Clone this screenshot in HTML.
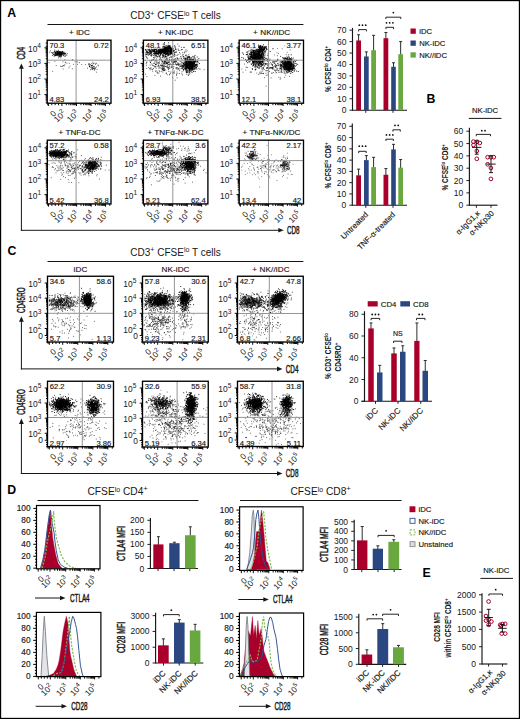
<!DOCTYPE html>
<html><head><meta charset="utf-8"><style>
html,body{margin:0;padding:0;background:#fff;}
svg{display:block;font-family:"Liberation Sans", sans-serif;}
text.t{stroke:#161616;stroke-width:0.15px;}
</style></head><body>
<svg width="520" height="719" viewBox="0 0 520 719">
<rect width="520" height="719" fill="#fff"/>
<rect x="0.55" y="0.55" width="518.9" height="717.9" fill="none" stroke="#000" stroke-width="1.25"/>
<path d="M58.2 53.4h.9M59.5 52.5h.9M57.3 53.8h.9M57.1 53.0h.9M60.5 54.1h.9M57.0 53.0h.9M56.2 53.0h.9M59.6 53.2h.9M61.2 53.1h.9M57.0 53.3h.9M58.2 52.6h.9M58.2 53.5h.9M54.9 55.7h.9M62.8 53.1h.9M64.7 53.4h.9M61.6 51.9h.9M59.0 53.8h.9M53.8 54.5h.9M54.8 52.5h.9M58.8 54.6h.9M57.3 51.3h.9M59.2 52.6h.9M59.8 52.8h.9M59.6 52.0h.9M59.9 54.6h.9M52.0 53.0h.9M60.0 53.5h.9M63.4 53.1h.9M59.6 53.9h.9M57.0 53.1h.9M58.1 53.6h.9M58.2 52.9h.9M64.3 53.2h.9M59.6 51.5h.9M55.9 54.5h.9M58.7 52.0h.9M61.9 53.9h.9M56.9 54.6h.9M52.9 54.6h.9M59.8 55.1h.9M57.4 52.0h.9M59.9 53.6h.9M60.3 53.1h.9M59.6 54.1h.9M55.4 53.0h.9M58.7 53.3h.9M56.8 53.3h.9M54.9 52.1h.9M61.0 54.0h.9M54.7 54.4h.9M61.1 53.0h.9M58.7 55.6h.9M60.8 53.5h.9M57.2 53.7h.9M57.2 52.1h.9M58.5 54.4h.9M57.7 52.4h.9M61.1 53.8h.9M59.7 54.7h.9M58.9 53.9h.9M60.3 52.7h.9M57.7 54.6h.9M57.1 51.8h.9M59.1 52.5h.9M56.3 53.8h.9M55.1 53.1h.9M57.8 53.0h.9M55.7 54.6h.9M62.7 53.7h.9M57.5 52.3h.9M56.6 53.6h.9M58.3 52.0h.9M58.4 53.6h.9M55.2 55.3h.9M56.9 51.9h.9M59.1 53.2h.9M57.2 52.9h.9M57.2 53.7h.9M55.2 55.2h.9M57.7 51.2h.9M60.5 53.7h.9M58.7 53.0h.9M58.9 53.7h.9M59.3 52.6h.9M58.1 53.4h.9M60.9 54.2h.9M59.1 52.3h.9M58.2 53.6h.9M59.7 53.7h.9M59.4 54.7h.9M54.0 55.7h.9M57.4 55.4h.9M61.2 54.0h.9M54.9 52.8h.9M55.8 54.0h.9M58.8 52.7h.9M55.1 53.0h.9M58.8 52.7h.9M58.0 53.4h.9M55.8 51.4h.9M55.6 54.9h.9M58.2 53.1h.9M57.7 53.4h.9M56.7 55.1h.9M60.9 54.3h.9M59.7 53.5h.9M59.6 53.2h.9M61.3 55.6h.9M57.8 54.0h.9M61.0 54.0h.9M60.2 53.6h.9M59.2 55.1h.9M60.3 54.5h.9M58.9 56.8h.9M64.4 53.2h.9M61.2 52.5h.9M61.9 52.6h.9M60.8 54.8h.9M58.8 53.1h.9M60.0 55.1h.9M58.9 51.9h.9M60.0 53.9h.9M59.2 56.4h.9M58.9 54.3h.9M57.1 51.8h.9M55.0 52.7h.9M62.3 51.5h.9M59.0 53.5h.9M63.4 52.1h.9M56.7 54.1h.9M57.4 52.2h.9M60.0 53.8h.9M57.4 54.6h.9M60.5 54.9h.9M61.0 53.1h.9M55.2 52.6h.9M59.6 51.8h.9M54.4 53.1h.9M64.6 53.7h.9M61.7 52.3h.9" stroke="#000" stroke-width=".9" stroke-opacity="1.00"/>
<path d="M61.1 56.7h.9M64.0 54.4h.9M60.4 56.5h.9M59.0 54.9h.9M60.0 52.5h.9M58.2 53.9h.9M50.9 52.6h.9M60.0 52.3h.9M63.7 56.0h.9M57.6 55.5h.9M60.2 55.9h.9M56.9 52.2h.9M54.1 51.4h.9M61.4 51.6h.9M64.9 53.9h.9M51.9 53.3h.9M66.7 53.4h.9M61.5 53.4h.9M52.1 55.5h.9M58.0 50.3h.9M58.6 55.7h.9M54.7 55.0h.9M63.2 55.1h.9M53.9 51.4h.9M59.9 56.8h.9M59.0 52.8h.9M61.9 54.1h.9M54.2 50.0h.9M55.7 55.1h.9M56.0 52.7h.9M62.6 54.4h.9M54.5 52.7h.9M56.1 55.6h.9M64.6 56.6h.9M53.6 56.2h.9M49.2 52.2h.9M59.8 53.0h.9M58.3 54.1h.9M59.1 52.6h.9M62.5 53.8h.9M53.2 53.9h.9M62.1 51.6h.9M62.2 52.8h.9M61.6 54.7h.9M66.5 54.9h.9M55.7 50.9h.9M59.5 53.0h.9M65.7 55.2h.9M63.5 54.0h.9M52.8 52.5h.9M49.9 50.8h.9M63.3 53.7h.9M58.6 54.4h.9M62.9 55.5h.9M56.7 52.9h.9M65.2 55.8h.9M56.2 51.9h.9M61.1 55.0h.9M57.9 57.9h.9M60.4 53.7h.9" stroke="#000" stroke-width=".9" stroke-opacity="0.75"/>
<path d="M92.3 62.2h.9M90.9 65.6h.9M93.3 63.4h.9M93.2 67.0h.9M93.9 70.0h.9M96.0 63.3h.9M89.2 66.4h.9M92.1 67.8h.9M88.2 64.6h.9M95.0 64.3h.9M95.9 72.2h.9M93.6 68.5h.9M95.0 67.8h.9M93.7 66.5h.9M91.8 69.5h.9M91.5 67.6h.9M93.3 66.2h.9M92.1 65.8h.9M89.0 66.1h.9M87.0 68.2h.9M96.5 69.4h.9M91.3 68.5h.9M93.0 68.5h.9M97.8 65.9h.9M90.9 67.0h.9M91.1 65.7h.9M88.9 66.5h.9M90.2 65.0h.9M92.9 63.7h.9M92.4 68.1h.9M93.9 67.8h.9M90.1 69.7h.9M88.7 65.0h.9M92.7 68.8h.9M89.3 64.0h.9M89.0 66.5h.9M89.5 64.5h.9M94.9 68.6h.9M94.2 68.7h.9M91.3 63.4h.9M89.8 67.4h.9M92.1 67.9h.9M91.7 69.6h.9M94.3 69.7h.9M94.7 63.2h.9M97.6 65.0h.9M88.4 63.5h.9M91.1 65.6h.9M96.2 66.9h.9M91.7 66.0h.9" stroke="#000" stroke-width=".9" stroke-opacity="0.70"/>
<path d="M92.1 65.1h.9M74.6 61.9h.9M72.0 60.3h.9M68.9 63.3h.9M62.5 61.8h.9M66.5 63.2h.9M65.2 62.2h.9M64.4 64.7h.9M63.7 65.9h.9M62.7 69.0h.9M60.3 58.0h.9M48.6 62.6h.9M63.3 65.5h.9M64.3 59.7h.9M77.1 62.0h.9M77.1 64.4h.9M79.0 62.6h.9M72.2 59.7h.9M64.9 62.7h.9M69.4 66.2h.9M60.8 66.5h.9M54.5 61.4h.9M68.5 67.9h.9M73.0 64.4h.9M52.2 71.3h.9M71.9 68.7h.9M81.3 64.5h.9M60.1 66.1h.9M61.9 66.5h.9M62.6 65.7h.9M62.6 52.7h.9M76.0 61.4h.9M85.1 64.6h.9M55.8 65.5h.9M57.8 56.4h.9" stroke="#000" stroke-width=".9" stroke-opacity="0.65"/>
<path d="M76.1 40.2L76.1 103.2" stroke="#959595" stroke-width="1.0" fill="none"/>
<path d="M47.2 60.2L111 60.2" stroke="#959595" stroke-width="1.0" fill="none"/>
<rect x="49" y="42.17" width="17.11" height="6.46" fill="#fff"/>
<text x="49.5" y="48.1" font-size="7.6" text-anchor="start" font-weight="normal" fill="#161616" class="t">70.3</text>
<rect x="92.19" y="42.17" width="17.11" height="6.46" fill="#fff"/>
<text x="108.8" y="48.1" font-size="7.6" text-anchor="end" font-weight="normal" fill="#161616" class="t">0.72</text>
<rect x="49" y="96.37" width="17.11" height="6.46" fill="#fff"/>
<text x="49.5" y="102.3" font-size="7.6" text-anchor="start" font-weight="normal" fill="#161616" class="t">4.83</text>
<rect x="92.19" y="96.37" width="17.11" height="6.46" fill="#fff"/>
<text x="108.8" y="102.3" font-size="7.6" text-anchor="end" font-weight="normal" fill="#161616" class="t">24.2</text>
<rect x="47.2" y="40.2" width="63.8" height="63" fill="none" stroke="#000" stroke-width="1.35"/>
<text x="41" y="51.8" font-size="8.4" text-anchor="end" font-weight="normal" fill="#161616">10<tspan dy="-3.53" font-size="6.55">4</tspan></text>
<text x="41" y="67.4" font-size="8.4" text-anchor="end" font-weight="normal" fill="#161616">10<tspan dy="-3.53" font-size="6.55">3</tspan></text>
<text x="41" y="83" font-size="8.4" text-anchor="end" font-weight="normal" fill="#161616">10<tspan dy="-3.53" font-size="6.55">2</tspan></text>
<text x="41" y="98.6" font-size="8.4" text-anchor="end" font-weight="normal" fill="#161616">10<tspan dy="-3.53" font-size="6.55">1</tspan></text>
<path d="M47.2 47.8h-2.8M47.2 58.7h-1.5M47.2 55.96h-1.5M47.2 54.01h-1.5M47.2 52.5h-1.5M47.2 51.26h-1.5M47.2 50.22h-1.5M47.2 49.31h-1.5M47.2 48.51h-1.5M47.2 63.4h-2.8M47.2 74.3h-1.5M47.2 71.56h-1.5M47.2 69.61h-1.5M47.2 68.1h-1.5M47.2 66.86h-1.5M47.2 65.82h-1.5M47.2 64.91h-1.5M47.2 64.11h-1.5M47.2 79h-2.8M47.2 89.9h-1.5M47.2 87.16h-1.5M47.2 85.21h-1.5M47.2 83.7h-1.5M47.2 82.46h-1.5M47.2 81.42h-1.5M47.2 80.51h-1.5M47.2 79.71h-1.5M47.2 94.6h-2.8M47.2 102.76h-1.5M47.2 100.81h-1.5M47.2 99.3h-1.5M47.2 98.06h-1.5M47.2 97.02h-1.5M47.2 96.11h-1.5M47.2 95.31h-1.5M47.2 43.1h-1.5M47.2 46.29h-1.5" stroke="#000" stroke-width=".95"/>
<path d="M48.4 103.2v2.8M61.9 103.2v2.8M76.5 103.2v2.8M91.1 103.2v2.8M105.4 103.2v2.8M66.3 103.2v2M68.87 103.2v2M70.69 103.2v2M72.1 103.2v2M73.26 103.2v2M74.24 103.2v2M75.09 103.2v2M75.83 103.2v2M80.9 103.2v2M83.47 103.2v2M85.29 103.2v2M86.7 103.2v2M87.86 103.2v2M88.84 103.2v2M89.69 103.2v2M90.43 103.2v2M95.4 103.2v2M97.92 103.2v2M99.71 103.2v2M101.1 103.2v2M102.23 103.2v2M103.18 103.2v2M104.01 103.2v2M104.75 103.2v2M51.78 103.2v2M55.15 103.2v2M58.53 103.2v2M47.8 103.2v2M109.7 103.2v2" stroke="#000" stroke-width=".95"/>
<text transform="translate(56.8,114) rotate(-45)" font-size="8.4" text-anchor="end" font-weight="normal" fill="#161616">0</text>
<text transform="translate(66.4,113.8) rotate(-45)" font-size="8.4" text-anchor="end" font-weight="normal" fill="#161616">10<tspan dy="-3.53" font-size="6.22">2</tspan></text>
<text transform="translate(79.4,113.8) rotate(-45)" font-size="8.4" text-anchor="end" font-weight="normal" fill="#161616">10<tspan dy="-3.53" font-size="6.22">3</tspan></text>
<text transform="translate(94.6,113.8) rotate(-45)" font-size="8.4" text-anchor="end" font-weight="normal" fill="#161616">10<tspan dy="-3.53" font-size="6.22">4</tspan></text>
<text transform="translate(109.1,113.8) rotate(-45)" font-size="8.4" text-anchor="end" font-weight="normal" fill="#161616">10<tspan dy="-3.53" font-size="6.22">5</tspan></text>
<path d="M148.5 51.2h.9M159.8 52.0h.9M160.6 52.6h.9M168.8 50.5h.9M165.8 51.8h.9M148.3 52.9h.9M157.3 53.4h.9M171.8 53.3h.9M154.5 51.1h.9M157.1 53.4h.9M159.7 49.5h.9M173.7 50.7h.9M154.0 49.0h.9M155.1 49.6h.9M172.2 54.1h.9M156.7 48.6h.9M145.7 53.0h.9M158.4 53.6h.9M151.0 55.2h.9M161.9 51.2h.9M166.3 51.8h.9M154.0 49.3h.9M159.5 45.7h.9M151.3 48.7h.9M165.4 53.8h.9M153.9 50.5h.9M171.4 52.0h.9M171.0 51.4h.9M163.5 55.7h.9M154.6 53.3h.9M164.2 47.9h.9M175.0 49.6h.9M164.5 51.5h.9M152.3 50.7h.9M166.7 48.6h.9M158.8 46.2h.9M151.9 46.0h.9M153.2 51.7h.9M152.0 50.2h.9M161.9 52.2h.9M168.2 53.9h.9M153.5 53.6h.9M166.0 51.2h.9M153.2 49.8h.9M150.9 53.0h.9M153.8 51.9h.9M150.8 49.3h.9M176.6 55.3h.9M165.2 51.4h.9M149.5 54.7h.9M146.4 51.4h.9M159.4 47.8h.9M157.0 54.0h.9M164.9 47.3h.9M168.8 48.6h.9M156.9 51.1h.9M148.6 54.1h.9M158.1 52.3h.9M145.2 49.4h.9M172.5 51.4h.9M155.8 51.7h.9M149.9 47.3h.9M146.5 51.2h.9M164.6 52.6h.9M150.3 55.2h.9M148.3 50.0h.9M162.2 54.7h.9M164.1 53.2h.9M171.7 48.6h.9M163.5 51.0h.9M166.4 50.1h.9M167.8 55.5h.9M181.0 49.7h.9M154.0 52.7h.9M170.7 49.9h.9M171.0 49.9h.9M172.5 51.2h.9M166.7 47.0h.9M145.6 50.7h.9M166.2 51.6h.9M157.8 51.8h.9M155.3 53.1h.9M163.4 52.6h.9M162.0 50.3h.9M149.3 45.0h.9M172.2 51.7h.9M161.8 52.6h.9M150.8 56.1h.9M160.8 50.8h.9M158.9 50.6h.9M161.2 50.8h.9M149.4 50.6h.9M149.9 47.6h.9M162.3 50.7h.9M163.6 52.0h.9M166.9 48.7h.9M151.1 49.0h.9M152.8 49.7h.9M149.1 47.9h.9M166.9 48.8h.9M156.4 50.7h.9M153.3 53.6h.9M155.9 52.9h.9M146.0 54.5h.9M155.7 56.6h.9M167.4 51.6h.9M155.3 47.9h.9M162.4 51.6h.9M168.5 52.7h.9M165.5 52.7h.9M157.2 52.5h.9M151.2 53.2h.9M150.7 50.5h.9M165.3 52.3h.9M157.7 51.3h.9M156.2 51.4h.9M161.9 50.4h.9M154.1 51.3h.9M171.7 49.5h.9M158.9 51.3h.9M159.0 50.8h.9M178.7 46.1h.9M155.5 48.6h.9M157.6 50.6h.9M160.5 50.8h.9M158.5 53.2h.9M154.6 49.5h.9M150.0 53.2h.9M158.4 47.3h.9M162.1 50.0h.9M161.8 51.8h.9M169.2 53.9h.9M171.1 53.4h.9M171.7 51.5h.9M158.2 54.7h.9M158.8 48.3h.9M159.6 51.7h.9M151.1 51.9h.9M159.2 52.6h.9M166.2 50.4h.9M150.7 52.2h.9M158.6 55.9h.9M160.2 49.9h.9M154.8 46.6h.9M172.4 53.8h.9M162.1 50.1h.9M156.8 53.2h.9M168.7 54.5h.9M152.9 47.8h.9M153.6 50.2h.9M163.9 52.4h.9M158.4 51.1h.9M150.2 51.1h.9M156.1 53.4h.9M153.4 50.8h.9M167.5 55.1h.9M158.2 49.4h.9M158.1 54.4h.9M172.4 49.9h.9M146.0 52.6h.9M149.0 54.2h.9M155.9 51.4h.9M149.6 47.5h.9M152.7 51.6h.9M156.1 52.9h.9M165.9 48.5h.9M155.8 53.3h.9M164.8 53.2h.9M173.0 50.9h.9M161.3 51.2h.9M175.7 49.3h.9M159.8 50.4h.9M174.9 47.0h.9M157.3 48.9h.9M147.8 55.3h.9M151.5 50.4h.9M159.5 51.7h.9M155.8 49.7h.9M163.2 52.9h.9M153.3 51.7h.9M164.4 48.6h.9M150.6 52.7h.9M171.1 52.6h.9M167.3 51.6h.9M149.4 52.4h.9M173.9 52.6h.9M170.4 52.3h.9M154.4 53.6h.9M161.2 50.2h.9M150.9 51.4h.9M149.3 49.7h.9M156.0 50.6h.9M149.1 49.1h.9M179.6 53.9h.9M167.5 48.4h.9M160.4 49.0h.9M162.5 50.9h.9M157.0 45.5h.9M170.0 52.7h.9M162.9 51.3h.9M157.5 53.0h.9M154.8 47.7h.9M170.2 50.4h.9M173.8 52.9h.9M155.4 54.3h.9M153.5 45.5h.9M153.2 51.1h.9M146.6 51.3h.9M158.1 50.1h.9M155.3 51.3h.9M159.9 51.5h.9M152.6 51.2h.9M156.6 53.7h.9M157.9 53.2h.9M154.2 53.9h.9M163.9 51.1h.9M159.2 52.1h.9M171.6 49.6h.9M160.5 50.4h.9M145.5 52.7h.9M164.7 56.0h.9M147.6 49.8h.9M149.7 50.3h.9M163.4 51.6h.9M154.3 51.6h.9M153.2 50.7h.9M154.3 49.4h.9M154.2 50.1h.9M167.4 53.8h.9M160.8 50.2h.9M175.7 52.5h.9M158.3 47.7h.9M160.4 49.3h.9M173.6 50.3h.9M158.8 46.3h.9M167.7 50.0h.9M169.3 52.5h.9M156.3 51.5h.9M151.4 55.2h.9M158.2 50.1h.9M157.4 50.8h.9M163.1 50.2h.9M160.8 51.4h.9M157.8 50.5h.9M168.8 48.4h.9M146.5 51.3h.9M159.6 53.6h.9M163.4 53.3h.9M166.3 53.9h.9M149.6 51.6h.9M145.4 56.0h.9M181.7 49.5h.9M155.6 52.2h.9M167.3 55.2h.9M155.0 52.5h.9M164.1 51.1h.9M149.4 50.7h.9M163.6 53.1h.9M160.7 48.8h.9M159.0 51.2h.9M165.5 53.0h.9M152.2 49.7h.9M155.3 55.5h.9M165.8 49.0h.9M168.0 54.2h.9M146.6 49.3h.9M157.0 48.7h.9M145.2 54.3h.9M177.7 49.1h.9M156.0 52.9h.9M162.8 54.6h.9M164.5 51.1h.9M147.3 52.4h.9M148.2 52.9h.9M149.8 53.6h.9M173.2 51.0h.9M167.2 51.0h.9M161.6 52.7h.9M159.8 55.2h.9M159.9 54.3h.9M166.4 50.5h.9M159.5 56.1h.9M161.4 51.4h.9M168.7 46.2h.9M155.6 53.5h.9M160.3 52.9h.9M159.2 49.1h.9M154.9 53.5h.9M183.5 47.4h.9M155.0 53.1h.9M156.1 55.3h.9M162.9 50.7h.9M164.4 52.7h.9M166.4 47.8h.9M166.9 50.8h.9M160.7 51.7h.9M161.0 49.5h.9M161.5 53.1h.9M174.2 54.4h.9M148.3 52.6h.9M161.4 54.0h.9M157.5 56.7h.9M167.5 48.9h.9M165.3 52.6h.9M169.7 48.9h.9M154.4 53.5h.9M158.2 51.6h.9M163.5 51.1h.9M159.8 50.2h.9M147.2 52.3h.9M160.9 53.1h.9M158.5 51.6h.9M146.4 54.6h.9M159.8 53.8h.9M149.5 53.1h.9M158.6 52.2h.9M145.9 56.9h.9M149.4 50.3h.9M154.1 54.9h.9M165.4 53.9h.9M154.6 51.5h.9M149.8 51.5h.9M167.8 51.7h.9M159.2 52.5h.9M153.6 48.9h.9M147.1 53.7h.9M164.1 50.0h.9M157.0 53.9h.9M149.5 51.7h.9M164.4 49.9h.9M154.8 55.2h.9M155.9 49.8h.9M151.6 52.1h.9M151.9 51.3h.9M164.4 52.2h.9M164.5 52.5h.9M154.3 53.2h.9M171.8 49.9h.9M156.6 56.3h.9M156.4 51.5h.9M154.3 51.7h.9M154.5 57.0h.9M150.4 52.2h.9M158.9 53.1h.9M159.6 48.6h.9M164.6 49.6h.9M171.3 48.1h.9M169.9 53.0h.9M165.5 52.4h.9M166.9 53.7h.9M160.7 52.2h.9M156.8 48.2h.9M169.2 47.5h.9M154.1 47.5h.9M155.6 53.9h.9M149.3 50.9h.9" stroke="#000" stroke-width=".9" stroke-opacity="0.90"/>
<path d="M162.1 50.8h.9M165.0 49.9h.9M169.6 53.9h.9M167.6 48.6h.9M167.9 51.3h.9M168.7 47.9h.9M170.1 49.6h.9M170.4 53.2h.9M169.9 53.0h.9M171.8 49.9h.9M167.4 47.3h.9M168.3 50.8h.9M169.9 46.2h.9M163.9 49.2h.9M159.6 50.7h.9M171.9 53.8h.9M170.9 52.1h.9M172.8 50.6h.9M164.2 53.3h.9M171.0 51.1h.9M169.0 50.0h.9M167.1 48.6h.9M171.1 50.9h.9M165.3 54.4h.9M167.7 50.6h.9M164.3 53.1h.9M166.1 51.5h.9M168.6 51.7h.9M170.0 51.3h.9M170.2 50.6h.9M165.6 50.7h.9M170.6 50.5h.9M165.5 48.3h.9M164.7 49.5h.9M159.7 51.1h.9M167.5 52.9h.9M168.3 48.7h.9M166.3 48.9h.9M165.1 54.8h.9M168.0 48.3h.9M163.3 51.3h.9M167.1 52.3h.9M168.4 46.9h.9M168.5 47.0h.9M164.0 46.8h.9M167.0 53.2h.9M164.6 51.7h.9M162.8 55.8h.9M174.9 48.3h.9M163.3 49.4h.9M164.1 51.8h.9M172.8 48.7h.9M167.0 46.7h.9M160.3 50.4h.9M170.3 47.2h.9M170.5 48.8h.9M168.5 46.8h.9M159.8 48.4h.9M159.6 51.8h.9M165.5 57.6h.9M165.7 48.2h.9M164.8 47.9h.9M167.5 50.9h.9M158.2 52.8h.9M166.3 53.5h.9M164.0 50.6h.9M165.0 47.8h.9M172.5 51.5h.9M166.1 49.1h.9M163.1 50.7h.9M164.3 48.0h.9M165.7 49.2h.9M170.2 47.8h.9M160.8 53.1h.9M165.8 47.6h.9M170.2 52.1h.9M159.7 52.6h.9M169.9 54.3h.9M167.3 48.4h.9M165.8 53.9h.9M165.1 53.2h.9M162.6 49.4h.9M168.0 51.6h.9M168.3 45.3h.9M170.3 52.6h.9M169.5 47.4h.9M170.5 49.1h.9M162.5 50.6h.9M161.5 47.9h.9M168.0 49.9h.9M162.6 55.3h.9M164.8 47.8h.9M164.8 49.6h.9M166.6 50.6h.9M167.1 48.8h.9M163.8 51.8h.9M165.6 49.0h.9M168.1 50.1h.9M163.0 48.9h.9M168.6 51.1h.9M165.5 54.5h.9M165.8 49.5h.9M166.8 48.9h.9M163.0 51.7h.9M167.6 50.2h.9M165.7 45.7h.9M168.2 42.8h.9M168.3 48.5h.9M163.2 46.6h.9M166.8 54.7h.9M169.9 48.0h.9M166.6 47.8h.9M167.8 47.9h.9M164.5 53.4h.9M163.0 48.0h.9M168.9 45.9h.9M158.8 49.1h.9M163.2 51.6h.9M169.0 49.7h.9M170.6 54.1h.9M164.9 47.7h.9M167.9 46.1h.9M161.9 51.0h.9M170.1 48.9h.9M169.0 51.8h.9M163.1 56.7h.9M162.7 51.1h.9M166.6 45.3h.9M170.6 52.0h.9M170.2 48.5h.9M164.6 56.4h.9M169.7 51.3h.9M167.4 53.4h.9M160.1 53.4h.9M169.5 51.4h.9M165.6 51.3h.9M168.8 46.6h.9M163.4 52.8h.9M164.8 50.3h.9M165.6 50.6h.9M171.5 53.2h.9M166.6 47.7h.9M173.2 50.6h.9M168.4 50.9h.9M168.7 47.0h.9M160.3 51.8h.9M170.0 48.2h.9M167.2 49.5h.9M160.7 49.5h.9M168.3 47.4h.9M164.0 48.3h.9M165.4 46.3h.9M170.3 49.8h.9M168.2 54.6h.9M164.2 50.4h.9M170.0 49.2h.9M167.2 51.6h.9M165.8 56.4h.9M166.4 49.3h.9M165.0 47.6h.9M160.7 51.8h.9M165.2 52.2h.9M171.6 47.9h.9M168.8 46.0h.9M171.7 48.8h.9M165.9 47.7h.9M163.7 43.7h.9M161.0 48.1h.9M167.8 52.8h.9M160.4 49.2h.9M163.4 49.8h.9M170.0 49.7h.9M170.9 53.6h.9M160.3 55.1h.9M171.8 50.9h.9M163.6 46.0h.9M170.0 50.8h.9M163.0 49.9h.9M170.1 52.0h.9M159.2 56.1h.9M166.3 52.8h.9M165.0 48.7h.9M166.9 51.0h.9M169.5 46.0h.9M168.1 51.5h.9M165.4 49.2h.9M168.1 50.7h.9M166.4 47.9h.9M166.0 48.3h.9M162.5 46.9h.9M164.6 48.7h.9M163.4 50.5h.9M164.6 52.3h.9M167.9 49.0h.9M161.2 53.0h.9M171.3 52.3h.9M170.0 47.8h.9M169.4 48.6h.9M162.2 50.1h.9M171.2 48.7h.9M162.5 49.9h.9M164.1 42.7h.9M162.1 49.9h.9M165.0 50.0h.9M168.5 46.0h.9M162.2 46.9h.9M167.3 47.2h.9M163.7 49.1h.9M161.2 48.6h.9M163.9 49.3h.9M165.8 50.8h.9M162.0 51.8h.9M162.8 53.3h.9M163.1 52.1h.9M167.3 53.3h.9M166.5 51.9h.9M161.5 51.7h.9M163.5 49.8h.9M161.1 48.1h.9M166.4 51.4h.9M168.2 48.1h.9M162.2 48.8h.9M163.0 49.8h.9M169.2 53.5h.9M162.5 44.1h.9M159.2 50.1h.9M155.6 49.8h.9M167.5 52.1h.9M166.5 47.1h.9M159.3 47.7h.9M166.3 51.0h.9M170.8 50.4h.9M168.4 49.3h.9M162.3 49.9h.9M159.5 50.2h.9M169.5 47.6h.9M158.5 51.0h.9M163.2 50.8h.9M160.9 50.6h.9M166.6 54.6h.9M165.1 50.7h.9M163.7 44.5h.9M174.3 45.7h.9M175.0 52.2h.9M172.0 46.6h.9M171.2 50.2h.9M168.4 55.7h.9M165.8 50.9h.9M161.4 47.8h.9M162.5 49.4h.9M171.1 51.9h.9M170.6 50.2h.9M169.2 51.8h.9M163.7 49.0h.9M166.1 47.8h.9M168.3 47.9h.9M164.5 47.2h.9M165.3 51.1h.9M165.1 49.4h.9" stroke="#000" stroke-width=".9" stroke-opacity="1.00"/>
<path d="M186.0 65.7h.9M188.8 67.6h.9M182.3 65.6h.9M190.3 62.1h.9M185.4 62.2h.9M188.7 60.2h.9M191.3 65.8h.9M190.2 62.3h.9M188.4 64.5h.9M187.0 63.6h.9M190.1 65.2h.9M189.8 69.2h.9M189.5 64.1h.9M186.3 64.9h.9M185.2 61.6h.9M191.8 66.3h.9M193.0 61.2h.9M191.7 68.8h.9M188.2 66.5h.9M185.9 67.4h.9M185.5 59.0h.9M187.9 75.3h.9M186.1 68.7h.9M186.5 67.3h.9M187.3 59.7h.9M190.2 65.3h.9M187.7 67.5h.9M181.6 67.8h.9M188.7 67.4h.9M186.6 66.3h.9M185.9 67.3h.9M194.0 68.8h.9M185.6 60.7h.9M187.5 65.8h.9M189.2 57.9h.9M193.9 61.5h.9M191.6 67.1h.9M189.1 64.1h.9M188.8 68.4h.9M189.7 64.2h.9M188.8 69.9h.9M192.5 65.1h.9M189.2 61.1h.9M189.4 62.4h.9M189.0 63.0h.9M185.2 60.5h.9M192.1 66.1h.9M186.0 71.3h.9M192.8 66.5h.9M191.0 65.0h.9M190.8 64.6h.9M185.8 64.0h.9M188.3 62.4h.9M182.6 66.2h.9M193.4 71.3h.9M191.3 66.2h.9M190.2 69.3h.9M188.0 68.7h.9M192.3 66.1h.9M191.3 65.1h.9M187.1 61.3h.9M188.7 65.2h.9M189.6 63.4h.9M188.4 61.6h.9M190.6 63.9h.9M188.9 65.8h.9M194.0 63.1h.9M188.4 66.8h.9M192.0 62.9h.9M192.3 67.8h.9M185.3 69.9h.9M195.0 67.2h.9M190.4 64.2h.9M187.1 59.9h.9M189.8 58.0h.9M184.6 66.0h.9M186.3 63.0h.9M192.4 68.3h.9M186.3 64.5h.9M188.6 57.8h.9M186.1 64.8h.9M183.8 64.7h.9M187.4 71.2h.9M186.6 60.4h.9M188.4 64.3h.9M185.3 59.4h.9M186.2 59.1h.9M191.9 68.1h.9M187.8 56.7h.9M191.6 66.2h.9M189.7 67.7h.9M187.3 62.1h.9M194.2 62.6h.9M186.9 57.8h.9M190.0 64.4h.9M185.0 67.3h.9M188.3 57.5h.9M190.6 68.9h.9M191.3 63.7h.9M193.0 66.0h.9M189.9 65.8h.9M185.6 68.1h.9M185.3 59.6h.9M188.9 67.8h.9M190.5 64.3h.9M187.9 63.9h.9M189.6 63.3h.9M191.0 62.5h.9M194.0 62.9h.9M189.8 62.7h.9M187.1 60.5h.9M185.9 67.6h.9M183.0 63.5h.9M196.0 64.9h.9M187.9 65.0h.9M183.2 58.1h.9M189.9 66.8h.9M190.1 66.4h.9M187.2 64.8h.9M195.1 60.2h.9M192.5 61.9h.9M184.6 66.7h.9M185.8 67.5h.9M193.6 66.7h.9M187.2 64.1h.9M191.1 68.4h.9M198.4 58.5h.9M188.7 62.0h.9M185.7 72.0h.9M189.0 69.7h.9M189.0 62.2h.9M191.9 63.8h.9M195.0 64.7h.9M185.0 64.2h.9M194.9 60.7h.9M192.5 65.8h.9M193.2 65.2h.9M188.5 61.7h.9M187.6 64.2h.9M190.4 68.0h.9M189.3 70.5h.9M190.1 62.0h.9M191.2 62.2h.9M192.2 60.3h.9M183.5 65.0h.9M190.1 62.6h.9M192.1 63.1h.9M199.5 69.1h.9M194.7 64.7h.9M190.0 65.1h.9M190.6 59.7h.9M194.3 57.6h.9M185.0 60.4h.9M187.1 67.7h.9M187.3 63.0h.9M185.4 59.0h.9M182.5 67.4h.9M189.7 62.3h.9M192.3 66.3h.9M185.7 62.4h.9M192.3 69.5h.9M188.1 68.1h.9M193.7 68.6h.9M189.5 67.4h.9M192.0 63.1h.9M189.9 63.9h.9M184.5 64.9h.9M188.4 61.2h.9M191.6 68.9h.9M191.7 63.0h.9M185.2 67.9h.9M186.5 69.1h.9M187.7 66.0h.9M188.3 65.2h.9M192.8 66.8h.9M186.1 70.3h.9M192.5 66.1h.9M185.9 62.3h.9M186.2 61.9h.9M191.9 64.4h.9M188.1 64.9h.9M189.9 60.6h.9M191.2 64.6h.9M186.8 64.3h.9M182.5 68.9h.9M189.7 66.9h.9M187.2 66.6h.9M190.2 59.5h.9M188.9 71.7h.9M189.6 66.3h.9M191.7 69.0h.9M190.3 59.5h.9M191.4 68.0h.9M191.6 60.5h.9M189.7 63.0h.9M190.2 63.0h.9M193.4 65.8h.9M186.5 61.1h.9M187.3 65.2h.9M185.9 63.4h.9M192.2 65.0h.9M185.3 68.8h.9M199.0 63.4h.9M186.5 63.6h.9M193.4 60.1h.9M192.1 64.3h.9M194.2 64.9h.9M187.9 63.0h.9M191.2 64.1h.9M186.6 57.6h.9M190.3 62.7h.9M196.2 64.2h.9M195.8 64.8h.9M191.8 64.2h.9M190.1 67.5h.9M187.3 65.3h.9M194.9 61.2h.9M188.0 67.3h.9M191.1 66.8h.9M189.1 68.0h.9M189.1 63.8h.9M183.6 62.7h.9M189.8 69.9h.9M188.9 72.4h.9M186.2 65.0h.9M193.2 63.0h.9M187.8 66.5h.9M191.8 66.9h.9M196.4 66.1h.9M194.9 61.0h.9M186.3 65.4h.9M189.1 66.8h.9M188.8 67.9h.9M187.2 65.0h.9M185.4 64.4h.9M192.4 68.6h.9M194.4 61.7h.9M187.0 64.3h.9M189.0 62.5h.9M191.1 62.7h.9M191.6 70.7h.9M190.2 67.7h.9M188.4 61.7h.9M183.4 69.8h.9M196.8 57.0h.9M186.3 63.8h.9M186.5 63.1h.9M192.2 64.4h.9M192.3 59.5h.9M188.4 71.0h.9M187.3 59.2h.9M187.6 64.8h.9M180.8 66.0h.9M192.1 63.3h.9M189.0 64.3h.9M188.6 60.5h.9M187.4 66.8h.9M191.7 66.3h.9M186.2 66.6h.9M192.6 69.4h.9M191.7 65.1h.9M189.0 67.1h.9M192.8 57.0h.9M186.4 65.6h.9M192.8 60.1h.9M184.9 58.6h.9M193.7 67.1h.9M188.5 74.1h.9M196.2 67.9h.9M190.5 64.4h.9M192.6 62.2h.9M192.7 62.7h.9M192.5 64.6h.9M191.2 69.6h.9M192.2 64.6h.9M188.4 62.5h.9M186.1 68.5h.9M190.0 60.9h.9M194.1 62.8h.9M194.2 66.1h.9M192.0 65.6h.9M186.0 64.2h.9M188.1 61.7h.9M191.1 60.9h.9M185.5 62.3h.9M185.2 64.9h.9M191.5 65.1h.9M188.5 67.3h.9M191.4 70.0h.9M187.6 65.7h.9M188.3 63.2h.9M188.8 67.2h.9M187.7 61.3h.9M195.0 65.5h.9M190.7 67.5h.9M193.3 67.8h.9M187.0 64.1h.9M193.0 64.9h.9M193.7 69.7h.9M185.6 64.7h.9M186.4 62.6h.9M188.5 65.4h.9M190.8 60.8h.9M189.2 63.8h.9M186.3 65.5h.9M184.2 64.1h.9M189.3 70.7h.9M189.0 63.7h.9M192.6 61.2h.9M188.6 72.3h.9M193.9 66.3h.9M192.9 60.5h.9M192.9 62.9h.9M190.4 64.4h.9M190.5 63.0h.9M183.0 56.4h.9M182.7 65.1h.9M186.7 58.8h.9M193.5 65.1h.9M186.2 60.4h.9M191.5 64.2h.9M184.7 64.3h.9M183.2 69.6h.9M188.1 65.0h.9M185.9 60.5h.9M188.2 61.1h.9M182.8 66.4h.9M187.9 59.8h.9M190.2 63.5h.9M187.4 58.5h.9M188.6 56.6h.9M184.8 68.6h.9M190.1 59.2h.9M185.5 64.6h.9M191.7 63.8h.9M188.6 66.9h.9M193.2 59.5h.9M187.3 67.8h.9M190.7 60.1h.9M181.7 68.6h.9M188.0 64.7h.9M187.3 67.4h.9M192.4 69.0h.9M184.3 63.2h.9M191.5 63.7h.9M188.6 69.9h.9M189.1 59.7h.9M195.3 67.1h.9M189.6 66.4h.9M191.2 64.7h.9M191.8 64.2h.9M191.6 72.5h.9M188.3 56.3h.9M194.6 66.3h.9M186.9 66.1h.9M183.9 67.8h.9M181.6 66.7h.9M193.9 63.2h.9M190.9 66.3h.9M183.1 63.4h.9M195.1 65.0h.9M197.1 65.0h.9M188.0 64.0h.9M187.0 57.1h.9M188.8 69.5h.9M186.2 61.6h.9M187.2 68.8h.9M193.4 62.9h.9M191.7 69.0h.9M189.5 63.6h.9M192.1 62.0h.9M190.0 67.4h.9M195.5 68.3h.9M191.0 61.7h.9M192.0 64.8h.9M196.1 65.1h.9M189.6 62.8h.9M188.9 66.3h.9M185.5 63.5h.9M185.0 60.0h.9M191.3 62.4h.9M187.7 66.0h.9M186.5 63.3h.9M188.5 62.2h.9M186.3 68.9h.9M191.0 67.1h.9M184.7 63.2h.9M192.1 67.5h.9M186.1 66.0h.9M194.3 67.2h.9M188.7 62.5h.9M183.1 63.5h.9M189.5 64.5h.9M188.5 67.3h.9M193.2 61.0h.9M189.5 64.4h.9M189.4 63.1h.9M191.1 68.6h.9M187.4 63.3h.9M193.2 60.7h.9M191.4 64.6h.9M186.2 65.6h.9M188.2 66.0h.9M191.0 64.0h.9M190.1 65.2h.9M191.3 58.2h.9M188.5 67.0h.9M188.8 68.7h.9M187.4 63.2h.9M189.1 59.3h.9M197.0 61.4h.9M189.2 56.7h.9M190.1 61.6h.9M191.9 65.4h.9M194.3 63.3h.9M190.0 63.9h.9M190.1 62.2h.9M188.5 68.6h.9M192.3 60.2h.9M189.9 65.0h.9M185.0 66.9h.9M186.2 66.1h.9M192.8 62.5h.9M191.5 67.8h.9M187.2 66.7h.9M194.9 68.9h.9M186.5 56.1h.9M188.0 61.2h.9M193.8 62.7h.9M195.0 60.2h.9M187.1 65.2h.9M185.5 71.0h.9M186.4 66.7h.9M190.6 70.9h.9M196.5 65.1h.9M190.8 67.1h.9M188.9 68.6h.9M184.4 62.1h.9M184.3 65.6h.9M194.2 66.2h.9M188.3 64.3h.9M194.1 64.1h.9M187.1 65.3h.9M182.7 64.1h.9M189.0 63.6h.9M186.4 72.3h.9M193.3 68.1h.9M193.1 61.1h.9M188.9 64.3h.9M189.0 67.5h.9M189.2 70.1h.9M189.2 65.6h.9M192.9 66.2h.9M185.4 66.9h.9M187.0 70.7h.9M196.3 61.8h.9M192.7 63.8h.9M182.7 67.3h.9M193.2 71.5h.9M190.7 62.3h.9M193.8 65.1h.9M190.2 67.1h.9M186.8 67.4h.9M189.3 59.6h.9M191.6 59.3h.9M186.9 66.9h.9M186.4 67.9h.9M185.0 65.5h.9M192.3 63.3h.9M187.4 64.1h.9M185.3 63.0h.9M187.8 61.6h.9M191.6 67.5h.9M189.1 67.2h.9M194.4 62.5h.9M197.3 62.0h.9M189.1 67.9h.9M185.9 65.1h.9M188.2 65.7h.9M195.6 61.8h.9M186.5 63.3h.9M185.9 62.5h.9M185.4 68.9h.9M189.4 68.3h.9M192.1 60.1h.9M190.5 68.0h.9M187.5 64.7h.9M189.2 60.1h.9M187.4 67.4h.9M190.4 67.1h.9M185.6 63.1h.9M192.9 59.7h.9M188.9 60.4h.9M189.8 68.8h.9M194.3 61.3h.9M189.3 57.7h.9M190.9 62.7h.9M197.3 59.9h.9M185.6 62.5h.9M192.7 59.5h.9M192.7 62.7h.9M192.1 62.3h.9M185.7 66.4h.9M188.8 64.5h.9M190.4 71.7h.9M196.7 66.5h.9M193.0 63.3h.9M195.3 60.1h.9M185.0 69.0h.9M190.4 68.4h.9M190.9 67.7h.9M194.4 64.3h.9M188.8 66.4h.9M194.5 58.6h.9M190.6 64.9h.9M190.3 62.1h.9M190.9 68.8h.9M186.7 72.6h.9M191.4 67.7h.9M192.3 69.8h.9" stroke="#000" stroke-width=".9" stroke-opacity="1.00"/>
<path d="M155.0 64.3h.9M184.0 59.7h.9M146.3 57.8h.9M157.2 57.0h.9M163.7 63.5h.9M147.0 58.3h.9M170.8 50.2h.9M169.1 74.9h.9M171.1 64.8h.9M178.6 64.9h.9M173.6 73.5h.9M165.2 66.4h.9M168.0 67.5h.9M173.5 51.1h.9M154.2 62.0h.9M151.5 60.7h.9M181.9 55.1h.9M155.5 66.2h.9M162.4 64.7h.9M191.6 68.6h.9M162.5 65.2h.9M172.8 64.3h.9M154.7 67.0h.9M189.0 59.4h.9M155.8 68.2h.9M177.6 64.4h.9M153.9 66.7h.9M157.3 52.9h.9M161.7 68.2h.9M176.7 67.5h.9M178.9 73.5h.9M153.6 57.2h.9M183.6 66.5h.9M164.8 60.8h.9M166.3 63.7h.9M159.4 58.0h.9M167.7 62.7h.9M158.2 62.5h.9M174.7 80.2h.9M149.9 62.7h.9M177.7 69.5h.9M167.6 60.8h.9M179.3 69.0h.9M164.1 60.9h.9M158.3 73.2h.9M175.8 68.1h.9M162.4 70.7h.9M168.4 60.9h.9M146.3 68.4h.9M155.8 54.9h.9M179.5 58.6h.9M168.2 68.7h.9M165.8 73.5h.9M169.5 68.0h.9M182.2 65.8h.9M174.9 58.7h.9M166.0 62.4h.9M163.9 70.2h.9M180.5 64.4h.9M172.4 61.7h.9M174.2 56.4h.9M171.0 67.4h.9M161.8 57.8h.9M156.8 72.2h.9M162.2 69.0h.9M175.5 59.9h.9M172.0 54.5h.9M160.2 57.8h.9M175.5 61.5h.9M195.3 61.2h.9M169.5 64.3h.9M197.5 64.0h.9M147.5 52.6h.9M176.2 67.9h.9M163.8 66.0h.9M181.4 73.8h.9M156.7 63.6h.9M153.0 68.6h.9M166.1 58.7h.9M179.2 66.9h.9M167.4 67.3h.9M166.3 63.1h.9M189.5 73.9h.9M182.5 63.2h.9M160.2 65.2h.9M158.0 53.1h.9M152.5 59.6h.9M195.8 64.8h.9M166.4 63.5h.9M159.2 71.7h.9M176.5 73.5h.9M155.9 58.8h.9M192.2 56.4h.9M167.2 66.7h.9M162.8 55.4h.9M168.0 69.6h.9M174.7 61.3h.9M195.1 71.5h.9M178.9 64.3h.9M184.1 64.8h.9M166.9 60.3h.9M180.7 68.7h.9M173.8 71.0h.9M160.8 65.9h.9M174.1 60.1h.9M166.6 63.4h.9M175.7 61.5h.9M148.2 49.4h.9M173.6 72.3h.9M196.5 69.3h.9M159.2 56.7h.9M182.4 65.4h.9M161.8 61.6h.9M170.5 56.9h.9M176.2 74.7h.9M164.0 60.7h.9M158.7 70.6h.9M161.2 59.5h.9M167.7 62.3h.9M170.8 66.4h.9M162.0 55.9h.9M165.0 56.5h.9M162.0 69.6h.9M163.5 65.4h.9M172.6 61.3h.9M165.8 72.9h.9M173.8 62.1h.9M171.1 59.9h.9M175.1 62.7h.9M180.5 63.7h.9M169.2 74.3h.9M166.0 66.8h.9M160.0 76.1h.9M155.8 61.9h.9M164.2 63.0h.9M151.2 60.5h.9M178.3 64.1h.9M183.6 61.2h.9M168.4 71.5h.9M166.7 65.1h.9M181.5 62.6h.9M158.0 65.1h.9M174.5 59.1h.9M162.7 69.2h.9M197.6 62.1h.9M198.3 68.2h.9M164.1 62.2h.9M160.8 71.3h.9M190.8 60.2h.9M161.8 69.3h.9M172.3 56.7h.9M165.6 63.6h.9M173.4 66.6h.9M173.3 72.4h.9M155.8 62.1h.9M162.7 62.9h.9M178.9 70.6h.9M178.3 63.4h.9M161.4 63.3h.9M203.7 69.7h.9M174.3 54.2h.9M167.2 62.3h.9M146.5 76.6h.9M149.7 65.2h.9M189.9 61.8h.9M182.0 75.0h.9M169.3 59.9h.9M181.1 65.3h.9M161.2 65.9h.9M159.5 68.2h.9M176.1 75.3h.9M149.7 53.4h.9M163.8 61.6h.9M179.8 65.9h.9M145.1 60.5h.9M182.0 52.7h.9M171.2 57.4h.9M165.3 66.5h.9M192.5 64.6h.9M162.2 61.2h.9M172.0 64.8h.9M160.6 65.0h.9M173.0 62.4h.9M155.5 64.5h.9M165.6 60.8h.9M161.7 61.8h.9M162.5 66.3h.9M177.0 58.1h.9M184.8 64.6h.9M173.6 61.9h.9M180.6 57.1h.9M169.7 55.0h.9M183.1 65.1h.9M180.2 56.6h.9M170.7 56.4h.9M152.0 71.1h.9M186.8 72.1h.9M177.2 58.5h.9M152.8 59.2h.9M177.6 64.4h.9M173.5 59.7h.9M151.3 69.2h.9M168.2 62.3h.9M162.6 66.4h.9M157.7 65.8h.9M155.1 71.2h.9M151.9 65.2h.9M173.0 68.5h.9M152.7 65.5h.9M149.8 68.3h.9M163.7 67.0h.9M165.2 69.9h.9M182.5 56.7h.9M176.7 77.8h.9M184.2 58.9h.9M161.8 57.3h.9M185.2 65.8h.9M177.6 59.2h.9M181.7 62.1h.9M149.3 68.6h.9M162.1 65.5h.9M165.9 62.3h.9M184.2 68.8h.9M163.6 63.4h.9M168.0 64.5h.9M185.5 55.5h.9M180.6 66.5h.9M170.4 72.0h.9M153.4 63.5h.9M181.0 58.5h.9M151.1 60.1h.9M172.2 73.0h.9M186.2 60.7h.9M179.7 61.5h.9M163.2 70.5h.9M184.8 66.4h.9M183.9 68.4h.9M172.4 63.7h.9M168.7 64.9h.9M163.4 68.2h.9M177.3 64.1h.9M159.2 59.6h.9M165.3 59.2h.9M165.7 56.3h.9M171.5 59.4h.9M164.9 64.1h.9M163.6 69.9h.9M183.9 52.9h.9M169.2 59.5h.9M152.2 69.3h.9M194.0 56.1h.9M161.9 67.6h.9M169.5 57.5h.9M177.5 59.0h.9M177.6 68.4h.9M150.4 61.4h.9M145.2 74.3h.9M178.0 68.4h.9M172.3 67.1h.9M188.4 54.6h.9M185.9 62.0h.9M173.5 64.4h.9M172.0 77.6h.9M154.5 75.6h.9M167.2 65.1h.9M174.5 55.3h.9M155.7 60.5h.9M167.5 60.8h.9M162.8 68.6h.9M183.0 69.4h.9M162.9 63.0h.9M173.6 62.3h.9M163.8 66.6h.9M170.7 60.5h.9M191.9 68.1h.9M155.7 70.8h.9M164.1 53.2h.9M156.6 72.1h.9M146.1 62.7h.9M168.9 66.6h.9M151.3 54.6h.9M164.1 70.6h.9M165.3 62.9h.9M153.2 57.5h.9M169.3 64.8h.9M162.8 68.8h.9M163.5 61.9h.9M196.0 67.5h.9M157.0 62.1h.9M171.1 61.7h.9M160.0 54.4h.9M159.6 67.4h.9M176.7 62.5h.9M160.0 59.1h.9M151.4 64.0h.9M153.0 60.1h.9M170.0 73.3h.9M160.6 65.4h.9M181.6 71.8h.9M193.3 58.7h.9M178.1 50.3h.9M185.9 62.8h.9M169.2 61.8h.9M176.2 64.5h.9M147.6 54.5h.9M176.6 72.0h.9M165.5 61.7h.9M162.4 72.1h.9M150.1 62.5h.9M145.7 63.8h.9M155.7 60.1h.9M182.8 54.6h.9M145.4 50.2h.9M153.0 55.5h.9M146.5 62.1h.9M161.4 68.5h.9M158.0 53.0h.9M185.8 54.9h.9M152.6 54.3h.9M177.6 63.8h.9M167.6 68.8h.9M145.9 65.7h.9M183.7 58.8h.9M181.9 66.1h.9M160.5 53.7h.9M186.0 72.7h.9M177.6 54.7h.9M145.1 49.5h.9M168.7 58.1h.9M185.7 63.3h.9M186.6 62.8h.9M173.3 55.6h.9M176.5 64.4h.9M173.2 62.8h.9M154.9 66.7h.9M175.8 61.0h.9M157.2 73.2h.9M150.5 67.7h.9M182.9 70.7h.9M158.7 66.4h.9M166.9 67.5h.9M164.8 61.6h.9M163.8 69.9h.9M175.5 61.0h.9M186.4 74.3h.9M167.1 58.8h.9M179.9 66.3h.9M171.9 66.0h.9M164.0 68.8h.9M165.7 49.6h.9M169.2 68.0h.9M171.8 67.4h.9M166.8 57.0h.9M176.6 69.1h.9M158.3 68.0h.9M170.5 53.5h.9M176.4 58.1h.9M169.5 47.9h.9M184.9 61.8h.9M174.2 61.5h.9M155.2 64.3h.9M153.5 65.8h.9M180.8 62.0h.9M149.7 69.8h.9M153.8 63.3h.9M170.2 63.9h.9M148.2 67.6h.9M158.2 63.4h.9M185.5 69.1h.9M164.7 62.1h.9M185.9 64.0h.9M149.1 60.8h.9M167.3 63.2h.9M166.5 59.3h.9M164.9 56.2h.9M173.5 59.8h.9M157.5 66.3h.9M158.4 65.2h.9M178.2 65.5h.9M161.7 65.9h.9M158.9 61.9h.9M164.4 61.1h.9M154.9 60.6h.9M190.4 60.6h.9M181.5 59.3h.9M166.8 63.5h.9M155.8 64.2h.9M182.5 66.4h.9M155.3 64.5h.9M175.3 64.0h.9M159.0 63.1h.9M162.8 69.0h.9M191.3 57.4h.9M175.4 68.0h.9M153.9 59.0h.9M161.9 61.4h.9M163.6 58.3h.9M166.8 74.7h.9M162.5 56.2h.9M163.3 67.8h.9M163.9 57.4h.9M176.3 65.3h.9M169.1 62.9h.9M163.7 64.2h.9M165.8 59.7h.9M161.0 60.4h.9M171.6 62.7h.9M190.0 62.6h.9M175.2 64.1h.9" stroke="#000" stroke-width=".9" stroke-opacity="0.75"/>
<path d="M167.2 53.2h.9M183.8 52.1h.9M185.5 49.7h.9M185.2 58.9h.9M170.0 47.7h.9M184.7 51.2h.9M174.2 47.0h.9M171.4 49.1h.9M180.9 47.4h.9M192.1 47.4h.9M183.8 57.2h.9M192.9 48.4h.9M186.7 50.8h.9M185.0 55.7h.9M179.5 50.5h.9M194.8 55.4h.9M179.0 52.5h.9M185.6 51.9h.9M177.3 44.1h.9M183.6 47.5h.9M184.8 57.8h.9M194.4 60.3h.9M176.2 51.2h.9M164.0 54.8h.9M193.7 56.2h.9" stroke="#000" stroke-width=".9" stroke-opacity="0.70"/>
<path d="M172.8 40.2L172.8 103.2" stroke="#959595" stroke-width="1.0" fill="none"/>
<path d="M143.4 60.2L207.9 60.2" stroke="#959595" stroke-width="1.0" fill="none"/>
<rect x="145.2" y="42.17" width="17.11" height="6.46" fill="#fff"/>
<text x="145.7" y="48.1" font-size="7.6" text-anchor="start" font-weight="normal" fill="#161616" class="t">48.1</text>
<rect x="189.09" y="42.17" width="17.11" height="6.46" fill="#fff"/>
<text x="205.7" y="48.1" font-size="7.6" text-anchor="end" font-weight="normal" fill="#161616" class="t">6.51</text>
<rect x="145.2" y="96.37" width="17.11" height="6.46" fill="#fff"/>
<text x="145.7" y="102.3" font-size="7.6" text-anchor="start" font-weight="normal" fill="#161616" class="t">6.93</text>
<rect x="189.09" y="96.37" width="17.11" height="6.46" fill="#fff"/>
<text x="205.7" y="102.3" font-size="7.6" text-anchor="end" font-weight="normal" fill="#161616" class="t">38.5</text>
<rect x="143.4" y="40.2" width="64.5" height="63" fill="none" stroke="#000" stroke-width="1.35"/>
<text x="137.2" y="51.8" font-size="8.4" text-anchor="end" font-weight="normal" fill="#161616">10<tspan dy="-3.53" font-size="6.55">4</tspan></text>
<text x="137.2" y="67.4" font-size="8.4" text-anchor="end" font-weight="normal" fill="#161616">10<tspan dy="-3.53" font-size="6.55">3</tspan></text>
<text x="137.2" y="83" font-size="8.4" text-anchor="end" font-weight="normal" fill="#161616">10<tspan dy="-3.53" font-size="6.55">2</tspan></text>
<text x="137.2" y="98.6" font-size="8.4" text-anchor="end" font-weight="normal" fill="#161616">10<tspan dy="-3.53" font-size="6.55">1</tspan></text>
<path d="M143.4 47.8h-2.8M143.4 58.7h-1.5M143.4 55.96h-1.5M143.4 54.01h-1.5M143.4 52.5h-1.5M143.4 51.26h-1.5M143.4 50.22h-1.5M143.4 49.31h-1.5M143.4 48.51h-1.5M143.4 63.4h-2.8M143.4 74.3h-1.5M143.4 71.56h-1.5M143.4 69.61h-1.5M143.4 68.1h-1.5M143.4 66.86h-1.5M143.4 65.82h-1.5M143.4 64.91h-1.5M143.4 64.11h-1.5M143.4 79h-2.8M143.4 89.9h-1.5M143.4 87.16h-1.5M143.4 85.21h-1.5M143.4 83.7h-1.5M143.4 82.46h-1.5M143.4 81.42h-1.5M143.4 80.51h-1.5M143.4 79.71h-1.5M143.4 94.6h-2.8M143.4 102.76h-1.5M143.4 100.81h-1.5M143.4 99.3h-1.5M143.4 98.06h-1.5M143.4 97.02h-1.5M143.4 96.11h-1.5M143.4 95.31h-1.5M143.4 43.1h-1.5M143.4 46.29h-1.5" stroke="#000" stroke-width=".95"/>
<path d="M144.6 103.2v2.8M158.1 103.2v2.8M172.7 103.2v2.8M187.3 103.2v2.8M201.6 103.2v2.8M162.5 103.2v2M165.07 103.2v2M166.89 103.2v2M168.3 103.2v2M169.46 103.2v2M170.44 103.2v2M171.29 103.2v2M172.03 103.2v2M177.1 103.2v2M179.67 103.2v2M181.49 103.2v2M182.9 103.2v2M184.06 103.2v2M185.04 103.2v2M185.89 103.2v2M186.63 103.2v2M191.6 103.2v2M194.12 103.2v2M195.91 103.2v2M197.3 103.2v2M198.43 103.2v2M199.38 103.2v2M200.21 103.2v2M200.95 103.2v2M147.97 103.2v2M151.35 103.2v2M154.72 103.2v2M144 103.2v2M205.9 103.2v2" stroke="#000" stroke-width=".95"/>
<text transform="translate(153,114) rotate(-45)" font-size="8.4" text-anchor="end" font-weight="normal" fill="#161616">0</text>
<text transform="translate(162.6,113.8) rotate(-45)" font-size="8.4" text-anchor="end" font-weight="normal" fill="#161616">10<tspan dy="-3.53" font-size="6.22">2</tspan></text>
<text transform="translate(175.6,113.8) rotate(-45)" font-size="8.4" text-anchor="end" font-weight="normal" fill="#161616">10<tspan dy="-3.53" font-size="6.22">3</tspan></text>
<text transform="translate(190.8,113.8) rotate(-45)" font-size="8.4" text-anchor="end" font-weight="normal" fill="#161616">10<tspan dy="-3.53" font-size="6.22">4</tspan></text>
<text transform="translate(205.3,113.8) rotate(-45)" font-size="8.4" text-anchor="end" font-weight="normal" fill="#161616">10<tspan dy="-3.53" font-size="6.22">5</tspan></text>
<path d="M259.0 58.3h.9M259.3 62.5h.9M252.8 55.9h.9M249.1 59.7h.9M260.2 56.3h.9M255.3 64.1h.9M256.9 49.3h.9M253.4 65.3h.9M253.5 52.3h.9M256.7 55.6h.9M256.0 64.0h.9M246.8 51.8h.9M257.3 51.1h.9M253.7 60.6h.9M258.0 54.5h.9M256.4 57.6h.9M263.8 57.5h.9M256.7 61.1h.9M257.9 54.7h.9M257.0 53.3h.9M256.6 46.8h.9M247.8 59.6h.9M256.4 60.4h.9M253.1 50.6h.9M258.6 53.3h.9M256.6 55.9h.9M257.9 55.0h.9M248.4 51.1h.9M257.0 51.6h.9M254.0 52.9h.9M253.7 55.8h.9M262.8 59.9h.9M248.7 58.8h.9M258.5 56.8h.9M252.9 52.9h.9M262.0 59.6h.9M253.0 57.7h.9M259.1 62.3h.9M259.1 54.9h.9M259.9 61.8h.9M251.1 53.0h.9M252.2 63.4h.9M258.6 64.8h.9M261.2 47.8h.9M253.3 57.9h.9M255.1 56.4h.9M254.1 54.0h.9M256.3 55.8h.9M258.5 53.5h.9M256.8 62.6h.9M262.7 52.7h.9M253.2 60.9h.9M261.3 58.4h.9M257.4 58.2h.9M255.0 58.0h.9M255.3 62.1h.9M255.6 53.3h.9M253.1 54.9h.9M256.2 60.7h.9M255.1 58.4h.9M247.9 59.4h.9M253.4 61.9h.9M251.0 57.9h.9M256.8 56.8h.9M258.4 65.4h.9M261.0 55.4h.9M256.3 57.1h.9M261.7 59.7h.9M260.2 55.6h.9M252.7 51.7h.9M252.6 65.2h.9M253.2 57.5h.9M262.1 62.4h.9M258.5 60.1h.9M253.1 52.2h.9M255.2 59.6h.9M260.1 55.9h.9M249.2 54.5h.9M260.1 57.5h.9M263.6 60.7h.9M254.1 61.5h.9M253.0 51.9h.9M262.1 53.7h.9M261.3 56.1h.9M248.4 59.4h.9M256.6 50.9h.9M254.7 58.5h.9M258.3 64.9h.9M254.5 64.1h.9M254.9 59.5h.9M248.7 62.0h.9M257.8 51.9h.9M266.9 67.4h.9M254.7 60.6h.9M257.2 60.0h.9M259.8 55.9h.9M252.9 65.0h.9M252.4 53.0h.9M257.9 55.0h.9M246.0 60.9h.9M258.3 56.1h.9M258.3 58.1h.9M251.4 60.2h.9M259.1 54.8h.9M257.7 55.0h.9M261.9 57.4h.9M255.9 51.1h.9M256.3 62.1h.9M257.5 53.8h.9M258.7 52.0h.9M257.5 59.2h.9M250.2 56.1h.9M252.9 57.1h.9M253.0 62.5h.9M255.0 58.2h.9M253.6 55.6h.9M257.4 53.4h.9M249.6 59.2h.9M253.8 57.1h.9M246.0 61.3h.9M254.7 58.1h.9M257.9 51.4h.9M256.9 67.0h.9M260.5 61.9h.9M256.7 59.9h.9M259.7 61.2h.9M254.1 53.6h.9M258.6 52.6h.9M251.6 60.5h.9M249.4 58.5h.9M259.9 49.9h.9M262.8 54.9h.9M261.4 61.3h.9M258.5 56.5h.9M255.5 59.7h.9M250.9 54.4h.9M246.2 54.6h.9M261.1 56.5h.9M259.3 58.0h.9M253.1 63.3h.9M252.8 52.8h.9M254.4 53.0h.9M256.3 61.6h.9M258.0 50.4h.9M252.9 59.4h.9M254.3 59.9h.9M255.4 57.2h.9M257.7 54.7h.9M260.3 64.6h.9M260.7 57.2h.9M257.7 59.1h.9M258.0 58.9h.9M253.6 64.8h.9M259.5 52.3h.9M256.8 60.8h.9M257.9 60.5h.9M255.4 53.2h.9M254.1 52.4h.9M259.8 55.2h.9M252.1 61.8h.9M257.9 60.1h.9M261.7 61.7h.9M263.2 55.2h.9M250.1 58.1h.9M253.8 63.1h.9M250.9 53.4h.9M253.0 45.8h.9M255.4 57.2h.9M257.5 59.0h.9M253.6 58.2h.9M249.3 53.9h.9M253.6 54.9h.9M246.5 60.2h.9M252.2 54.9h.9M263.1 54.4h.9M251.7 55.0h.9M254.5 47.2h.9M259.6 59.6h.9M255.2 56.8h.9M249.6 61.7h.9M258.3 62.2h.9M250.0 52.4h.9M255.7 50.8h.9M255.1 55.4h.9M260.9 64.5h.9M252.9 56.8h.9M255.0 61.4h.9M255.6 58.6h.9M252.4 58.7h.9M263.5 56.0h.9M257.4 58.0h.9M261.9 52.4h.9M261.4 64.0h.9M256.4 54.3h.9M255.2 55.2h.9M255.3 53.0h.9M261.1 65.4h.9M253.4 62.1h.9M253.3 64.9h.9M255.4 47.9h.9M248.3 57.7h.9M245.8 67.2h.9M253.7 56.8h.9M249.7 58.5h.9M259.3 63.7h.9M250.7 52.5h.9M251.4 56.9h.9M251.4 56.9h.9M251.7 57.8h.9M258.2 60.3h.9M253.3 57.6h.9M254.8 57.1h.9M258.3 59.4h.9M256.9 56.8h.9M251.6 60.3h.9M247.5 53.1h.9M254.1 62.1h.9M259.1 58.0h.9M264.4 55.8h.9M253.0 50.9h.9M258.9 50.9h.9M261.0 51.8h.9M259.7 58.7h.9M254.2 61.8h.9M253.5 51.2h.9M252.7 62.2h.9M257.0 55.7h.9M259.4 58.2h.9M262.3 61.4h.9M255.9 54.2h.9M260.4 56.6h.9M260.5 60.7h.9M258.9 53.5h.9M250.3 57.3h.9M267.0 59.4h.9M259.5 58.3h.9M251.2 56.6h.9M259.1 55.7h.9M252.8 55.0h.9M262.5 55.9h.9M258.8 57.2h.9M267.7 64.9h.9M251.5 57.0h.9M252.5 52.4h.9M257.4 54.6h.9M257.6 61.9h.9M258.9 62.6h.9M255.8 58.2h.9M254.3 58.1h.9M252.3 51.2h.9M254.3 54.8h.9M254.1 58.7h.9M256.0 57.0h.9M253.8 45.4h.9M255.3 50.5h.9M251.5 56.1h.9M251.2 57.4h.9M255.1 62.1h.9M257.5 57.5h.9M258.7 67.6h.9M247.0 54.8h.9M251.2 51.4h.9M251.2 59.6h.9M257.7 56.4h.9M259.9 55.2h.9M258.3 56.4h.9M265.6 58.5h.9M256.7 60.0h.9M255.1 51.3h.9M256.3 60.3h.9M256.9 54.6h.9M260.0 56.1h.9M251.2 52.6h.9M260.3 57.4h.9M249.6 57.8h.9M252.6 53.9h.9M253.5 52.6h.9M258.2 57.6h.9M262.0 58.8h.9M258.6 55.8h.9M262.4 52.7h.9M254.5 57.8h.9M255.4 59.8h.9M258.4 61.5h.9M256.5 54.9h.9M253.9 56.2h.9M260.6 59.2h.9M255.3 53.6h.9M247.2 54.4h.9M252.1 57.0h.9M257.5 63.9h.9M250.9 53.5h.9M250.8 54.1h.9M247.1 62.7h.9M257.3 57.2h.9M248.5 61.8h.9M251.0 64.3h.9M253.4 61.2h.9M250.5 48.8h.9M252.3 59.1h.9M258.6 53.8h.9M250.9 55.7h.9M254.6 56.9h.9M250.7 54.5h.9M258.8 49.3h.9M251.2 54.4h.9M254.5 54.5h.9M261.6 54.6h.9M254.6 61.0h.9M258.5 58.3h.9M251.9 57.5h.9M259.5 53.2h.9M256.7 60.8h.9M262.6 54.3h.9M261.8 53.8h.9M258.2 56.8h.9M257.7 60.1h.9M260.0 58.3h.9M257.4 56.8h.9M259.4 57.3h.9M261.8 56.8h.9M248.5 58.7h.9M261.5 55.5h.9M266.8 61.0h.9M258.7 58.6h.9M261.2 50.4h.9M256.0 56.3h.9M256.8 56.8h.9M247.3 60.4h.9M259.3 58.6h.9M251.8 59.9h.9M257.9 54.3h.9M255.5 63.4h.9M255.2 60.5h.9M253.4 57.5h.9M255.5 69.0h.9M258.8 57.3h.9M252.7 56.0h.9M250.6 59.9h.9M258.3 58.2h.9M260.3 62.3h.9M243.1 54.2h.9M255.8 61.9h.9M264.9 63.6h.9M251.5 52.8h.9M262.0 61.9h.9M256.0 54.7h.9M263.9 59.9h.9M249.5 58.8h.9M260.1 51.3h.9M258.3 58.3h.9M251.8 52.7h.9M257.3 50.4h.9M256.9 62.8h.9M245.8 54.7h.9M259.8 54.0h.9M252.1 61.4h.9M252.1 58.9h.9M258.0 58.6h.9M252.0 58.0h.9M250.0 59.7h.9M258.8 58.7h.9M254.9 53.5h.9M255.2 66.0h.9M259.5 55.4h.9M265.8 63.8h.9M261.1 49.8h.9M251.3 59.3h.9M249.5 55.9h.9M253.5 48.8h.9M254.5 56.7h.9M253.0 53.7h.9M249.9 59.8h.9M258.9 51.7h.9M242.2 52.9h.9M261.8 54.4h.9M261.2 57.7h.9M257.9 60.6h.9M255.9 53.3h.9M258.2 51.7h.9M258.3 51.7h.9M250.9 55.9h.9M256.3 56.5h.9M258.8 57.6h.9M259.5 47.0h.9M258.9 58.9h.9M253.8 58.9h.9M257.9 59.0h.9M255.6 54.7h.9M248.0 55.9h.9M258.9 60.5h.9M257.8 56.2h.9M252.8 61.6h.9M262.8 63.7h.9M241.4 57.5h.9M251.5 59.9h.9M251.0 53.6h.9M250.4 56.9h.9M259.2 63.2h.9M253.0 51.9h.9M255.8 61.0h.9M256.5 58.2h.9M248.0 58.7h.9M245.0 59.4h.9M254.9 57.0h.9M255.1 56.8h.9M255.0 69.8h.9M256.5 52.9h.9M257.2 58.0h.9M258.8 58.1h.9M256.2 53.2h.9M257.7 47.5h.9M258.9 55.1h.9M253.2 51.2h.9M262.5 60.3h.9M254.1 56.4h.9M254.3 60.0h.9M253.7 58.7h.9M256.5 57.4h.9M252.9 55.4h.9M257.1 63.0h.9M253.2 53.6h.9M257.7 55.5h.9M260.4 63.2h.9M255.0 59.1h.9M255.5 55.3h.9M256.8 53.4h.9M254.1 53.2h.9M252.8 57.9h.9M256.1 53.0h.9M265.4 59.1h.9M254.9 53.4h.9M253.7 60.5h.9M262.1 61.4h.9M252.4 50.3h.9M259.3 59.4h.9M254.4 55.9h.9M254.2 53.5h.9M259.2 55.2h.9M257.7 53.5h.9M256.2 59.1h.9M255.5 58.8h.9M261.2 54.5h.9M254.9 52.8h.9M258.8 53.2h.9M252.3 59.8h.9M257.5 52.3h.9M254.6 60.1h.9M251.3 59.6h.9M250.7 63.9h.9M260.1 55.6h.9M259.9 57.3h.9M256.8 45.8h.9M256.1 63.0h.9M256.8 58.0h.9M261.1 55.1h.9M248.4 57.3h.9M254.6 54.5h.9M262.7 56.7h.9M260.3 63.4h.9M248.6 58.2h.9M259.3 59.3h.9M256.6 55.1h.9M252.3 59.0h.9M257.5 54.9h.9M253.8 55.9h.9M253.5 59.8h.9M261.6 61.2h.9M252.2 62.3h.9M256.5 55.0h.9M261.5 48.2h.9M255.3 57.8h.9M256.9 58.8h.9M258.8 58.9h.9M254.2 57.3h.9M258.8 53.4h.9M256.4 57.8h.9M248.6 56.6h.9M256.6 51.2h.9M255.2 57.2h.9M251.8 68.6h.9M262.5 61.6h.9M250.2 54.5h.9M252.8 59.5h.9M253.6 50.6h.9M255.8 57.1h.9M254.2 59.5h.9M260.9 57.1h.9M252.0 69.2h.9M258.2 65.3h.9M260.7 59.3h.9M255.9 58.0h.9M261.3 57.6h.9M256.2 56.0h.9M261.9 62.2h.9M250.2 54.4h.9M253.1 57.8h.9M255.0 57.6h.9M256.1 56.5h.9M260.8 55.8h.9M259.6 57.1h.9M253.9 53.0h.9M253.3 55.1h.9M257.1 55.9h.9M253.3 56.3h.9M254.5 60.1h.9M265.2 52.0h.9M250.2 52.0h.9M261.3 54.0h.9M253.6 55.7h.9M262.2 56.9h.9M254.3 60.4h.9M259.9 49.9h.9M261.2 61.9h.9M259.1 55.8h.9M261.3 54.2h.9M259.8 60.2h.9M256.6 60.0h.9M254.5 54.2h.9M250.7 55.3h.9M257.2 54.7h.9M262.6 58.7h.9M255.0 64.3h.9M256.4 58.8h.9M259.1 50.8h.9M265.9 49.2h.9M257.2 58.0h.9M257.9 59.8h.9M253.9 50.7h.9M260.1 62.1h.9M253.9 66.9h.9M256.1 54.9h.9M253.6 57.4h.9M258.1 46.4h.9M251.8 51.0h.9M259.3 59.4h.9M259.2 55.0h.9M255.2 52.1h.9M257.4 46.7h.9M256.4 47.7h.9M255.7 59.2h.9M252.3 49.1h.9M254.0 60.4h.9M246.4 52.4h.9M263.3 59.2h.9M254.2 50.6h.9M254.7 51.5h.9M255.6 51.4h.9M258.1 47.3h.9M261.5 56.0h.9M259.0 54.6h.9M259.7 55.5h.9M252.9 56.8h.9M256.2 56.5h.9M257.9 64.6h.9M257.4 59.3h.9M256.5 59.7h.9M251.1 50.0h.9M261.1 63.7h.9M256.4 52.8h.9M252.9 64.9h.9M258.4 63.1h.9M259.4 53.0h.9M258.7 61.7h.9M251.4 57.2h.9M256.6 57.6h.9M256.0 56.7h.9M253.2 54.9h.9M256.3 58.3h.9M253.3 57.2h.9M260.7 59.1h.9M255.1 60.5h.9M258.3 61.0h.9M250.1 47.5h.9M252.8 58.5h.9M261.5 61.3h.9M257.9 58.7h.9M251.2 56.7h.9M256.1 57.0h.9M258.8 55.5h.9M255.6 49.3h.9M258.6 66.7h.9M253.1 61.5h.9M254.9 55.2h.9M262.6 62.1h.9M259.2 63.3h.9M253.7 59.7h.9M259.7 52.5h.9M259.3 57.0h.9M262.0 65.4h.9M253.3 55.9h.9M255.1 58.9h.9M260.4 54.7h.9M254.4 60.5h.9M255.8 49.7h.9M256.6 50.8h.9M260.1 50.4h.9M253.1 62.9h.9M257.2 58.2h.9M259.8 54.9h.9M257.7 60.8h.9M255.2 56.2h.9M252.7 54.5h.9M260.5 55.8h.9M254.8 54.8h.9M249.7 50.3h.9M262.1 64.5h.9M258.1 60.6h.9M253.9 55.5h.9M252.9 62.0h.9M256.3 58.7h.9M253.1 50.8h.9M258.6 60.1h.9M259.6 60.8h.9M256.7 50.8h.9M253.7 51.3h.9M254.8 60.0h.9M262.3 57.6h.9M256.0 58.1h.9M255.0 65.8h.9M251.9 55.4h.9M262.6 56.0h.9M253.6 57.3h.9M249.5 53.5h.9M263.3 64.0h.9M243.0 58.2h.9M259.1 62.3h.9M253.8 57.9h.9M257.7 57.6h.9M259.3 46.9h.9M260.2 55.9h.9M250.8 56.4h.9M250.0 56.5h.9M256.4 57.5h.9M246.9 47.2h.9M260.0 47.2h.9M258.3 63.9h.9M254.8 56.3h.9M254.1 59.1h.9M254.0 54.3h.9M250.9 57.9h.9M247.1 57.0h.9M262.3 58.1h.9M254.4 58.2h.9M258.1 53.9h.9M252.8 56.2h.9M263.6 59.0h.9M262.5 57.8h.9M258.2 55.1h.9M259.7 56.6h.9" stroke="#000" stroke-width=".9" stroke-opacity="1.00"/>
<path d="M267.6 54.0h.9M262.6 50.3h.9M269.8 51.6h.9M260.7 49.0h.9M263.9 49.7h.9M261.0 53.7h.9M261.9 47.9h.9M263.3 49.5h.9M262.5 50.8h.9M262.1 52.7h.9M257.0 51.4h.9M262.5 47.2h.9M258.8 49.9h.9M263.9 49.1h.9M260.3 50.0h.9M264.8 47.2h.9M259.7 46.1h.9M258.4 52.3h.9M261.5 49.6h.9M259.7 46.3h.9M258.9 48.3h.9M260.9 49.3h.9M257.2 47.9h.9M263.3 49.7h.9M259.2 49.2h.9M261.0 48.3h.9M259.4 47.8h.9M262.2 46.4h.9M260.7 47.8h.9M263.4 48.4h.9M260.0 48.2h.9M263.7 46.6h.9M256.8 47.2h.9M263.4 48.4h.9M261.3 51.4h.9M261.6 51.3h.9M264.6 51.8h.9M258.3 52.6h.9M263.5 49.6h.9M266.0 48.4h.9M267.6 49.3h.9M264.0 47.5h.9M262.8 49.2h.9M258.6 50.2h.9M262.1 46.6h.9M263.0 53.7h.9M258.2 49.3h.9M268.2 49.9h.9M268.2 50.6h.9M259.7 47.7h.9M259.9 47.5h.9M265.4 48.0h.9M263.9 49.7h.9M259.8 52.9h.9M260.6 51.3h.9M264.3 48.5h.9M260.7 50.9h.9M263.1 49.6h.9M262.7 53.0h.9M263.7 48.9h.9M261.9 49.7h.9M266.2 49.1h.9M264.1 47.1h.9M259.5 49.4h.9M259.9 51.6h.9M262.3 51.7h.9M264.1 48.6h.9M258.9 49.2h.9M256.6 49.3h.9M259.3 46.6h.9M265.0 47.8h.9M260.3 45.5h.9M258.8 51.0h.9M261.1 54.0h.9M262.6 47.2h.9M258.0 45.1h.9M260.3 52.1h.9M263.5 47.6h.9M262.8 50.2h.9M263.4 50.6h.9M265.0 50.9h.9M261.7 49.8h.9M262.1 49.7h.9M261.8 49.0h.9M258.4 52.5h.9M262.4 47.9h.9M266.0 49.9h.9M258.5 45.5h.9M260.1 46.0h.9M259.0 47.3h.9M260.7 48.7h.9M261.5 53.0h.9M262.7 49.0h.9M262.3 51.3h.9M257.1 47.8h.9M264.6 54.1h.9M260.7 49.6h.9M259.4 49.3h.9M257.5 52.3h.9M263.4 49.8h.9M259.4 48.9h.9M258.0 49.6h.9M260.5 49.7h.9M260.8 49.3h.9M259.3 52.5h.9M261.5 51.1h.9M261.7 49.9h.9M260.2 48.9h.9M261.4 48.7h.9M263.9 51.6h.9M260.1 48.3h.9M264.1 53.0h.9M259.6 47.8h.9M262.9 51.0h.9M260.5 48.7h.9M257.2 47.9h.9M259.1 51.0h.9M260.5 50.1h.9M260.6 49.2h.9M265.6 46.4h.9M265.6 47.3h.9M261.6 52.5h.9M261.5 47.2h.9M260.4 46.6h.9M262.2 49.8h.9M265.6 46.7h.9M261.0 46.9h.9M263.0 44.8h.9M261.6 46.2h.9M263.2 50.0h.9" stroke="#000" stroke-width=".9" stroke-opacity="1.00"/>
<path d="M287.7 68.9h.9M289.3 71.2h.9M290.2 63.3h.9M286.8 62.0h.9M286.6 62.4h.9M287.4 67.3h.9M284.9 65.8h.9M288.0 63.3h.9M288.3 62.8h.9M291.0 69.2h.9M285.9 63.8h.9M284.3 64.5h.9M284.1 64.3h.9M286.3 65.8h.9M293.9 65.6h.9M293.5 67.7h.9M288.6 70.3h.9M285.8 68.5h.9M288.9 67.6h.9M292.9 68.0h.9M293.5 62.4h.9M286.6 62.4h.9M292.3 69.6h.9M286.3 66.9h.9M280.3 66.7h.9M288.2 60.8h.9M282.3 65.9h.9M287.5 66.0h.9M286.1 65.6h.9M288.5 67.9h.9M286.6 65.3h.9M287.8 65.4h.9M288.3 54.9h.9M287.0 64.5h.9M293.0 66.8h.9M283.6 68.2h.9M286.9 72.8h.9M288.6 69.6h.9M284.9 65.1h.9M290.3 73.5h.9M290.7 59.4h.9M284.6 61.3h.9M287.7 66.6h.9M290.7 60.3h.9M290.9 71.6h.9M286.0 64.9h.9M287.8 67.6h.9M284.7 58.9h.9M284.0 63.8h.9M287.8 61.5h.9M292.0 67.2h.9M290.2 58.6h.9M287.2 61.2h.9M283.8 67.7h.9M280.6 67.0h.9M282.0 60.9h.9M286.3 64.7h.9M290.0 65.1h.9M280.6 64.2h.9M288.9 60.7h.9M289.5 69.4h.9M289.8 68.7h.9M281.2 69.1h.9M287.9 64.0h.9M286.9 60.2h.9M283.9 64.4h.9M289.2 59.4h.9M290.4 66.4h.9M288.8 67.2h.9M291.2 68.8h.9M287.1 67.6h.9M288.1 71.8h.9M293.8 68.1h.9M283.7 64.4h.9M297.8 71.4h.9M287.1 60.1h.9M283.2 66.3h.9M287.3 65.8h.9M290.0 67.0h.9M293.1 66.0h.9M281.4 66.0h.9M288.7 60.7h.9M285.4 63.7h.9M292.9 66.0h.9M288.0 62.7h.9M287.6 61.4h.9M280.7 64.6h.9M289.7 59.3h.9M287.1 59.6h.9M287.1 58.6h.9M289.5 69.3h.9M289.6 64.6h.9M288.7 63.3h.9M286.6 67.1h.9M289.6 68.0h.9M292.9 65.7h.9M288.8 66.6h.9M285.0 67.7h.9M284.2 73.1h.9M291.4 60.0h.9M285.8 65.0h.9M285.5 63.3h.9M285.7 65.3h.9M285.5 63.5h.9M290.8 60.5h.9M285.9 65.2h.9M290.2 67.8h.9M284.8 62.0h.9M288.8 60.9h.9M288.6 67.2h.9M293.5 64.6h.9M289.3 58.8h.9M289.5 58.9h.9M284.8 66.7h.9M279.8 64.0h.9M293.9 71.0h.9M286.2 63.5h.9M289.2 64.4h.9M288.2 62.2h.9M286.3 59.6h.9M289.9 67.2h.9M288.4 66.5h.9M287.7 70.4h.9M284.0 66.9h.9M284.2 68.2h.9M285.7 65.2h.9M290.5 65.5h.9M283.0 60.4h.9M281.5 67.2h.9M282.0 61.7h.9M280.9 62.5h.9M287.9 67.6h.9M282.9 63.2h.9M285.1 65.4h.9M284.9 60.5h.9M284.6 68.0h.9M288.5 68.4h.9M288.8 63.8h.9M283.8 67.4h.9M284.4 66.8h.9M293.4 66.0h.9M290.6 64.8h.9M286.8 66.9h.9M289.3 59.0h.9M288.3 64.7h.9M289.9 64.7h.9M290.7 67.3h.9M288.4 65.3h.9M293.3 61.6h.9M290.5 65.0h.9M288.9 66.4h.9M284.1 65.5h.9M288.2 69.1h.9M286.8 65.6h.9M290.9 65.1h.9M283.0 60.3h.9M287.3 65.6h.9M287.6 64.2h.9M289.4 69.4h.9M285.5 66.5h.9M285.5 64.5h.9M287.1 64.2h.9M290.2 64.2h.9M285.7 58.3h.9M289.1 62.0h.9M289.0 62.1h.9M285.6 65.9h.9M285.0 64.1h.9M288.2 62.1h.9M289.3 61.2h.9M286.4 69.8h.9M289.9 68.4h.9M286.0 66.9h.9M289.1 64.5h.9M287.3 64.3h.9M287.6 67.4h.9M291.4 65.5h.9M288.3 61.5h.9M289.1 63.1h.9M287.3 64.3h.9M292.2 68.4h.9M291.1 64.2h.9M282.8 68.4h.9M282.2 63.0h.9M289.5 64.9h.9M283.5 64.9h.9M291.0 57.9h.9M286.8 58.9h.9M289.4 69.3h.9M283.2 67.2h.9M288.9 68.6h.9M290.9 70.0h.9M293.1 62.9h.9M287.4 63.3h.9M287.5 62.8h.9M286.4 64.4h.9M289.1 69.4h.9M290.5 61.5h.9M288.4 65.7h.9M287.0 62.3h.9M284.1 68.8h.9M285.8 63.5h.9M279.7 68.8h.9M287.8 69.7h.9M287.1 65.7h.9M289.3 62.5h.9M290.5 62.9h.9M284.9 65.7h.9M293.1 64.4h.9M290.5 71.0h.9M280.5 62.3h.9M287.5 68.2h.9M284.0 62.7h.9M289.4 62.3h.9M287.0 62.3h.9M288.9 69.5h.9M285.0 65.2h.9M288.6 64.9h.9M287.2 68.2h.9M285.5 68.1h.9M287.6 67.3h.9M290.0 68.4h.9M292.4 58.9h.9M288.7 62.5h.9M287.8 67.6h.9M288.2 59.6h.9M288.6 63.6h.9M290.5 63.9h.9M291.2 65.1h.9M277.4 63.7h.9M284.1 69.1h.9M284.7 60.4h.9M282.9 65.8h.9M287.6 62.6h.9M292.4 63.6h.9M292.7 67.7h.9M283.7 71.8h.9M284.8 63.5h.9M288.4 65.5h.9M291.0 65.1h.9M280.2 56.4h.9M285.1 61.3h.9M283.1 64.9h.9M291.8 64.5h.9M289.4 64.9h.9M288.3 62.3h.9M284.9 63.3h.9M290.2 67.7h.9M280.1 65.0h.9M285.7 65.0h.9M290.9 63.1h.9M290.4 65.3h.9M288.6 65.0h.9M285.9 60.8h.9M285.5 69.3h.9M287.5 64.3h.9M290.2 60.3h.9M283.0 63.7h.9M287.4 60.2h.9M287.7 61.8h.9M291.3 68.1h.9M282.4 57.6h.9M287.8 60.3h.9M286.7 59.4h.9M282.3 64.2h.9M290.4 66.2h.9M285.2 64.9h.9M287.9 66.1h.9M296.1 60.5h.9M289.1 64.8h.9M283.7 62.6h.9M291.5 66.4h.9M286.1 64.4h.9M286.4 63.0h.9M293.6 66.3h.9M286.5 66.3h.9M285.6 63.5h.9M286.1 65.4h.9M283.7 61.7h.9M287.6 66.5h.9M285.1 63.3h.9M288.4 56.7h.9M288.7 65.0h.9M288.0 64.9h.9M295.1 61.4h.9M289.1 70.7h.9M282.5 63.1h.9M287.8 68.1h.9M288.1 65.6h.9M285.7 65.3h.9M285.3 64.2h.9M289.6 67.0h.9M291.0 65.8h.9M287.2 63.5h.9M286.7 64.5h.9M289.1 67.5h.9M287.1 70.9h.9M290.7 63.8h.9M286.8 67.6h.9M289.7 66.2h.9M281.1 65.4h.9M288.7 62.0h.9M290.2 64.6h.9M285.3 62.5h.9M286.6 67.0h.9M288.3 60.1h.9M285.2 67.9h.9M291.1 64.6h.9M288.6 60.5h.9M284.9 63.1h.9M284.4 68.7h.9M285.5 66.5h.9M290.2 66.4h.9M286.6 69.6h.9M293.2 68.5h.9M290.8 68.7h.9M282.6 62.2h.9M286.4 59.7h.9M290.6 66.2h.9M295.7 65.5h.9M288.6 69.6h.9M288.2 60.1h.9M289.4 61.9h.9M287.5 60.3h.9M287.6 68.5h.9M286.3 63.8h.9M283.8 63.0h.9M286.8 66.3h.9M286.5 64.5h.9M296.2 71.1h.9M294.8 63.4h.9M285.0 66.5h.9M294.1 68.3h.9M291.5 68.4h.9M286.0 66.1h.9M289.5 65.8h.9M297.3 64.4h.9M292.3 72.4h.9M289.4 68.9h.9M291.6 67.9h.9M287.7 65.8h.9M290.8 66.6h.9M288.9 65.0h.9M286.9 69.7h.9M290.3 69.2h.9M282.8 61.8h.9M294.2 60.3h.9M287.7 69.4h.9M290.7 60.1h.9M284.2 58.5h.9M284.9 66.5h.9M284.4 69.3h.9M286.7 66.2h.9M287.8 63.3h.9M291.0 60.3h.9M280.6 71.0h.9M290.1 66.4h.9M289.5 65.2h.9M286.8 66.0h.9M284.9 62.2h.9M286.2 68.2h.9M288.9 71.5h.9M292.1 68.1h.9M292.7 66.7h.9M287.3 67.0h.9M287.1 63.6h.9M286.4 61.9h.9M288.5 66.0h.9M287.8 63.7h.9M287.6 62.5h.9M283.4 64.3h.9M284.6 62.9h.9M285.3 67.5h.9M282.4 63.9h.9M288.4 72.2h.9M290.8 62.4h.9M281.7 61.3h.9M283.9 59.8h.9M291.0 63.8h.9M288.9 60.6h.9M286.4 63.5h.9M289.2 65.3h.9M290.3 69.5h.9M286.2 63.7h.9M290.3 60.4h.9M288.7 61.0h.9M285.6 65.1h.9M285.9 69.6h.9M291.7 61.7h.9M292.6 69.0h.9M288.5 63.2h.9M291.2 59.2h.9M287.2 64.3h.9M288.8 57.6h.9M294.7 66.5h.9M287.3 62.7h.9M289.9 67.7h.9M282.6 62.9h.9M284.6 66.8h.9M287.8 66.4h.9M286.5 66.7h.9M290.5 65.8h.9M280.0 68.6h.9M282.8 67.3h.9M292.4 64.9h.9M286.1 67.0h.9M286.3 61.9h.9M292.1 69.0h.9M288.0 63.8h.9M285.0 61.1h.9M287.4 62.3h.9M283.0 58.4h.9M291.5 69.6h.9M285.8 70.9h.9M289.6 71.0h.9M290.8 68.8h.9M285.3 65.0h.9M290.7 63.3h.9M289.8 60.8h.9M289.9 60.2h.9M286.2 72.1h.9M284.1 62.6h.9M285.5 64.2h.9M284.0 65.7h.9M288.6 62.3h.9M286.8 67.4h.9M288.7 61.8h.9M288.1 64.0h.9M287.5 59.9h.9M289.7 63.3h.9M287.8 69.5h.9M289.0 69.9h.9M286.5 60.3h.9M292.1 68.0h.9M290.0 59.2h.9M284.5 62.7h.9M292.3 65.2h.9M287.6 66.2h.9M291.1 64.6h.9M291.3 66.4h.9M281.3 70.1h.9M291.5 69.1h.9M286.7 65.8h.9M290.0 64.8h.9M292.3 66.7h.9M286.3 69.5h.9M289.9 65.7h.9M286.9 64.8h.9M286.8 67.8h.9M288.4 62.1h.9M290.8 54.8h.9M288.6 66.8h.9M290.6 68.0h.9M289.4 65.7h.9M287.1 66.3h.9M288.7 65.3h.9M285.7 69.2h.9M287.2 69.4h.9M282.5 66.8h.9M290.0 65.2h.9M286.4 63.1h.9M285.4 58.5h.9M284.6 62.2h.9M284.3 66.2h.9M291.0 65.9h.9M289.5 69.5h.9M286.9 67.1h.9M291.4 64.1h.9M287.7 65.3h.9M280.1 65.5h.9M286.6 64.4h.9M287.3 63.6h.9M285.8 71.7h.9M289.5 68.6h.9M282.9 66.6h.9M283.5 70.0h.9M291.5 62.9h.9M285.3 69.4h.9M292.2 67.8h.9M286.4 63.6h.9M285.0 58.8h.9M286.8 63.8h.9M289.1 67.5h.9M285.9 58.3h.9M291.3 63.6h.9M290.1 63.0h.9M284.1 58.0h.9M284.1 60.3h.9M290.2 63.5h.9M287.6 65.1h.9M284.6 61.3h.9M287.1 62.7h.9M288.6 70.2h.9M281.2 65.5h.9M285.2 69.9h.9M290.6 64.4h.9M285.5 66.3h.9M290.2 60.7h.9M293.4 61.3h.9M292.0 70.4h.9M286.6 63.8h.9M289.0 65.2h.9M286.0 64.0h.9M287.8 67.3h.9M290.1 65.1h.9M294.4 69.0h.9M288.5 63.6h.9M293.5 70.7h.9M287.6 67.8h.9M286.9 61.5h.9M285.3 58.8h.9M291.7 64.8h.9M287.7 70.5h.9M284.5 66.6h.9M287.9 58.1h.9M286.9 57.5h.9M289.7 67.3h.9M289.3 61.2h.9M296.1 63.9h.9M286.1 68.3h.9" stroke="#000" stroke-width=".9" stroke-opacity="1.00"/>
<path d="M257.2 51.7h.9M258.3 63.9h.9M270.7 68.3h.9M273.0 66.8h.9M280.9 68.2h.9M259.8 62.1h.9M265.6 64.2h.9M288.1 60.9h.9M281.1 61.4h.9M255.1 69.5h.9M272.3 64.6h.9M274.9 66.8h.9M284.4 70.0h.9M289.4 66.0h.9M258.6 61.8h.9M263.1 68.1h.9M288.5 68.7h.9M282.8 66.4h.9M275.0 67.4h.9M275.5 61.2h.9M262.4 73.5h.9M277.3 68.4h.9M259.8 65.1h.9M255.1 67.2h.9M279.6 72.3h.9M268.3 71.6h.9M272.9 62.0h.9M281.3 64.9h.9M256.7 57.6h.9M272.1 65.2h.9M279.7 79.2h.9M266.1 70.7h.9M264.0 59.6h.9M265.3 58.0h.9M261.8 64.1h.9M269.3 60.1h.9M267.0 70.6h.9M261.3 69.1h.9M268.0 57.5h.9M289.2 76.4h.9M286.8 68.7h.9M282.0 63.8h.9M258.8 65.7h.9M250.8 72.1h.9M281.1 65.8h.9M276.6 65.6h.9M270.9 64.2h.9M277.5 63.7h.9M284.3 68.2h.9M276.8 60.0h.9M242.6 72.2h.9M261.0 66.7h.9M269.1 71.4h.9M272.3 61.6h.9M258.5 63.7h.9M259.3 55.5h.9M245.3 70.1h.9M272.1 68.8h.9M267.1 65.7h.9M255.9 66.1h.9M273.5 69.1h.9M259.4 73.9h.9M271.9 65.1h.9M262.9 60.7h.9M264.3 65.4h.9M265.4 70.8h.9M281.4 69.1h.9M284.9 66.9h.9M274.3 61.5h.9M266.9 55.6h.9M266.2 67.8h.9M267.6 72.8h.9M273.9 63.2h.9M272.1 65.8h.9M280.3 61.4h.9M288.5 65.8h.9M288.9 58.7h.9M272.6 62.7h.9M257.2 67.5h.9M285.3 75.2h.9M268.2 68.6h.9M269.6 68.5h.9M284.2 77.4h.9M268.6 68.2h.9M281.1 72.3h.9M287.0 72.1h.9M262.6 67.8h.9M283.5 69.7h.9M264.1 63.1h.9M271.8 67.6h.9M275.1 71.2h.9M274.4 66.2h.9M269.1 60.8h.9M278.4 65.3h.9M265.6 63.8h.9M263.1 64.1h.9M265.6 86.2h.9M287.6 66.4h.9M263.0 73.6h.9M264.9 64.3h.9M270.7 77.9h.9M275.9 65.5h.9M262.4 62.1h.9M266.9 75.0h.9M281.1 71.7h.9M275.9 67.2h.9M275.4 66.4h.9M288.4 65.6h.9M290.1 62.3h.9M290.1 69.2h.9M266.9 68.5h.9M270.9 63.9h.9M259.3 72.3h.9M257.6 59.4h.9M277.6 59.5h.9M283.4 66.1h.9M260.6 71.2h.9M262.3 62.4h.9M274.0 63.6h.9M276.2 72.4h.9M276.3 65.1h.9M260.0 58.8h.9M257.9 74.4h.9M260.3 61.7h.9M277.9 70.6h.9M241.4 69.0h.9M253.9 63.1h.9M276.9 55.7h.9M272.5 69.2h.9M272.6 62.2h.9M271.4 67.5h.9M256.7 65.8h.9M278.5 77.3h.9M276.4 69.1h.9M274.8 70.2h.9M289.7 59.7h.9M276.6 69.0h.9M285.4 67.2h.9M256.0 60.9h.9M263.7 66.6h.9M264.2 77.7h.9M261.2 73.3h.9M263.7 57.3h.9M259.7 65.0h.9M274.2 62.2h.9M282.0 61.9h.9M268.5 68.6h.9M260.7 66.6h.9M270.8 67.9h.9M290.7 72.2h.9M287.2 64.7h.9M268.8 67.3h.9M275.4 61.4h.9M278.7 62.0h.9M263.5 65.6h.9M266.6 60.9h.9M281.9 66.2h.9M277.6 65.8h.9M255.4 65.3h.9M268.3 63.4h.9M278.2 65.1h.9M276.9 60.8h.9M267.4 63.7h.9M262.7 68.5h.9M271.6 67.4h.9M260.8 73.0h.9M285.0 66.8h.9M268.6 63.9h.9M277.1 59.2h.9M260.3 56.3h.9M264.9 64.1h.9M260.0 63.8h.9M260.1 73.2h.9M288.0 66.3h.9M280.2 66.3h.9M280.8 67.8h.9M271.7 73.3h.9M254.5 69.7h.9M272.1 68.2h.9M272.9 72.5h.9M244.1 64.1h.9M285.4 73.4h.9M282.4 57.9h.9M285.4 68.2h.9M294.5 69.8h.9M276.9 70.2h.9M267.2 67.8h.9M255.6 67.0h.9M273.2 67.8h.9M279.4 67.2h.9M275.1 64.1h.9M256.7 66.6h.9M249.7 72.1h.9M263.9 69.6h.9M274.6 65.8h.9M269.5 59.0h.9M260.3 61.9h.9M263.0 67.9h.9M261.1 63.2h.9M258.7 59.4h.9M259.4 61.9h.9M280.6 68.4h.9M261.7 67.8h.9M262.4 69.6h.9M256.0 61.6h.9M266.6 58.8h.9M291.4 68.5h.9M270.2 62.5h.9M288.2 61.0h.9M272.0 67.8h.9M289.1 69.8h.9M288.4 68.8h.9M259.0 68.5h.9M265.5 73.2h.9M284.6 65.4h.9M258.1 68.2h.9M256.8 64.7h.9M262.8 73.3h.9M260.4 66.6h.9M252.4 66.3h.9M264.5 61.1h.9M274.8 66.0h.9M260.0 66.6h.9M294.3 63.4h.9M276.3 61.6h.9M256.1 59.4h.9M271.2 73.1h.9M282.3 72.3h.9M267.7 61.5h.9M257.7 61.7h.9M257.7 64.4h.9M280.1 77.9h.9M277.2 60.6h.9M271.8 68.1h.9M286.5 56.3h.9M268.3 65.1h.9M262.3 71.1h.9M270.4 67.7h.9M258.1 56.7h.9M275.8 70.4h.9M275.1 65.0h.9M269.9 67.5h.9M279.4 64.9h.9M279.1 69.0h.9M250.4 72.0h.9M274.1 70.3h.9M275.5 72.9h.9M278.4 70.8h.9M246.9 67.5h.9M273.3 60.9h.9M285.9 67.6h.9M265.8 75.4h.9M266.2 68.5h.9M285.1 57.6h.9M267.4 64.1h.9M256.4 73.1h.9M278.4 72.4h.9" stroke="#000" stroke-width=".9" stroke-opacity="0.70"/>
<path d="M289.8 50.0h.9M276.5 52.9h.9M281.7 48.8h.9M285.8 54.5h.9M278.1 53.4h.9M300.1 46.8h.9M267.9 57.8h.9M274.1 54.9h.9M292.9 57.9h.9M286.7 52.3h.9M272.2 48.8h.9M284.4 46.0h.9M262.8 58.4h.9M272.8 48.7h.9M277.2 48.6h.9" stroke="#000" stroke-width=".9" stroke-opacity="0.65"/>
<path d="M268.5 40.2L268.5 103.2" stroke="#959595" stroke-width="1.0" fill="none"/>
<path d="M239.2 60.2L303.5 60.2" stroke="#959595" stroke-width="1.0" fill="none"/>
<rect x="241" y="42.17" width="17.11" height="6.46" fill="#fff"/>
<text x="241.5" y="48.1" font-size="7.6" text-anchor="start" font-weight="normal" fill="#161616" class="t">46.1</text>
<rect x="284.69" y="42.17" width="17.11" height="6.46" fill="#fff"/>
<text x="301.3" y="48.1" font-size="7.6" text-anchor="end" font-weight="normal" fill="#161616" class="t">3.77</text>
<rect x="241" y="96.37" width="17.11" height="6.46" fill="#fff"/>
<text x="241.5" y="102.3" font-size="7.6" text-anchor="start" font-weight="normal" fill="#161616" class="t">12.1</text>
<rect x="284.69" y="96.37" width="17.11" height="6.46" fill="#fff"/>
<text x="301.3" y="102.3" font-size="7.6" text-anchor="end" font-weight="normal" fill="#161616" class="t">38.1</text>
<rect x="239.2" y="40.2" width="64.3" height="63" fill="none" stroke="#000" stroke-width="1.35"/>
<text x="233" y="51.8" font-size="8.4" text-anchor="end" font-weight="normal" fill="#161616">10<tspan dy="-3.53" font-size="6.55">4</tspan></text>
<text x="233" y="67.4" font-size="8.4" text-anchor="end" font-weight="normal" fill="#161616">10<tspan dy="-3.53" font-size="6.55">3</tspan></text>
<text x="233" y="83" font-size="8.4" text-anchor="end" font-weight="normal" fill="#161616">10<tspan dy="-3.53" font-size="6.55">2</tspan></text>
<text x="233" y="98.6" font-size="8.4" text-anchor="end" font-weight="normal" fill="#161616">10<tspan dy="-3.53" font-size="6.55">1</tspan></text>
<path d="M239.2 47.8h-2.8M239.2 58.7h-1.5M239.2 55.96h-1.5M239.2 54.01h-1.5M239.2 52.5h-1.5M239.2 51.26h-1.5M239.2 50.22h-1.5M239.2 49.31h-1.5M239.2 48.51h-1.5M239.2 63.4h-2.8M239.2 74.3h-1.5M239.2 71.56h-1.5M239.2 69.61h-1.5M239.2 68.1h-1.5M239.2 66.86h-1.5M239.2 65.82h-1.5M239.2 64.91h-1.5M239.2 64.11h-1.5M239.2 79h-2.8M239.2 89.9h-1.5M239.2 87.16h-1.5M239.2 85.21h-1.5M239.2 83.7h-1.5M239.2 82.46h-1.5M239.2 81.42h-1.5M239.2 80.51h-1.5M239.2 79.71h-1.5M239.2 94.6h-2.8M239.2 102.76h-1.5M239.2 100.81h-1.5M239.2 99.3h-1.5M239.2 98.06h-1.5M239.2 97.02h-1.5M239.2 96.11h-1.5M239.2 95.31h-1.5M239.2 43.1h-1.5M239.2 46.29h-1.5" stroke="#000" stroke-width=".95"/>
<path d="M240.4 103.2v2.8M253.9 103.2v2.8M268.5 103.2v2.8M283.1 103.2v2.8M297.4 103.2v2.8M258.3 103.2v2M260.87 103.2v2M262.69 103.2v2M264.1 103.2v2M265.26 103.2v2M266.24 103.2v2M267.09 103.2v2M267.83 103.2v2M272.9 103.2v2M275.47 103.2v2M277.29 103.2v2M278.7 103.2v2M279.86 103.2v2M280.84 103.2v2M281.69 103.2v2M282.43 103.2v2M287.4 103.2v2M289.92 103.2v2M291.71 103.2v2M293.1 103.2v2M294.23 103.2v2M295.18 103.2v2M296.01 103.2v2M296.75 103.2v2M243.77 103.2v2M247.15 103.2v2M250.52 103.2v2M239.8 103.2v2M301.7 103.2v2" stroke="#000" stroke-width=".95"/>
<text transform="translate(248.8,114) rotate(-45)" font-size="8.4" text-anchor="end" font-weight="normal" fill="#161616">0</text>
<text transform="translate(258.4,113.8) rotate(-45)" font-size="8.4" text-anchor="end" font-weight="normal" fill="#161616">10<tspan dy="-3.53" font-size="6.22">2</tspan></text>
<text transform="translate(271.4,113.8) rotate(-45)" font-size="8.4" text-anchor="end" font-weight="normal" fill="#161616">10<tspan dy="-3.53" font-size="6.22">3</tspan></text>
<text transform="translate(286.6,113.8) rotate(-45)" font-size="8.4" text-anchor="end" font-weight="normal" fill="#161616">10<tspan dy="-3.53" font-size="6.22">4</tspan></text>
<text transform="translate(301.1,113.8) rotate(-45)" font-size="8.4" text-anchor="end" font-weight="normal" fill="#161616">10<tspan dy="-3.53" font-size="6.22">5</tspan></text>
<path d="M62.1 156.6h.9M56.4 157.6h.9M61.9 154.5h.9M58.3 153.0h.9M58.3 157.1h.9M49.1 153.5h.9M61.6 152.3h.9M63.3 156.0h.9M55.1 156.8h.9M63.1 155.3h.9M57.9 154.2h.9M61.5 155.7h.9M70.8 155.9h.9M60.6 153.6h.9M59.2 154.2h.9M60.0 153.2h.9M54.3 153.3h.9M56.9 150.6h.9M52.8 152.3h.9M49.9 156.4h.9M55.8 151.7h.9M65.6 155.8h.9M61.5 151.9h.9M55.8 156.1h.9M58.2 156.9h.9M52.7 152.9h.9M55.6 154.0h.9M60.1 153.6h.9M54.9 155.2h.9M50.4 152.6h.9M57.9 155.6h.9M50.4 152.4h.9M52.6 154.1h.9M54.6 154.0h.9M64.3 154.8h.9M59.4 151.9h.9M54.3 155.3h.9M59.4 154.8h.9M58.8 153.5h.9M58.1 155.6h.9M59.5 150.6h.9M63.0 151.9h.9M61.0 152.0h.9M61.0 152.4h.9M54.4 155.3h.9M63.8 155.6h.9M61.9 152.9h.9M58.8 150.9h.9M58.9 152.4h.9M65.7 154.7h.9M51.6 152.0h.9M67.0 154.9h.9M63.2 154.2h.9M53.1 154.7h.9M50.2 153.4h.9M64.4 147.6h.9M56.8 155.8h.9M51.0 154.5h.9M65.4 152.1h.9M56.0 153.2h.9M66.5 156.6h.9M59.8 152.3h.9M55.6 152.8h.9M58.7 152.1h.9M67.5 151.5h.9M56.5 152.0h.9M63.2 149.4h.9M54.8 155.4h.9M60.9 157.0h.9M59.6 157.0h.9M64.6 153.1h.9M61.9 155.8h.9M61.5 155.3h.9M61.0 155.5h.9M56.9 152.7h.9M55.9 154.7h.9M62.9 159.3h.9M64.5 152.1h.9M61.9 156.0h.9M51.8 152.9h.9M60.4 153.7h.9M56.4 156.0h.9M61.5 156.4h.9M57.9 154.2h.9M59.2 156.2h.9M63.3 152.6h.9M49.3 155.3h.9M59.8 152.5h.9M56.3 150.2h.9M49.9 151.0h.9M50.6 153.3h.9M50.1 154.0h.9M59.8 155.0h.9M56.4 155.8h.9M51.3 152.0h.9M55.7 152.3h.9M53.0 151.1h.9M59.0 155.4h.9M58.8 152.4h.9M61.6 155.7h.9M59.5 153.7h.9M63.4 152.5h.9M51.9 155.2h.9M63.1 154.2h.9M51.1 153.9h.9M68.0 152.0h.9M61.5 153.0h.9M60.8 153.0h.9M68.8 156.3h.9M55.6 153.8h.9M59.1 153.5h.9M58.3 152.2h.9M57.5 152.9h.9M55.3 149.6h.9M57.7 155.0h.9M52.4 153.7h.9M55.9 152.8h.9M51.0 150.6h.9M60.5 154.0h.9M62.4 153.5h.9M54.3 155.0h.9M65.2 151.9h.9M56.5 156.7h.9M62.1 155.4h.9M57.8 151.8h.9M52.6 153.6h.9M57.2 153.5h.9M64.4 154.7h.9M52.5 154.5h.9M60.8 152.3h.9M49.1 153.3h.9M54.6 156.5h.9M52.4 159.0h.9M60.2 152.1h.9M56.4 152.7h.9M62.1 154.9h.9M59.7 149.5h.9M55.9 155.3h.9M70.7 153.5h.9M56.4 153.1h.9M58.6 151.7h.9M59.8 154.8h.9M61.2 152.8h.9M50.5 152.8h.9M56.6 152.1h.9M57.2 155.2h.9M53.1 156.2h.9M62.6 153.5h.9M49.7 155.7h.9M59.2 153.7h.9M55.0 154.8h.9M49.1 151.4h.9M51.8 152.8h.9M54.2 153.4h.9M57.5 151.6h.9M64.0 155.3h.9M62.1 156.8h.9M56.6 150.1h.9M56.9 153.6h.9M63.6 151.8h.9M60.9 152.4h.9M53.6 152.5h.9M65.0 153.3h.9M56.3 154.2h.9M60.0 155.3h.9M57.3 153.2h.9M61.6 154.0h.9M59.9 155.6h.9M52.4 156.7h.9M57.9 152.3h.9M60.5 155.8h.9M58.1 154.6h.9M61.7 152.7h.9M64.1 152.1h.9M51.5 155.1h.9M61.8 151.0h.9M60.1 152.2h.9M52.1 151.7h.9M53.7 152.2h.9M63.7 156.3h.9M59.4 156.0h.9M61.5 156.5h.9M49.4 153.9h.9M56.0 153.0h.9M56.7 155.8h.9M59.6 154.1h.9M61.3 155.5h.9M59.7 153.5h.9M62.6 154.8h.9M56.6 153.9h.9M52.5 153.4h.9M59.2 155.2h.9M49.5 154.6h.9M54.0 151.4h.9M57.3 153.5h.9M58.5 153.5h.9M61.0 155.9h.9M66.0 155.0h.9M61.2 151.5h.9M56.1 155.3h.9M64.0 153.5h.9M61.5 154.0h.9M60.0 150.3h.9M64.4 154.9h.9M51.9 153.0h.9M56.6 152.8h.9M65.8 152.0h.9M63.6 155.1h.9M63.4 150.6h.9M58.0 155.1h.9M55.3 151.6h.9M65.8 156.2h.9M59.8 154.0h.9M69.3 153.1h.9M58.3 150.9h.9M65.4 152.4h.9M66.8 154.7h.9M53.3 154.3h.9M61.2 156.5h.9M57.2 149.3h.9M59.3 153.5h.9M66.9 155.3h.9M55.2 154.6h.9M56.2 153.9h.9M52.9 155.9h.9M54.7 155.1h.9M63.3 149.4h.9M60.1 152.5h.9M57.1 153.8h.9M56.1 155.9h.9M49.8 155.4h.9M55.8 151.2h.9M51.1 153.2h.9M62.4 154.5h.9M67.0 154.6h.9M61.3 154.5h.9M60.7 155.1h.9M65.5 153.0h.9M53.6 151.1h.9M60.0 155.0h.9M58.1 150.9h.9M55.1 152.6h.9M62.5 155.8h.9M57.2 153.7h.9M64.6 153.3h.9M62.1 155.3h.9M60.3 152.9h.9M57.4 153.5h.9M62.3 154.8h.9M61.8 156.8h.9M54.9 154.2h.9M65.0 152.6h.9M59.9 155.2h.9M61.0 153.7h.9M62.7 154.5h.9M64.2 151.8h.9M61.1 154.0h.9M51.7 154.3h.9M56.0 152.9h.9M55.8 153.0h.9M59.1 155.0h.9M65.4 153.3h.9M53.4 156.6h.9M52.9 153.1h.9M64.9 154.6h.9M56.5 155.9h.9M55.5 154.9h.9M54.0 151.7h.9M57.8 151.7h.9M58.1 153.0h.9M58.7 154.3h.9M66.0 150.5h.9M55.9 154.6h.9M53.7 155.9h.9M51.3 154.3h.9M65.3 154.3h.9M70.8 154.5h.9M58.9 152.6h.9M65.5 157.2h.9M60.4 155.4h.9M61.2 157.6h.9M64.7 153.1h.9M55.6 152.3h.9M54.8 153.7h.9M65.5 151.5h.9M51.4 154.4h.9M57.9 154.6h.9M63.7 157.7h.9M57.2 153.6h.9M60.6 154.6h.9M53.4 151.2h.9M54.8 150.6h.9M53.1 152.6h.9M49.6 151.8h.9M53.6 154.4h.9M54.0 155.0h.9M62.3 149.8h.9M61.6 153.3h.9M50.9 156.3h.9M55.3 156.0h.9M57.1 154.6h.9M61.4 157.7h.9M58.4 153.8h.9M54.8 154.7h.9M54.6 154.8h.9M60.3 153.9h.9M51.1 155.3h.9M53.3 151.8h.9M55.0 154.4h.9M59.8 154.6h.9M61.1 154.2h.9M57.0 152.5h.9M54.7 153.5h.9M62.9 154.1h.9M55.6 156.6h.9M54.8 152.0h.9M66.7 154.4h.9M56.1 152.7h.9M66.5 154.2h.9M54.2 158.3h.9M55.7 154.4h.9M56.3 153.8h.9M61.8 152.1h.9M50.0 152.0h.9M68.7 154.4h.9M55.0 155.6h.9M56.5 155.4h.9M63.4 152.8h.9M61.2 154.9h.9M62.1 156.6h.9M62.6 157.0h.9M54.0 153.2h.9M62.9 151.2h.9M59.1 156.1h.9M58.6 153.9h.9M64.2 154.3h.9M59.4 151.8h.9M58.1 152.0h.9M61.8 154.4h.9M56.7 155.0h.9M65.3 154.6h.9M60.2 155.5h.9M58.8 153.2h.9M66.4 151.3h.9M62.1 155.4h.9M48.9 152.8h.9M57.6 154.5h.9M54.8 154.0h.9M50.0 154.7h.9M60.8 152.7h.9M55.0 157.3h.9M57.8 151.2h.9M54.0 155.4h.9M57.0 153.3h.9M52.6 155.5h.9M61.6 153.0h.9M64.3 154.0h.9M56.6 154.7h.9M50.8 154.0h.9M54.7 153.0h.9M65.4 157.5h.9M62.5 154.0h.9M52.8 152.3h.9M57.5 155.5h.9M63.9 155.0h.9M61.9 155.7h.9M55.2 154.5h.9M52.5 150.7h.9M52.2 152.2h.9M61.2 153.2h.9M61.0 153.0h.9M50.5 153.8h.9M55.1 150.3h.9M62.0 155.7h.9M55.2 152.6h.9M51.2 151.1h.9M62.1 153.1h.9M64.0 152.3h.9M56.8 154.6h.9M54.2 153.3h.9M71.4 151.6h.9M52.1 155.2h.9M56.4 155.1h.9M63.8 152.0h.9M55.7 152.9h.9M60.0 157.1h.9M51.2 153.3h.9M59.2 152.7h.9M56.4 156.2h.9M55.2 156.0h.9M50.0 155.4h.9M59.6 152.6h.9M49.5 153.0h.9M53.7 150.3h.9M65.5 153.1h.9M58.7 152.8h.9M53.3 155.2h.9M62.3 155.6h.9M56.5 154.5h.9M62.7 152.5h.9M55.4 153.2h.9M54.0 154.5h.9M58.3 153.3h.9M48.5 153.7h.9M56.9 153.0h.9M54.7 154.9h.9M53.1 153.5h.9M63.3 154.3h.9M51.3 153.2h.9" stroke="#000" stroke-width=".9" stroke-opacity="1.00"/>
<path d="M63.3 155.8h.9M61.6 155.6h.9M53.0 157.0h.9M57.4 157.8h.9M55.7 154.0h.9M54.7 150.5h.9M71.4 154.1h.9M58.7 157.2h.9M67.1 151.1h.9M58.8 154.7h.9M65.3 151.3h.9M60.2 157.6h.9M57.6 153.9h.9M75.8 154.4h.9M60.3 156.4h.9M70.2 153.9h.9M55.5 158.8h.9M64.4 155.8h.9M59.7 154.5h.9M68.0 149.8h.9M56.0 153.4h.9M68.6 156.0h.9M55.7 156.5h.9M57.6 157.8h.9M56.1 154.5h.9M54.6 155.6h.9M60.7 157.8h.9M67.5 155.1h.9M51.4 156.4h.9M72.3 157.3h.9M51.5 148.7h.9M56.2 154.7h.9M65.0 152.9h.9M61.7 156.7h.9M62.0 154.3h.9M58.7 158.4h.9M65.8 152.7h.9M57.3 152.1h.9M54.9 155.2h.9M65.4 152.8h.9M51.8 151.9h.9M69.2 152.4h.9M58.8 158.8h.9M64.5 154.6h.9M67.9 155.5h.9M65.6 153.0h.9M73.5 152.7h.9M54.6 147.9h.9M67.3 155.6h.9M66.0 151.0h.9M61.5 152.9h.9M55.1 154.2h.9M74.7 156.2h.9M60.7 155.7h.9M53.4 153.5h.9M69.7 157.5h.9M64.8 148.5h.9M53.2 152.1h.9M56.3 154.3h.9M61.0 149.6h.9M63.8 157.8h.9M58.4 161.1h.9M71.1 152.1h.9M63.0 154.5h.9M52.9 155.5h.9M64.4 150.8h.9M58.8 155.1h.9M64.8 153.5h.9M67.2 155.8h.9M66.3 162.3h.9M71.5 157.5h.9M50.4 152.4h.9M69.9 161.1h.9M64.2 161.1h.9M62.9 154.4h.9M54.3 152.4h.9M54.6 154.1h.9M58.7 155.5h.9M70.3 158.2h.9M72.4 156.7h.9M51.1 157.5h.9M56.9 152.3h.9M68.5 155.5h.9M75.0 157.0h.9M76.8 149.8h.9M65.0 154.2h.9M58.9 154.6h.9M61.8 154.2h.9M67.7 156.8h.9M63.6 155.0h.9M67.4 150.5h.9M71.2 155.0h.9M59.3 150.6h.9M63.9 149.5h.9M55.6 152.2h.9M62.1 155.1h.9M62.8 156.9h.9M80.9 155.6h.9M57.7 155.0h.9M65.5 156.5h.9M61.6 155.7h.9M57.5 153.1h.9M60.4 153.2h.9M73.5 152.8h.9M54.6 156.2h.9M64.7 151.5h.9M59.0 158.3h.9M58.1 156.9h.9M68.3 157.1h.9M63.1 157.0h.9M66.0 155.2h.9M62.9 155.1h.9M61.0 153.3h.9M84.8 158.6h.9M49.7 152.9h.9" stroke="#000" stroke-width=".9" stroke-opacity="0.75"/>
<path d="M82.3 166.4h.9M86.9 167.9h.9M96.4 168.1h.9M94.5 166.1h.9M93.7 163.2h.9M92.7 168.2h.9M93.5 168.0h.9M92.8 165.2h.9M88.6 166.1h.9M95.2 164.1h.9M93.9 164.3h.9M94.4 163.2h.9M88.5 161.9h.9M85.3 169.1h.9M92.2 163.6h.9M82.1 165.8h.9M87.4 166.0h.9M89.6 168.6h.9M89.5 167.1h.9M92.9 166.8h.9M90.9 167.7h.9M90.7 163.3h.9M85.2 162.0h.9M94.8 161.1h.9M94.9 162.0h.9M93.5 164.3h.9M94.2 161.0h.9M87.8 165.9h.9M79.0 166.0h.9M90.0 162.6h.9M96.8 161.2h.9M95.0 169.0h.9M99.1 166.1h.9M98.2 169.1h.9M89.8 167.6h.9M95.9 168.2h.9M93.2 165.5h.9M94.6 161.6h.9M85.4 165.1h.9M88.1 165.6h.9M84.9 169.8h.9M94.8 164.3h.9M90.9 164.2h.9M89.6 166.4h.9M92.9 169.9h.9M89.5 164.1h.9M90.2 167.4h.9M99.9 164.1h.9M98.1 158.4h.9M92.3 166.6h.9M91.4 161.6h.9M90.9 162.6h.9M95.5 162.6h.9M90.7 163.3h.9M94.3 169.0h.9M87.8 160.5h.9M90.5 167.7h.9M91.3 167.4h.9M93.0 166.7h.9M95.7 159.2h.9M91.2 165.2h.9M97.7 160.4h.9M93.4 167.5h.9M91.4 169.2h.9M86.6 168.4h.9M82.3 162.8h.9M89.9 163.6h.9M88.4 164.9h.9M88.3 164.0h.9M89.8 161.8h.9M88.8 165.5h.9M92.0 173.1h.9M105.8 165.1h.9M91.8 166.0h.9M97.7 166.0h.9M93.1 169.4h.9M100.6 165.7h.9M93.6 162.1h.9M89.9 157.6h.9M93.9 167.4h.9M93.4 165.6h.9M90.1 169.0h.9M89.9 160.7h.9M89.5 164.6h.9M92.8 167.0h.9M92.5 169.0h.9M88.1 165.6h.9M93.7 162.8h.9M92.0 168.0h.9M85.7 165.6h.9M92.3 161.5h.9M99.9 163.9h.9M91.8 164.3h.9M96.4 166.4h.9M90.0 171.2h.9M91.3 163.6h.9M83.4 164.4h.9M93.8 166.3h.9M88.9 162.5h.9M88.9 170.8h.9M98.1 165.7h.9M95.2 163.1h.9M93.3 163.2h.9M87.8 167.0h.9M88.2 165.8h.9M98.3 162.0h.9M101.0 163.1h.9M86.4 168.8h.9M90.8 166.7h.9M90.5 162.3h.9M91.9 166.9h.9M91.5 163.5h.9M94.2 171.4h.9M84.7 164.8h.9M91.8 165.4h.9M95.7 167.5h.9M91.1 165.4h.9M101.3 160.2h.9M96.1 166.0h.9M81.6 161.0h.9M95.0 164.1h.9M94.5 167.8h.9M86.5 165.5h.9M88.5 164.5h.9M93.1 165.9h.9M100.4 168.4h.9M89.1 164.1h.9M92.6 164.5h.9M85.5 166.6h.9M88.6 171.5h.9M86.5 163.6h.9M95.5 166.5h.9M88.3 173.5h.9M95.1 159.7h.9M90.0 169.3h.9M85.5 167.3h.9M91.2 160.8h.9M94.2 164.7h.9M94.7 160.8h.9M91.2 166.8h.9M95.7 162.3h.9M89.2 163.5h.9M88.3 165.7h.9M82.5 171.5h.9M92.1 165.4h.9M92.4 158.9h.9M97.1 164.0h.9M93.6 164.6h.9M98.3 165.4h.9M92.2 165.7h.9M93.2 160.1h.9M94.2 165.1h.9M89.0 168.5h.9M94.4 165.9h.9M88.5 160.4h.9M88.9 165.1h.9M93.8 162.7h.9M97.0 166.6h.9M90.5 165.5h.9M90.7 167.8h.9M91.5 163.4h.9M92.2 168.3h.9M98.6 166.9h.9M91.7 166.9h.9M95.4 166.6h.9M89.9 163.3h.9M93.0 168.2h.9M90.2 162.9h.9M88.8 170.5h.9M89.2 162.1h.9M91.0 168.6h.9M97.7 159.9h.9M93.9 163.0h.9M90.0 161.7h.9M92.6 159.8h.9M87.0 160.6h.9M91.9 165.6h.9M94.7 165.2h.9M92.1 167.7h.9M88.1 169.7h.9M88.4 164.8h.9M88.9 168.7h.9M91.8 165.0h.9M89.6 164.4h.9M89.8 167.4h.9M85.9 165.0h.9M91.4 168.5h.9M96.7 163.9h.9M94.1 165.7h.9M92.4 170.7h.9M86.1 165.2h.9M95.3 164.9h.9M90.8 165.1h.9M93.2 166.8h.9M94.4 161.9h.9M90.6 168.1h.9M99.6 162.2h.9M92.9 165.4h.9M87.2 167.6h.9M93.9 166.7h.9M94.9 165.8h.9M90.1 166.7h.9M84.6 167.2h.9M91.0 162.6h.9M90.4 166.8h.9M88.4 169.2h.9M87.7 162.5h.9M88.3 167.0h.9M91.2 158.7h.9M89.3 167.4h.9M92.5 166.7h.9M91.4 164.8h.9M94.0 167.2h.9M93.3 168.2h.9M94.2 161.2h.9M83.6 171.4h.9M95.3 164.0h.9M86.5 165.4h.9M92.8 164.9h.9M100.5 164.4h.9M91.6 168.1h.9M92.9 165.7h.9M96.2 164.8h.9M92.0 169.6h.9M92.4 164.4h.9M89.9 167.9h.9M94.6 164.7h.9M91.9 165.2h.9M88.9 160.3h.9M87.5 168.6h.9M94.1 167.1h.9M89.1 162.7h.9M97.8 164.4h.9M91.9 164.4h.9M88.6 162.4h.9M86.1 168.6h.9M101.2 166.3h.9M94.2 166.5h.9M93.5 168.0h.9M92.7 162.0h.9M87.0 167.5h.9M85.0 164.1h.9M89.9 167.9h.9M97.6 165.6h.9M91.8 164.3h.9M92.5 163.0h.9M94.2 166.2h.9M88.1 168.0h.9M95.1 161.3h.9M88.4 168.4h.9M91.7 165.5h.9M93.6 163.3h.9M93.9 167.0h.9M89.0 164.8h.9M92.2 162.4h.9M91.3 164.9h.9M92.8 161.5h.9M88.9 163.0h.9M88.1 168.2h.9M93.0 167.0h.9M92.5 157.6h.9M86.3 164.6h.9M97.8 158.9h.9M83.8 162.4h.9M92.3 169.4h.9M88.3 163.5h.9M88.6 163.4h.9M99.9 159.9h.9M83.9 167.4h.9M89.7 171.0h.9M94.8 166.9h.9M88.8 169.3h.9M94.7 168.6h.9M89.3 163.0h.9M94.4 169.3h.9M92.1 161.4h.9M92.6 164.4h.9M95.0 165.5h.9M91.5 163.0h.9M86.9 164.9h.9M91.3 169.1h.9M86.6 167.5h.9M94.1 162.4h.9M93.1 168.2h.9M94.0 167.9h.9M92.1 166.3h.9M90.5 165.5h.9M87.1 166.3h.9M90.3 166.8h.9M91.6 163.3h.9M89.4 168.4h.9M88.9 168.3h.9M91.4 164.0h.9M90.4 168.1h.9M86.5 161.7h.9M88.9 168.3h.9M92.6 168.5h.9M95.4 168.1h.9M85.0 169.5h.9M90.8 165.6h.9M90.7 162.4h.9M90.4 164.1h.9M94.5 162.5h.9M87.0 164.9h.9M88.7 162.8h.9M96.4 163.7h.9M95.9 158.5h.9M88.4 164.1h.9M89.9 160.8h.9M95.6 163.6h.9M87.5 166.7h.9M90.9 167.4h.9M91.0 163.1h.9M92.2 165.4h.9M91.2 165.2h.9M89.6 162.0h.9M88.3 161.0h.9M87.4 165.6h.9M89.9 168.0h.9M92.0 171.7h.9M95.8 170.2h.9M91.0 165.9h.9M88.5 162.1h.9M92.9 164.8h.9M83.5 163.3h.9M89.3 158.5h.9M93.8 165.9h.9M90.2 164.7h.9M100.0 162.3h.9M89.8 161.4h.9M89.2 168.8h.9M92.3 168.4h.9M100.2 169.2h.9M90.1 163.1h.9M89.7 164.8h.9M96.5 164.0h.9M91.9 167.8h.9M84.7 174.7h.9M97.0 161.9h.9M84.4 167.0h.9M91.4 172.1h.9M90.8 163.3h.9M90.6 162.6h.9M92.8 167.9h.9M90.5 167.0h.9M94.7 161.9h.9M90.8 165.2h.9M96.1 166.2h.9M85.0 164.3h.9M91.4 167.6h.9M88.2 173.8h.9M92.3 164.7h.9M88.5 163.2h.9M96.0 163.2h.9M85.9 167.2h.9M88.2 168.4h.9M93.1 162.8h.9M90.7 167.8h.9M87.2 171.2h.9M95.3 165.9h.9M89.5 165.7h.9M89.4 169.9h.9M85.5 173.2h.9M95.7 160.4h.9M92.4 166.7h.9M96.5 168.4h.9M96.7 163.8h.9M94.5 161.7h.9M96.9 167.2h.9M92.5 162.3h.9M85.7 165.7h.9M94.1 165.4h.9M89.1 168.8h.9M82.1 170.1h.9M90.0 169.5h.9M88.7 165.9h.9M91.7 167.0h.9M88.0 162.8h.9M98.7 166.0h.9M86.1 167.0h.9" stroke="#000" stroke-width=".9" stroke-opacity="0.90"/>
<path d="M62.2 174.2h.9M73.3 165.2h.9M90.5 160.6h.9M79.2 161.4h.9M71.3 169.4h.9M91.3 173.0h.9M51.7 163.1h.9M75.2 167.9h.9M73.9 168.2h.9M83.7 168.9h.9M80.8 160.3h.9M59.7 163.0h.9M89.1 161.2h.9M85.8 172.2h.9M69.7 171.7h.9M69.2 169.9h.9M73.2 165.7h.9M80.4 168.8h.9M60.0 165.9h.9M57.8 170.0h.9M64.9 177.6h.9M53.5 162.8h.9M54.7 163.4h.9M59.2 156.3h.9M72.4 168.7h.9M85.2 170.5h.9M91.2 170.8h.9M96.4 164.2h.9M80.1 168.5h.9M66.4 168.1h.9M82.0 172.4h.9M78.6 168.1h.9M64.7 165.8h.9M95.3 167.0h.9M58.2 168.2h.9M79.2 173.8h.9M67.9 175.4h.9M78.4 182.7h.9M50.8 177.7h.9M74.7 167.5h.9M89.0 162.7h.9M86.5 166.4h.9M81.2 170.7h.9M68.3 169.7h.9M87.9 159.8h.9M90.1 171.7h.9M82.1 169.3h.9M60.5 163.9h.9M61.4 175.3h.9M85.4 169.7h.9M57.3 167.2h.9M73.7 163.7h.9M74.1 168.5h.9M68.2 169.5h.9M72.4 172.9h.9M69.6 175.5h.9M89.3 163.2h.9M74.2 171.9h.9M86.0 162.3h.9M63.3 160.6h.9M82.0 171.0h.9M56.4 170.7h.9M70.8 166.7h.9M55.5 159.9h.9M59.4 168.0h.9M71.3 159.3h.9M83.9 159.9h.9M60.4 169.8h.9M72.7 171.5h.9M108.6 170.1h.9M100.9 157.2h.9M83.0 161.3h.9M62.2 170.4h.9M60.4 165.7h.9M66.5 165.5h.9M64.5 161.2h.9M91.8 160.1h.9M75.0 169.6h.9M63.0 176.6h.9M88.7 172.9h.9M64.3 163.9h.9M63.9 162.2h.9M57.4 171.0h.9M85.1 165.4h.9M84.4 170.3h.9M79.0 165.3h.9M91.8 162.1h.9M70.2 170.4h.9M76.5 168.6h.9M81.2 168.9h.9M77.0 160.5h.9M60.3 167.8h.9M65.5 159.0h.9M72.2 168.5h.9M69.5 152.7h.9M88.2 170.8h.9M62.1 165.9h.9M74.1 170.8h.9M74.8 177.3h.9M71.0 174.0h.9M86.3 164.6h.9M63.8 159.6h.9M98.0 166.1h.9M67.9 179.6h.9M83.6 166.2h.9M71.0 167.8h.9M58.7 162.1h.9M82.3 167.4h.9M66.0 172.8h.9M68.9 161.0h.9M63.1 170.5h.9M70.4 164.9h.9M65.0 165.7h.9M104.8 170.1h.9M72.3 164.0h.9M76.8 164.9h.9M88.2 171.2h.9M75.1 172.6h.9M73.9 178.5h.9M56.4 165.6h.9M72.7 173.6h.9M54.3 169.6h.9M83.1 168.1h.9M85.1 165.5h.9M60.3 179.4h.9M96.5 160.9h.9M75.6 175.9h.9M78.4 166.2h.9M96.7 174.4h.9M87.1 166.9h.9M80.2 165.5h.9M68.1 169.5h.9M80.3 173.0h.9M71.8 166.1h.9M70.9 167.5h.9M83.3 172.3h.9M77.4 167.5h.9M67.5 163.9h.9M61.3 168.4h.9M64.9 160.4h.9M77.5 164.2h.9M74.1 170.2h.9M80.6 175.0h.9M51.7 167.3h.9M52.9 167.5h.9M72.0 173.8h.9M84.0 173.9h.9M52.0 166.6h.9M78.1 169.3h.9M69.8 159.8h.9M96.3 175.8h.9M69.1 170.4h.9M71.2 182.5h.9M74.8 172.2h.9M70.2 171.2h.9M81.0 163.4h.9M90.0 170.2h.9M74.7 171.0h.9M77.6 167.7h.9M58.6 166.2h.9M86.3 165.7h.9M75.4 168.8h.9M77.9 162.5h.9M68.3 171.9h.9M69.9 164.0h.9M74.4 162.9h.9M82.4 170.1h.9M75.8 158.2h.9M69.2 164.1h.9M84.1 170.4h.9M81.9 169.7h.9M82.3 162.2h.9M68.7 163.3h.9M62.9 159.3h.9M76.2 165.8h.9M66.8 170.1h.9M68.5 167.0h.9M61.1 162.7h.9M88.4 175.8h.9M70.5 165.5h.9M68.5 182.3h.9M83.2 174.8h.9M65.1 164.2h.9M69.7 171.5h.9M81.1 166.9h.9M76.5 169.9h.9M67.6 165.5h.9M84.7 160.4h.9M73.3 168.7h.9M68.1 166.9h.9M73.1 172.1h.9M99.1 179.0h.9M77.5 167.6h.9M85.0 166.9h.9M65.8 171.3h.9M92.5 166.0h.9M72.4 167.1h.9M88.2 162.5h.9M83.2 171.8h.9M67.1 167.9h.9M85.4 164.5h.9M67.5 171.4h.9M60.8 172.9h.9M66.9 166.5h.9M88.6 166.6h.9M90.6 171.4h.9M63.3 172.6h.9M79.9 165.1h.9M76.8 166.7h.9M61.6 169.1h.9M75.2 164.8h.9M75.1 173.9h.9M75.8 156.7h.9M87.5 172.7h.9M59.4 170.2h.9M55.6 172.9h.9M62.8 167.7h.9M74.6 169.2h.9M78.5 172.6h.9M87.5 172.5h.9M55.0 168.6h.9M67.5 173.4h.9M92.8 160.8h.9M60.8 161.1h.9M48.5 164.4h.9" stroke="#000" stroke-width=".9" stroke-opacity="0.68"/>
<path d="M76.1 140.2L76.1 203.9" stroke="#959595" stroke-width="1.0" fill="none"/>
<path d="M47.3 160.7L111 160.7" stroke="#959595" stroke-width="1.0" fill="none"/>
<rect x="49.1" y="142.17" width="17.11" height="6.46" fill="#fff"/>
<text x="49.6" y="148.1" font-size="7.6" text-anchor="start" font-weight="normal" fill="#161616" class="t">57.2</text>
<rect x="92.19" y="142.17" width="17.11" height="6.46" fill="#fff"/>
<text x="108.8" y="148.1" font-size="7.6" text-anchor="end" font-weight="normal" fill="#161616" class="t">0.58</text>
<rect x="49.1" y="197.07" width="17.11" height="6.46" fill="#fff"/>
<text x="49.6" y="203" font-size="7.6" text-anchor="start" font-weight="normal" fill="#161616" class="t">5.42</text>
<rect x="92.19" y="197.07" width="17.11" height="6.46" fill="#fff"/>
<text x="108.8" y="203" font-size="7.6" text-anchor="end" font-weight="normal" fill="#161616" class="t">36.8</text>
<rect x="47.3" y="140.2" width="63.7" height="63.7" fill="none" stroke="#000" stroke-width="1.35"/>
<text x="41.1" y="151.8" font-size="8.4" text-anchor="end" font-weight="normal" fill="#161616">10<tspan dy="-3.53" font-size="6.55">4</tspan></text>
<text x="41.1" y="167.4" font-size="8.4" text-anchor="end" font-weight="normal" fill="#161616">10<tspan dy="-3.53" font-size="6.55">3</tspan></text>
<text x="41.1" y="183" font-size="8.4" text-anchor="end" font-weight="normal" fill="#161616">10<tspan dy="-3.53" font-size="6.55">2</tspan></text>
<text x="41.1" y="198.6" font-size="8.4" text-anchor="end" font-weight="normal" fill="#161616">10<tspan dy="-3.53" font-size="6.55">1</tspan></text>
<path d="M47.3 147.8h-2.8M47.3 158.7h-1.5M47.3 155.96h-1.5M47.3 154.01h-1.5M47.3 152.5h-1.5M47.3 151.26h-1.5M47.3 150.22h-1.5M47.3 149.31h-1.5M47.3 148.51h-1.5M47.3 163.4h-2.8M47.3 174.3h-1.5M47.3 171.56h-1.5M47.3 169.61h-1.5M47.3 168.1h-1.5M47.3 166.86h-1.5M47.3 165.82h-1.5M47.3 164.91h-1.5M47.3 164.11h-1.5M47.3 179h-2.8M47.3 189.9h-1.5M47.3 187.16h-1.5M47.3 185.21h-1.5M47.3 183.7h-1.5M47.3 182.46h-1.5M47.3 181.42h-1.5M47.3 180.51h-1.5M47.3 179.71h-1.5M47.3 194.6h-2.8M47.3 202.76h-1.5M47.3 200.81h-1.5M47.3 199.3h-1.5M47.3 198.06h-1.5M47.3 197.02h-1.5M47.3 196.11h-1.5M47.3 195.31h-1.5M47.3 143.1h-1.5M47.3 146.29h-1.5" stroke="#000" stroke-width=".95"/>
<path d="M48.5 203.9v2.8M62 203.9v2.8M76.6 203.9v2.8M91.2 203.9v2.8M105.5 203.9v2.8M66.4 203.9v2M68.97 203.9v2M70.79 203.9v2M72.2 203.9v2M73.36 203.9v2M74.34 203.9v2M75.19 203.9v2M75.93 203.9v2M81 203.9v2M83.57 203.9v2M85.39 203.9v2M86.8 203.9v2M87.96 203.9v2M88.94 203.9v2M89.79 203.9v2M90.53 203.9v2M95.5 203.9v2M98.02 203.9v2M99.81 203.9v2M101.2 203.9v2M102.33 203.9v2M103.28 203.9v2M104.11 203.9v2M104.85 203.9v2M51.88 203.9v2M55.25 203.9v2M58.62 203.9v2M47.9 203.9v2M109.8 203.9v2" stroke="#000" stroke-width=".95"/>
<text transform="translate(56.9,214.7) rotate(-45)" font-size="8.4" text-anchor="end" font-weight="normal" fill="#161616">0</text>
<text transform="translate(66.5,214.5) rotate(-45)" font-size="8.4" text-anchor="end" font-weight="normal" fill="#161616">10<tspan dy="-3.53" font-size="6.22">2</tspan></text>
<text transform="translate(79.5,214.5) rotate(-45)" font-size="8.4" text-anchor="end" font-weight="normal" fill="#161616">10<tspan dy="-3.53" font-size="6.22">3</tspan></text>
<text transform="translate(94.7,214.5) rotate(-45)" font-size="8.4" text-anchor="end" font-weight="normal" fill="#161616">10<tspan dy="-3.53" font-size="6.22">4</tspan></text>
<text transform="translate(109.2,214.5) rotate(-45)" font-size="8.4" text-anchor="end" font-weight="normal" fill="#161616">10<tspan dy="-3.53" font-size="6.22">5</tspan></text>
<path d="M160.7 154.0h.9M162.1 151.9h.9M155.9 153.9h.9M156.4 152.8h.9M159.8 155.3h.9M157.4 153.4h.9M156.6 154.2h.9M154.6 153.9h.9M156.0 154.1h.9M150.5 151.7h.9M149.1 151.0h.9M159.6 152.5h.9M162.0 153.2h.9M167.3 154.9h.9M161.0 153.9h.9M155.0 151.7h.9M160.6 153.7h.9M154.4 153.8h.9M168.3 153.0h.9M158.7 151.2h.9M164.4 151.8h.9M153.2 154.1h.9M157.0 154.7h.9M155.0 153.9h.9M156.5 151.7h.9M164.9 149.3h.9M160.3 152.0h.9M150.6 152.2h.9M164.2 154.1h.9M157.3 153.7h.9M148.1 152.4h.9M154.2 154.0h.9M162.9 155.4h.9M153.2 155.0h.9M161.4 152.3h.9M152.6 153.2h.9M158.9 153.4h.9M158.4 151.4h.9M155.6 152.5h.9M153.3 153.3h.9M161.8 152.9h.9M168.3 153.8h.9M156.5 152.6h.9M159.6 151.3h.9M159.9 153.0h.9M157.1 151.5h.9M160.0 152.7h.9M155.3 151.2h.9M157.4 150.5h.9M161.1 153.1h.9M161.6 153.4h.9M146.6 153.6h.9M158.6 154.3h.9M163.5 153.3h.9M157.8 149.3h.9M159.9 152.4h.9M159.3 152.3h.9M157.3 153.1h.9M157.5 152.8h.9M162.9 155.4h.9M161.3 151.9h.9M160.0 154.4h.9M157.0 152.3h.9M154.8 151.5h.9M164.1 153.7h.9M151.5 151.1h.9M156.7 157.5h.9M158.5 154.3h.9M156.6 151.9h.9M155.5 154.1h.9M150.8 154.8h.9M152.1 150.8h.9M161.8 153.5h.9M153.3 153.1h.9M163.6 153.3h.9M157.6 153.5h.9M153.5 152.7h.9M161.8 151.6h.9M152.6 154.3h.9M154.0 149.1h.9M152.4 153.6h.9M153.1 155.2h.9M151.0 152.8h.9M164.8 152.8h.9M163.0 151.9h.9M154.4 155.6h.9M163.1 153.9h.9M155.7 153.9h.9M156.7 151.0h.9M147.6 152.3h.9M158.9 154.4h.9M158.1 156.8h.9M153.6 154.0h.9M156.4 152.3h.9M162.1 152.2h.9M154.4 153.2h.9M154.0 151.2h.9M149.0 150.5h.9M170.5 150.6h.9M160.1 153.7h.9M160.6 153.1h.9M149.7 153.1h.9M157.5 151.8h.9M160.0 152.4h.9M150.9 153.6h.9M151.2 155.5h.9M157.9 154.5h.9M170.3 152.9h.9M156.4 151.6h.9M163.8 152.5h.9M161.4 153.7h.9M163.1 152.1h.9M160.3 151.7h.9M152.6 153.3h.9M147.1 154.8h.9M160.1 153.2h.9M159.1 153.2h.9M159.4 154.0h.9M159.2 155.5h.9M154.2 152.5h.9M162.2 153.4h.9M163.8 155.0h.9M154.5 155.0h.9M160.9 151.8h.9M158.1 152.3h.9M155.0 151.1h.9M153.7 153.4h.9M148.6 152.8h.9M158.6 157.2h.9M153.1 154.7h.9M156.4 151.6h.9M155.9 152.1h.9M154.9 152.0h.9M160.5 149.7h.9M167.1 151.0h.9M162.1 154.0h.9M152.1 153.9h.9M148.9 153.8h.9M158.0 154.4h.9M162.1 155.7h.9M164.8 153.9h.9M160.8 154.4h.9M150.9 152.8h.9M164.2 152.7h.9M157.4 154.1h.9M157.1 152.3h.9M150.5 154.1h.9M161.3 151.9h.9M155.3 151.9h.9M153.6 155.5h.9M152.1 153.9h.9M162.9 153.7h.9M153.0 150.5h.9M154.5 151.9h.9M157.0 154.2h.9M164.2 152.2h.9M156.2 154.0h.9M151.9 152.1h.9M153.3 152.9h.9M162.3 153.9h.9M155.9 153.4h.9M149.7 151.2h.9M156.4 152.5h.9M161.8 155.4h.9M159.0 154.1h.9M156.4 153.1h.9M166.0 152.2h.9M161.5 151.6h.9M155.9 153.6h.9M156.7 154.8h.9M161.8 151.8h.9M166.2 151.8h.9M162.7 150.5h.9M167.7 154.6h.9M161.0 152.7h.9M145.3 152.6h.9M156.9 150.6h.9M160.2 153.9h.9M149.8 151.0h.9M163.6 152.5h.9M154.7 153.4h.9M156.5 153.0h.9M160.9 151.7h.9M155.5 151.5h.9M157.7 153.1h.9M157.8 153.9h.9M161.6 153.2h.9M151.3 153.0h.9M153.7 151.4h.9M161.1 154.2h.9M156.2 153.3h.9M161.6 153.1h.9M160.9 153.3h.9M162.3 153.4h.9M159.4 153.2h.9M156.2 150.5h.9M158.6 152.7h.9M162.3 149.8h.9M148.1 155.6h.9M151.5 152.5h.9M154.0 155.6h.9M155.5 153.5h.9M153.0 151.9h.9M155.8 153.8h.9M159.2 152.0h.9M161.9 156.3h.9M161.6 152.9h.9M166.5 155.7h.9M159.9 154.4h.9M163.2 157.0h.9M155.4 152.3h.9M163.7 152.6h.9M155.4 154.7h.9M160.1 154.7h.9M158.4 156.0h.9M160.5 154.1h.9M161.0 152.1h.9M169.2 148.3h.9M156.4 151.0h.9M157.6 151.2h.9M151.7 154.2h.9M162.2 153.1h.9M165.3 153.7h.9M162.9 153.9h.9M153.7 152.1h.9M149.6 151.0h.9M161.6 154.0h.9M152.1 150.0h.9M159.3 149.6h.9M158.0 153.6h.9M153.4 155.9h.9M155.1 155.0h.9M163.7 153.4h.9M156.2 151.8h.9M159.9 151.7h.9M158.1 152.1h.9M165.6 154.3h.9M157.5 153.5h.9M157.1 151.3h.9M160.5 155.4h.9M159.8 153.7h.9M160.1 154.7h.9M160.6 156.4h.9M160.2 154.8h.9M164.3 153.6h.9M164.4 154.2h.9M158.5 156.8h.9M157.7 151.5h.9M161.2 153.5h.9M163.2 150.7h.9M152.7 152.3h.9M165.6 152.3h.9M148.9 154.4h.9M160.9 151.4h.9M150.1 154.9h.9M150.0 153.3h.9M158.0 151.7h.9M167.4 152.7h.9M152.4 154.5h.9M156.9 153.1h.9M159.1 152.3h.9M165.6 154.7h.9M151.7 151.5h.9M168.5 152.4h.9M163.2 149.8h.9M152.1 153.3h.9M163.5 154.5h.9M154.5 153.9h.9M147.9 151.7h.9M156.5 154.3h.9M151.8 150.7h.9M153.6 151.4h.9M157.6 151.6h.9M151.0 152.2h.9M166.8 150.7h.9M164.0 150.8h.9M159.4 152.0h.9M173.9 152.5h.9M156.0 151.9h.9M157.1 153.1h.9M166.3 154.9h.9M156.0 154.7h.9M158.2 153.0h.9M154.5 152.0h.9M157.2 151.3h.9M166.7 152.9h.9M165.7 153.3h.9M161.1 155.3h.9M154.9 153.5h.9M152.8 153.3h.9M164.4 152.7h.9M150.6 152.9h.9M156.1 152.2h.9M160.2 153.6h.9M151.2 152.1h.9M155.1 153.3h.9M156.2 153.0h.9M162.3 154.9h.9M153.8 157.3h.9M157.1 151.3h.9" stroke="#000" stroke-width=".9" stroke-opacity="1.00"/>
<path d="M166.3 149.4h.9M172.3 147.4h.9M173.3 152.7h.9M165.1 148.8h.9M161.1 151.8h.9M168.7 149.3h.9M168.8 147.6h.9M163.3 148.6h.9M172.4 147.6h.9M161.9 143.8h.9M170.6 150.8h.9M168.0 147.0h.9M171.8 150.5h.9M168.4 149.1h.9M163.1 149.1h.9M169.7 150.2h.9M156.0 146.7h.9M163.7 152.2h.9M169.8 148.6h.9M159.9 149.9h.9M161.9 150.4h.9M164.7 146.5h.9M160.8 150.0h.9M165.1 153.8h.9M168.2 152.8h.9M165.9 148.6h.9M155.7 147.9h.9M161.1 146.8h.9M162.3 149.1h.9M163.5 148.2h.9M167.6 147.1h.9M159.8 153.2h.9M161.7 142.4h.9M173.1 146.6h.9M162.6 150.3h.9M163.1 150.2h.9M162.5 145.7h.9M162.9 147.3h.9M165.6 145.5h.9M169.1 148.7h.9M165.9 152.1h.9M171.2 153.7h.9M165.2 149.5h.9M169.8 152.0h.9M159.6 146.9h.9M162.8 146.6h.9M166.8 152.6h.9M168.0 149.6h.9M171.1 150.0h.9M161.6 144.1h.9M168.6 149.5h.9M162.2 153.5h.9M165.4 150.2h.9M164.0 147.2h.9M164.5 150.1h.9M165.7 149.6h.9M165.7 147.3h.9M165.2 153.6h.9M165.7 153.6h.9M168.8 152.8h.9M162.9 150.0h.9M160.8 147.8h.9M165.7 150.9h.9M167.7 151.0h.9M167.6 150.4h.9M171.2 150.5h.9M168.3 155.9h.9M167.1 149.0h.9M166.9 149.4h.9M167.8 150.4h.9M162.5 149.7h.9M161.3 150.7h.9M170.6 147.3h.9M166.0 149.7h.9M161.9 152.3h.9M162.1 151.9h.9M164.4 151.4h.9M168.4 151.2h.9M165.4 147.4h.9M168.0 148.3h.9M165.9 149.0h.9M164.3 148.5h.9M172.8 148.2h.9M167.7 150.3h.9M170.0 148.4h.9M157.7 151.3h.9M165.8 153.2h.9M163.0 149.6h.9M155.5 153.4h.9M162.6 152.3h.9M162.4 147.8h.9M168.1 151.5h.9M163.9 147.6h.9M166.1 150.5h.9M167.0 148.4h.9M161.7 153.6h.9M172.0 147.0h.9M154.2 150.6h.9M165.7 149.3h.9M169.7 152.6h.9M157.9 148.6h.9M157.5 153.5h.9M163.4 153.4h.9M165.2 149.1h.9M163.2 148.6h.9M170.6 148.9h.9M168.5 149.8h.9M159.0 151.2h.9M169.4 146.8h.9M160.5 151.8h.9M166.5 147.5h.9M168.7 150.9h.9M161.1 151.1h.9M161.9 152.4h.9M165.2 148.4h.9M164.4 147.5h.9M164.7 151.4h.9M166.5 148.9h.9M169.8 154.2h.9M164.0 151.1h.9" stroke="#000" stroke-width=".9" stroke-opacity="0.80"/>
<path d="M191.2 168.0h.9M184.3 167.9h.9M189.9 163.8h.9M190.4 164.3h.9M189.5 162.9h.9M189.0 164.6h.9M191.4 161.7h.9M185.4 162.7h.9M197.6 163.2h.9M186.9 169.6h.9M190.9 160.2h.9M191.9 166.9h.9M185.3 170.3h.9M185.9 166.8h.9M182.1 164.4h.9M188.4 165.9h.9M193.5 165.8h.9M193.3 160.7h.9M186.7 171.5h.9M186.7 168.9h.9M192.4 165.3h.9M187.3 166.5h.9M185.2 158.0h.9M189.4 167.0h.9M190.0 165.3h.9M192.0 160.3h.9M193.6 169.7h.9M182.9 167.3h.9M185.1 167.0h.9M194.2 170.5h.9M187.5 162.1h.9M188.5 161.4h.9M192.5 166.2h.9M183.5 163.7h.9M189.5 158.8h.9M185.7 161.5h.9M193.9 169.0h.9M194.4 163.3h.9M180.8 164.5h.9M186.7 157.6h.9M194.4 161.2h.9M186.7 165.1h.9M190.7 165.1h.9M194.4 167.4h.9M187.3 161.8h.9M188.4 164.7h.9M188.0 166.9h.9M187.5 168.7h.9M180.8 161.4h.9M183.0 161.6h.9M189.8 153.6h.9M190.7 163.8h.9M188.9 163.3h.9M187.9 158.9h.9M190.4 163.2h.9M190.2 173.6h.9M193.2 169.8h.9M189.1 163.4h.9M190.9 160.6h.9M188.2 157.3h.9M186.0 164.6h.9M187.1 162.3h.9M188.2 161.4h.9M186.0 167.3h.9M180.1 163.2h.9M185.2 165.0h.9M187.9 175.0h.9M187.0 165.2h.9M189.1 165.0h.9M188.2 160.3h.9M184.2 169.6h.9M191.7 164.7h.9M190.7 162.7h.9M194.3 159.6h.9M193.6 166.5h.9M185.0 167.5h.9M185.0 168.8h.9M185.2 162.1h.9M184.5 159.8h.9M188.0 165.0h.9M188.1 166.4h.9M189.8 165.4h.9M185.1 164.1h.9M188.6 164.2h.9M185.5 162.5h.9M187.3 170.5h.9M192.3 159.2h.9M192.6 159.2h.9M190.6 165.9h.9M188.9 159.7h.9M187.3 166.8h.9M186.6 165.4h.9M181.8 167.5h.9M188.3 164.9h.9M183.6 165.9h.9M181.8 163.3h.9M193.9 161.5h.9M183.4 156.3h.9M188.9 167.5h.9M196.7 160.4h.9M189.9 166.0h.9M182.8 165.7h.9M188.5 167.6h.9M188.3 162.7h.9M191.9 166.0h.9M189.7 167.4h.9M189.5 162.4h.9M181.0 162.0h.9M197.4 162.7h.9M192.9 163.8h.9M188.9 161.3h.9M186.8 165.9h.9M191.1 168.9h.9M184.2 165.4h.9M187.6 164.0h.9M190.6 168.0h.9M190.4 164.8h.9M189.5 165.9h.9M188.9 166.4h.9M190.3 163.9h.9M187.0 159.5h.9M189.6 168.3h.9M187.6 163.6h.9M190.3 157.4h.9M193.6 161.2h.9M185.2 159.2h.9M188.2 161.4h.9M187.4 173.3h.9M192.4 161.0h.9M188.0 169.3h.9M192.3 163.5h.9M187.5 166.1h.9M188.2 164.1h.9M188.1 166.2h.9M179.5 168.0h.9M190.9 161.3h.9M189.1 162.4h.9M189.4 167.7h.9M181.1 159.9h.9M179.6 167.5h.9M182.8 163.6h.9M190.6 159.5h.9M187.7 161.0h.9M189.6 162.7h.9M189.7 159.2h.9M189.5 164.6h.9M187.6 170.6h.9M184.2 168.4h.9M187.6 165.7h.9M193.6 162.6h.9M188.6 160.6h.9M192.1 164.3h.9M190.2 170.9h.9M187.9 169.6h.9M187.6 166.4h.9M188.7 166.1h.9M197.7 162.2h.9M193.8 172.0h.9M184.5 170.2h.9M189.2 164.6h.9M196.4 162.5h.9M188.8 161.2h.9M185.7 164.7h.9M193.3 167.9h.9M197.6 165.2h.9M187.3 167.0h.9M185.7 163.3h.9M182.4 159.5h.9M194.8 166.8h.9M193.4 163.7h.9M191.6 169.7h.9M188.4 162.4h.9M188.9 166.5h.9M189.9 160.3h.9M188.2 170.0h.9M191.1 163.4h.9M191.6 171.8h.9M188.8 168.2h.9M189.9 166.8h.9M187.1 174.9h.9M187.2 164.1h.9M184.9 169.1h.9M189.4 162.1h.9M189.0 166.3h.9M194.1 157.3h.9M192.7 166.3h.9M191.2 169.8h.9M191.0 164.1h.9M182.0 163.7h.9M190.8 163.3h.9M182.4 161.3h.9M187.6 168.6h.9M188.2 165.4h.9M188.4 166.8h.9M187.7 160.8h.9M194.2 162.5h.9M186.0 160.0h.9M190.9 164.3h.9M194.8 164.2h.9M192.0 156.7h.9M190.2 162.4h.9M189.2 171.6h.9M189.5 163.4h.9M190.4 161.0h.9M185.1 161.4h.9M186.2 163.2h.9M188.2 162.5h.9M191.5 167.0h.9M192.4 170.5h.9M189.4 162.7h.9M192.6 167.7h.9M184.9 163.4h.9M191.6 160.3h.9M191.6 164.4h.9M191.0 162.6h.9M186.5 167.6h.9M192.4 167.7h.9M193.5 168.7h.9M183.5 167.9h.9M189.1 163.0h.9M191.6 163.4h.9M189.6 163.9h.9M189.4 168.1h.9M193.4 160.4h.9M190.3 165.6h.9M193.2 168.2h.9M191.5 160.4h.9M188.4 167.2h.9M190.3 166.3h.9M191.4 162.7h.9M195.2 162.4h.9M191.9 162.5h.9M188.3 162.2h.9M183.2 162.7h.9M187.5 162.7h.9M189.5 167.7h.9M187.8 160.7h.9M188.3 166.5h.9M190.6 161.9h.9M192.5 172.6h.9M184.1 165.7h.9M186.1 166.2h.9M189.1 166.4h.9M190.7 166.5h.9M189.2 165.8h.9M184.8 163.7h.9M191.6 163.1h.9M189.9 162.9h.9M186.2 167.2h.9M187.2 159.9h.9M190.5 164.0h.9M188.6 163.9h.9M190.6 166.4h.9M191.8 172.6h.9M189.8 168.7h.9M188.9 165.1h.9M186.6 166.4h.9M185.7 173.1h.9M183.8 158.5h.9M188.0 167.6h.9M185.1 166.5h.9M187.3 162.5h.9M191.6 163.9h.9M191.1 167.5h.9M185.7 158.0h.9M190.5 168.2h.9M194.6 164.9h.9M186.0 159.8h.9M184.4 161.1h.9M191.8 160.6h.9M193.9 165.5h.9M190.5 161.3h.9M185.9 167.0h.9M195.6 164.2h.9M185.1 158.4h.9M189.8 163.0h.9M189.6 169.4h.9M188.6 161.1h.9M190.0 171.5h.9M187.7 159.5h.9M187.3 161.8h.9M193.3 163.4h.9M192.3 163.0h.9M195.1 157.7h.9M190.1 165.8h.9M189.6 164.6h.9M191.1 165.8h.9M188.9 165.0h.9M188.7 167.4h.9M187.9 161.7h.9M190.5 165.9h.9M193.0 166.7h.9M192.7 161.4h.9M194.8 166.7h.9M186.6 166.4h.9M188.1 167.1h.9M186.2 166.3h.9M187.1 171.2h.9M186.8 173.8h.9M194.0 160.6h.9M189.3 165.7h.9M194.0 168.4h.9M190.7 167.5h.9M181.6 167.9h.9M194.7 163.7h.9M184.7 167.6h.9M190.0 172.7h.9M194.1 169.1h.9M194.6 175.2h.9M193.4 162.9h.9M189.6 158.2h.9M185.0 163.4h.9M189.8 162.5h.9M189.0 156.5h.9M187.3 163.9h.9M187.8 170.4h.9M191.3 163.0h.9M186.0 167.1h.9M195.1 170.2h.9M190.9 161.8h.9M188.1 156.7h.9M187.2 162.7h.9M191.8 162.5h.9M192.8 164.3h.9M185.1 159.4h.9M191.6 165.5h.9M190.9 168.3h.9M187.8 163.9h.9M189.6 163.5h.9M186.5 165.2h.9M187.6 165.4h.9M185.7 162.6h.9M188.4 167.9h.9M190.8 169.2h.9M187.7 167.5h.9M191.7 166.0h.9M193.4 165.3h.9M195.1 161.6h.9M191.2 157.3h.9M186.7 166.0h.9M188.6 158.9h.9M191.7 166.8h.9M191.5 166.8h.9M189.7 166.3h.9M194.6 161.6h.9M191.8 164.2h.9M192.2 165.2h.9M185.5 167.7h.9M187.6 160.7h.9M189.1 160.6h.9M192.5 164.9h.9M193.1 167.9h.9M187.9 163.7h.9M194.4 164.7h.9M188.8 165.5h.9M195.1 168.2h.9M189.5 162.6h.9M187.0 166.8h.9M183.2 173.1h.9M184.7 160.5h.9M190.4 163.1h.9M185.7 166.9h.9M186.1 168.2h.9M190.9 162.9h.9M189.2 158.6h.9M180.2 163.9h.9M193.0 161.0h.9M188.9 158.4h.9M183.3 162.3h.9M190.7 166.1h.9M184.8 167.3h.9M190.1 157.7h.9M186.9 163.8h.9M183.2 162.5h.9M190.6 163.4h.9M190.6 162.6h.9M189.9 160.4h.9M187.1 165.0h.9M183.6 169.4h.9M186.0 163.6h.9M192.5 165.4h.9M185.9 159.6h.9M189.2 161.9h.9M190.0 166.2h.9M186.4 169.3h.9M186.8 165.7h.9M190.7 165.2h.9M189.6 168.7h.9M191.3 159.9h.9M186.9 165.6h.9M180.9 164.8h.9M188.8 159.0h.9M189.6 164.7h.9M188.7 172.2h.9M190.1 169.6h.9M192.2 164.8h.9M191.6 164.9h.9M190.2 169.0h.9M188.5 171.6h.9M189.7 163.9h.9M187.6 161.4h.9M186.8 160.4h.9M189.5 171.5h.9M187.6 162.9h.9M189.3 160.7h.9M192.0 164.8h.9M187.7 169.0h.9M193.1 160.2h.9M194.3 160.0h.9M194.0 172.8h.9M191.2 164.7h.9M193.2 167.8h.9M190.9 159.5h.9M193.5 171.3h.9M195.5 167.8h.9M187.2 171.0h.9M183.8 164.0h.9M189.1 165.7h.9M189.8 163.7h.9M186.7 171.8h.9M194.9 161.2h.9M191.7 168.3h.9M184.0 164.0h.9M189.7 163.2h.9M181.8 166.0h.9M190.3 164.3h.9M189.2 159.3h.9M188.8 170.0h.9M197.3 163.5h.9M186.5 163.4h.9M190.1 165.8h.9M186.4 160.9h.9M185.4 164.5h.9M192.1 165.2h.9M188.5 165.1h.9M190.3 166.4h.9M185.3 161.7h.9M190.9 164.0h.9M191.8 165.5h.9M185.5 162.6h.9M186.0 165.3h.9M192.5 159.5h.9M191.7 163.7h.9M190.1 165.3h.9M189.2 166.1h.9M189.0 158.7h.9M188.2 167.7h.9M184.6 163.5h.9M189.9 163.7h.9M195.5 165.7h.9M192.9 165.0h.9M186.4 161.8h.9M191.6 166.7h.9M185.8 165.5h.9M188.9 167.2h.9M190.3 165.4h.9M193.0 165.2h.9M194.8 159.3h.9M188.4 159.8h.9M188.6 162.9h.9M185.4 164.1h.9M191.2 167.6h.9M189.0 165.4h.9M189.6 158.0h.9M191.9 164.6h.9M184.4 162.9h.9M185.2 163.1h.9M188.1 161.3h.9M184.4 166.8h.9M182.2 163.1h.9M188.7 167.2h.9M188.0 165.2h.9M189.4 165.2h.9M190.4 165.4h.9M189.4 162.6h.9M183.0 166.1h.9M192.3 169.5h.9M193.2 167.9h.9M192.2 164.2h.9M189.8 161.3h.9M192.2 164.3h.9M186.1 165.5h.9M192.1 165.9h.9M192.6 158.0h.9M182.8 163.0h.9M190.1 165.2h.9M187.7 164.6h.9M187.4 163.7h.9M186.1 163.6h.9M185.8 165.4h.9M187.2 158.3h.9M189.4 160.5h.9M187.4 165.8h.9M188.3 163.2h.9M189.7 164.5h.9M192.0 167.6h.9M188.9 165.0h.9M192.5 161.8h.9M183.2 160.9h.9M191.0 165.1h.9M186.3 163.6h.9M186.2 155.1h.9M192.4 163.9h.9M180.0 165.6h.9M190.4 163.6h.9M190.8 166.6h.9M188.0 167.0h.9M191.6 166.9h.9M190.7 165.6h.9M185.1 163.5h.9M187.7 164.0h.9M186.3 167.3h.9M187.4 163.4h.9M186.4 167.8h.9M193.7 161.5h.9M190.2 166.4h.9M189.0 169.2h.9M187.0 166.6h.9M187.8 163.2h.9M192.6 166.2h.9" stroke="#000" stroke-width=".9" stroke-opacity="1.00"/>
<path d="M161.6 167.4h.9M172.1 173.7h.9M188.8 176.9h.9M167.3 164.2h.9M180.1 172.5h.9M149.7 176.3h.9M158.5 167.6h.9M156.6 161.7h.9M172.2 168.7h.9M166.5 177.5h.9M169.5 158.6h.9M180.0 169.5h.9M156.6 181.1h.9M160.3 173.7h.9M193.6 174.6h.9M164.5 164.4h.9M171.0 177.7h.9M151.8 165.1h.9M162.8 169.2h.9M146.6 177.5h.9M163.8 171.5h.9M176.8 169.7h.9M164.2 172.0h.9M185.6 169.3h.9M146.6 167.6h.9M175.8 173.3h.9M161.9 175.6h.9M176.6 168.7h.9M160.9 163.0h.9M184.4 172.8h.9M177.3 172.9h.9M174.2 163.6h.9M194.1 171.5h.9M167.3 173.0h.9M150.1 165.7h.9M159.7 160.0h.9M160.6 168.6h.9M182.7 160.1h.9M172.1 165.5h.9M152.9 161.0h.9M164.6 176.8h.9M159.3 173.5h.9M157.3 160.0h.9M144.6 166.8h.9M163.2 168.8h.9M187.1 170.4h.9M181.4 166.6h.9M176.1 170.1h.9M177.6 170.1h.9M167.6 170.3h.9M164.6 158.9h.9M180.5 162.2h.9M161.6 173.2h.9M157.8 164.6h.9M157.2 173.0h.9M166.5 157.0h.9M191.8 158.6h.9M178.2 178.3h.9M158.5 164.8h.9M164.5 168.4h.9M176.2 162.2h.9M159.6 161.5h.9M167.7 164.5h.9M190.8 171.2h.9M167.3 169.5h.9M165.6 172.2h.9M170.2 164.5h.9M159.6 172.5h.9M164.5 165.8h.9M162.0 162.3h.9M162.1 169.3h.9M168.9 161.0h.9M165.8 166.3h.9M167.7 178.4h.9M155.9 169.5h.9M179.4 166.9h.9M181.0 171.5h.9M182.1 168.0h.9M167.7 165.6h.9M190.5 168.3h.9M171.8 162.4h.9M179.1 170.1h.9M149.1 172.2h.9M187.3 171.6h.9M169.6 167.3h.9M168.7 157.1h.9M162.6 173.4h.9M181.4 168.7h.9M171.5 171.4h.9M173.6 170.8h.9M173.3 175.4h.9M150.9 184.8h.9M167.9 158.9h.9M176.2 172.3h.9M156.6 172.4h.9M179.3 166.6h.9M178.3 167.7h.9M177.6 181.6h.9M155.5 167.2h.9M164.7 166.0h.9M145.4 168.3h.9M187.0 168.8h.9M166.2 176.8h.9M187.1 162.6h.9M151.3 159.3h.9M174.9 172.2h.9M175.3 172.4h.9M183.3 170.4h.9M155.3 172.6h.9M162.7 173.1h.9M189.3 173.4h.9M154.9 175.5h.9M179.6 156.3h.9M192.0 182.2h.9M182.6 173.0h.9M171.3 151.3h.9M160.1 160.2h.9M173.1 169.2h.9M169.3 166.3h.9M176.6 166.0h.9M161.2 174.5h.9M172.0 169.7h.9M147.3 166.1h.9M180.2 158.0h.9M169.9 170.7h.9M185.3 162.6h.9M161.3 172.4h.9M171.8 176.7h.9M166.3 164.6h.9M174.0 170.1h.9M170.0 164.3h.9M176.9 159.1h.9M160.9 176.7h.9M174.2 165.3h.9M177.6 180.0h.9M166.7 172.1h.9M158.7 169.4h.9M150.8 164.6h.9M175.2 157.5h.9M147.3 170.9h.9M177.8 160.8h.9M174.5 173.0h.9M179.9 174.7h.9M180.6 166.4h.9M150.4 174.2h.9M165.2 170.5h.9M173.6 184.1h.9M172.1 173.9h.9M160.7 166.6h.9M155.9 163.2h.9M184.7 183.1h.9M159.2 174.0h.9M169.7 163.8h.9M167.9 165.7h.9M154.3 165.0h.9M172.4 174.9h.9M175.4 167.2h.9M165.3 162.8h.9M170.3 163.4h.9M175.2 178.0h.9M172.0 171.1h.9M174.3 171.9h.9M172.4 167.0h.9M166.0 175.3h.9M172.0 169.7h.9M194.3 174.2h.9M190.8 173.7h.9M173.0 168.4h.9M192.6 169.4h.9M177.8 162.2h.9M179.4 168.9h.9M156.2 172.7h.9M146.2 178.7h.9M179.3 172.2h.9M170.7 166.0h.9M183.0 179.5h.9M183.6 163.6h.9M185.8 168.4h.9M166.0 156.2h.9M179.8 163.5h.9M162.3 164.6h.9M179.0 162.3h.9M156.0 168.8h.9M172.0 178.3h.9M163.4 178.5h.9M181.0 168.0h.9M180.7 170.2h.9M181.9 167.7h.9M156.8 171.8h.9M179.1 172.5h.9M164.6 170.8h.9M160.1 170.1h.9M175.6 168.4h.9M174.7 171.7h.9M157.1 153.6h.9M172.3 163.2h.9M182.3 170.4h.9M185.6 165.2h.9M160.6 179.0h.9M177.0 168.2h.9M172.1 167.4h.9M171.2 170.0h.9M149.7 161.2h.9M188.0 153.8h.9M159.6 171.7h.9M179.8 165.5h.9M188.6 173.3h.9M188.0 156.8h.9M178.2 172.7h.9M176.7 174.3h.9M177.4 159.8h.9M153.8 168.9h.9M188.4 167.1h.9M159.4 180.6h.9M162.8 169.5h.9M184.9 163.8h.9M203.1 170.5h.9M179.2 159.2h.9M169.7 178.3h.9M170.4 167.1h.9M172.9 169.5h.9M166.1 159.1h.9M168.0 164.1h.9M165.2 171.3h.9M168.9 166.1h.9M171.2 165.9h.9M172.2 168.9h.9M170.1 169.2h.9M170.0 165.4h.9M177.4 164.3h.9M170.9 154.6h.9M166.9 177.8h.9M164.6 162.4h.9M174.2 166.0h.9M167.7 170.9h.9M162.2 162.3h.9M175.8 174.2h.9M177.1 178.9h.9M180.9 165.9h.9M155.0 169.9h.9M165.1 165.0h.9M180.7 164.3h.9M156.1 156.3h.9M175.0 154.8h.9M165.0 173.8h.9M177.6 161.0h.9M189.4 158.2h.9M174.6 160.8h.9M170.4 171.1h.9M170.0 180.2h.9M171.9 165.5h.9M163.5 165.6h.9M169.3 171.6h.9M173.7 162.2h.9M166.6 172.6h.9M168.9 171.4h.9M154.0 164.7h.9M174.5 158.1h.9M145.8 167.0h.9M184.8 177.4h.9M169.4 171.4h.9M178.4 171.0h.9M147.1 162.9h.9M177.2 169.6h.9M167.7 167.4h.9M172.6 169.0h.9M153.5 172.9h.9M167.7 156.8h.9M145.5 164.3h.9M168.1 167.2h.9M176.9 160.5h.9M161.9 159.0h.9M181.2 170.4h.9M179.2 170.7h.9M173.0 164.5h.9M182.8 163.7h.9M161.9 177.7h.9M167.7 167.9h.9M181.4 163.5h.9M170.4 163.1h.9M173.7 165.9h.9M171.3 169.2h.9M162.3 165.3h.9M186.4 168.4h.9M171.7 171.2h.9M176.7 172.4h.9M177.9 169.8h.9M159.3 171.3h.9M176.8 168.8h.9M170.1 167.9h.9M162.3 167.9h.9M166.3 160.9h.9M147.0 169.6h.9M157.1 164.6h.9M181.0 173.5h.9M148.1 164.8h.9M168.1 164.5h.9M172.7 165.9h.9M194.6 162.7h.9M166.1 171.7h.9M162.0 169.6h.9M173.8 170.3h.9M182.3 167.2h.9M174.6 169.6h.9M177.8 169.4h.9M164.8 162.2h.9M188.0 166.1h.9M193.5 167.3h.9M161.8 166.2h.9M181.1 158.0h.9M162.4 177.5h.9M168.9 173.2h.9M159.7 169.2h.9M166.2 158.7h.9M155.8 166.0h.9M150.6 173.4h.9M157.7 168.9h.9M180.0 165.7h.9M171.5 168.4h.9M150.3 167.0h.9M173.2 170.8h.9M184.0 167.3h.9M174.7 177.1h.9M163.3 165.6h.9M151.5 162.5h.9M173.0 159.1h.9M200.0 166.2h.9M163.1 176.5h.9M166.5 176.0h.9M198.2 164.8h.9M172.4 174.4h.9M182.5 167.9h.9M171.3 175.3h.9M169.5 168.7h.9M172.2 175.3h.9M175.8 163.6h.9M172.4 175.9h.9M182.5 165.8h.9M169.4 173.5h.9M181.5 169.4h.9M171.1 157.7h.9M171.9 170.5h.9M151.8 158.6h.9M157.3 163.4h.9M163.1 161.5h.9M164.9 166.3h.9M170.1 163.6h.9M178.5 174.4h.9M161.9 168.6h.9M191.4 167.2h.9M175.0 166.6h.9M146.1 164.6h.9M175.5 180.4h.9M154.4 170.3h.9M173.5 162.6h.9M172.6 168.7h.9M169.6 173.1h.9M184.7 174.2h.9M176.3 170.7h.9M153.2 166.7h.9M177.8 166.3h.9M205.6 172.8h.9M184.7 163.7h.9M188.2 162.2h.9M174.1 168.4h.9M159.5 162.2h.9M161.4 167.3h.9M167.9 166.9h.9M166.3 175.2h.9M183.8 163.8h.9M159.3 168.9h.9M188.9 160.3h.9M164.6 167.0h.9M177.5 168.2h.9M170.9 163.7h.9M166.9 171.8h.9M171.1 168.0h.9M167.6 171.3h.9M203.7 169.3h.9M174.1 159.8h.9M176.4 170.9h.9M192.5 172.8h.9M149.0 177.5h.9M189.3 166.2h.9M156.0 162.1h.9M158.4 181.5h.9M174.0 165.6h.9" stroke="#000" stroke-width=".9" stroke-opacity="0.72"/>
<path d="M183.6 156.7h.9M188.2 148.4h.9M184.5 150.1h.9M181.5 149.1h.9M186.6 151.1h.9M191.4 153.2h.9M178.6 142.4h.9M185.1 148.0h.9M193.8 152.7h.9M176.2 148.9h.9M170.4 144.3h.9M182.8 146.2h.9M189.1 150.1h.9M184.0 148.4h.9M195.8 149.7h.9M195.1 150.5h.9M181.3 150.5h.9M180.1 146.1h.9M178.0 148.4h.9M188.9 153.2h.9M187.4 149.1h.9M187.8 146.8h.9M176.1 153.6h.9M187.7 150.9h.9M176.8 152.8h.9" stroke="#000" stroke-width=".9" stroke-opacity="0.65"/>
<path d="M172.8 140.2L172.8 203.9" stroke="#959595" stroke-width="1.0" fill="none"/>
<path d="M143.4 160.6L207.9 160.6" stroke="#959595" stroke-width="1.0" fill="none"/>
<rect x="145.2" y="142.17" width="17.11" height="6.46" fill="#fff"/>
<text x="145.7" y="148.1" font-size="7.6" text-anchor="start" font-weight="normal" fill="#161616" class="t">28.7</text>
<rect x="193.12" y="142.17" width="13.08" height="6.46" fill="#fff"/>
<text x="205.7" y="148.1" font-size="7.6" text-anchor="end" font-weight="normal" fill="#161616" class="t">3.6</text>
<rect x="145.2" y="197.07" width="17.11" height="6.46" fill="#fff"/>
<text x="145.7" y="203" font-size="7.6" text-anchor="start" font-weight="normal" fill="#161616" class="t">5.21</text>
<rect x="189.09" y="197.07" width="17.11" height="6.46" fill="#fff"/>
<text x="205.7" y="203" font-size="7.6" text-anchor="end" font-weight="normal" fill="#161616" class="t">62.4</text>
<rect x="143.4" y="140.2" width="64.5" height="63.7" fill="none" stroke="#000" stroke-width="1.35"/>
<text x="137.2" y="151.8" font-size="8.4" text-anchor="end" font-weight="normal" fill="#161616">10<tspan dy="-3.53" font-size="6.55">4</tspan></text>
<text x="137.2" y="167.4" font-size="8.4" text-anchor="end" font-weight="normal" fill="#161616">10<tspan dy="-3.53" font-size="6.55">3</tspan></text>
<text x="137.2" y="183" font-size="8.4" text-anchor="end" font-weight="normal" fill="#161616">10<tspan dy="-3.53" font-size="6.55">2</tspan></text>
<text x="137.2" y="198.6" font-size="8.4" text-anchor="end" font-weight="normal" fill="#161616">10<tspan dy="-3.53" font-size="6.55">1</tspan></text>
<path d="M143.4 147.8h-2.8M143.4 158.7h-1.5M143.4 155.96h-1.5M143.4 154.01h-1.5M143.4 152.5h-1.5M143.4 151.26h-1.5M143.4 150.22h-1.5M143.4 149.31h-1.5M143.4 148.51h-1.5M143.4 163.4h-2.8M143.4 174.3h-1.5M143.4 171.56h-1.5M143.4 169.61h-1.5M143.4 168.1h-1.5M143.4 166.86h-1.5M143.4 165.82h-1.5M143.4 164.91h-1.5M143.4 164.11h-1.5M143.4 179h-2.8M143.4 189.9h-1.5M143.4 187.16h-1.5M143.4 185.21h-1.5M143.4 183.7h-1.5M143.4 182.46h-1.5M143.4 181.42h-1.5M143.4 180.51h-1.5M143.4 179.71h-1.5M143.4 194.6h-2.8M143.4 202.76h-1.5M143.4 200.81h-1.5M143.4 199.3h-1.5M143.4 198.06h-1.5M143.4 197.02h-1.5M143.4 196.11h-1.5M143.4 195.31h-1.5M143.4 143.1h-1.5M143.4 146.29h-1.5" stroke="#000" stroke-width=".95"/>
<path d="M144.6 203.9v2.8M158.1 203.9v2.8M172.7 203.9v2.8M187.3 203.9v2.8M201.6 203.9v2.8M162.5 203.9v2M165.07 203.9v2M166.89 203.9v2M168.3 203.9v2M169.46 203.9v2M170.44 203.9v2M171.29 203.9v2M172.03 203.9v2M177.1 203.9v2M179.67 203.9v2M181.49 203.9v2M182.9 203.9v2M184.06 203.9v2M185.04 203.9v2M185.89 203.9v2M186.63 203.9v2M191.6 203.9v2M194.12 203.9v2M195.91 203.9v2M197.3 203.9v2M198.43 203.9v2M199.38 203.9v2M200.21 203.9v2M200.95 203.9v2M147.97 203.9v2M151.35 203.9v2M154.72 203.9v2M144 203.9v2M205.9 203.9v2" stroke="#000" stroke-width=".95"/>
<text transform="translate(153,214.7) rotate(-45)" font-size="8.4" text-anchor="end" font-weight="normal" fill="#161616">0</text>
<text transform="translate(162.6,214.5) rotate(-45)" font-size="8.4" text-anchor="end" font-weight="normal" fill="#161616">10<tspan dy="-3.53" font-size="6.22">2</tspan></text>
<text transform="translate(175.6,214.5) rotate(-45)" font-size="8.4" text-anchor="end" font-weight="normal" fill="#161616">10<tspan dy="-3.53" font-size="6.22">3</tspan></text>
<text transform="translate(190.8,214.5) rotate(-45)" font-size="8.4" text-anchor="end" font-weight="normal" fill="#161616">10<tspan dy="-3.53" font-size="6.22">4</tspan></text>
<text transform="translate(205.3,214.5) rotate(-45)" font-size="8.4" text-anchor="end" font-weight="normal" fill="#161616">10<tspan dy="-3.53" font-size="6.22">5</tspan></text>
<path d="M250.5 156.0h.9M250.1 155.7h.9M257.0 155.5h.9M251.9 159.3h.9M245.1 155.6h.9M250.8 154.7h.9M244.9 160.0h.9M253.1 156.6h.9M251.4 151.4h.9M254.2 149.4h.9M252.3 154.8h.9M253.0 155.7h.9M253.9 150.1h.9M251.6 156.4h.9M249.1 158.0h.9M252.4 154.1h.9M248.4 156.5h.9M250.3 156.8h.9M254.3 154.7h.9M247.2 156.1h.9M253.1 153.5h.9M251.9 154.6h.9M252.1 148.6h.9M254.6 149.3h.9M248.7 154.3h.9M245.8 153.0h.9M250.6 158.7h.9M246.9 156.3h.9M255.5 156.1h.9M252.6 155.1h.9M249.5 154.8h.9M249.7 158.5h.9M252.1 151.6h.9M253.3 159.0h.9M251.9 153.8h.9M252.6 158.4h.9M253.6 155.8h.9M250.4 151.3h.9M251.0 151.8h.9M251.0 158.4h.9M247.5 157.4h.9M252.0 159.0h.9M252.7 155.8h.9M250.6 155.1h.9M253.1 154.2h.9M255.6 155.6h.9M252.9 156.2h.9M250.2 151.7h.9M252.2 155.5h.9M248.4 158.3h.9M252.6 156.3h.9M257.3 157.2h.9M252.4 158.8h.9M255.0 152.2h.9M252.8 160.4h.9M252.1 156.6h.9M249.5 155.5h.9M250.9 157.5h.9M249.0 154.2h.9M252.5 154.7h.9M251.5 155.4h.9M255.2 159.5h.9M252.2 155.1h.9M251.8 159.1h.9M253.8 155.4h.9M252.4 158.1h.9M252.7 151.3h.9M253.3 151.3h.9M256.5 158.9h.9M255.3 154.7h.9M251.0 157.5h.9M256.0 155.4h.9M254.8 155.5h.9M251.5 154.1h.9M247.7 151.3h.9M254.0 156.8h.9M248.8 157.5h.9M253.4 154.0h.9M252.2 153.4h.9M257.4 153.7h.9M251.4 164.0h.9M250.0 152.0h.9M255.0 153.6h.9M251.0 154.9h.9M251.0 159.0h.9M254.1 155.2h.9M250.8 156.7h.9M248.0 157.5h.9M250.1 157.4h.9M250.0 153.8h.9M251.8 156.0h.9M252.2 158.8h.9M252.6 156.7h.9M252.4 157.2h.9M249.6 154.4h.9M248.5 157.4h.9M259.8 154.4h.9M251.3 155.1h.9M249.3 156.4h.9M249.4 157.7h.9M255.3 155.8h.9M246.8 156.4h.9M251.2 154.2h.9M250.6 155.4h.9M250.4 156.9h.9M253.1 152.5h.9M250.5 156.4h.9M255.8 158.6h.9M250.7 160.9h.9M253.0 153.0h.9M254.1 158.8h.9M251.9 157.2h.9M246.6 155.0h.9M255.6 155.5h.9M255.4 151.4h.9M254.3 152.2h.9M249.0 156.3h.9M250.7 155.2h.9M247.6 156.6h.9M251.2 154.3h.9M252.7 155.4h.9M249.9 158.1h.9M251.1 160.4h.9M249.1 153.5h.9M253.8 154.3h.9M250.2 157.3h.9M250.6 153.2h.9M251.6 151.7h.9M247.4 156.3h.9M252.3 152.9h.9" stroke="#000" stroke-width=".9" stroke-opacity="0.70"/>
<path d="M283.9 164.2h.9M282.4 162.9h.9M284.4 165.4h.9M289.6 162.2h.9M288.2 164.7h.9M283.5 163.6h.9M280.4 165.1h.9M286.9 163.6h.9M285.5 165.8h.9M287.4 166.4h.9M288.5 169.8h.9M285.5 160.4h.9M283.6 166.7h.9M287.1 168.7h.9M286.9 162.3h.9M279.6 167.4h.9M277.9 166.9h.9M284.7 165.6h.9M283.3 161.9h.9M280.0 165.2h.9M282.1 164.9h.9M281.3 167.4h.9M286.0 166.2h.9M277.4 168.3h.9M286.1 163.8h.9M282.7 166.0h.9M285.8 164.7h.9M283.6 165.9h.9M283.2 163.7h.9M287.5 166.8h.9M283.1 165.1h.9M285.1 164.7h.9M282.4 161.8h.9M284.9 163.9h.9M283.6 164.7h.9M282.9 162.4h.9M290.2 171.1h.9M286.8 166.3h.9M284.4 168.2h.9M284.4 163.8h.9M285.4 165.1h.9M284.4 170.9h.9M283.3 162.3h.9M285.4 165.2h.9M284.1 160.8h.9M286.8 168.6h.9M287.1 158.6h.9M284.8 161.8h.9M288.6 167.8h.9M281.3 159.5h.9M282.9 164.2h.9M281.8 168.3h.9M280.8 165.1h.9M285.7 163.8h.9M287.0 166.8h.9M281.6 159.8h.9M282.6 157.2h.9M280.9 160.3h.9M285.0 162.9h.9M284.0 166.2h.9M288.8 165.7h.9M285.6 161.5h.9M282.0 166.5h.9M283.1 168.0h.9M281.6 171.9h.9M284.2 163.0h.9M284.3 161.6h.9M283.0 162.4h.9M286.6 168.9h.9M286.2 161.3h.9M280.0 166.4h.9M282.2 163.3h.9M285.9 163.3h.9M282.5 165.7h.9M283.9 169.0h.9M281.3 165.1h.9M286.3 170.5h.9M284.9 158.2h.9M280.3 161.3h.9M281.9 169.5h.9M286.0 164.5h.9M283.9 160.4h.9M283.3 167.3h.9M284.7 162.1h.9M288.4 163.3h.9M284.6 171.4h.9M283.8 169.7h.9M285.7 166.9h.9M287.3 164.8h.9M283.4 157.0h.9M288.5 167.8h.9M287.5 162.3h.9M282.3 165.5h.9M284.0 167.5h.9M287.6 174.0h.9M288.8 162.1h.9M282.0 165.4h.9M282.6 165.1h.9M284.6 166.8h.9M283.9 162.8h.9M283.8 165.0h.9M286.8 157.2h.9M286.5 168.3h.9M281.4 165.9h.9M284.2 164.3h.9M288.9 168.6h.9M282.7 170.7h.9M281.5 165.4h.9M288.3 169.2h.9M280.2 165.6h.9M283.5 166.9h.9M288.4 164.1h.9M286.9 164.1h.9M284.4 168.7h.9M283.1 160.7h.9M281.1 165.2h.9M286.6 168.6h.9M283.6 165.4h.9M282.7 164.9h.9M283.8 161.5h.9M287.7 166.0h.9M283.0 175.3h.9M289.1 162.0h.9M285.4 165.4h.9M281.2 165.0h.9M283.3 169.0h.9M282.5 171.6h.9M287.4 165.0h.9M285.5 169.5h.9M288.6 168.0h.9" stroke="#000" stroke-width=".9" stroke-opacity="0.70"/>
<path d="M276.5 180.5h.9M266.3 172.1h.9M268.7 164.0h.9M273.5 161.2h.9M256.7 167.4h.9M273.5 169.8h.9M257.0 166.9h.9M250.8 170.2h.9M255.8 157.2h.9M262.4 161.7h.9M279.9 164.9h.9M249.4 166.4h.9M244.9 174.6h.9M257.5 167.7h.9M249.4 172.9h.9M273.5 169.9h.9M248.8 170.1h.9M268.5 167.5h.9M244.7 171.1h.9M267.8 176.1h.9M272.9 162.9h.9M270.7 165.6h.9M290.8 174.3h.9M288.3 169.4h.9M285.8 159.2h.9M260.8 168.3h.9M263.5 165.6h.9M274.1 161.7h.9M249.6 162.3h.9M261.1 171.0h.9M263.4 168.1h.9M266.6 145.4h.9M244.6 153.1h.9M264.7 166.5h.9M264.3 171.7h.9M246.9 173.2h.9M286.8 162.5h.9M287.2 153.2h.9M274.3 160.8h.9M273.1 166.9h.9M252.2 174.8h.9M275.8 171.6h.9M275.9 171.9h.9M265.4 171.7h.9M251.3 160.5h.9M291.8 174.5h.9M270.4 166.1h.9M262.0 161.3h.9M266.9 159.4h.9M241.3 170.2h.9M272.8 169.8h.9M261.8 172.0h.9M262.1 163.2h.9M248.0 168.7h.9M261.1 170.0h.9M278.3 161.4h.9M267.0 169.1h.9M259.2 187.0h.9M260.9 162.9h.9M265.8 168.8h.9M260.0 168.6h.9M271.0 172.2h.9M258.8 179.1h.9M247.1 163.4h.9M263.1 161.5h.9M286.8 178.0h.9M292.6 164.3h.9M259.8 166.1h.9M271.4 163.8h.9M268.4 170.9h.9M278.9 170.7h.9M263.9 173.8h.9M270.3 169.1h.9M265.1 165.4h.9M277.0 165.0h.9M255.0 174.7h.9M261.2 176.7h.9M255.5 158.9h.9M261.5 167.3h.9M265.2 167.2h.9M261.2 159.7h.9M260.6 166.0h.9M257.6 173.0h.9M268.9 159.4h.9M282.3 164.7h.9M271.0 154.9h.9M248.9 159.2h.9M275.6 168.0h.9M270.5 171.2h.9M253.8 173.3h.9M272.3 170.3h.9M263.2 165.8h.9M241.9 166.0h.9M265.4 164.1h.9M241.0 167.2h.9M265.1 166.7h.9M263.8 165.1h.9M261.7 165.6h.9M261.7 167.2h.9M269.0 176.2h.9M267.7 155.6h.9M257.5 171.6h.9M260.3 168.7h.9M257.8 177.2h.9M275.8 159.8h.9M252.0 164.8h.9M263.6 158.2h.9M253.2 168.1h.9M287.7 166.2h.9M275.7 166.0h.9M253.3 165.6h.9M273.7 165.3h.9M276.5 165.8h.9M243.8 163.4h.9M266.8 174.6h.9M269.4 177.8h.9M264.2 173.5h.9M253.9 169.5h.9M254.0 170.3h.9M270.3 167.6h.9M269.2 169.8h.9M265.4 166.9h.9M257.3 171.3h.9M244.0 158.8h.9M250.0 159.8h.9M267.2 162.5h.9M277.6 170.8h.9M258.0 161.3h.9M279.6 165.7h.9M257.5 172.8h.9M274.9 170.7h.9M286.7 169.5h.9M269.7 166.5h.9M264.7 166.7h.9M266.5 164.5h.9M282.0 176.7h.9M277.1 160.8h.9M253.3 168.0h.9M258.0 158.2h.9M268.2 167.2h.9M272.9 166.3h.9M269.2 160.9h.9M277.7 169.6h.9M283.3 155.4h.9M265.6 163.8h.9M267.6 155.4h.9M278.2 170.3h.9M258.0 169.3h.9M272.7 172.9h.9" stroke="#000" stroke-width=".9" stroke-opacity="0.55"/>
<path d="M268.5 140.2L268.5 203.9" stroke="#959595" stroke-width="1.0" fill="none"/>
<path d="M239.2 160.6L303.5 160.6" stroke="#959595" stroke-width="1.0" fill="none"/>
<rect x="241" y="142.17" width="17.11" height="6.46" fill="#fff"/>
<text x="241.5" y="148.1" font-size="7.6" text-anchor="start" font-weight="normal" fill="#161616" class="t">42.2</text>
<rect x="284.69" y="142.17" width="17.11" height="6.46" fill="#fff"/>
<text x="301.3" y="148.1" font-size="7.6" text-anchor="end" font-weight="normal" fill="#161616" class="t">2.17</text>
<rect x="241" y="197.07" width="17.11" height="6.46" fill="#fff"/>
<text x="241.5" y="203" font-size="7.6" text-anchor="start" font-weight="normal" fill="#161616" class="t">13.4</text>
<rect x="292.74" y="197.07" width="9.06" height="6.46" fill="#fff"/>
<text x="301.3" y="203" font-size="7.6" text-anchor="end" font-weight="normal" fill="#161616" class="t">42</text>
<rect x="239.2" y="140.2" width="64.3" height="63.7" fill="none" stroke="#000" stroke-width="1.35"/>
<text x="233" y="151.8" font-size="8.4" text-anchor="end" font-weight="normal" fill="#161616">10<tspan dy="-3.53" font-size="6.55">4</tspan></text>
<text x="233" y="167.4" font-size="8.4" text-anchor="end" font-weight="normal" fill="#161616">10<tspan dy="-3.53" font-size="6.55">3</tspan></text>
<text x="233" y="183" font-size="8.4" text-anchor="end" font-weight="normal" fill="#161616">10<tspan dy="-3.53" font-size="6.55">2</tspan></text>
<text x="233" y="198.6" font-size="8.4" text-anchor="end" font-weight="normal" fill="#161616">10<tspan dy="-3.53" font-size="6.55">1</tspan></text>
<path d="M239.2 147.8h-2.8M239.2 158.7h-1.5M239.2 155.96h-1.5M239.2 154.01h-1.5M239.2 152.5h-1.5M239.2 151.26h-1.5M239.2 150.22h-1.5M239.2 149.31h-1.5M239.2 148.51h-1.5M239.2 163.4h-2.8M239.2 174.3h-1.5M239.2 171.56h-1.5M239.2 169.61h-1.5M239.2 168.1h-1.5M239.2 166.86h-1.5M239.2 165.82h-1.5M239.2 164.91h-1.5M239.2 164.11h-1.5M239.2 179h-2.8M239.2 189.9h-1.5M239.2 187.16h-1.5M239.2 185.21h-1.5M239.2 183.7h-1.5M239.2 182.46h-1.5M239.2 181.42h-1.5M239.2 180.51h-1.5M239.2 179.71h-1.5M239.2 194.6h-2.8M239.2 202.76h-1.5M239.2 200.81h-1.5M239.2 199.3h-1.5M239.2 198.06h-1.5M239.2 197.02h-1.5M239.2 196.11h-1.5M239.2 195.31h-1.5M239.2 143.1h-1.5M239.2 146.29h-1.5" stroke="#000" stroke-width=".95"/>
<path d="M240.4 203.9v2.8M253.9 203.9v2.8M268.5 203.9v2.8M283.1 203.9v2.8M297.4 203.9v2.8M258.3 203.9v2M260.87 203.9v2M262.69 203.9v2M264.1 203.9v2M265.26 203.9v2M266.24 203.9v2M267.09 203.9v2M267.83 203.9v2M272.9 203.9v2M275.47 203.9v2M277.29 203.9v2M278.7 203.9v2M279.86 203.9v2M280.84 203.9v2M281.69 203.9v2M282.43 203.9v2M287.4 203.9v2M289.92 203.9v2M291.71 203.9v2M293.1 203.9v2M294.23 203.9v2M295.18 203.9v2M296.01 203.9v2M296.75 203.9v2M243.77 203.9v2M247.15 203.9v2M250.52 203.9v2M239.8 203.9v2M301.7 203.9v2" stroke="#000" stroke-width=".95"/>
<text transform="translate(248.8,214.7) rotate(-45)" font-size="8.4" text-anchor="end" font-weight="normal" fill="#161616">0</text>
<text transform="translate(258.4,214.5) rotate(-45)" font-size="8.4" text-anchor="end" font-weight="normal" fill="#161616">10<tspan dy="-3.53" font-size="6.22">2</tspan></text>
<text transform="translate(271.4,214.5) rotate(-45)" font-size="8.4" text-anchor="end" font-weight="normal" fill="#161616">10<tspan dy="-3.53" font-size="6.22">3</tspan></text>
<text transform="translate(286.6,214.5) rotate(-45)" font-size="8.4" text-anchor="end" font-weight="normal" fill="#161616">10<tspan dy="-3.53" font-size="6.22">4</tspan></text>
<text transform="translate(301.1,214.5) rotate(-45)" font-size="8.4" text-anchor="end" font-weight="normal" fill="#161616">10<tspan dy="-3.53" font-size="6.22">5</tspan></text>
<path d="M53.8 307.6h.9M58.8 300.2h.9M60.8 303.6h.9M55.5 302.2h.9M51.5 305.7h.9M73.1 300.7h.9M54.5 300.5h.9M65.1 303.6h.9M69.1 299.6h.9M65.7 299.6h.9M62.7 304.3h.9M72.5 305.5h.9M61.2 301.4h.9M70.1 305.1h.9M54.2 299.6h.9M49.0 300.4h.9M65.3 302.0h.9M65.2 304.1h.9M94.6 303.6h.9M71.2 302.4h.9M58.2 300.1h.9M56.7 299.6h.9M55.7 309.0h.9M48.9 301.2h.9M49.1 301.2h.9M58.6 301.7h.9M59.8 298.7h.9M50.5 301.0h.9M60.8 301.1h.9M56.7 304.2h.9M66.6 298.3h.9M63.7 300.6h.9M68.1 301.2h.9M67.4 303.8h.9M66.9 298.0h.9M63.3 298.5h.9M70.6 305.1h.9M79.2 304.0h.9M67.0 297.3h.9M51.2 303.8h.9M59.8 302.3h.9M69.2 301.3h.9M65.8 301.0h.9M57.4 293.5h.9M69.4 301.3h.9M72.8 305.1h.9M62.0 305.4h.9M66.9 300.3h.9M70.1 307.6h.9M71.6 304.0h.9M62.2 304.3h.9M54.6 309.1h.9M73.0 297.1h.9M67.0 300.1h.9M54.5 295.6h.9M54.3 303.5h.9M59.3 309.4h.9M56.6 300.4h.9M66.2 307.0h.9M66.0 305.0h.9M69.9 303.0h.9M68.1 300.9h.9M51.1 302.3h.9M67.5 304.8h.9M68.4 303.0h.9M67.8 304.0h.9M55.7 305.3h.9M60.0 302.0h.9M56.2 299.5h.9M59.8 299.1h.9M63.1 306.7h.9M74.7 306.8h.9M65.2 302.2h.9M72.9 304.3h.9M63.6 295.7h.9M50.9 305.5h.9M60.9 299.2h.9M77.8 303.5h.9M59.0 302.7h.9M71.1 301.0h.9M59.5 298.9h.9M66.9 297.3h.9M62.7 305.6h.9M55.8 307.5h.9M69.4 302.2h.9M67.3 307.0h.9M57.6 301.1h.9M73.5 306.1h.9M50.4 301.0h.9M53.1 299.5h.9M60.7 303.6h.9M58.5 302.9h.9M62.2 302.5h.9M53.0 305.2h.9M65.3 305.5h.9M54.9 301.3h.9M69.5 305.7h.9M74.7 297.3h.9M53.7 298.5h.9M67.7 306.8h.9M70.8 305.4h.9M74.3 301.8h.9M48.8 305.6h.9M54.6 303.8h.9M61.2 297.6h.9M67.0 297.5h.9M64.9 308.6h.9M66.0 304.3h.9M65.8 307.1h.9M57.9 306.2h.9M56.9 303.7h.9M74.3 300.8h.9M49.9 304.2h.9M53.8 299.2h.9M70.5 304.7h.9M56.8 302.7h.9M61.4 299.3h.9M54.6 297.6h.9M64.1 300.5h.9M52.2 299.5h.9M52.2 300.0h.9M60.1 304.0h.9M49.8 309.6h.9M54.6 299.7h.9M62.2 306.4h.9M57.0 301.7h.9M61.3 304.8h.9M74.5 295.9h.9M58.5 300.5h.9M71.5 303.4h.9M69.8 293.3h.9M67.3 301.6h.9M66.6 296.3h.9M50.9 300.4h.9M62.5 305.7h.9M71.9 297.8h.9M60.1 295.0h.9M57.8 312.6h.9M65.7 302.0h.9M68.0 298.8h.9M67.7 305.6h.9M65.1 295.7h.9M49.3 304.6h.9M51.1 302.1h.9M62.3 300.0h.9M61.5 301.0h.9M63.8 300.2h.9M72.3 303.9h.9M60.0 301.8h.9M73.7 304.6h.9M51.9 307.1h.9M71.1 297.0h.9M79.2 303.0h.9M64.7 309.1h.9M57.5 305.6h.9M76.4 304.1h.9M60.8 302.1h.9M57.4 303.4h.9M70.0 306.4h.9M60.0 304.8h.9M63.5 299.3h.9M60.1 305.1h.9M66.8 295.6h.9M60.4 300.0h.9M63.7 305.3h.9M67.7 301.5h.9M51.6 309.6h.9M58.1 300.2h.9M63.0 299.8h.9M60.9 300.2h.9M68.1 305.5h.9M60.7 303.1h.9M73.8 297.1h.9M62.0 310.0h.9M60.0 301.7h.9M53.3 301.0h.9M49.2 299.7h.9M62.1 301.5h.9M53.2 303.3h.9M63.7 299.6h.9M66.2 299.5h.9M63.3 305.5h.9M53.6 304.3h.9M50.9 299.8h.9M63.6 299.4h.9M64.6 309.1h.9M73.8 301.9h.9M63.5 300.5h.9M67.3 303.8h.9M52.9 299.9h.9M57.2 297.6h.9M54.2 304.1h.9M57.6 305.3h.9M67.4 302.6h.9M61.9 298.4h.9M62.6 300.9h.9M82.7 303.2h.9M68.5 296.7h.9M54.5 297.1h.9M76.5 302.1h.9M64.4 297.7h.9M58.3 304.5h.9M79.3 303.0h.9M80.6 300.5h.9M57.0 305.6h.9M68.2 306.8h.9M73.4 303.0h.9M64.2 305.0h.9M73.3 302.0h.9M62.4 309.0h.9M54.0 298.2h.9M65.0 309.9h.9M60.2 306.8h.9M55.4 302.9h.9M56.6 308.0h.9M57.1 296.6h.9M74.7 297.3h.9M62.2 307.7h.9M62.5 307.7h.9M70.8 297.8h.9M53.3 304.5h.9M54.6 310.9h.9M58.3 306.1h.9M59.8 308.6h.9M63.5 299.3h.9M52.9 308.5h.9M70.9 301.2h.9M55.3 304.6h.9M51.4 305.2h.9M69.8 299.8h.9M56.3 302.1h.9M60.9 305.4h.9M56.0 310.3h.9M75.8 301.4h.9M59.9 297.7h.9M61.9 301.7h.9M67.7 300.2h.9M63.4 299.7h.9M63.8 305.6h.9M62.7 299.1h.9M64.2 302.2h.9M60.6 299.4h.9M52.1 295.6h.9M60.9 308.3h.9M63.9 304.0h.9M50.4 299.1h.9M59.3 302.4h.9M70.6 303.4h.9M66.1 301.6h.9M67.7 297.8h.9M55.2 303.6h.9M63.3 301.5h.9M59.3 301.3h.9M66.0 299.7h.9M61.5 302.1h.9M60.2 302.6h.9M56.1 306.5h.9M55.4 305.7h.9M50.7 308.7h.9M51.9 298.3h.9M58.1 298.1h.9M80.4 306.3h.9M51.8 308.7h.9M79.8 301.1h.9M55.2 301.9h.9M72.2 299.9h.9M80.6 300.4h.9M60.6 294.9h.9M57.1 301.0h.9M54.7 296.2h.9M68.5 306.0h.9M69.6 297.4h.9M79.1 299.6h.9M56.3 307.8h.9M61.9 302.5h.9M52.9 301.7h.9M53.0 306.7h.9M55.9 301.7h.9M75.4 302.3h.9M66.8 302.9h.9M58.1 309.0h.9M68.0 298.5h.9M61.7 302.2h.9M62.9 308.1h.9M69.3 306.0h.9M61.9 298.6h.9M53.1 298.7h.9M54.7 304.9h.9M56.4 306.5h.9M66.6 304.0h.9M69.9 309.1h.9M53.6 300.7h.9M71.6 309.1h.9M59.7 302.0h.9M59.4 299.5h.9M62.6 305.2h.9M53.4 303.8h.9M59.0 301.0h.9M57.5 295.6h.9M60.1 300.8h.9M55.4 300.5h.9M58.8 299.9h.9M51.4 301.1h.9M56.9 304.6h.9M63.9 298.4h.9M59.0 299.9h.9M58.0 308.9h.9M66.2 297.9h.9M55.8 302.6h.9M57.3 302.5h.9M67.6 303.2h.9M66.4 300.0h.9M55.5 302.8h.9M71.2 300.3h.9M51.7 301.5h.9M63.8 305.8h.9M62.1 302.1h.9M55.5 302.2h.9M68.5 306.1h.9M64.8 304.3h.9M55.3 304.1h.9M66.1 300.8h.9M61.3 304.5h.9M63.4 304.8h.9M58.0 306.6h.9M60.7 298.8h.9M68.1 304.8h.9M59.2 294.5h.9M66.3 301.7h.9M63.3 305.5h.9M54.6 294.4h.9M71.7 306.5h.9M70.7 302.8h.9M61.5 300.3h.9M51.6 309.5h.9M55.6 301.6h.9M48.9 300.1h.9M57.4 302.7h.9M65.5 295.4h.9M69.7 298.7h.9M81.9 302.6h.9M50.2 303.3h.9M53.7 307.8h.9M58.0 303.7h.9M53.6 301.7h.9M67.8 298.1h.9M58.1 298.9h.9M50.7 295.5h.9M76.5 298.9h.9M58.3 304.3h.9M61.0 308.8h.9M69.5 298.6h.9M51.3 304.1h.9M63.6 305.0h.9M69.3 298.4h.9M58.8 305.0h.9M69.5 304.2h.9M66.1 301.0h.9M57.6 296.9h.9M57.1 302.6h.9M77.5 300.8h.9M49.5 304.1h.9M49.5 300.3h.9M64.8 307.0h.9M59.4 302.4h.9M54.5 300.1h.9M67.8 302.6h.9M62.2 302.0h.9M55.0 307.6h.9M61.1 300.4h.9M76.7 303.2h.9M69.0 307.9h.9M68.1 306.4h.9M81.2 296.5h.9M64.2 304.0h.9M73.4 305.5h.9M57.8 307.0h.9M58.3 297.9h.9M69.1 306.7h.9M63.6 302.2h.9M55.9 299.3h.9M54.4 302.5h.9M71.1 304.0h.9M59.3 304.0h.9M67.3 303.1h.9M63.5 305.2h.9M48.8 297.7h.9M58.4 302.9h.9M72.6 304.1h.9M59.7 300.6h.9M64.5 303.3h.9M73.0 303.1h.9M64.7 302.0h.9M69.2 306.5h.9M56.2 303.0h.9M66.7 308.2h.9M60.1 301.4h.9M59.2 300.9h.9M57.3 302.6h.9M64.5 309.0h.9M51.6 302.5h.9M64.5 305.4h.9M53.0 301.1h.9M58.1 307.0h.9M68.4 304.9h.9M60.1 296.6h.9M56.9 305.3h.9M57.1 303.2h.9M76.6 306.6h.9M66.8 295.9h.9M69.8 302.5h.9M52.5 301.1h.9M63.1 303.6h.9M58.1 301.4h.9M65.1 297.8h.9M54.0 299.8h.9M64.2 300.4h.9M55.1 305.9h.9M60.4 301.0h.9M56.7 305.6h.9M67.6 298.2h.9M60.8 307.8h.9M68.8 308.2h.9M57.6 307.4h.9M70.2 299.8h.9M65.4 301.8h.9M53.8 305.5h.9M70.0 292.8h.9M77.7 299.5h.9M61.3 310.3h.9M72.8 309.5h.9M54.9 304.7h.9M57.7 297.7h.9M58.5 305.0h.9M72.1 310.3h.9M59.4 300.8h.9M68.5 308.2h.9M60.7 305.6h.9M65.1 298.8h.9M70.1 297.7h.9M60.0 307.3h.9M62.3 305.1h.9M68.4 307.0h.9M56.4 304.1h.9M58.9 299.3h.9M62.7 294.6h.9M85.5 301.2h.9M70.5 310.0h.9M62.1 311.5h.9M53.7 302.9h.9M71.5 306.6h.9M65.6 296.8h.9M61.4 306.7h.9M65.7 302.2h.9M58.3 299.5h.9M52.1 300.8h.9M61.6 302.8h.9M66.3 302.6h.9M51.1 304.1h.9M60.2 301.9h.9M66.8 306.3h.9M49.4 301.8h.9M65.7 300.0h.9M60.7 301.2h.9M53.5 308.9h.9M70.0 300.0h.9M58.7 301.9h.9M61.4 299.0h.9M56.2 304.6h.9M57.7 299.8h.9M67.3 299.9h.9M59.9 305.6h.9M65.0 303.8h.9M61.8 298.7h.9M57.2 301.9h.9M52.5 304.5h.9M73.6 302.0h.9M71.6 302.9h.9M66.0 302.7h.9M70.1 303.1h.9M48.9 295.5h.9M63.5 303.7h.9M60.8 300.9h.9M49.3 305.2h.9M60.0 295.4h.9M56.4 302.5h.9M66.2 305.5h.9M77.1 302.6h.9M61.2 297.9h.9M62.5 307.6h.9M52.2 304.0h.9M59.4 309.4h.9M52.2 304.3h.9M70.4 306.1h.9M64.2 302.6h.9M66.0 297.9h.9M84.8 302.9h.9M66.6 303.8h.9M56.3 305.4h.9M64.1 308.3h.9M70.4 302.4h.9M56.5 304.3h.9M51.6 304.2h.9M77.2 300.5h.9M69.3 302.4h.9M58.3 300.4h.9M61.0 300.6h.9M71.8 301.0h.9M64.3 305.3h.9M52.5 305.0h.9M61.5 300.2h.9M59.2 304.8h.9M55.2 304.3h.9M56.3 304.0h.9M65.8 300.9h.9M59.8 307.6h.9M65.6 295.8h.9M57.6 301.6h.9M60.4 303.0h.9M75.4 303.7h.9M60.2 304.0h.9M62.0 304.7h.9M60.1 300.0h.9M78.2 297.9h.9M72.2 305.8h.9M51.1 300.4h.9M60.2 304.1h.9M61.7 302.7h.9M64.5 293.2h.9M56.4 301.4h.9" stroke="#000" stroke-width=".9" stroke-opacity="0.68"/>
<path d="M87.4 301.6h.9M84.3 300.8h.9M89.9 302.8h.9M84.5 299.1h.9M91.2 299.8h.9M88.1 301.1h.9M84.4 299.4h.9M86.9 299.6h.9M89.2 304.8h.9M84.7 298.2h.9M88.6 295.6h.9M88.6 302.1h.9M90.7 305.0h.9M83.7 304.0h.9M86.1 295.7h.9M84.6 300.2h.9M86.0 302.2h.9M85.8 296.6h.9M81.5 294.4h.9M85.4 298.3h.9M88.5 298.2h.9M80.8 298.4h.9M87.2 300.8h.9M87.4 306.2h.9M86.0 301.9h.9M87.0 295.4h.9M86.4 298.8h.9M86.2 301.7h.9M81.1 288.3h.9M85.9 297.8h.9M88.9 303.5h.9M85.5 298.5h.9M90.2 297.9h.9M92.6 295.0h.9M81.8 303.8h.9M83.9 303.7h.9M89.0 302.1h.9M90.4 301.1h.9M94.8 296.9h.9M87.9 297.6h.9M85.9 300.5h.9M84.4 297.8h.9M88.8 303.6h.9M88.3 298.9h.9M87.6 300.0h.9M87.0 302.5h.9M88.4 303.1h.9M85.1 297.8h.9M85.1 299.8h.9M82.5 300.3h.9M88.9 299.5h.9M87.8 297.4h.9M85.6 301.7h.9M88.8 296.4h.9M90.6 299.8h.9M85.8 298.8h.9M93.9 298.6h.9M87.4 300.8h.9M89.5 296.4h.9M89.0 299.3h.9M85.3 294.7h.9M89.0 302.1h.9M82.8 300.0h.9M87.4 298.1h.9M82.6 306.9h.9M85.4 296.1h.9M82.7 303.2h.9M84.5 300.9h.9M86.9 303.5h.9M88.0 301.3h.9M88.5 297.7h.9M91.8 304.1h.9M89.8 294.7h.9M92.1 302.8h.9M83.6 301.8h.9M91.6 307.1h.9M85.8 300.2h.9M86.3 300.9h.9M89.0 302.5h.9M86.0 303.9h.9M85.6 304.6h.9M87.3 295.8h.9M87.6 303.0h.9M85.4 303.3h.9M87.4 300.4h.9M86.5 300.4h.9M86.6 309.4h.9M88.2 298.6h.9M87.2 294.3h.9M86.6 300.6h.9M90.2 304.6h.9M88.7 302.6h.9M85.2 303.1h.9M93.5 303.6h.9M87.5 298.0h.9M89.2 299.4h.9M85.8 302.5h.9M89.2 297.9h.9M92.4 306.5h.9M88.0 305.3h.9M88.1 308.5h.9M86.5 301.9h.9M88.5 301.1h.9M83.8 298.4h.9M90.3 305.9h.9M87.0 299.1h.9M90.4 300.3h.9M87.5 303.5h.9M85.3 298.9h.9M86.4 301.4h.9M86.2 297.6h.9M84.8 298.7h.9M90.9 300.8h.9M83.7 295.1h.9M94.1 298.0h.9M90.3 306.0h.9M89.3 297.7h.9M84.5 295.5h.9M85.6 301.9h.9M86.1 305.4h.9M86.7 305.2h.9M88.2 302.6h.9M88.4 308.4h.9M87.9 296.2h.9M82.1 299.4h.9M89.2 295.2h.9M83.1 298.8h.9M84.7 299.5h.9M82.0 301.7h.9M88.2 300.4h.9M93.6 304.3h.9M85.0 302.5h.9M82.9 297.5h.9M82.9 293.3h.9M88.0 304.2h.9M88.7 301.7h.9M89.0 305.0h.9M91.7 299.5h.9M87.6 299.7h.9M88.8 298.5h.9M88.4 299.4h.9M85.8 300.1h.9M89.6 296.9h.9M88.4 301.7h.9M85.0 308.3h.9M86.2 300.2h.9M83.8 297.2h.9M85.9 304.4h.9M86.2 297.5h.9M87.2 301.9h.9M90.1 296.1h.9M86.5 303.0h.9M84.3 301.0h.9M89.8 303.6h.9M83.0 292.4h.9M80.9 299.6h.9M89.7 288.9h.9M87.3 301.2h.9M86.7 310.1h.9M85.9 301.3h.9M87.9 302.6h.9M85.2 296.9h.9M88.7 304.8h.9M84.3 300.8h.9M86.9 299.9h.9M86.9 296.6h.9M86.7 296.5h.9M86.2 304.6h.9M82.6 295.6h.9M88.5 304.2h.9M89.0 300.5h.9M88.2 305.2h.9M89.3 299.5h.9M85.5 300.7h.9M85.3 300.6h.9M88.2 302.4h.9M86.0 296.5h.9M88.1 307.6h.9M89.5 299.2h.9M86.5 304.8h.9M85.5 300.0h.9M88.6 298.4h.9M86.8 304.1h.9M90.4 293.5h.9M87.8 304.0h.9M90.6 301.5h.9M89.6 298.5h.9M87.1 302.9h.9M85.9 301.0h.9M83.9 299.5h.9M88.2 300.2h.9M86.3 293.4h.9M86.0 295.2h.9M90.1 297.0h.9M88.8 300.1h.9M88.6 304.8h.9M87.4 302.0h.9M87.1 298.1h.9M89.2 294.9h.9M90.3 302.1h.9M94.4 300.0h.9M89.7 301.6h.9M88.8 303.9h.9M85.9 299.5h.9M83.8 296.1h.9M84.5 301.2h.9M86.6 298.7h.9M90.1 300.5h.9M87.4 304.1h.9M88.1 301.8h.9M84.2 295.8h.9M87.1 299.2h.9M84.1 298.7h.9M90.0 301.1h.9M93.1 305.0h.9M85.8 299.1h.9M90.1 302.3h.9M85.2 298.9h.9M88.7 302.3h.9M89.3 299.0h.9M88.4 294.4h.9M85.6 301.5h.9M84.1 300.7h.9M86.0 302.2h.9M87.5 302.2h.9M86.5 302.3h.9M85.7 298.8h.9M88.0 299.9h.9M89.7 300.5h.9M87.0 305.0h.9M95.8 302.8h.9M80.9 301.1h.9M89.9 301.8h.9M91.9 306.3h.9M85.5 305.6h.9M81.8 296.6h.9M86.1 300.6h.9M88.9 295.1h.9M86.3 294.6h.9M89.0 302.1h.9M87.1 299.9h.9M87.3 296.7h.9M88.1 299.7h.9M90.6 300.2h.9M86.7 298.7h.9M85.0 299.1h.9M84.1 302.1h.9M87.4 303.6h.9M83.4 299.4h.9M91.8 308.9h.9M80.2 301.3h.9M85.3 296.3h.9M86.8 300.6h.9M90.8 304.1h.9M90.6 296.4h.9M84.7 298.2h.9M84.5 299.5h.9M86.6 304.4h.9M86.1 303.5h.9M91.0 309.8h.9M85.8 301.3h.9M90.1 302.6h.9M85.2 302.0h.9M93.1 303.1h.9M85.8 300.8h.9M88.0 297.4h.9M87.5 300.7h.9M88.0 299.5h.9M90.9 295.3h.9M88.3 299.3h.9M86.5 294.4h.9M88.6 302.0h.9M81.5 299.4h.9M82.9 300.1h.9M88.9 305.0h.9M88.8 303.6h.9M87.7 301.0h.9M91.6 298.9h.9M87.1 309.4h.9M88.7 306.8h.9M83.4 297.2h.9M87.7 304.1h.9M87.6 298.2h.9M83.5 295.8h.9M86.5 295.7h.9M87.6 298.1h.9M87.6 293.2h.9M85.2 304.0h.9M87.6 301.0h.9M93.1 302.0h.9M86.1 302.9h.9M87.0 306.0h.9M84.1 299.9h.9M89.7 301.0h.9M86.6 302.1h.9M88.1 296.5h.9M86.5 300.3h.9M86.6 302.6h.9M86.4 300.5h.9M89.1 302.5h.9M85.3 296.0h.9M89.6 291.2h.9M85.3 303.9h.9M87.5 303.2h.9M88.9 301.2h.9M87.1 294.4h.9M82.4 297.5h.9M87.8 300.2h.9M84.1 305.7h.9M87.9 300.3h.9M81.0 299.6h.9M88.9 295.5h.9M83.9 296.7h.9M84.1 300.7h.9M82.1 294.9h.9M89.9 297.4h.9M87.9 302.6h.9M87.8 296.5h.9M86.0 300.4h.9M84.6 301.2h.9M88.7 304.1h.9M86.9 301.2h.9M85.2 303.0h.9M88.6 301.4h.9M88.3 293.4h.9M84.2 298.0h.9M87.9 301.1h.9M88.6 302.3h.9M89.7 302.1h.9M88.3 299.0h.9M88.4 296.4h.9M87.6 298.2h.9M86.6 300.6h.9M87.8 302.8h.9M90.1 305.1h.9M88.6 297.9h.9M86.0 305.7h.9M86.6 305.2h.9M88.5 301.3h.9M94.6 311.3h.9M89.7 303.6h.9M84.5 303.6h.9M88.5 302.9h.9M87.9 300.1h.9M89.2 298.1h.9M86.2 303.8h.9M90.6 303.2h.9M83.9 295.4h.9M84.3 296.4h.9M89.0 299.5h.9M88.8 296.5h.9M87.8 292.8h.9M89.3 293.4h.9M85.5 296.4h.9M83.9 302.0h.9M89.5 301.7h.9M87.7 301.3h.9M87.2 300.3h.9M88.9 301.9h.9M88.1 304.7h.9M86.7 300.5h.9M86.0 302.6h.9M86.9 297.6h.9M83.1 298.7h.9M83.9 302.3h.9M89.4 296.2h.9M85.8 299.5h.9M86.4 295.1h.9M85.8 296.0h.9M86.4 300.3h.9M89.6 299.5h.9M87.7 303.7h.9M85.8 302.6h.9M81.4 301.1h.9M87.9 302.0h.9M91.1 303.0h.9M87.1 303.4h.9M86.1 298.4h.9M90.5 305.7h.9M89.5 298.5h.9M88.7 303.5h.9M82.3 292.6h.9M86.1 293.7h.9M84.0 295.1h.9M87.4 300.3h.9M82.4 296.9h.9M87.4 298.4h.9M89.8 294.3h.9M90.4 302.0h.9M86.0 301.7h.9M87.8 303.7h.9M87.5 297.7h.9M91.1 303.7h.9M84.3 300.9h.9M86.2 297.2h.9M93.9 298.7h.9M89.2 302.4h.9M90.2 295.8h.9M89.3 303.3h.9M85.7 295.1h.9M86.0 299.7h.9M86.9 307.2h.9M84.6 305.0h.9M88.2 300.5h.9M88.3 294.9h.9M87.4 305.2h.9M88.5 298.5h.9M90.5 301.4h.9M86.5 296.6h.9M83.6 302.7h.9M86.9 296.7h.9M81.2 297.9h.9M90.4 294.1h.9M87.0 299.6h.9M85.7 296.7h.9M87.9 303.8h.9M81.5 303.1h.9M89.2 299.7h.9M80.9 298.9h.9M89.4 299.6h.9M86.3 297.3h.9M86.6 306.7h.9M83.0 292.7h.9M89.3 307.8h.9M87.9 295.5h.9M89.2 306.7h.9M88.4 305.4h.9M88.3 299.7h.9M86.6 301.1h.9M89.6 301.4h.9M83.4 303.0h.9M89.2 301.0h.9M90.1 298.9h.9M90.3 300.3h.9M84.4 298.2h.9M89.8 296.3h.9M89.2 300.9h.9M90.4 294.0h.9M87.7 296.4h.9M86.8 300.9h.9M86.6 293.5h.9M87.3 301.9h.9M84.1 298.7h.9M88.2 307.3h.9M92.3 303.3h.9M84.0 301.4h.9M83.9 301.7h.9M87.8 308.2h.9M87.5 299.9h.9M85.8 301.5h.9M86.7 300.4h.9M90.6 298.3h.9M85.2 299.5h.9M84.7 302.4h.9M86.3 301.4h.9M92.3 302.5h.9M88.0 302.0h.9M89.4 299.2h.9M87.8 300.6h.9M86.0 302.9h.9M84.3 297.8h.9M87.9 299.1h.9M87.4 301.6h.9M88.3 302.1h.9M92.3 304.6h.9M83.8 299.6h.9M84.2 301.5h.9M84.3 297.1h.9M92.7 297.8h.9M83.4 301.5h.9M82.2 296.1h.9M90.2 299.6h.9M90.3 299.8h.9M86.4 303.1h.9M90.4 306.1h.9M88.5 302.1h.9M85.6 301.7h.9M85.5 298.0h.9M87.4 296.8h.9M90.7 303.0h.9M85.0 303.3h.9M87.2 301.1h.9M88.3 299.9h.9M90.1 299.9h.9M92.1 305.7h.9M86.9 304.8h.9M82.8 304.0h.9M88.6 299.7h.9M90.2 297.2h.9M86.1 303.6h.9M85.5 304.2h.9M77.6 297.1h.9M87.8 296.5h.9M87.1 302.8h.9M86.4 300.1h.9M88.8 302.7h.9M89.5 299.7h.9M90.8 301.3h.9M89.0 302.9h.9M88.2 302.6h.9M86.1 297.6h.9M86.2 298.6h.9M86.7 298.5h.9M89.0 294.2h.9M90.3 302.0h.9M90.1 298.4h.9M88.7 301.9h.9M85.3 300.4h.9M84.2 305.1h.9M87.6 295.4h.9M88.0 299.0h.9M87.6 296.7h.9M87.4 301.9h.9M88.7 297.9h.9M84.4 298.7h.9M86.6 296.4h.9M90.5 297.8h.9M87.3 302.7h.9M89.0 298.0h.9M87.7 300.0h.9" stroke="#000" stroke-width=".9" stroke-opacity="1.00"/>
<path d="M68.2 333.3h.9M53.3 325.3h.9M58.5 319.1h.9M68.1 338.0h.9M68.3 313.7h.9M73.1 324.0h.9M65.3 318.6h.9M74.3 313.3h.9M73.7 310.9h.9M56.9 314.2h.9M93.9 321.4h.9M83.4 311.3h.9M90.2 311.0h.9M51.5 323.4h.9M83.6 320.0h.9M70.3 329.5h.9M81.5 330.4h.9M73.6 326.9h.9M69.5 320.2h.9M62.7 321.5h.9M61.8 330.9h.9M61.9 333.2h.9M80.0 323.6h.9M71.6 325.9h.9M62.5 325.6h.9M58.0 320.8h.9M54.9 326.9h.9M80.1 313.6h.9M74.1 322.4h.9M61.4 324.2h.9M70.2 322.6h.9M51.9 319.5h.9M64.2 325.8h.9M66.2 323.7h.9M61.6 319.6h.9M56.2 338.7h.9M91.7 339.3h.9M85.7 328.7h.9M79.7 334.9h.9M55.5 326.7h.9M68.8 325.8h.9M67.0 318.2h.9M85.7 325.6h.9M76.2 330.8h.9M56.9 317.9h.9M81.2 322.9h.9M51.1 329.3h.9M69.0 330.3h.9M68.9 331.3h.9M64.1 333.0h.9M74.4 327.5h.9M68.3 324.6h.9M61.5 322.7h.9M78.7 316.3h.9M64.2 323.3h.9M73.2 336.4h.9M59.5 332.0h.9M52.7 321.0h.9M64.4 324.6h.9M77.5 331.2h.9M69.5 325.8h.9M65.6 322.9h.9M77.2 318.9h.9M86.6 316.3h.9M75.1 306.0h.9M73.1 319.9h.9M53.5 326.6h.9M78.7 320.0h.9M67.1 310.5h.9M69.8 317.0h.9M84.3 325.1h.9M54.8 323.1h.9M62.0 320.9h.9M70.8 328.2h.9M82.1 327.6h.9M70.1 328.0h.9M66.9 329.4h.9M57.8 327.2h.9M83.9 328.4h.9M78.3 331.3h.9M62.8 321.8h.9" stroke="#000" stroke-width=".9" stroke-opacity="0.70"/>
<path d="M79.4 276.25L79.4 342" stroke="#959595" stroke-width="1.0" fill="none"/>
<path d="M47.5 313.3L113.5 313.3" stroke="#959595" stroke-width="1.0" fill="none"/>
<rect x="49.3" y="278.22" width="17.11" height="6.46" fill="#fff"/>
<text x="49.8" y="284.15" font-size="7.6" text-anchor="start" font-weight="normal" fill="#161616" class="t">34.6</text>
<rect x="94.69" y="278.22" width="17.11" height="6.46" fill="#fff"/>
<text x="111.3" y="284.15" font-size="7.6" text-anchor="end" font-weight="normal" fill="#161616" class="t">58.6</text>
<rect x="49.3" y="335.17" width="13.08" height="6.46" fill="#fff"/>
<text x="49.8" y="341.1" font-size="7.6" text-anchor="start" font-weight="normal" fill="#161616" class="t">5.7</text>
<rect x="94.69" y="335.17" width="17.11" height="6.46" fill="#fff"/>
<text x="111.3" y="341.1" font-size="7.6" text-anchor="end" font-weight="normal" fill="#161616" class="t">1.13</text>
<rect x="47.5" y="276.25" width="66" height="65.75" fill="none" stroke="#000" stroke-width="1.35"/>
<text x="41.3" y="287" font-size="8.4" text-anchor="end" font-weight="normal" fill="#161616">10<tspan dy="-3.53" font-size="6.55">5</tspan></text>
<text x="41.3" y="302.17" font-size="8.4" text-anchor="end" font-weight="normal" fill="#161616">10<tspan dy="-3.53" font-size="6.55">4</tspan></text>
<text x="41.3" y="317.33" font-size="8.4" text-anchor="end" font-weight="normal" fill="#161616">10<tspan dy="-3.53" font-size="6.55">3</tspan></text>
<text x="41.3" y="332.5" font-size="8.4" text-anchor="end" font-weight="normal" fill="#161616">10<tspan dy="-3.53" font-size="6.55">2</tspan></text>
<text x="42.9" y="338.5" font-size="8.4" text-anchor="end" font-weight="normal" fill="#161616">0</text>
<path d="M47.5 283h-2.8M47.5 293.6h-1.5M47.5 290.93h-1.5M47.5 289.04h-1.5M47.5 287.57h-1.5M47.5 286.36h-1.5M47.5 285.35h-1.5M47.5 284.47h-1.5M47.5 283.69h-1.5M47.5 298.17h-2.8M47.5 308.77h-1.5M47.5 306.1h-1.5M47.5 304.2h-1.5M47.5 302.73h-1.5M47.5 301.53h-1.5M47.5 300.52h-1.5M47.5 299.64h-1.5M47.5 298.86h-1.5M47.5 313.33h-2.8M47.5 323.93h-1.5M47.5 321.26h-1.5M47.5 319.37h-1.5M47.5 317.9h-1.5M47.5 316.7h-1.5M47.5 315.68h-1.5M47.5 314.8h-1.5M47.5 314.03h-1.5M47.5 328.5h-2.8M47.5 335.5h-2.8M47.5 329.67h-1.5M47.5 337.67h-1.5M47.5 330.83h-1.5M47.5 339.83h-1.5M47.5 332h-1.5M47.5 342h-1.5M47.5 333.17h-1.5M47.5 334.33h-1.5" stroke="#000" stroke-width=".95"/>
<path d="M49.3 342v2.8M62.7 342v2.8M77.8 342v2.8M92.9 342v2.8M107.8 342v2.8M67.25 342v2M69.9 342v2M71.79 342v2M73.25 342v2M74.45 342v2M75.46 342v2M76.34 342v2M77.11 342v2M82.35 342v2M85 342v2M86.89 342v2M88.35 342v2M89.55 342v2M90.56 342v2M91.44 342v2M92.21 342v2M97.39 342v2M100.01 342v2M101.87 342v2M103.31 342v2M104.49 342v2M105.49 342v2M106.36 342v2M107.12 342v2M52.65 342v2M56 342v2M59.35 342v2M48.1 342v2M112.29 342v2" stroke="#000" stroke-width=".95"/>
<text transform="translate(56.7,352.1) rotate(-45)" font-size="8.4" text-anchor="end" font-weight="normal" fill="#161616">0</text>
<text transform="translate(66.5,352.6) rotate(-45)" font-size="8.4" text-anchor="end" font-weight="normal" fill="#161616">10<tspan dy="-3.53" font-size="6.22">2</tspan></text>
<text transform="translate(80,352.6) rotate(-45)" font-size="8.4" text-anchor="end" font-weight="normal" fill="#161616">10<tspan dy="-3.53" font-size="6.22">3</tspan></text>
<text transform="translate(95.5,352.6) rotate(-45)" font-size="8.4" text-anchor="end" font-weight="normal" fill="#161616">10<tspan dy="-3.53" font-size="6.22">4</tspan></text>
<text transform="translate(110.3,352.6) rotate(-45)" font-size="8.4" text-anchor="end" font-weight="normal" fill="#161616">10<tspan dy="-3.53" font-size="6.22">5</tspan></text>
<path d="M152.8 303.8h.9M155.1 304.8h.9M155.2 302.2h.9M153.1 297.8h.9M167.2 298.5h.9M151.8 299.2h.9M148.4 295.2h.9M173.9 293.0h.9M157.2 302.3h.9M156.3 304.9h.9M151.0 301.0h.9M160.2 304.6h.9M150.6 301.3h.9M169.0 307.1h.9M162.7 300.0h.9M155.7 305.4h.9M146.3 296.1h.9M159.5 299.6h.9M165.9 305.0h.9M164.8 299.3h.9M158.4 302.3h.9M171.7 304.5h.9M157.8 299.8h.9M160.7 294.7h.9M154.7 304.2h.9M156.7 296.7h.9M164.6 305.9h.9M147.8 299.2h.9M151.9 300.4h.9M146.4 308.4h.9M146.2 296.6h.9M159.3 303.5h.9M163.0 299.1h.9M161.3 303.1h.9M161.0 307.2h.9M165.3 295.4h.9M165.7 302.7h.9M165.0 299.7h.9M160.6 296.9h.9M157.6 295.3h.9M147.1 301.3h.9M152.1 297.0h.9M156.9 297.0h.9M148.7 306.8h.9M167.6 305.6h.9M164.7 297.3h.9M164.3 303.3h.9M165.4 299.9h.9M156.5 302.2h.9M157.3 295.8h.9M172.0 305.9h.9M155.5 303.7h.9M164.1 299.1h.9M149.8 302.5h.9M162.2 302.4h.9M149.4 307.8h.9M157.0 294.6h.9M160.8 312.7h.9M167.3 302.1h.9M165.9 307.6h.9M163.5 302.0h.9M153.5 301.7h.9M163.5 305.3h.9M166.9 301.8h.9M159.0 301.1h.9M165.0 296.1h.9M162.2 299.8h.9M162.5 299.2h.9M153.2 308.4h.9M160.6 303.7h.9M159.4 301.0h.9M165.2 296.9h.9M159.3 296.3h.9M153.0 299.4h.9M159.9 301.6h.9M156.9 300.7h.9M153.1 301.4h.9M146.1 295.3h.9M163.6 299.2h.9M178.6 294.6h.9M158.5 300.4h.9M155.8 303.1h.9M167.6 302.2h.9M156.7 301.2h.9M165.6 302.7h.9M164.8 299.7h.9M150.9 313.7h.9M144.2 307.0h.9M153.9 294.0h.9M154.9 301.9h.9M158.3 300.3h.9M146.2 302.4h.9M160.5 297.7h.9M173.9 301.9h.9M154.8 298.7h.9M162.9 298.1h.9M175.5 296.4h.9M164.9 298.1h.9M161.9 292.3h.9M150.9 298.0h.9M164.2 295.7h.9M156.3 300.9h.9M157.4 304.2h.9M150.2 303.3h.9M163.2 303.5h.9M172.7 308.7h.9M146.7 303.6h.9M157.4 297.4h.9M155.0 299.1h.9M160.4 300.8h.9M151.8 298.4h.9M152.4 305.9h.9M162.2 301.2h.9M148.0 298.8h.9M155.4 299.4h.9M172.0 299.0h.9M160.0 296.8h.9M154.2 299.9h.9M158.2 305.3h.9M154.1 299.5h.9M173.7 299.1h.9M171.0 299.8h.9M160.7 298.8h.9M164.1 296.0h.9M154.9 301.4h.9M154.0 303.3h.9M184.4 303.5h.9M158.7 300.6h.9M160.3 294.3h.9M145.5 304.8h.9M170.7 300.0h.9M146.6 301.4h.9M155.6 302.9h.9M157.1 303.0h.9M171.3 300.2h.9M160.3 298.9h.9M145.1 301.6h.9M174.1 294.3h.9M155.5 303.1h.9M156.0 303.7h.9M152.5 298.5h.9M146.2 300.7h.9M170.8 299.3h.9M153.6 301.9h.9M154.5 304.3h.9M162.1 290.8h.9M154.9 298.0h.9M164.3 295.1h.9M158.4 299.2h.9M156.8 296.6h.9M164.3 307.1h.9M163.5 300.6h.9M155.7 300.0h.9M149.2 310.6h.9M157.3 298.1h.9M168.1 296.6h.9M155.2 301.8h.9M151.4 306.1h.9M164.9 300.7h.9M154.8 294.0h.9M156.7 300.4h.9M157.6 299.7h.9M169.3 300.0h.9M160.0 304.8h.9M160.7 308.5h.9M165.4 296.5h.9M166.6 304.9h.9M160.5 303.5h.9M164.4 303.7h.9M163.1 300.5h.9M148.6 298.8h.9M163.7 299.5h.9M178.0 297.0h.9M176.3 299.4h.9M170.1 307.2h.9M165.1 302.0h.9M167.1 308.3h.9M159.1 296.5h.9M155.2 304.2h.9M158.2 299.1h.9M156.0 300.0h.9M158.5 300.2h.9M163.1 306.0h.9M149.5 302.1h.9M157.1 305.1h.9M160.3 297.6h.9M148.6 297.4h.9M156.2 296.5h.9M164.5 301.3h.9M164.6 306.9h.9M177.1 297.1h.9M156.3 303.7h.9M159.1 294.3h.9M160.6 303.5h.9M163.8 302.6h.9M144.4 294.3h.9M158.0 296.8h.9M154.9 305.6h.9M166.9 298.6h.9M159.7 307.5h.9M156.6 298.8h.9M152.3 300.2h.9M158.8 306.4h.9M154.3 301.5h.9M158.5 299.6h.9M174.1 303.1h.9M153.7 304.2h.9M149.8 299.7h.9M163.2 303.9h.9M159.4 295.3h.9M169.4 298.8h.9M149.5 303.3h.9M154.9 303.6h.9M154.0 302.2h.9M155.9 299.7h.9M154.3 299.2h.9M165.1 298.6h.9M152.1 296.2h.9M151.1 299.8h.9M170.4 302.1h.9M166.0 301.2h.9M160.3 294.3h.9M166.7 297.1h.9M155.6 303.5h.9M154.2 302.7h.9M161.6 302.0h.9M183.3 299.2h.9M149.5 299.9h.9M169.5 294.6h.9M156.3 297.0h.9M151.6 299.3h.9M149.1 300.6h.9M157.5 300.3h.9M162.0 303.2h.9M160.6 294.4h.9M163.5 301.6h.9M167.4 309.1h.9M152.6 302.8h.9M146.6 302.5h.9M161.1 303.7h.9M160.7 301.1h.9M158.0 298.5h.9M157.1 298.0h.9M149.5 292.5h.9M164.8 304.5h.9M150.7 298.2h.9M148.7 304.2h.9M178.7 301.5h.9M157.5 303.8h.9M155.1 307.1h.9M166.5 305.1h.9M160.0 307.2h.9M157.1 303.5h.9M157.9 297.8h.9M144.2 298.8h.9M153.7 295.3h.9M149.8 298.1h.9M152.4 304.8h.9M182.3 302.6h.9M164.7 304.5h.9M178.0 304.6h.9M166.2 301.6h.9M159.5 308.7h.9M155.7 301.7h.9M171.9 299.7h.9M143.8 304.0h.9M154.4 298.2h.9M163.0 301.0h.9M162.9 304.3h.9M150.4 298.9h.9M165.2 302.9h.9M152.1 304.5h.9M166.3 305.2h.9M148.7 299.0h.9M169.4 296.6h.9M168.3 294.9h.9M163.6 303.1h.9M163.2 302.5h.9M168.0 297.8h.9M146.1 304.8h.9M154.0 297.9h.9M159.7 296.5h.9M156.9 300.1h.9M153.7 302.6h.9M167.1 290.6h.9M146.0 304.5h.9M152.5 295.7h.9M154.3 300.8h.9M167.5 303.0h.9M154.5 299.7h.9M147.0 303.8h.9M173.3 307.2h.9M149.3 298.3h.9M150.3 306.2h.9M153.9 308.4h.9M154.1 305.6h.9M161.2 301.0h.9M144.9 298.9h.9M167.1 298.5h.9M163.9 302.2h.9M169.2 301.0h.9M159.9 299.2h.9M161.5 305.5h.9M151.9 298.1h.9M168.1 308.9h.9M167.8 305.4h.9M147.4 294.8h.9M163.2 295.2h.9M153.5 302.9h.9M147.9 300.5h.9M172.1 301.8h.9M149.6 299.5h.9M162.5 302.0h.9M167.3 304.3h.9M147.4 292.9h.9M161.5 301.8h.9M165.7 296.6h.9M159.3 300.7h.9M150.5 305.0h.9M156.1 306.5h.9M168.5 304.9h.9M144.2 300.4h.9M168.5 296.6h.9M148.9 302.0h.9M157.6 305.2h.9M154.3 302.4h.9M162.3 298.7h.9M164.3 306.1h.9M157.3 300.4h.9M164.5 299.6h.9M166.9 291.8h.9M165.9 302.5h.9M157.0 296.1h.9M150.3 302.0h.9M146.3 309.3h.9M148.1 302.2h.9M150.8 301.9h.9M163.4 302.9h.9M163.1 307.6h.9M153.7 293.7h.9M153.9 298.2h.9M153.9 296.1h.9M156.7 300.0h.9M159.0 309.2h.9M150.6 296.8h.9M145.5 305.4h.9M157.6 298.9h.9M159.0 299.3h.9M161.6 294.9h.9M159.6 303.7h.9M156.3 298.4h.9M163.1 300.7h.9M154.6 299.2h.9M164.0 297.4h.9M155.0 301.4h.9M168.5 302.8h.9M150.8 296.4h.9M158.3 296.5h.9M159.2 303.1h.9M151.4 296.9h.9M153.8 303.3h.9M159.7 304.5h.9M166.5 300.2h.9M162.5 300.1h.9M163.9 302.9h.9M171.6 300.6h.9M166.2 293.8h.9M155.9 302.2h.9M162.9 298.6h.9M152.3 303.6h.9M189.3 295.7h.9M153.2 302.9h.9M163.1 302.9h.9M153.0 304.2h.9M150.4 309.4h.9M170.1 303.0h.9M155.4 299.4h.9M145.6 298.5h.9M169.7 295.8h.9M166.8 303.4h.9M161.4 304.0h.9M162.6 301.7h.9M154.3 293.1h.9M156.8 304.3h.9M149.8 294.5h.9M161.6 300.7h.9M175.1 298.1h.9M164.1 298.2h.9M152.4 304.9h.9M162.8 303.5h.9M159.2 297.1h.9M169.6 300.3h.9M150.6 304.3h.9M163.4 300.3h.9M163.4 296.8h.9M148.3 305.6h.9M160.2 300.6h.9M157.7 294.5h.9M147.9 294.1h.9M162.0 304.1h.9M162.9 288.0h.9M159.3 298.7h.9M161.5 293.0h.9M151.4 303.8h.9M151.7 297.5h.9M168.5 305.2h.9M164.9 304.0h.9M157.6 301.8h.9M154.2 301.6h.9M158.8 303.8h.9M145.6 303.2h.9M156.8 298.8h.9M163.4 297.6h.9M147.8 299.8h.9M160.5 297.7h.9M163.4 304.8h.9M150.6 304.0h.9M153.3 298.2h.9M154.0 301.4h.9M159.4 295.4h.9M160.4 295.1h.9M158.8 301.2h.9M159.8 299.3h.9M144.9 309.5h.9M162.1 303.2h.9M154.5 292.9h.9M160.6 303.0h.9M144.9 304.0h.9M159.3 302.7h.9M160.2 312.8h.9M152.3 301.5h.9M159.6 299.8h.9M167.1 301.2h.9M161.5 302.1h.9M156.5 303.5h.9M162.9 296.0h.9M165.1 303.6h.9M172.1 303.6h.9M167.7 306.5h.9M163.3 300.2h.9M169.2 304.0h.9M159.7 294.4h.9M166.4 298.1h.9M157.3 306.0h.9M154.0 305.8h.9M158.6 301.1h.9M151.1 296.2h.9M168.6 297.2h.9M163.9 298.2h.9M155.4 298.9h.9M158.8 295.8h.9M156.7 300.1h.9M153.9 293.2h.9M147.4 308.1h.9M160.6 303.2h.9M163.3 303.1h.9M160.5 300.9h.9M160.2 302.3h.9M164.5 301.4h.9M160.3 297.8h.9M148.9 302.6h.9M166.5 299.6h.9M169.0 294.3h.9M153.9 301.0h.9M160.5 297.6h.9M153.8 305.4h.9M157.2 306.2h.9M156.1 298.7h.9M157.1 305.1h.9M150.9 302.7h.9M157.6 303.6h.9M166.1 303.3h.9M162.4 303.8h.9M155.9 304.5h.9M165.6 304.7h.9M155.0 307.4h.9M157.5 306.4h.9M156.6 298.6h.9M158.1 304.0h.9M161.9 293.0h.9M145.1 309.3h.9M165.1 303.1h.9M159.5 305.0h.9M158.5 300.0h.9M153.4 296.8h.9M167.2 299.2h.9M164.1 304.0h.9M163.0 295.8h.9M150.2 306.2h.9M167.7 304.2h.9M173.1 301.0h.9M152.4 299.1h.9M160.9 305.8h.9M159.5 297.1h.9M150.2 297.6h.9M157.0 303.8h.9M162.3 300.0h.9M151.7 303.1h.9M157.9 297.7h.9M155.3 297.0h.9M160.3 304.5h.9M160.2 304.9h.9M162.4 297.9h.9M169.1 301.0h.9M159.5 304.4h.9M151.0 301.9h.9M160.3 297.3h.9M164.5 299.1h.9M168.7 300.4h.9M167.8 303.8h.9M161.0 299.4h.9M160.7 302.8h.9M148.4 299.8h.9M145.8 298.2h.9M160.8 304.3h.9M154.3 304.3h.9M146.0 306.7h.9M166.9 298.7h.9M157.4 294.2h.9M151.1 306.1h.9M153.8 300.8h.9M169.1 296.4h.9M149.8 296.8h.9M163.5 305.1h.9M165.0 301.1h.9M159.4 304.4h.9M171.1 308.6h.9M162.8 297.7h.9M147.6 298.9h.9M163.5 301.6h.9M174.1 298.3h.9M166.4 308.2h.9M166.3 297.3h.9M161.2 301.1h.9M148.6 291.6h.9M160.9 300.5h.9M160.2 301.2h.9M150.7 297.2h.9M147.2 293.7h.9M161.2 298.1h.9M156.0 297.1h.9M165.4 301.0h.9M149.4 300.7h.9M163.6 300.8h.9M169.0 299.2h.9M159.8 304.9h.9M161.3 304.4h.9M154.3 298.3h.9M150.7 300.5h.9M144.5 305.6h.9M160.7 301.8h.9M159.2 293.3h.9M162.2 306.1h.9M165.0 296.7h.9M164.4 300.1h.9M166.5 296.8h.9M162.5 298.5h.9M166.3 299.1h.9M170.0 304.4h.9M166.4 298.0h.9M164.1 312.1h.9M149.1 291.8h.9M168.1 300.9h.9M159.3 301.4h.9M160.8 298.9h.9M157.3 294.9h.9M165.1 310.6h.9M153.1 302.3h.9M149.3 305.5h.9M173.1 304.5h.9M162.5 304.1h.9M148.0 297.1h.9M153.2 302.8h.9M163.0 302.1h.9M159.5 298.5h.9M162.9 302.0h.9M158.1 303.8h.9M152.9 296.1h.9M166.6 303.8h.9M152.1 303.5h.9M145.8 304.2h.9M167.7 304.3h.9M157.3 303.3h.9M172.8 298.8h.9M157.9 302.5h.9M174.6 301.1h.9M160.5 301.7h.9M157.4 303.0h.9M156.6 304.7h.9M160.8 300.4h.9M158.9 304.6h.9M167.5 297.3h.9M155.3 296.1h.9M162.1 302.0h.9M166.0 300.3h.9M151.1 300.9h.9M151.4 308.0h.9M173.2 303.3h.9M168.1 295.3h.9M157.8 304.5h.9M149.2 296.8h.9M159.2 302.3h.9M162.5 300.8h.9M166.3 300.8h.9M157.2 297.8h.9M170.7 303.6h.9M158.7 307.1h.9M158.6 302.5h.9M151.1 302.6h.9M159.5 302.9h.9M158.1 299.0h.9M164.8 302.4h.9M156.3 301.6h.9M153.8 296.4h.9M171.8 300.7h.9M148.3 296.0h.9M153.0 294.5h.9M149.2 304.8h.9M174.3 299.9h.9M156.7 299.1h.9M168.2 300.7h.9M171.9 299.9h.9M160.5 298.2h.9M158.0 301.5h.9M178.7 305.1h.9M165.2 297.4h.9M149.5 297.0h.9M158.5 304.1h.9M156.8 295.7h.9M155.1 302.7h.9M158.5 303.4h.9M159.3 301.0h.9M159.8 300.3h.9M158.4 307.0h.9M165.1 307.9h.9M148.2 306.9h.9M153.7 302.0h.9M166.9 302.5h.9M148.6 295.7h.9M163.5 301.9h.9M163.1 307.8h.9M167.0 311.6h.9M156.9 297.7h.9M161.4 302.7h.9M158.3 302.6h.9M149.5 307.9h.9M158.2 302.0h.9M149.3 302.2h.9M147.3 296.9h.9M162.0 298.0h.9M150.8 306.0h.9M150.1 300.6h.9M160.3 302.9h.9M162.6 298.2h.9M152.3 304.0h.9M154.4 294.6h.9M150.8 295.0h.9M161.9 307.8h.9M150.8 301.7h.9M152.3 296.7h.9M161.7 304.9h.9M172.4 297.3h.9M163.5 296.9h.9M166.5 301.3h.9M163.6 296.6h.9M149.9 302.3h.9M146.4 302.0h.9M165.8 295.6h.9M151.1 310.3h.9M162.6 303.7h.9M163.3 299.5h.9M145.1 305.5h.9M154.4 298.3h.9M163.7 301.6h.9M164.0 302.3h.9M156.9 299.8h.9M148.2 301.6h.9M164.2 308.2h.9M144.4 297.1h.9M160.1 298.1h.9M152.6 306.3h.9M152.2 293.8h.9M163.6 302.4h.9M150.1 298.0h.9M164.1 297.3h.9M157.2 305.3h.9M157.0 303.0h.9M175.1 307.1h.9M161.0 299.4h.9M145.3 301.6h.9M160.3 308.8h.9M168.6 304.2h.9M153.9 298.9h.9M158.1 304.0h.9M156.5 300.5h.9M151.4 304.6h.9M159.7 295.4h.9M151.1 293.8h.9M164.2 293.6h.9M148.0 301.0h.9M164.4 305.5h.9M158.9 299.7h.9M162.3 303.4h.9M154.7 301.8h.9M170.1 297.9h.9M154.7 298.7h.9M147.5 300.9h.9M153.7 294.7h.9M172.6 302.4h.9M166.7 295.6h.9M156.0 296.3h.9M147.6 298.7h.9M151.6 296.3h.9M163.9 300.7h.9M159.7 297.5h.9M169.3 299.1h.9M156.5 299.3h.9M156.8 301.4h.9M161.2 303.5h.9M150.3 302.3h.9M160.2 304.2h.9M160.4 298.8h.9M161.0 299.7h.9M161.5 298.6h.9M145.5 300.7h.9M154.4 297.5h.9M156.6 292.6h.9M164.3 301.9h.9M152.3 305.7h.9M153.8 300.6h.9M154.2 306.3h.9M152.1 296.2h.9M156.9 305.3h.9M152.0 305.0h.9M148.2 299.3h.9M172.0 303.3h.9M162.1 295.4h.9M163.9 301.3h.9M156.9 304.6h.9M147.4 304.0h.9M170.2 304.3h.9M159.7 297.4h.9M152.8 296.4h.9M171.3 298.9h.9M166.5 298.4h.9M149.3 302.2h.9M153.3 301.6h.9M169.9 297.3h.9M163.6 294.1h.9M154.7 298.0h.9M158.4 304.6h.9M157.7 298.9h.9M153.5 304.5h.9M152.6 303.6h.9M169.8 301.0h.9M163.4 300.8h.9M160.1 297.3h.9M173.5 299.9h.9M152.3 304.9h.9M159.0 300.6h.9M153.1 310.5h.9M154.5 292.6h.9M172.5 311.2h.9M149.7 303.1h.9M158.9 304.2h.9M165.3 303.9h.9M173.0 297.7h.9M162.7 307.2h.9M147.7 299.0h.9M158.3 304.2h.9M169.6 294.9h.9M145.1 304.4h.9M158.6 305.5h.9M160.6 308.8h.9M164.5 305.5h.9M153.7 303.0h.9M164.5 303.6h.9M159.6 298.9h.9M150.3 304.0h.9M170.6 303.2h.9M158.7 298.7h.9M151.6 304.7h.9M166.6 296.8h.9M149.8 306.7h.9M154.3 298.9h.9M161.0 295.7h.9M172.9 303.4h.9M159.7 303.6h.9M154.9 294.0h.9M149.2 300.3h.9M150.6 301.1h.9M156.8 303.9h.9M164.7 309.4h.9M157.1 300.8h.9M155.7 293.5h.9M168.3 296.2h.9M162.0 299.0h.9M172.7 301.0h.9M159.6 301.8h.9M162.3 300.7h.9M170.8 304.8h.9M171.9 300.9h.9M155.7 302.6h.9M163.7 306.0h.9M155.5 293.2h.9M158.8 303.1h.9M167.2 304.0h.9M148.7 300.5h.9M160.3 288.7h.9M154.1 301.8h.9M153.4 297.7h.9M181.7 297.3h.9M155.1 297.5h.9M166.7 307.0h.9M174.9 301.4h.9M149.7 300.6h.9M157.1 309.8h.9M155.6 305.8h.9M152.7 299.5h.9M150.4 300.5h.9M166.1 300.6h.9M163.8 303.4h.9M154.7 310.3h.9M165.1 306.4h.9M159.4 295.5h.9M165.5 297.4h.9M165.5 293.4h.9M170.6 297.1h.9M156.8 299.1h.9M155.0 300.9h.9M146.8 296.8h.9M166.4 301.6h.9M161.7 292.5h.9M145.4 298.4h.9M148.4 303.4h.9M163.5 298.7h.9M166.9 302.6h.9M159.1 296.8h.9M150.1 301.8h.9M160.7 301.5h.9M153.1 299.9h.9M145.2 300.9h.9M158.0 298.6h.9M155.0 301.1h.9M158.4 304.7h.9M165.1 296.0h.9M149.0 292.0h.9M158.4 305.5h.9M168.4 305.7h.9M165.8 296.1h.9M156.8 303.2h.9M159.4 298.9h.9M148.9 294.2h.9M173.0 296.0h.9M167.2 302.1h.9M173.1 300.2h.9M157.9 303.7h.9M146.0 309.1h.9M156.1 295.7h.9M155.0 297.5h.9M151.9 306.0h.9M164.1 302.9h.9M163.0 302.9h.9M154.9 309.8h.9M155.9 299.5h.9M155.8 308.1h.9" stroke="#000" stroke-width=".9" stroke-opacity="0.80"/>
<path d="M166.0 296.1h.9M163.1 304.1h.9M165.5 297.9h.9M159.0 298.9h.9M157.7 299.2h.9M165.9 298.9h.9M158.0 301.8h.9M159.2 297.0h.9M164.4 301.9h.9M152.2 297.0h.9M161.2 299.3h.9M157.8 295.4h.9M160.2 302.9h.9M154.0 300.7h.9M152.0 300.3h.9M159.7 301.0h.9M155.8 301.0h.9M161.7 297.9h.9M158.2 305.1h.9M160.7 300.4h.9M171.3 296.6h.9M159.5 296.9h.9M156.0 301.3h.9M156.9 303.4h.9M160.1 293.5h.9M163.3 304.0h.9M165.1 295.5h.9M163.0 300.0h.9M163.7 301.7h.9M156.7 296.3h.9M150.7 298.7h.9M156.4 296.0h.9M162.0 299.5h.9M155.4 297.6h.9M154.6 300.2h.9M159.6 301.3h.9M162.1 300.5h.9M160.9 300.6h.9M158.6 295.8h.9M158.3 297.9h.9M160.0 299.4h.9M155.6 302.7h.9M160.6 297.6h.9M165.2 301.3h.9M159.7 299.8h.9M168.7 303.5h.9M164.2 302.3h.9M164.9 302.7h.9M163.9 299.8h.9M156.5 302.4h.9M161.5 305.0h.9M159.5 298.0h.9M158.1 296.4h.9M162.0 299.4h.9M165.2 302.4h.9M159.4 299.7h.9M159.4 304.7h.9M158.1 297.8h.9M150.7 300.4h.9M162.0 303.2h.9M160.1 305.4h.9M163.9 296.3h.9M150.8 304.5h.9M156.4 301.5h.9M161.0 300.0h.9M161.4 296.7h.9M162.3 298.0h.9M163.6 299.3h.9M161.1 301.0h.9M152.0 300.7h.9M148.1 301.2h.9M155.5 301.7h.9M157.7 306.0h.9M163.9 301.9h.9M162.3 298.6h.9M159.2 295.9h.9M169.1 296.6h.9M150.2 298.7h.9M159.1 297.9h.9M161.0 298.4h.9M163.8 301.4h.9M153.8 299.8h.9M159.3 302.3h.9M161.8 301.7h.9M164.2 296.4h.9M148.8 302.8h.9M162.6 298.7h.9M157.1 301.9h.9M169.2 297.7h.9M154.8 300.5h.9M153.6 303.9h.9M159.1 300.8h.9M157.7 300.9h.9M172.7 301.5h.9M168.6 300.9h.9M166.5 301.1h.9M160.6 298.2h.9M161.4 295.5h.9M150.0 300.4h.9M154.6 297.8h.9M162.4 300.7h.9M157.4 302.4h.9M161.2 301.2h.9M165.2 300.1h.9M164.4 295.5h.9M160.1 299.5h.9M164.7 299.7h.9M157.4 299.2h.9M160.2 302.0h.9M162.3 300.3h.9M156.6 296.9h.9M158.6 302.9h.9M160.6 301.2h.9M160.8 303.8h.9M153.2 304.8h.9M147.5 301.7h.9M155.4 303.7h.9M160.4 300.6h.9M159.0 303.5h.9M163.5 299.2h.9M156.3 298.8h.9M165.9 300.0h.9M162.3 301.4h.9M164.9 303.6h.9M166.8 298.8h.9M154.9 297.5h.9M160.8 305.8h.9M163.9 296.1h.9M165.0 299.1h.9M165.0 297.3h.9M174.2 294.4h.9M160.2 300.6h.9M161.8 301.7h.9M153.0 302.4h.9M157.4 302.0h.9M165.6 299.6h.9M163.8 300.5h.9M159.8 299.6h.9M153.5 307.9h.9M164.5 300.8h.9M164.8 300.1h.9M158.2 298.0h.9M149.6 299.1h.9M152.4 303.8h.9M159.4 298.6h.9M154.0 298.0h.9M162.1 300.9h.9M161.7 295.9h.9M158.5 299.2h.9M153.8 298.5h.9M160.0 301.6h.9M157.3 304.1h.9M164.1 298.2h.9M164.4 300.1h.9M159.1 299.0h.9M164.0 299.7h.9M160.9 298.8h.9M157.2 299.8h.9M153.9 303.1h.9M165.5 298.9h.9M155.1 297.3h.9M154.5 300.5h.9M160.5 298.9h.9M160.4 294.9h.9M154.4 300.5h.9M166.2 300.1h.9M162.6 300.4h.9M155.4 297.7h.9M159.9 299.5h.9M155.1 302.4h.9M164.1 300.6h.9M164.8 296.0h.9M157.7 297.7h.9M160.2 296.5h.9M159.3 299.2h.9M158.5 298.7h.9M161.9 298.5h.9M160.7 303.3h.9M156.1 299.5h.9M157.2 303.9h.9M157.9 297.8h.9M158.9 300.9h.9M161.3 298.7h.9M152.6 299.2h.9M161.2 299.5h.9M161.2 297.4h.9M161.9 299.0h.9M161.0 300.9h.9M151.2 302.6h.9M162.0 297.8h.9M163.9 300.8h.9M162.3 303.5h.9M158.1 296.7h.9M155.3 300.9h.9M156.9 299.5h.9M161.9 296.8h.9M172.9 300.9h.9M156.8 298.4h.9M161.4 300.0h.9M161.1 298.7h.9M162.8 302.8h.9M165.3 302.1h.9M164.3 301.2h.9M157.1 295.0h.9M165.5 302.8h.9M157.6 302.5h.9M165.2 296.7h.9M158.0 300.7h.9M153.0 299.3h.9M157.3 299.3h.9M157.6 294.6h.9M153.9 303.3h.9M159.1 298.1h.9M167.6 302.1h.9M152.8 299.7h.9M163.4 299.3h.9M158.3 300.6h.9M156.7 300.2h.9M163.3 304.9h.9M162.9 301.2h.9M159.9 300.7h.9M149.9 299.7h.9M162.3 301.6h.9M151.5 298.3h.9M156.4 304.1h.9M156.7 295.2h.9M158.2 297.8h.9M160.4 304.9h.9M158.8 298.2h.9M161.3 300.3h.9M159.2 296.3h.9M153.6 299.7h.9M158.5 301.4h.9M164.7 298.9h.9M159.6 303.0h.9M163.7 302.2h.9M163.3 295.0h.9M156.9 298.4h.9M157.9 298.0h.9M159.9 302.4h.9M162.8 303.0h.9M162.5 302.7h.9M161.5 300.8h.9M159.4 300.4h.9M160.2 298.2h.9M164.8 301.3h.9M160.2 293.1h.9M158.5 302.5h.9M163.9 298.2h.9M165.6 297.6h.9" stroke="#000" stroke-width=".9" stroke-opacity="0.90"/>
<path d="M181.9 297.7h.9M181.1 300.4h.9M180.5 300.2h.9M180.8 298.4h.9M186.2 299.7h.9M185.0 295.0h.9M182.2 293.5h.9M184.6 294.5h.9M187.3 298.1h.9M186.9 294.7h.9M186.0 298.1h.9M180.8 297.7h.9M185.3 299.2h.9M183.4 298.3h.9M189.1 296.6h.9M183.4 293.8h.9M181.5 300.0h.9M185.5 294.4h.9M182.0 295.6h.9M184.6 297.1h.9M180.0 294.8h.9M185.4 296.0h.9M187.5 300.1h.9M188.3 297.2h.9M181.3 301.9h.9M185.5 299.0h.9M179.5 291.8h.9M185.4 296.9h.9M188.7 293.3h.9M183.1 297.3h.9M182.7 298.0h.9M186.5 297.3h.9M188.8 301.4h.9M185.0 294.7h.9M185.5 298.9h.9M181.5 293.7h.9M186.7 299.0h.9M183.6 298.5h.9M180.6 298.0h.9M183.9 298.8h.9M184.3 294.4h.9M182.2 295.6h.9M185.3 299.8h.9M187.3 297.8h.9M184.2 294.9h.9M182.1 300.0h.9M186.2 291.6h.9M183.1 300.6h.9M183.4 296.5h.9M180.6 296.0h.9M181.0 299.1h.9M182.1 300.1h.9M186.1 298.8h.9M185.7 302.2h.9M184.3 298.6h.9M187.3 299.1h.9M182.7 297.3h.9M182.1 299.8h.9M183.0 300.7h.9M185.8 294.6h.9M180.3 298.9h.9M182.3 296.9h.9M184.6 295.9h.9M181.1 301.5h.9M185.5 300.9h.9M189.4 300.2h.9M182.3 302.5h.9M187.0 300.6h.9M181.9 306.4h.9M186.8 296.0h.9M183.6 295.0h.9M183.7 304.9h.9M182.5 292.2h.9M183.8 301.7h.9M187.8 303.7h.9M178.8 296.7h.9M186.5 302.9h.9M182.6 299.8h.9M185.4 298.5h.9M184.5 301.4h.9M185.4 299.2h.9M181.1 302.2h.9M190.2 297.9h.9M184.3 296.8h.9M185.5 292.9h.9M186.6 300.3h.9M184.1 295.7h.9M180.6 298.3h.9M187.4 296.1h.9M183.0 304.0h.9M184.8 301.4h.9M187.3 293.6h.9M186.0 294.6h.9M188.8 296.9h.9M183.9 300.5h.9M183.1 303.5h.9M181.6 297.4h.9M185.4 295.2h.9M180.2 302.0h.9M183.6 296.5h.9M182.0 296.7h.9M184.6 295.5h.9M180.2 296.3h.9M184.9 300.8h.9M183.9 299.1h.9M185.1 295.9h.9M183.5 294.1h.9M185.8 299.8h.9M187.8 297.8h.9M186.0 296.8h.9M183.1 302.4h.9M186.1 304.6h.9M180.8 302.5h.9M187.5 298.5h.9M188.2 295.9h.9M184.8 298.4h.9M183.7 294.3h.9M184.0 296.0h.9M181.3 300.8h.9M181.6 298.8h.9M190.1 300.5h.9M182.6 298.3h.9M183.4 296.2h.9M185.5 300.4h.9M187.9 302.7h.9M184.3 296.5h.9M191.0 295.1h.9M178.3 294.7h.9M179.5 292.7h.9M188.7 290.2h.9M183.7 305.8h.9M186.1 294.4h.9M187.1 297.9h.9M184.9 296.0h.9M182.9 292.7h.9M188.9 290.9h.9M190.8 299.9h.9M185.5 295.9h.9M182.5 298.8h.9M188.2 297.9h.9M184.1 292.4h.9M184.1 301.1h.9M187.7 299.3h.9M191.7 300.0h.9M182.0 307.2h.9M184.9 299.6h.9M181.4 297.1h.9M183.6 295.8h.9M190.4 300.8h.9M189.2 295.5h.9M188.2 304.2h.9M185.3 297.1h.9M191.8 297.0h.9M186.9 297.3h.9M191.2 295.2h.9M179.9 299.6h.9M187.6 299.2h.9M183.9 297.0h.9M181.8 300.4h.9M188.8 297.6h.9M180.2 302.7h.9M186.1 304.3h.9M177.8 297.1h.9M182.8 298.1h.9M181.0 299.3h.9M183.6 288.6h.9M190.3 291.5h.9M183.5 300.3h.9M177.1 301.4h.9M183.2 303.6h.9M187.9 302.4h.9M185.0 297.1h.9M185.5 304.1h.9M183.8 297.7h.9M176.7 298.3h.9M184.3 299.4h.9M185.0 296.8h.9M184.1 291.6h.9M184.1 292.8h.9M182.7 301.6h.9M184.1 299.4h.9M190.2 304.6h.9M183.9 295.5h.9M181.9 294.3h.9M187.2 299.9h.9M179.6 300.6h.9M183.7 294.7h.9M183.0 300.1h.9M184.9 301.4h.9M185.1 301.5h.9M187.0 297.6h.9M181.4 300.8h.9M185.4 295.2h.9M185.1 294.0h.9M182.5 299.3h.9M183.3 297.3h.9M181.0 295.5h.9M185.7 295.8h.9M183.6 294.4h.9M183.0 293.7h.9M183.1 295.8h.9M185.1 307.3h.9M185.0 302.3h.9M187.0 300.5h.9M188.8 297.2h.9M187.3 301.8h.9M186.1 296.4h.9M185.5 294.6h.9M183.0 301.2h.9M184.3 297.3h.9M182.2 303.4h.9M184.8 294.0h.9M184.2 298.6h.9M186.1 297.0h.9M181.7 298.8h.9M188.0 299.1h.9M187.3 294.4h.9M183.8 307.9h.9M180.8 299.9h.9M184.0 301.7h.9M178.0 300.0h.9M182.6 293.9h.9M181.4 303.3h.9M180.2 298.1h.9M182.5 297.4h.9M186.9 295.0h.9M182.9 297.8h.9M185.0 292.2h.9M188.0 298.6h.9M175.7 296.9h.9M183.1 295.1h.9M184.7 304.4h.9M183.7 299.4h.9M183.5 300.6h.9M186.1 302.1h.9M184.5 296.0h.9M186.4 298.3h.9M182.0 303.6h.9M181.8 299.7h.9M180.9 297.3h.9M180.3 302.2h.9M185.1 298.7h.9M182.3 299.6h.9M185.1 303.8h.9M181.9 300.5h.9M185.7 292.7h.9M183.3 294.0h.9M183.8 295.2h.9M185.6 300.3h.9M188.4 298.2h.9M188.8 294.9h.9M190.3 296.4h.9M184.5 294.6h.9M183.7 294.8h.9M185.0 295.5h.9M188.1 300.1h.9M187.9 296.4h.9M182.6 299.5h.9M186.5 296.7h.9M180.8 298.4h.9M185.3 298.8h.9M184.0 298.4h.9M181.9 297.6h.9M183.1 300.7h.9M187.6 302.9h.9M182.2 296.5h.9M185.2 297.8h.9M181.7 295.9h.9M184.4 300.6h.9M193.2 304.6h.9M181.6 302.9h.9M185.2 296.7h.9M183.8 292.9h.9M180.9 302.3h.9M191.6 298.0h.9M182.6 298.5h.9M187.7 298.3h.9M186.5 303.2h.9M182.0 292.2h.9M185.4 305.9h.9M181.9 298.3h.9M189.8 295.0h.9M181.3 294.6h.9M183.2 296.4h.9M185.2 292.9h.9M179.9 303.5h.9M183.0 295.9h.9M185.7 300.6h.9M182.4 299.0h.9M182.1 291.8h.9M184.8 294.4h.9M183.9 295.0h.9M186.7 299.5h.9M177.8 297.9h.9M183.7 298.5h.9M185.3 298.0h.9M186.5 295.6h.9M187.6 305.3h.9M184.7 293.0h.9M189.4 288.8h.9M185.7 297.4h.9M186.3 295.7h.9M181.8 296.6h.9M188.3 300.0h.9M186.1 305.6h.9M183.9 292.6h.9M185.7 293.6h.9M184.0 301.8h.9M181.5 302.4h.9M182.4 294.0h.9M182.8 303.5h.9M186.7 294.4h.9M186.2 299.6h.9M188.4 304.4h.9M183.4 303.7h.9M187.4 301.9h.9M180.8 293.6h.9M183.7 299.2h.9M180.2 302.8h.9M188.2 297.6h.9M186.5 303.2h.9M184.1 298.0h.9M178.7 292.5h.9M183.3 300.0h.9M185.2 300.3h.9M187.1 301.7h.9M185.8 301.8h.9M182.8 300.3h.9M180.2 298.9h.9M182.0 301.4h.9M187.8 294.8h.9M189.7 296.4h.9M182.4 301.3h.9M186.7 296.0h.9M185.0 301.6h.9M183.2 303.9h.9M187.6 294.4h.9M186.4 294.5h.9M182.5 293.4h.9M183.9 289.8h.9M184.5 295.6h.9M186.6 303.1h.9M186.1 298.6h.9M182.8 303.9h.9M181.0 292.5h.9M181.7 295.9h.9M192.0 299.3h.9M187.3 297.4h.9M181.9 300.8h.9M186.1 294.3h.9M180.1 300.0h.9M180.6 297.5h.9M181.5 295.7h.9M185.5 301.4h.9M186.4 298.9h.9M184.8 295.3h.9M184.5 305.3h.9M184.6 295.9h.9M183.0 296.6h.9M188.1 298.6h.9M185.0 297.3h.9M183.2 299.1h.9M183.0 298.9h.9M179.0 296.0h.9M185.6 299.0h.9M182.7 299.0h.9M183.4 296.0h.9M184.1 293.4h.9M182.7 301.9h.9M184.8 293.3h.9M180.8 299.7h.9M180.3 286.5h.9M184.5 296.8h.9M186.7 299.9h.9M191.7 297.5h.9M180.7 296.5h.9M179.0 298.8h.9M186.6 295.7h.9M184.4 296.9h.9M177.6 304.5h.9M189.5 302.2h.9M184.0 293.1h.9M183.4 297.4h.9M186.7 301.6h.9M185.7 299.3h.9M182.4 300.2h.9M188.2 298.5h.9M182.4 291.9h.9M186.5 294.3h.9M181.3 294.1h.9M185.0 303.7h.9M184.5 298.0h.9M181.3 306.0h.9M184.1 298.9h.9M183.7 295.2h.9M186.4 303.2h.9M184.0 293.6h.9M186.8 296.4h.9M185.4 298.6h.9M188.4 298.6h.9M188.2 297.0h.9M188.5 298.4h.9M181.5 299.0h.9M185.9 291.4h.9M191.0 298.4h.9M177.3 301.5h.9M182.9 292.7h.9M185.3 297.5h.9M182.6 299.0h.9M183.8 292.3h.9M182.8 295.8h.9M185.8 300.3h.9M188.6 299.6h.9M180.4 297.3h.9M184.5 302.4h.9M185.3 298.1h.9M185.8 300.1h.9M182.1 300.9h.9M182.3 298.3h.9M185.9 301.2h.9" stroke="#000" stroke-width=".9" stroke-opacity="1.00"/>
<path d="M182.4 307.2h.9M186.9 308.9h.9M183.5 303.9h.9M182.7 306.2h.9M183.1 296.0h.9M181.0 306.7h.9M184.6 309.9h.9M184.9 306.1h.9M183.7 316.5h.9M177.1 306.0h.9M181.7 298.4h.9M185.7 306.1h.9M187.1 312.2h.9M182.0 315.1h.9M183.8 301.2h.9M183.7 315.5h.9M187.6 307.9h.9M185.2 309.5h.9M183.4 310.8h.9M179.7 315.1h.9M189.2 312.2h.9M184.5 297.2h.9M185.0 305.1h.9M181.1 303.7h.9M179.6 305.6h.9M184.4 309.2h.9M185.2 310.5h.9M185.4 316.1h.9M183.4 316.2h.9M183.3 297.8h.9M183.0 308.8h.9M183.9 300.5h.9M184.7 302.4h.9M182.2 312.2h.9M180.2 305.6h.9M184.1 297.4h.9M183.2 305.6h.9M187.9 307.2h.9M179.6 305.0h.9M181.1 310.5h.9M185.1 307.8h.9M183.8 309.5h.9M184.1 296.1h.9M187.9 302.3h.9M183.8 300.0h.9M179.6 305.9h.9M186.5 308.5h.9M186.0 305.8h.9M183.0 301.8h.9M178.2 305.4h.9M185.6 304.0h.9M182.0 303.8h.9M183.7 303.2h.9M184.1 309.3h.9M185.0 301.6h.9M186.3 309.9h.9M183.6 311.0h.9M181.9 311.7h.9M184.8 305.1h.9M184.1 303.8h.9M183.4 305.5h.9M189.3 300.4h.9M181.6 309.3h.9M186.1 307.8h.9M187.4 316.3h.9M179.7 314.2h.9M183.9 310.6h.9M183.6 309.5h.9M182.0 307.1h.9M185.3 302.7h.9M181.8 307.9h.9M182.7 298.7h.9M182.4 304.2h.9M182.1 309.6h.9M184.2 292.3h.9M180.5 298.5h.9M183.4 306.8h.9M186.0 310.7h.9M182.1 307.1h.9M183.6 306.7h.9M182.0 303.3h.9M183.4 311.7h.9M184.7 305.7h.9M181.4 304.4h.9M181.4 308.2h.9M185.1 307.7h.9M185.1 299.2h.9M182.2 306.2h.9M185.8 308.1h.9M179.9 308.7h.9M184.3 308.5h.9M183.3 307.8h.9M187.0 306.4h.9M186.5 306.6h.9M180.6 308.6h.9M182.4 304.4h.9M185.0 304.7h.9M180.6 304.6h.9M179.7 313.4h.9M184.6 309.7h.9M184.7 310.0h.9M187.0 299.9h.9M182.3 301.2h.9M187.9 310.1h.9M185.0 299.3h.9M188.0 310.4h.9M182.9 304.9h.9M181.3 304.8h.9M182.3 311.3h.9M186.2 298.6h.9M186.0 305.8h.9M180.8 290.8h.9M181.9 313.8h.9M182.1 309.4h.9M189.4 307.2h.9M183.0 302.0h.9M187.4 307.3h.9M181.7 309.8h.9M184.8 307.7h.9M185.1 308.6h.9" stroke="#000" stroke-width=".9" stroke-opacity="0.80"/>
<path d="M156.7 321.7h.9M169.7 337.1h.9M169.9 305.0h.9M155.8 329.1h.9M163.5 308.7h.9M170.9 307.3h.9M160.2 323.8h.9M169.6 312.9h.9M158.2 319.4h.9M167.6 326.4h.9M160.2 322.5h.9M157.9 318.0h.9M144.4 320.4h.9M154.7 326.4h.9M151.7 314.9h.9M158.9 335.2h.9M153.1 328.7h.9M164.1 313.0h.9M159.7 321.3h.9M148.9 316.0h.9M163.3 320.8h.9M168.9 316.0h.9M153.2 327.2h.9M153.2 319.4h.9M176.2 311.9h.9M158.9 313.3h.9M148.9 317.3h.9M170.2 321.5h.9M145.8 316.2h.9M178.6 316.3h.9M159.0 320.1h.9M148.7 326.0h.9M152.5 317.1h.9M160.4 329.6h.9M154.8 323.1h.9M160.7 314.7h.9M161.0 323.4h.9M160.7 319.5h.9M155.6 323.5h.9M163.6 317.6h.9M145.6 322.7h.9M170.0 308.1h.9M150.1 325.7h.9M161.7 323.5h.9M153.1 324.7h.9M158.3 332.1h.9M158.3 331.0h.9M154.1 321.0h.9M154.2 319.3h.9M171.3 306.4h.9M167.6 331.9h.9M176.0 325.7h.9M159.9 326.5h.9M153.9 316.8h.9M158.3 311.5h.9M155.5 321.0h.9M154.9 329.3h.9M162.7 317.8h.9M151.0 322.5h.9M143.7 325.1h.9M166.4 321.3h.9M154.5 329.4h.9M166.5 328.6h.9M152.2 308.0h.9M146.8 320.8h.9M150.7 326.6h.9M149.4 326.1h.9M156.9 328.8h.9M174.1 328.2h.9M148.6 314.8h.9M162.6 318.6h.9M170.2 325.9h.9M165.9 303.7h.9M152.4 321.2h.9M156.9 327.0h.9M171.9 322.6h.9M150.7 318.2h.9M157.7 319.6h.9M156.2 330.9h.9M158.1 323.5h.9M165.4 322.7h.9M147.1 334.8h.9M166.7 322.5h.9M163.6 325.7h.9M151.5 314.7h.9M157.2 310.8h.9M168.9 335.6h.9M163.2 323.1h.9M162.4 320.6h.9M175.0 332.4h.9M165.0 317.2h.9M150.2 338.1h.9M148.9 318.5h.9M153.9 324.2h.9M168.0 322.9h.9M161.4 319.3h.9M161.5 322.4h.9M165.9 320.0h.9M167.2 319.5h.9M148.3 312.9h.9M155.2 331.6h.9M156.9 324.9h.9M165.1 321.3h.9M156.4 317.9h.9M148.6 324.6h.9M170.1 319.7h.9M152.3 321.0h.9M162.1 319.1h.9M169.9 310.6h.9M162.7 325.1h.9M146.4 323.4h.9M161.9 320.8h.9M153.1 322.0h.9M156.9 324.2h.9M144.7 329.5h.9M167.3 323.2h.9M150.1 323.9h.9M161.6 328.9h.9M156.4 323.3h.9M166.3 313.7h.9M168.4 328.8h.9M159.2 320.4h.9M159.3 315.1h.9M157.8 316.3h.9M151.4 311.6h.9M157.0 322.1h.9M149.7 312.8h.9M162.4 322.5h.9M153.8 318.7h.9M155.6 318.7h.9M163.7 320.4h.9M157.7 318.3h.9M153.1 309.3h.9M168.2 319.8h.9M166.9 331.7h.9M152.0 325.6h.9M154.0 327.0h.9M149.3 324.8h.9M162.9 325.2h.9M162.4 337.8h.9M163.3 318.3h.9M169.5 317.0h.9M150.2 313.2h.9M152.5 324.4h.9M154.8 318.1h.9M160.2 309.6h.9M146.6 331.8h.9M175.2 328.4h.9M152.3 319.7h.9M166.7 322.8h.9M155.1 321.5h.9M148.1 313.7h.9M165.4 334.7h.9M152.2 316.9h.9M173.2 328.6h.9M157.9 319.2h.9M169.9 331.8h.9M168.0 320.8h.9M171.9 329.8h.9M150.8 316.6h.9M154.7 312.0h.9M154.8 313.1h.9M164.6 322.6h.9M164.4 322.1h.9M153.3 318.0h.9M156.5 318.5h.9M163.8 332.8h.9M145.3 329.9h.9M150.0 310.2h.9M166.7 328.8h.9M154.5 323.6h.9M150.8 314.2h.9M160.7 335.3h.9M159.0 322.0h.9M158.4 319.5h.9M156.9 302.4h.9M154.3 319.4h.9M156.6 323.3h.9M161.9 317.9h.9M166.3 320.3h.9M145.3 319.2h.9M161.5 309.4h.9M151.4 319.4h.9M173.3 320.5h.9M148.5 326.0h.9M159.9 312.7h.9M165.8 322.6h.9M158.2 329.3h.9M155.3 317.4h.9M161.9 324.7h.9M155.7 325.2h.9M172.0 321.6h.9M160.5 322.6h.9M168.5 332.0h.9M166.1 326.5h.9M147.7 326.6h.9M173.3 323.8h.9M165.4 319.5h.9M151.7 326.5h.9M168.8 327.8h.9M157.6 319.9h.9M157.7 326.1h.9M166.6 318.4h.9M161.7 316.5h.9M168.3 317.5h.9M156.9 332.1h.9M162.9 316.4h.9M168.3 316.6h.9M168.6 312.8h.9M145.0 317.5h.9M147.1 326.0h.9M152.4 321.3h.9M151.2 329.2h.9M152.0 335.0h.9M187.3 324.5h.9M163.5 325.0h.9M146.2 326.6h.9M163.2 305.6h.9M166.4 326.8h.9M167.0 309.2h.9M153.9 312.7h.9M160.7 320.4h.9M157.9 321.5h.9M154.8 331.8h.9M161.1 322.0h.9M159.0 333.6h.9M156.8 309.1h.9M150.4 332.6h.9M160.2 325.1h.9M162.7 327.4h.9M153.4 329.4h.9M149.4 324.9h.9M160.6 324.9h.9M165.1 322.1h.9M172.0 318.2h.9M153.5 324.2h.9M149.8 316.6h.9M159.9 320.7h.9M166.3 312.9h.9M148.5 329.6h.9M169.3 321.3h.9M164.2 319.1h.9M156.4 302.9h.9M160.0 320.0h.9M168.3 322.2h.9M162.5 318.1h.9M143.8 325.0h.9M155.5 315.1h.9M152.6 312.6h.9M158.0 317.5h.9M149.8 317.7h.9M165.0 324.0h.9M149.1 304.8h.9M151.8 318.7h.9M164.1 317.0h.9M163.5 319.7h.9M160.5 311.5h.9M155.5 324.5h.9M157.9 333.1h.9M161.8 339.5h.9M163.9 332.5h.9M174.6 324.7h.9M167.8 318.1h.9M151.1 306.5h.9M163.9 315.2h.9M168.1 319.6h.9M161.9 309.3h.9M161.3 321.2h.9M166.6 308.9h.9M156.2 327.6h.9" stroke="#000" stroke-width=".9" stroke-opacity="0.75"/>
<path d="M181.9 322.8h.9M178.3 323.9h.9M191.7 324.7h.9M183.8 326.7h.9M190.8 319.0h.9M189.7 321.4h.9M181.8 324.1h.9M183.3 317.6h.9M186.5 323.8h.9M184.2 320.5h.9M180.5 328.8h.9M180.5 327.4h.9M183.2 334.2h.9M184.5 327.9h.9M185.8 322.4h.9M181.0 316.2h.9M182.4 339.7h.9M176.7 311.7h.9M179.9 304.2h.9M190.1 319.8h.9M184.5 320.2h.9M186.6 325.7h.9M180.2 318.6h.9M186.2 321.6h.9M179.5 326.0h.9M186.1 324.7h.9M188.2 325.2h.9M193.2 313.9h.9M175.4 327.7h.9M183.3 323.1h.9M182.2 326.7h.9M186.9 315.2h.9M183.0 326.1h.9M191.1 319.8h.9M182.8 317.7h.9M186.1 319.7h.9M178.1 319.7h.9M180.5 317.5h.9M184.2 319.7h.9M184.1 314.7h.9M185.0 321.2h.9M183.5 332.4h.9M185.7 323.1h.9M181.6 319.0h.9M190.8 327.2h.9M189.4 328.4h.9M186.6 326.8h.9M185.0 327.0h.9M184.4 314.5h.9M184.7 321.1h.9M184.8 313.4h.9M180.9 327.0h.9M190.5 324.6h.9M183.0 326.9h.9M191.1 317.2h.9M180.6 320.1h.9M182.9 308.8h.9M186.7 319.0h.9M182.5 324.2h.9M187.8 321.6h.9" stroke="#000" stroke-width=".9" stroke-opacity="0.70"/>
<path d="M174.4 276.25L174.4 342" stroke="#959595" stroke-width="1.0" fill="none"/>
<path d="M142.5 313.3L208.25 313.3" stroke="#959595" stroke-width="1.0" fill="none"/>
<rect x="144.3" y="278.22" width="17.11" height="6.46" fill="#fff"/>
<text x="144.8" y="284.15" font-size="7.6" text-anchor="start" font-weight="normal" fill="#161616" class="t">57.8</text>
<rect x="189.44" y="278.22" width="17.11" height="6.46" fill="#fff"/>
<text x="206.05" y="284.15" font-size="7.6" text-anchor="end" font-weight="normal" fill="#161616" class="t">30.6</text>
<rect x="144.3" y="335.17" width="17.11" height="6.46" fill="#fff"/>
<text x="144.8" y="341.1" font-size="7.6" text-anchor="start" font-weight="normal" fill="#161616" class="t">9.23</text>
<rect x="189.44" y="335.17" width="17.11" height="6.46" fill="#fff"/>
<text x="206.05" y="341.1" font-size="7.6" text-anchor="end" font-weight="normal" fill="#161616" class="t">2.31</text>
<rect x="142.5" y="276.25" width="65.75" height="65.75" fill="none" stroke="#000" stroke-width="1.35"/>
<text x="136.3" y="287" font-size="8.4" text-anchor="end" font-weight="normal" fill="#161616">10<tspan dy="-3.53" font-size="6.55">5</tspan></text>
<text x="136.3" y="302.17" font-size="8.4" text-anchor="end" font-weight="normal" fill="#161616">10<tspan dy="-3.53" font-size="6.55">4</tspan></text>
<text x="136.3" y="317.33" font-size="8.4" text-anchor="end" font-weight="normal" fill="#161616">10<tspan dy="-3.53" font-size="6.55">3</tspan></text>
<text x="136.3" y="332.5" font-size="8.4" text-anchor="end" font-weight="normal" fill="#161616">10<tspan dy="-3.53" font-size="6.55">2</tspan></text>
<text x="137.9" y="338.5" font-size="8.4" text-anchor="end" font-weight="normal" fill="#161616">0</text>
<path d="M142.5 283h-2.8M142.5 293.6h-1.5M142.5 290.93h-1.5M142.5 289.04h-1.5M142.5 287.57h-1.5M142.5 286.36h-1.5M142.5 285.35h-1.5M142.5 284.47h-1.5M142.5 283.69h-1.5M142.5 298.17h-2.8M142.5 308.77h-1.5M142.5 306.1h-1.5M142.5 304.2h-1.5M142.5 302.73h-1.5M142.5 301.53h-1.5M142.5 300.52h-1.5M142.5 299.64h-1.5M142.5 298.86h-1.5M142.5 313.33h-2.8M142.5 323.93h-1.5M142.5 321.26h-1.5M142.5 319.37h-1.5M142.5 317.9h-1.5M142.5 316.7h-1.5M142.5 315.68h-1.5M142.5 314.8h-1.5M142.5 314.03h-1.5M142.5 328.5h-2.8M142.5 335.5h-2.8M142.5 329.67h-1.5M142.5 337.67h-1.5M142.5 330.83h-1.5M142.5 339.83h-1.5M142.5 332h-1.5M142.5 342h-1.5M142.5 333.17h-1.5M142.5 334.33h-1.5" stroke="#000" stroke-width=".95"/>
<path d="M144.3 342v2.8M157.7 342v2.8M172.8 342v2.8M187.9 342v2.8M202.8 342v2.8M162.25 342v2M164.9 342v2M166.79 342v2M168.25 342v2M169.45 342v2M170.46 342v2M171.34 342v2M172.11 342v2M177.35 342v2M180 342v2M181.89 342v2M183.35 342v2M184.55 342v2M185.56 342v2M186.44 342v2M187.21 342v2M192.39 342v2M195.01 342v2M196.87 342v2M198.31 342v2M199.49 342v2M200.49 342v2M201.36 342v2M202.12 342v2M147.65 342v2M151 342v2M154.35 342v2M143.1 342v2M207.29 342v2" stroke="#000" stroke-width=".95"/>
<text transform="translate(151.7,352.1) rotate(-45)" font-size="8.4" text-anchor="end" font-weight="normal" fill="#161616">0</text>
<text transform="translate(161.5,352.6) rotate(-45)" font-size="8.4" text-anchor="end" font-weight="normal" fill="#161616">10<tspan dy="-3.53" font-size="6.22">2</tspan></text>
<text transform="translate(175,352.6) rotate(-45)" font-size="8.4" text-anchor="end" font-weight="normal" fill="#161616">10<tspan dy="-3.53" font-size="6.22">3</tspan></text>
<text transform="translate(190.5,352.6) rotate(-45)" font-size="8.4" text-anchor="end" font-weight="normal" fill="#161616">10<tspan dy="-3.53" font-size="6.22">4</tspan></text>
<text transform="translate(205.3,352.6) rotate(-45)" font-size="8.4" text-anchor="end" font-weight="normal" fill="#161616">10<tspan dy="-3.53" font-size="6.22">5</tspan></text>
<path d="M254.2 304.1h.9M251.1 309.6h.9M249.5 301.8h.9M262.9 300.9h.9M253.5 303.0h.9M248.0 298.6h.9M255.6 298.5h.9M247.8 296.0h.9M248.0 306.4h.9M242.2 303.8h.9M246.1 301.7h.9M253.7 300.9h.9M247.1 302.7h.9M243.1 304.6h.9M264.7 302.6h.9M252.9 300.2h.9M249.4 302.3h.9M240.5 304.4h.9M245.4 306.7h.9M261.4 303.6h.9M256.2 300.0h.9M244.8 303.7h.9M260.5 305.1h.9M255.6 301.6h.9M246.1 309.9h.9M252.9 302.7h.9M249.1 298.5h.9M252.6 300.7h.9M250.5 304.9h.9M248.0 304.9h.9M259.1 301.6h.9M240.8 306.6h.9M249.2 299.6h.9M239.5 304.5h.9M259.8 300.5h.9M250.7 299.7h.9M254.6 304.0h.9M251.2 306.8h.9M258.9 306.3h.9M254.4 301.8h.9M259.9 305.7h.9M252.7 300.6h.9M254.9 308.2h.9M250.5 304.0h.9M258.8 305.7h.9M239.0 309.1h.9M258.6 300.1h.9M252.3 305.2h.9M269.2 302.7h.9M254.1 303.2h.9M242.3 298.1h.9M258.3 303.4h.9M240.1 305.9h.9M245.8 305.7h.9M240.8 301.8h.9M252.0 304.9h.9M276.1 303.2h.9M255.7 302.0h.9M252.7 305.2h.9M246.0 300.3h.9M248.7 307.3h.9M253.8 300.5h.9M256.6 302.3h.9M253.2 301.8h.9M243.1 298.0h.9M259.1 297.3h.9M245.1 297.1h.9M241.9 298.3h.9M250.4 304.8h.9M261.1 296.5h.9M253.0 300.5h.9M238.9 307.2h.9M253.4 304.9h.9M251.4 299.8h.9M245.7 301.0h.9M251.6 303.9h.9M242.4 307.0h.9M239.9 304.9h.9M250.6 298.1h.9M242.6 303.8h.9M268.1 297.3h.9M245.0 298.4h.9M252.0 305.0h.9M254.1 305.3h.9M245.9 303.9h.9M248.0 302.8h.9M248.7 307.5h.9M262.6 307.1h.9M256.5 301.9h.9M242.6 304.3h.9M246.6 304.0h.9M251.6 302.1h.9M258.3 305.6h.9M251.5 300.0h.9M244.1 299.1h.9M256.7 308.0h.9M245.1 302.6h.9M242.0 302.6h.9M252.3 298.7h.9M242.3 298.6h.9M267.6 305.3h.9M264.3 307.7h.9M244.4 300.1h.9M240.6 303.1h.9M257.9 306.7h.9M264.6 301.7h.9M243.1 301.9h.9M240.5 302.4h.9M249.2 305.6h.9M252.4 305.7h.9M246.9 300.0h.9M250.3 305.8h.9M246.4 309.4h.9M241.4 303.2h.9M254.4 305.0h.9M249.1 300.4h.9M246.7 305.9h.9M249.3 305.5h.9M252.1 301.1h.9M250.0 300.4h.9M242.9 297.5h.9M260.1 298.1h.9M244.8 301.7h.9M253.9 294.4h.9M243.2 296.8h.9M251.5 297.9h.9M252.8 308.1h.9M244.8 302.9h.9M245.8 302.8h.9M240.6 303.3h.9M253.6 304.8h.9M247.0 302.2h.9M260.0 304.4h.9M268.1 297.6h.9M253.7 305.4h.9M248.7 298.6h.9M250.7 298.9h.9M252.3 299.1h.9M255.8 300.6h.9M254.4 300.8h.9M258.1 304.9h.9M254.6 305.6h.9M251.2 297.9h.9M254.4 311.7h.9M250.9 307.6h.9M254.9 302.9h.9M247.2 301.3h.9M245.0 303.5h.9M250.9 301.3h.9M258.6 300.2h.9M252.1 299.7h.9M260.1 310.0h.9M257.4 306.7h.9M245.9 297.0h.9M265.1 296.6h.9M267.6 290.9h.9M265.1 297.3h.9M253.6 302.9h.9M249.0 303.9h.9M253.1 293.9h.9M258.7 300.9h.9M244.5 303.1h.9M247.2 304.9h.9M245.8 301.1h.9M247.2 295.5h.9M261.0 304.4h.9M257.9 304.5h.9M243.5 303.8h.9M255.8 301.9h.9M256.7 303.0h.9M245.7 299.8h.9M247.5 303.4h.9M252.9 300.4h.9M246.7 307.1h.9M255.3 304.6h.9M262.1 297.4h.9M248.1 299.0h.9M245.9 304.6h.9M253.2 299.6h.9M250.5 302.1h.9M246.6 299.7h.9M244.9 297.1h.9M244.9 299.1h.9M253.1 301.8h.9M245.9 304.3h.9M258.6 296.8h.9M244.9 299.5h.9M249.4 299.2h.9M256.9 294.6h.9M249.3 301.6h.9M253.3 300.2h.9M256.6 305.8h.9M250.2 306.7h.9M256.7 302.5h.9M260.0 300.3h.9M265.0 300.9h.9M244.4 296.9h.9M244.1 296.2h.9M243.8 304.0h.9M249.5 304.9h.9M246.4 303.4h.9M252.3 301.4h.9M259.1 303.1h.9M251.1 296.9h.9M255.5 304.4h.9M258.8 300.4h.9M244.4 296.7h.9M247.8 302.5h.9M255.8 298.9h.9M243.2 303.6h.9M249.8 302.7h.9M249.0 303.1h.9M239.0 303.7h.9M254.0 298.7h.9M258.3 302.9h.9M256.4 298.9h.9M259.1 297.9h.9M254.5 300.1h.9M263.1 298.4h.9M254.1 299.2h.9M257.3 307.0h.9M245.4 304.2h.9M248.4 301.6h.9M243.2 294.7h.9M244.5 301.0h.9M250.8 302.7h.9M262.0 300.0h.9M268.8 303.0h.9M248.8 303.4h.9M242.9 294.0h.9M247.5 303.5h.9M246.0 299.9h.9M247.4 302.4h.9M261.5 305.0h.9M253.1 303.1h.9M256.7 307.0h.9M252.1 298.6h.9M252.9 309.7h.9M260.6 299.8h.9M245.2 301.4h.9M263.4 307.1h.9M252.3 298.0h.9M245.6 302.9h.9M250.2 306.0h.9M258.9 304.7h.9M249.4 302.8h.9M255.4 299.6h.9M251.7 306.8h.9M255.4 301.3h.9M260.0 303.0h.9M252.5 302.9h.9M253.7 299.8h.9M258.1 305.7h.9M249.4 306.0h.9M246.9 303.4h.9M242.2 301.2h.9M246.6 299.0h.9M240.9 299.1h.9M244.3 306.7h.9M255.6 302.4h.9M247.7 300.2h.9M254.2 301.7h.9M252.9 300.8h.9M249.7 302.7h.9M241.7 302.1h.9M261.0 296.7h.9M249.5 302.9h.9M253.4 305.1h.9M245.8 295.7h.9M257.7 302.8h.9M259.6 303.0h.9M257.1 299.5h.9M251.1 304.2h.9M263.7 303.6h.9M245.7 303.4h.9M250.4 297.3h.9M250.1 304.2h.9M260.7 306.5h.9M251.3 299.7h.9M244.6 304.3h.9M251.6 298.5h.9M249.3 302.4h.9M249.2 300.7h.9M242.9 307.0h.9M256.2 293.7h.9M246.0 294.6h.9M249.9 306.0h.9M238.9 300.7h.9M251.1 308.5h.9M260.4 299.3h.9M249.1 302.8h.9M239.6 299.9h.9M247.8 302.8h.9M247.5 296.7h.9M240.5 304.4h.9M254.3 308.1h.9M258.2 295.1h.9M258.2 302.6h.9M250.3 302.6h.9M253.7 298.4h.9M245.9 298.9h.9M244.9 297.0h.9M241.4 294.8h.9M240.1 304.8h.9M242.0 296.8h.9M264.2 303.5h.9M250.9 301.9h.9M252.7 298.8h.9M243.2 297.0h.9M245.6 307.5h.9M254.7 300.4h.9M263.1 306.7h.9M243.7 305.8h.9M242.7 299.7h.9M244.5 299.5h.9M254.6 301.7h.9M258.2 303.7h.9M253.6 304.8h.9M259.7 302.2h.9M256.2 307.5h.9M256.6 302.9h.9M245.7 305.3h.9M261.4 302.6h.9M245.6 294.8h.9M251.8 300.1h.9M250.2 303.4h.9M241.9 308.4h.9M258.2 306.8h.9M248.4 295.9h.9M252.8 302.5h.9M257.1 300.3h.9M257.3 293.9h.9M267.5 301.6h.9M245.4 297.2h.9M243.5 305.6h.9M244.2 301.9h.9M250.8 307.6h.9M266.6 302.4h.9M257.0 304.9h.9M247.3 301.2h.9M266.6 310.6h.9M247.3 300.7h.9M257.3 301.6h.9M256.3 297.7h.9M259.6 306.1h.9M252.5 297.6h.9M239.4 304.6h.9M251.7 303.7h.9M251.3 306.7h.9M246.5 302.0h.9M253.3 301.7h.9M248.2 299.0h.9M256.5 301.9h.9M253.7 304.1h.9M251.5 303.7h.9M257.1 303.7h.9M246.4 303.8h.9M251.1 303.1h.9M249.3 295.9h.9M261.6 305.9h.9M253.1 300.6h.9M241.8 305.3h.9M251.8 292.8h.9M240.9 304.5h.9M258.3 301.1h.9M255.2 303.2h.9M259.4 304.9h.9M268.2 301.1h.9M250.1 307.6h.9M256.3 302.7h.9M249.9 300.4h.9M246.3 302.2h.9M286.2 304.1h.9M250.2 296.9h.9M243.5 299.4h.9M246.8 304.9h.9M263.8 307.0h.9M253.6 305.0h.9M251.3 298.6h.9M239.7 300.6h.9M246.4 303.8h.9M255.0 301.2h.9M266.4 295.7h.9M249.6 300.0h.9M252.3 302.3h.9M263.6 301.4h.9M250.4 302.2h.9M256.5 303.9h.9M260.4 292.3h.9M243.8 300.4h.9M259.4 302.4h.9M240.4 302.5h.9M256.9 312.5h.9M247.2 309.4h.9M257.9 303.5h.9M246.9 307.6h.9M249.9 303.4h.9M244.3 304.5h.9M248.9 299.4h.9M260.6 302.4h.9M244.5 297.6h.9M261.1 302.1h.9M239.8 293.0h.9M247.1 307.1h.9M240.6 307.7h.9M249.7 297.2h.9M255.1 305.7h.9M241.4 299.2h.9M262.4 302.6h.9M264.8 296.6h.9M262.0 296.9h.9M248.7 299.4h.9M253.3 302.1h.9M247.2 306.0h.9M260.8 297.7h.9M246.6 304.2h.9M250.5 305.3h.9M256.4 294.6h.9M243.6 300.7h.9M252.3 305.7h.9M240.5 297.2h.9M256.1 299.9h.9M250.4 311.5h.9M248.0 299.2h.9M248.0 297.5h.9M252.0 305.3h.9M250.7 307.2h.9M278.2 304.0h.9M251.5 312.6h.9M248.1 302.9h.9M242.1 304.0h.9M251.0 297.4h.9M248.3 308.2h.9M256.9 297.9h.9M247.5 301.4h.9M249.7 298.0h.9M268.3 305.4h.9M243.9 297.9h.9M248.1 301.2h.9M248.2 301.3h.9M244.5 298.8h.9M238.9 303.7h.9M243.4 309.4h.9M243.5 299.4h.9M241.4 301.8h.9M248.3 303.4h.9M254.1 302.3h.9M249.1 301.1h.9M256.4 308.4h.9M249.5 301.1h.9M262.7 300.8h.9M242.3 305.4h.9M260.8 300.5h.9M248.8 297.2h.9M245.7 297.3h.9M246.5 304.7h.9M264.2 307.0h.9M241.0 301.0h.9M265.8 299.0h.9M240.0 301.1h.9M257.8 304.1h.9M247.1 304.6h.9M254.8 300.7h.9M241.0 306.2h.9M259.5 298.7h.9M261.5 300.5h.9M261.8 307.6h.9M262.5 300.7h.9M253.8 300.9h.9M270.0 302.9h.9M258.8 301.1h.9M259.4 300.2h.9M245.3 300.4h.9M246.8 300.4h.9M246.8 301.2h.9M247.0 306.2h.9M260.2 305.9h.9M258.6 296.1h.9M260.6 299.2h.9M256.0 302.1h.9M257.7 302.4h.9M257.4 303.0h.9M250.4 301.9h.9M241.4 299.2h.9M247.4 310.6h.9M260.0 298.9h.9M252.4 303.1h.9M255.4 298.7h.9M253.2 301.6h.9M246.2 294.3h.9M259.1 305.7h.9M248.8 300.5h.9M263.1 310.5h.9M260.7 301.9h.9M263.2 304.1h.9M245.2 299.1h.9M258.7 298.7h.9M251.9 300.5h.9M256.9 300.7h.9M259.5 304.0h.9M253.5 303.4h.9M254.3 298.5h.9M243.9 311.0h.9M255.0 301.8h.9M266.7 301.3h.9M241.4 293.6h.9M265.0 304.1h.9M250.0 307.9h.9M269.7 297.7h.9M251.4 305.6h.9M252.4 301.3h.9M246.1 303.7h.9M258.8 297.6h.9M267.7 300.9h.9M252.9 302.3h.9M240.7 302.9h.9M258.3 301.6h.9M251.7 301.5h.9M243.7 302.3h.9M249.0 302.8h.9M255.7 300.9h.9M258.8 303.2h.9M240.6 304.1h.9M244.5 301.7h.9M252.4 298.7h.9M268.3 302.0h.9M244.6 305.1h.9M253.2 303.3h.9M244.2 307.3h.9M253.2 302.6h.9M255.8 301.2h.9M253.9 294.7h.9M252.9 308.3h.9M258.7 307.0h.9M251.2 306.6h.9M243.2 300.8h.9M243.7 297.0h.9M255.3 306.3h.9M242.0 300.5h.9M254.0 301.9h.9M240.0 298.3h.9M252.1 298.2h.9M246.2 299.3h.9M248.7 299.7h.9M251.0 297.0h.9M252.3 300.6h.9M245.6 306.4h.9M248.5 302.3h.9M245.8 304.7h.9M259.0 301.2h.9M242.3 310.8h.9M244.1 303.3h.9M260.8 302.6h.9M249.7 296.2h.9M240.1 295.7h.9M252.1 306.8h.9M251.5 306.8h.9M255.4 303.6h.9M243.2 301.1h.9M261.6 296.3h.9M251.8 300.3h.9M265.8 300.0h.9M250.9 298.4h.9M248.5 305.2h.9M241.4 302.9h.9M248.3 304.7h.9M251.3 295.2h.9M251.6 303.2h.9M260.9 300.1h.9M248.3 299.0h.9M244.3 300.5h.9M251.6 302.6h.9M247.9 300.1h.9M246.1 304.7h.9M241.8 302.9h.9M263.3 301.4h.9M249.8 302.7h.9M258.7 299.5h.9M247.3 299.9h.9M241.5 307.8h.9M242.6 301.2h.9M257.1 307.8h.9M247.5 299.3h.9M243.0 297.9h.9M258.3 306.5h.9M244.7 298.9h.9M249.8 299.5h.9M267.2 293.4h.9M245.2 301.7h.9M246.9 298.2h.9M261.0 304.5h.9M245.0 303.0h.9M256.5 298.2h.9M247.6 302.3h.9M252.4 305.0h.9M252.4 298.8h.9M258.7 302.5h.9M247.4 300.2h.9" stroke="#000" stroke-width=".9" stroke-opacity="0.75"/>
<path d="M282.2 301.1h.9M282.6 292.1h.9M281.3 299.4h.9M277.0 295.2h.9M276.9 295.0h.9M277.9 297.5h.9M276.7 292.3h.9M283.0 290.3h.9M277.4 301.5h.9M283.4 297.1h.9M282.5 291.1h.9M285.2 290.6h.9M275.0 299.8h.9M277.3 304.0h.9M276.7 299.2h.9M280.8 295.2h.9M284.8 296.6h.9M277.8 302.6h.9M281.1 303.9h.9M274.9 299.9h.9M278.2 298.3h.9M281.0 299.8h.9M279.5 293.1h.9M276.7 304.4h.9M274.5 302.0h.9M282.8 296.2h.9M277.6 296.7h.9M280.0 294.3h.9M280.2 299.0h.9M273.3 300.5h.9M287.0 300.2h.9M270.9 297.5h.9M278.7 297.4h.9M275.8 297.4h.9M277.4 291.6h.9M280.5 298.8h.9M279.7 295.1h.9M275.6 298.8h.9M279.2 297.4h.9M272.8 299.4h.9M273.6 300.1h.9M284.3 294.7h.9M275.3 299.2h.9M285.5 297.7h.9M278.5 294.3h.9M276.2 296.3h.9M279.6 294.7h.9M286.9 299.2h.9M277.5 299.9h.9M281.2 304.9h.9M278.7 298.8h.9M278.8 297.7h.9M279.8 302.1h.9M275.8 301.1h.9M280.3 300.1h.9M275.4 300.7h.9M278.4 295.9h.9M282.7 297.9h.9M281.4 293.6h.9M275.4 299.0h.9M284.7 299.9h.9M286.5 296.9h.9M276.8 296.9h.9M280.0 297.3h.9M279.8 301.1h.9M281.1 300.9h.9M278.3 300.2h.9M274.9 292.7h.9M274.5 299.3h.9M281.1 295.9h.9M275.8 297.7h.9M280.3 294.0h.9M282.2 301.3h.9M274.6 301.6h.9M276.5 301.8h.9M278.8 299.1h.9M273.4 304.3h.9M279.4 293.5h.9M277.6 305.4h.9M280.4 291.6h.9M276.3 297.5h.9M282.4 296.1h.9M280.1 300.1h.9M279.0 300.6h.9M277.4 293.6h.9M275.9 298.4h.9M273.5 297.8h.9M274.2 299.1h.9M271.2 299.5h.9M277.3 300.1h.9M275.4 301.8h.9M276.6 298.3h.9M285.5 292.5h.9M279.6 296.4h.9M274.1 297.6h.9M269.0 298.9h.9M276.6 298.3h.9M272.8 302.3h.9M272.0 299.0h.9M272.4 301.4h.9M278.5 298.3h.9M282.1 298.7h.9M281.3 291.6h.9M273.4 298.4h.9M274.6 298.0h.9M271.6 301.0h.9M280.6 299.6h.9M272.8 299.1h.9M282.3 300.7h.9M271.3 304.3h.9M271.5 306.8h.9M279.8 301.3h.9M282.5 297.9h.9M273.7 299.9h.9M273.3 307.4h.9M279.2 295.0h.9M281.1 299.4h.9M274.2 303.6h.9M278.4 303.5h.9M279.0 296.4h.9M280.4 301.5h.9M275.6 300.8h.9M280.5 303.9h.9M282.6 295.2h.9M275.4 298.5h.9M281.1 298.0h.9M283.2 296.4h.9M282.8 299.0h.9M280.6 300.4h.9M284.5 297.4h.9M276.6 297.3h.9M270.7 299.0h.9M281.9 301.2h.9M283.0 294.5h.9M280.3 298.6h.9M285.7 294.6h.9M283.6 298.5h.9M270.4 299.7h.9M281.5 297.7h.9M278.3 303.3h.9M278.5 306.9h.9M275.5 296.6h.9M278.9 297.4h.9M281.3 295.5h.9M274.6 297.6h.9M276.9 298.2h.9M277.1 299.5h.9M279.1 299.7h.9M273.5 302.0h.9M275.6 303.3h.9M276.7 294.3h.9M283.9 303.6h.9M278.3 295.8h.9M282.0 296.7h.9M283.3 295.7h.9M281.7 303.0h.9M275.7 296.5h.9M283.9 297.8h.9M278.9 302.2h.9M273.1 300.7h.9M275.0 302.5h.9M277.5 293.6h.9M283.4 298.2h.9M284.5 298.5h.9M278.2 299.7h.9M272.0 307.8h.9M280.1 294.7h.9M284.1 298.1h.9M280.3 298.3h.9M277.0 294.3h.9M277.4 297.2h.9M277.7 293.4h.9M275.3 304.8h.9M283.0 299.6h.9M280.1 294.4h.9M271.1 300.9h.9M275.9 300.6h.9M274.5 299.2h.9M280.3 298.0h.9M275.7 299.6h.9M278.0 295.6h.9M279.9 298.2h.9M280.5 295.6h.9M272.1 300.3h.9M270.4 304.2h.9M278.9 289.8h.9M281.6 297.2h.9M278.5 299.7h.9M274.7 296.2h.9M278.4 304.0h.9M280.0 299.2h.9M282.2 297.8h.9M273.4 301.3h.9M285.6 298.3h.9M275.9 293.9h.9M276.7 290.8h.9M276.6 297.0h.9M278.3 295.7h.9M283.5 296.7h.9M283.2 294.4h.9M278.8 298.5h.9M282.5 295.7h.9M285.9 295.1h.9M284.8 296.8h.9M279.0 295.1h.9M275.1 296.4h.9M274.9 307.6h.9M267.9 308.3h.9M278.4 295.5h.9M281.5 298.0h.9M270.3 303.5h.9M273.6 294.9h.9M282.5 295.4h.9M276.4 295.7h.9M277.0 299.5h.9M274.3 304.9h.9M276.3 295.8h.9M280.0 292.6h.9M272.5 305.7h.9M279.4 298.2h.9M283.1 295.2h.9M274.7 296.2h.9M271.9 299.4h.9M276.4 304.3h.9M285.9 293.9h.9M275.5 300.4h.9M278.0 300.7h.9M275.0 295.7h.9M288.4 294.2h.9M282.0 302.1h.9M280.8 294.2h.9M280.2 300.7h.9M274.6 302.8h.9M272.7 296.9h.9M273.5 301.7h.9M283.4 294.6h.9M280.9 295.7h.9M273.9 299.3h.9M282.1 296.3h.9M275.3 297.3h.9M278.4 301.8h.9M275.6 295.6h.9M278.7 297.2h.9M285.5 295.2h.9M283.9 298.1h.9M276.2 298.4h.9M278.2 298.3h.9M275.8 301.3h.9M277.0 299.2h.9M283.2 298.7h.9M280.9 301.1h.9M280.6 297.9h.9M280.1 295.3h.9M282.2 289.5h.9M274.2 295.6h.9M273.0 301.8h.9M278.7 297.2h.9M276.4 301.1h.9M277.6 299.1h.9M279.2 295.1h.9M278.3 300.7h.9M279.5 300.0h.9M275.5 299.8h.9M275.1 298.4h.9M273.2 298.8h.9M287.8 293.4h.9M282.8 298.0h.9M283.7 296.4h.9M275.7 297.4h.9M278.2 300.0h.9M281.3 298.1h.9M272.2 299.9h.9M272.5 295.2h.9M283.9 296.5h.9M286.4 292.4h.9M287.8 296.8h.9M280.4 306.9h.9M291.1 298.0h.9M277.0 300.5h.9M279.4 299.5h.9M275.5 298.8h.9M279.3 300.2h.9M278.7 298.0h.9M284.9 291.5h.9M277.1 301.6h.9M278.5 295.3h.9M281.9 293.4h.9M278.9 294.7h.9M282.2 298.4h.9M283.4 299.5h.9M281.4 298.3h.9M278.4 293.6h.9M274.5 297.9h.9M279.0 293.9h.9M269.8 305.5h.9M275.3 301.8h.9M272.6 300.6h.9M280.0 303.9h.9M282.2 294.4h.9M275.3 297.0h.9M275.3 299.8h.9M280.1 295.8h.9M276.8 302.6h.9M273.9 298.6h.9M274.1 301.8h.9M277.8 300.5h.9M279.8 304.4h.9M278.4 302.2h.9M275.1 296.3h.9M274.3 298.4h.9M285.2 297.4h.9M280.0 295.3h.9M283.6 291.9h.9M282.7 295.4h.9M281.5 294.5h.9M276.2 301.2h.9M280.1 295.7h.9M278.6 295.3h.9M274.4 292.6h.9M281.6 297.7h.9M281.4 293.0h.9M285.9 298.7h.9M279.9 298.3h.9M286.0 296.8h.9M275.1 300.1h.9M273.3 295.4h.9M279.0 296.6h.9M276.3 298.0h.9M282.2 297.2h.9M272.9 297.8h.9M278.7 295.6h.9M280.4 298.6h.9M276.2 303.9h.9M275.4 302.1h.9M275.3 303.9h.9M277.8 302.3h.9M275.0 300.0h.9M270.7 300.9h.9M277.1 301.4h.9M281.7 296.9h.9M280.2 300.8h.9M281.7 295.6h.9M282.6 298.2h.9M280.2 297.7h.9M272.7 301.0h.9M280.6 297.2h.9M273.1 294.8h.9M284.3 299.8h.9M277.2 301.3h.9M271.9 301.7h.9M272.3 304.2h.9M279.4 298.8h.9M279.4 300.7h.9M283.3 292.7h.9M272.2 298.9h.9M279.5 303.3h.9M283.2 296.7h.9M280.5 293.9h.9M278.9 299.0h.9M272.8 296.6h.9M273.6 298.4h.9M276.0 299.4h.9M289.3 295.5h.9M269.4 302.4h.9M280.6 297.9h.9M277.6 301.0h.9M277.1 302.2h.9M278.1 288.8h.9M282.1 297.7h.9M274.0 297.5h.9M266.8 304.2h.9M280.6 298.2h.9M278.1 298.0h.9M280.5 300.5h.9M270.4 301.7h.9M276.6 297.8h.9M281.9 296.0h.9M278.4 298.2h.9M275.4 296.6h.9M281.8 295.8h.9M278.9 296.9h.9M276.0 299.5h.9M273.7 301.1h.9M279.1 292.0h.9M272.3 298.9h.9M276.1 300.8h.9M272.1 304.8h.9M272.2 298.2h.9M275.2 300.2h.9M279.5 297.9h.9M277.5 300.1h.9M274.1 300.2h.9M279.5 300.1h.9M282.8 299.5h.9M275.3 297.5h.9M280.0 298.2h.9M281.4 300.2h.9M282.7 299.6h.9M276.3 297.4h.9M277.8 301.9h.9M275.1 295.4h.9M276.6 297.2h.9M280.0 293.1h.9M282.1 295.5h.9M275.1 300.7h.9M273.9 306.2h.9M277.7 297.7h.9M283.8 300.1h.9M277.7 301.3h.9M271.5 297.9h.9M276.9 298.4h.9M283.8 291.4h.9M284.9 295.2h.9M274.9 295.2h.9M279.7 301.6h.9M278.8 299.7h.9M279.3 300.1h.9M278.6 301.8h.9M285.5 295.4h.9M277.9 301.3h.9M280.1 296.9h.9M279.2 301.6h.9M279.4 292.5h.9M288.2 299.0h.9M274.9 301.7h.9M270.9 301.9h.9M277.6 296.5h.9M283.3 297.7h.9M280.2 297.4h.9M280.7 299.3h.9M277.5 301.3h.9M286.9 296.1h.9M281.9 295.4h.9M272.8 303.6h.9M275.4 302.8h.9M267.2 304.8h.9M273.0 299.9h.9M278.0 294.8h.9M278.7 295.3h.9M271.0 304.3h.9M285.1 299.3h.9M273.1 301.7h.9M279.6 300.3h.9M277.3 295.2h.9M278.1 303.6h.9M277.6 302.0h.9M271.4 296.2h.9M276.3 299.2h.9M275.9 302.4h.9M279.0 291.9h.9M278.7 298.9h.9M282.2 300.0h.9M284.4 302.4h.9M276.4 299.6h.9M279.1 305.3h.9M284.2 294.0h.9M277.1 298.5h.9M275.6 300.9h.9M279.0 294.4h.9M277.6 299.4h.9M282.2 295.4h.9M273.0 300.2h.9M273.4 298.9h.9M283.5 299.4h.9M281.0 296.4h.9M280.3 297.4h.9M291.8 292.2h.9M274.6 302.2h.9M278.7 303.1h.9M274.5 300.3h.9M282.2 293.7h.9M275.8 299.2h.9M274.6 299.4h.9M281.1 300.2h.9M278.1 297.9h.9M281.3 298.1h.9M270.6 299.7h.9M274.6 300.4h.9M281.0 298.2h.9M277.9 296.6h.9M282.2 297.5h.9M282.2 296.6h.9M271.8 297.1h.9M281.6 291.3h.9M273.8 298.7h.9M276.8 303.4h.9M286.9 295.5h.9M268.8 301.6h.9M279.6 299.4h.9M272.5 303.0h.9M275.6 296.3h.9M275.7 306.2h.9M283.3 295.9h.9M279.2 300.3h.9M278.1 296.8h.9M275.1 299.1h.9M275.1 294.5h.9M281.2 300.5h.9M283.3 297.7h.9M277.8 297.7h.9M282.9 302.0h.9M277.5 295.2h.9M275.2 294.6h.9M274.6 299.4h.9M285.6 297.3h.9M273.0 300.2h.9M278.3 299.0h.9M277.5 294.4h.9M276.6 296.9h.9M283.0 298.7h.9M276.5 299.7h.9M277.0 291.4h.9M276.8 296.3h.9M275.1 303.1h.9M279.9 299.2h.9M276.3 299.7h.9M272.0 302.1h.9M280.3 297.0h.9M284.7 294.3h.9M275.4 297.0h.9M283.1 297.5h.9M277.0 303.8h.9M277.1 295.8h.9M282.8 297.1h.9M274.7 303.9h.9M278.2 297.0h.9M274.5 296.7h.9M282.4 296.3h.9M274.1 298.6h.9M276.4 300.3h.9M281.6 299.2h.9M267.5 305.9h.9M275.9 303.5h.9M283.2 295.5h.9M276.7 304.7h.9M277.0 298.0h.9M278.5 298.7h.9M271.7 298.5h.9M275.9 295.2h.9M279.9 300.0h.9M278.9 299.7h.9M278.4 300.6h.9M285.3 295.9h.9M277.9 300.0h.9M275.1 303.6h.9M278.9 299.2h.9M277.8 298.2h.9M279.3 295.7h.9M285.3 295.1h.9M278.8 298.8h.9M290.7 299.8h.9M277.2 299.0h.9M280.7 294.0h.9M275.7 301.4h.9M276.8 304.2h.9M271.8 300.2h.9M283.5 297.4h.9M282.5 300.3h.9M272.9 301.7h.9M273.5 300.8h.9M273.0 302.7h.9M280.0 299.0h.9M277.5 299.7h.9M282.4 298.7h.9M279.6 296.9h.9M274.9 298.8h.9M283.9 292.1h.9M278.2 301.0h.9M274.4 305.2h.9M282.2 297.6h.9M281.3 298.7h.9M274.5 299.4h.9M279.0 294.0h.9M286.6 293.9h.9M282.2 291.4h.9M278.1 300.4h.9M280.3 301.3h.9M275.8 292.5h.9M276.9 301.5h.9M277.3 301.3h.9M282.2 300.8h.9M281.2 299.8h.9M271.9 300.7h.9M277.1 300.6h.9M280.4 301.3h.9M283.1 295.7h.9M281.2 296.2h.9M276.7 299.5h.9M277.9 301.8h.9M277.3 295.6h.9M282.9 296.9h.9M280.0 297.1h.9M277.5 296.4h.9M270.4 303.1h.9M278.5 301.8h.9M278.5 299.5h.9M276.9 303.1h.9M278.2 303.7h.9M279.4 296.8h.9M278.3 296.7h.9M280.6 297.9h.9M276.7 296.6h.9M278.0 296.4h.9M281.0 300.6h.9M276.8 296.9h.9M278.3 298.6h.9M274.7 296.9h.9M281.2 297.9h.9M278.8 294.5h.9M277.1 297.8h.9M281.6 301.6h.9M276.5 302.2h.9M280.5 305.4h.9M281.8 301.8h.9M276.8 295.6h.9M271.5 301.6h.9M273.3 299.1h.9M281.5 296.3h.9M280.9 295.8h.9M275.9 302.5h.9M283.2 298.6h.9M278.0 299.5h.9M282.8 299.8h.9M275.1 291.4h.9M290.4 295.2h.9M272.1 298.8h.9M283.2 290.5h.9M282.0 298.7h.9M277.0 302.6h.9M279.8 298.2h.9M278.4 302.2h.9M279.0 295.2h.9M278.0 302.0h.9M286.3 294.6h.9M278.3 294.7h.9M281.1 295.9h.9M274.0 304.9h.9M274.2 303.5h.9M282.2 294.7h.9M283.0 295.6h.9M278.5 305.3h.9M285.2 300.2h.9M283.6 295.7h.9M271.6 295.4h.9M276.8 296.3h.9M283.4 294.6h.9M275.6 299.5h.9M274.8 298.8h.9M275.8 300.0h.9M279.2 299.2h.9" stroke="#000" stroke-width=".9" stroke-opacity="0.95"/>
<path d="M270.8 306.6h.9M274.4 298.8h.9M268.9 298.0h.9M271.0 309.9h.9M278.0 304.2h.9M276.1 307.4h.9M277.7 301.7h.9M276.1 307.4h.9M272.9 305.9h.9M275.6 303.0h.9M272.5 305.8h.9M269.8 310.0h.9M275.6 306.5h.9M276.5 305.0h.9M281.8 306.6h.9M267.7 302.4h.9M283.6 299.1h.9M278.5 307.1h.9M271.7 303.8h.9M274.8 295.7h.9M275.3 304.8h.9M266.6 304.8h.9M280.2 298.9h.9M269.4 312.5h.9M272.5 309.0h.9M271.9 312.1h.9M272.5 296.3h.9M279.2 306.0h.9M279.1 307.0h.9M275.9 303.3h.9M269.2 300.0h.9M282.7 302.0h.9M270.7 301.2h.9M270.1 301.7h.9M270.4 302.2h.9M281.6 306.8h.9M280.2 311.2h.9M272.6 305.0h.9M270.3 312.4h.9M277.7 308.8h.9M273.5 306.1h.9M275.8 307.6h.9M266.5 309.6h.9M280.7 307.8h.9M267.8 304.3h.9M276.9 305.9h.9M270.6 309.0h.9M273.6 300.9h.9M278.3 311.9h.9M281.6 306.5h.9M274.9 304.7h.9M269.5 304.4h.9M280.6 305.5h.9M270.1 304.8h.9M277.0 307.4h.9M279.7 306.8h.9M278.1 306.3h.9M277.3 306.8h.9M267.9 309.2h.9M280.8 306.4h.9M267.7 305.4h.9M277.5 302.7h.9M267.9 293.5h.9M279.5 302.2h.9M283.5 302.9h.9M273.8 304.6h.9M274.2 303.5h.9M280.2 305.1h.9M277.3 307.0h.9M282.3 302.3h.9M266.0 309.9h.9M283.1 301.9h.9M264.2 302.0h.9M273.9 305.0h.9M275.1 307.5h.9M280.5 313.2h.9M282.9 299.5h.9M281.1 310.0h.9M275.1 304.4h.9M268.1 303.9h.9M273.5 305.7h.9M274.4 302.0h.9M272.2 308.8h.9M280.4 295.3h.9M273.2 306.3h.9M270.3 299.9h.9M277.5 300.7h.9M278.8 306.7h.9M272.2 304.0h.9M268.5 304.6h.9M275.5 305.1h.9M280.7 303.1h.9M267.4 305.9h.9M280.8 301.8h.9M287.4 302.9h.9M279.1 295.0h.9M271.6 309.6h.9M280.0 308.8h.9M269.3 303.1h.9M278.0 305.8h.9M275.9 301.8h.9M275.1 304.2h.9M281.2 302.6h.9M264.3 308.7h.9M279.3 293.7h.9M279.6 309.3h.9M273.4 302.2h.9M281.4 304.0h.9M274.7 310.4h.9M273.6 311.3h.9M273.8 296.4h.9M267.2 305.8h.9M278.9 309.0h.9M272.3 304.9h.9M272.0 303.5h.9M266.9 310.2h.9M273.2 303.8h.9M273.1 302.9h.9M276.4 304.5h.9M272.4 306.3h.9M280.6 297.1h.9M280.3 305.4h.9M272.0 300.7h.9M271.7 306.5h.9M271.9 303.2h.9M276.2 307.6h.9M271.6 304.9h.9M276.8 307.2h.9M272.0 308.4h.9M286.5 307.3h.9M284.4 302.8h.9M280.2 308.0h.9M278.0 305.5h.9M272.0 305.7h.9M267.2 306.6h.9M283.5 309.4h.9M279.6 306.2h.9M267.0 302.0h.9M274.4 306.6h.9M284.8 306.6h.9M270.0 312.5h.9M279.7 306.3h.9M272.9 307.1h.9M280.3 303.6h.9M272.4 304.6h.9M272.9 304.1h.9M276.9 301.9h.9M283.5 303.3h.9M272.6 303.1h.9M277.8 309.4h.9" stroke="#000" stroke-width=".9" stroke-opacity="0.75"/>
<path d="M245.7 319.5h.9M269.8 322.8h.9M256.8 320.2h.9M267.1 331.8h.9M272.8 326.4h.9M244.1 329.4h.9M257.7 329.8h.9M249.8 321.3h.9M275.7 327.7h.9M256.2 310.6h.9M249.0 322.7h.9M272.3 322.4h.9M254.6 323.0h.9M254.0 319.1h.9M239.6 323.5h.9M272.1 316.6h.9M245.7 320.6h.9M248.1 328.5h.9M261.2 329.5h.9M247.7 318.4h.9M256.5 316.7h.9M271.8 327.7h.9M254.5 322.8h.9M248.0 323.9h.9M277.4 317.2h.9M256.4 320.9h.9M272.1 324.6h.9M258.7 327.1h.9M252.3 321.0h.9M250.6 323.3h.9M242.4 327.4h.9M262.0 317.9h.9M263.2 332.7h.9M244.1 321.8h.9M250.6 332.8h.9M262.2 327.4h.9M251.5 329.3h.9M247.2 330.2h.9M272.7 308.9h.9M265.0 329.9h.9M277.3 322.3h.9M258.6 332.0h.9M254.3 317.7h.9M252.0 329.8h.9M246.3 321.8h.9M254.9 329.0h.9M258.1 319.6h.9M269.1 328.1h.9M240.0 332.2h.9M255.1 314.4h.9M251.6 313.6h.9M258.8 322.6h.9M265.3 329.5h.9M246.1 315.1h.9M255.9 337.2h.9M261.8 316.0h.9M251.9 335.9h.9M258.3 325.0h.9M248.3 333.2h.9M258.5 319.6h.9M267.1 327.3h.9M268.4 325.6h.9M265.0 329.6h.9M255.3 323.9h.9M280.1 324.5h.9M248.4 333.9h.9M257.9 319.6h.9M253.2 333.9h.9M251.3 314.0h.9M242.4 331.2h.9M244.0 321.2h.9M253.5 327.3h.9M265.1 331.1h.9M245.1 335.2h.9M254.4 340.0h.9M248.0 327.8h.9M257.8 312.2h.9M277.5 328.3h.9M252.3 323.9h.9M252.1 325.7h.9M259.9 322.8h.9M254.8 316.1h.9M242.2 332.3h.9M277.7 322.7h.9M269.0 330.7h.9M241.3 334.6h.9M261.1 332.9h.9M253.6 318.6h.9M253.5 327.3h.9M252.8 318.5h.9M258.7 319.6h.9M277.7 322.9h.9M248.9 311.2h.9M266.9 323.8h.9M260.3 335.2h.9M265.9 338.4h.9M252.2 311.2h.9M252.6 312.2h.9M259.6 314.7h.9M264.3 324.6h.9M279.3 326.1h.9M255.7 325.8h.9M258.6 334.3h.9M239.9 321.5h.9M262.7 311.7h.9M261.9 322.1h.9M255.5 322.1h.9M251.1 324.8h.9M265.0 308.6h.9M243.5 327.7h.9M253.5 319.9h.9M253.1 318.5h.9M268.3 315.6h.9M269.8 322.7h.9M254.4 324.1h.9M245.1 329.2h.9M260.8 316.8h.9M271.9 329.1h.9M244.8 323.8h.9M264.6 328.1h.9M267.8 325.9h.9M264.0 317.3h.9M274.5 318.6h.9M250.4 314.0h.9M270.0 324.0h.9M249.9 315.9h.9M250.0 317.8h.9M264.2 334.5h.9M251.8 317.6h.9M259.6 321.4h.9M248.4 332.0h.9M252.8 322.3h.9M273.0 326.1h.9M253.1 322.9h.9M260.6 324.9h.9M259.3 315.3h.9M274.0 317.5h.9M262.2 319.9h.9M244.0 310.4h.9M254.6 331.4h.9M250.1 324.7h.9M253.8 327.8h.9M256.1 323.3h.9M275.7 324.7h.9M254.2 318.4h.9M243.6 315.8h.9M275.7 313.1h.9M252.4 327.3h.9M271.6 331.3h.9M252.4 320.2h.9M249.8 312.6h.9M258.5 329.9h.9M265.6 328.3h.9M269.0 317.3h.9M261.8 314.9h.9M266.9 317.6h.9M280.2 312.5h.9M239.0 323.1h.9M250.0 325.0h.9M267.0 322.7h.9M250.4 322.0h.9M251.4 316.7h.9M255.2 314.9h.9M250.6 319.2h.9M272.2 319.4h.9M277.2 325.4h.9M248.7 323.2h.9M263.6 321.2h.9M265.8 318.4h.9M251.7 327.6h.9M250.2 328.6h.9M253.6 339.8h.9M244.5 321.8h.9M265.4 325.7h.9M265.7 325.5h.9M267.2 329.4h.9M247.2 339.8h.9M249.0 338.7h.9M266.3 327.9h.9M258.4 328.2h.9M243.8 333.9h.9M253.4 325.1h.9M256.1 328.6h.9M251.0 313.5h.9M280.2 332.0h.9M254.2 324.7h.9M256.9 310.8h.9" stroke="#000" stroke-width=".9" stroke-opacity="0.70"/>
<path d="M269.3 276.25L269.3 342" stroke="#959595" stroke-width="1.0" fill="none"/>
<path d="M237.5 313.5L303.25 313.5" stroke="#959595" stroke-width="1.0" fill="none"/>
<rect x="239.3" y="278.22" width="17.11" height="6.46" fill="#fff"/>
<text x="239.8" y="284.15" font-size="7.6" text-anchor="start" font-weight="normal" fill="#161616" class="t">42.7</text>
<rect x="284.44" y="278.22" width="17.11" height="6.46" fill="#fff"/>
<text x="301.05" y="284.15" font-size="7.6" text-anchor="end" font-weight="normal" fill="#161616" class="t">47.8</text>
<rect x="239.3" y="335.17" width="13.08" height="6.46" fill="#fff"/>
<text x="239.8" y="341.1" font-size="7.6" text-anchor="start" font-weight="normal" fill="#161616" class="t">6.8</text>
<rect x="284.44" y="335.17" width="17.11" height="6.46" fill="#fff"/>
<text x="301.05" y="341.1" font-size="7.6" text-anchor="end" font-weight="normal" fill="#161616" class="t">2.66</text>
<rect x="237.5" y="276.25" width="65.75" height="65.75" fill="none" stroke="#000" stroke-width="1.35"/>
<text x="231.3" y="287" font-size="8.4" text-anchor="end" font-weight="normal" fill="#161616">10<tspan dy="-3.53" font-size="6.55">5</tspan></text>
<text x="231.3" y="302.17" font-size="8.4" text-anchor="end" font-weight="normal" fill="#161616">10<tspan dy="-3.53" font-size="6.55">4</tspan></text>
<text x="231.3" y="317.33" font-size="8.4" text-anchor="end" font-weight="normal" fill="#161616">10<tspan dy="-3.53" font-size="6.55">3</tspan></text>
<text x="231.3" y="332.5" font-size="8.4" text-anchor="end" font-weight="normal" fill="#161616">10<tspan dy="-3.53" font-size="6.55">2</tspan></text>
<text x="232.9" y="338.5" font-size="8.4" text-anchor="end" font-weight="normal" fill="#161616">0</text>
<path d="M237.5 283h-2.8M237.5 293.6h-1.5M237.5 290.93h-1.5M237.5 289.04h-1.5M237.5 287.57h-1.5M237.5 286.36h-1.5M237.5 285.35h-1.5M237.5 284.47h-1.5M237.5 283.69h-1.5M237.5 298.17h-2.8M237.5 308.77h-1.5M237.5 306.1h-1.5M237.5 304.2h-1.5M237.5 302.73h-1.5M237.5 301.53h-1.5M237.5 300.52h-1.5M237.5 299.64h-1.5M237.5 298.86h-1.5M237.5 313.33h-2.8M237.5 323.93h-1.5M237.5 321.26h-1.5M237.5 319.37h-1.5M237.5 317.9h-1.5M237.5 316.7h-1.5M237.5 315.68h-1.5M237.5 314.8h-1.5M237.5 314.03h-1.5M237.5 328.5h-2.8M237.5 335.5h-2.8M237.5 329.67h-1.5M237.5 337.67h-1.5M237.5 330.83h-1.5M237.5 339.83h-1.5M237.5 332h-1.5M237.5 342h-1.5M237.5 333.17h-1.5M237.5 334.33h-1.5" stroke="#000" stroke-width=".95"/>
<path d="M239.3 342v2.8M252.7 342v2.8M267.8 342v2.8M282.9 342v2.8M297.8 342v2.8M257.25 342v2M259.9 342v2M261.79 342v2M263.25 342v2M264.45 342v2M265.46 342v2M266.34 342v2M267.11 342v2M272.35 342v2M275 342v2M276.89 342v2M278.35 342v2M279.55 342v2M280.56 342v2M281.44 342v2M282.21 342v2M287.39 342v2M290.01 342v2M291.87 342v2M293.31 342v2M294.49 342v2M295.49 342v2M296.36 342v2M297.12 342v2M242.65 342v2M246 342v2M249.35 342v2M238.1 342v2M302.29 342v2" stroke="#000" stroke-width=".95"/>
<text transform="translate(246.7,352.1) rotate(-45)" font-size="8.4" text-anchor="end" font-weight="normal" fill="#161616">0</text>
<text transform="translate(256.5,352.6) rotate(-45)" font-size="8.4" text-anchor="end" font-weight="normal" fill="#161616">10<tspan dy="-3.53" font-size="6.22">2</tspan></text>
<text transform="translate(270,352.6) rotate(-45)" font-size="8.4" text-anchor="end" font-weight="normal" fill="#161616">10<tspan dy="-3.53" font-size="6.22">3</tspan></text>
<text transform="translate(285.5,352.6) rotate(-45)" font-size="8.4" text-anchor="end" font-weight="normal" fill="#161616">10<tspan dy="-3.53" font-size="6.22">4</tspan></text>
<text transform="translate(300.3,352.6) rotate(-45)" font-size="8.4" text-anchor="end" font-weight="normal" fill="#161616">10<tspan dy="-3.53" font-size="6.22">5</tspan></text>
<path d="M66.5 404.2h.9M67.7 406.1h.9M59.9 405.1h.9M58.7 401.6h.9M58.5 406.6h.9M68.6 404.7h.9M54.1 412.5h.9M65.0 407.6h.9M59.0 406.8h.9M63.6 404.0h.9M63.3 402.7h.9M58.6 409.4h.9M58.0 398.4h.9M55.3 400.0h.9M60.6 403.3h.9M60.7 404.4h.9M66.1 400.6h.9M57.3 404.8h.9M55.0 407.0h.9M71.1 404.7h.9M67.7 404.6h.9M60.2 402.3h.9M62.6 402.7h.9M57.0 410.6h.9M60.3 405.8h.9M54.3 405.6h.9M58.9 403.0h.9M61.9 404.6h.9M57.7 403.1h.9M57.8 404.9h.9M63.9 406.8h.9M60.0 407.7h.9M56.7 403.9h.9M67.0 401.3h.9M61.7 403.4h.9M62.9 411.4h.9M59.3 399.3h.9M61.6 400.7h.9M67.4 404.0h.9M58.6 399.3h.9M60.3 408.2h.9M61.8 404.4h.9M66.7 400.7h.9M59.0 400.4h.9M65.7 403.5h.9M64.8 400.4h.9M63.7 401.9h.9M59.8 403.9h.9M63.3 399.6h.9M53.5 408.2h.9M54.9 399.6h.9M63.7 399.2h.9M53.8 403.3h.9M59.6 407.6h.9M51.3 405.7h.9M65.8 407.4h.9M61.1 406.2h.9M62.1 407.5h.9M61.6 399.6h.9M68.6 404.1h.9M55.5 406.0h.9M66.1 400.1h.9M60.0 409.2h.9M69.8 404.2h.9M59.0 405.5h.9M62.9 401.2h.9M65.0 396.4h.9M62.2 407.2h.9M62.8 401.2h.9M64.5 401.1h.9M58.0 402.9h.9M63.4 404.4h.9M56.6 407.4h.9M64.9 403.2h.9M69.7 400.7h.9M62.5 405.7h.9M60.1 404.5h.9M65.9 404.1h.9M63.9 399.9h.9M52.3 404.8h.9M63.5 405.2h.9M69.0 404.0h.9M52.9 406.6h.9M66.0 398.1h.9M67.0 405.3h.9M58.2 407.0h.9M59.7 407.6h.9M67.4 407.1h.9M62.2 402.9h.9M66.7 409.1h.9M72.8 405.4h.9M64.9 405.2h.9M60.6 408.4h.9M67.0 403.3h.9M60.4 404.3h.9M61.8 407.2h.9M57.8 404.6h.9M65.3 406.8h.9M65.2 403.2h.9M61.2 402.3h.9M71.2 405.3h.9M69.0 405.8h.9M66.1 402.1h.9M56.3 401.6h.9M57.7 407.0h.9M67.9 399.2h.9M64.5 409.9h.9M63.7 410.6h.9M74.0 402.8h.9M60.6 397.0h.9M58.6 403.3h.9M65.7 404.6h.9M54.1 403.9h.9M57.3 407.4h.9M66.2 402.9h.9M62.0 412.4h.9M56.0 406.1h.9M60.9 406.8h.9M62.5 399.2h.9M66.9 403.1h.9M72.3 403.1h.9M68.7 403.9h.9M64.9 404.1h.9M65.9 406.1h.9M68.5 404.2h.9M64.5 405.0h.9M49.1 404.8h.9M49.0 403.1h.9M59.1 398.4h.9M53.9 402.4h.9M58.9 401.2h.9M57.7 406.7h.9M68.6 403.5h.9M58.2 402.4h.9M65.6 405.9h.9M59.6 401.2h.9M64.8 400.3h.9M69.7 406.3h.9M61.6 403.1h.9M58.2 407.1h.9M57.9 402.4h.9M62.1 405.1h.9M59.1 407.9h.9M55.7 403.8h.9M57.4 399.3h.9M60.5 404.2h.9M62.8 408.4h.9M57.3 400.9h.9M57.1 406.8h.9M62.9 408.1h.9M69.3 404.3h.9M60.1 400.4h.9M63.3 406.5h.9M57.0 400.5h.9M70.7 405.3h.9M59.9 401.5h.9M64.9 407.6h.9M67.5 398.6h.9M60.8 405.5h.9M69.6 402.7h.9M65.0 407.1h.9M59.5 407.3h.9M62.0 406.4h.9M57.1 411.7h.9M59.8 408.4h.9M63.3 404.7h.9M62.3 404.6h.9M61.1 398.3h.9M58.6 404.9h.9M64.8 407.9h.9M59.7 407.5h.9M56.8 404.4h.9M62.8 399.9h.9M69.4 404.0h.9M61.2 400.9h.9M68.4 407.4h.9M66.6 409.1h.9M55.7 405.1h.9M65.5 410.0h.9M65.6 407.1h.9M54.7 406.1h.9M56.1 404.1h.9M59.1 400.8h.9M61.4 402.7h.9M58.0 403.8h.9M69.0 409.7h.9M62.7 401.4h.9M59.9 402.6h.9M58.2 406.1h.9M59.6 405.4h.9M60.6 403.8h.9M64.9 401.1h.9M56.5 402.8h.9M59.5 404.7h.9M64.4 401.0h.9M68.8 403.6h.9M55.3 408.1h.9M64.8 403.0h.9M62.2 399.7h.9M57.2 404.2h.9M59.5 406.6h.9M60.5 406.1h.9M56.8 406.6h.9M66.9 410.3h.9M65.5 406.9h.9M64.1 404.6h.9M59.2 403.6h.9M63.5 408.2h.9M65.4 405.1h.9M65.9 399.3h.9M63.3 405.3h.9M56.3 403.7h.9M52.5 404.5h.9M67.5 404.7h.9M67.7 404.8h.9M57.9 408.0h.9M74.1 406.6h.9M61.7 405.0h.9M61.1 403.1h.9M59.5 405.3h.9M61.1 405.8h.9M68.0 401.8h.9M66.6 404.3h.9M69.5 403.7h.9M61.2 405.3h.9M56.3 401.6h.9M58.4 400.5h.9M52.1 408.2h.9M64.5 406.2h.9M58.5 402.3h.9M64.3 407.3h.9M59.7 394.5h.9M60.9 406.6h.9M68.1 397.5h.9M61.7 405.8h.9M67.1 401.3h.9M62.4 397.8h.9M68.2 402.7h.9M68.8 400.7h.9M56.4 402.1h.9M63.5 405.1h.9M62.3 404.5h.9M55.7 405.0h.9M53.1 397.8h.9M49.4 404.9h.9M73.1 409.8h.9M71.0 404.9h.9M66.8 403.8h.9M58.2 410.7h.9M61.8 410.0h.9M51.4 401.4h.9M57.2 402.6h.9M63.4 406.4h.9M67.3 403.5h.9M65.1 406.7h.9M62.5 407.3h.9M60.7 404.5h.9M58.3 404.0h.9M60.0 410.3h.9M64.9 403.4h.9M59.3 402.2h.9M58.3 398.0h.9M60.8 399.9h.9M61.4 406.8h.9M63.0 402.9h.9M59.2 402.1h.9M56.3 400.8h.9M53.1 401.0h.9M59.6 405.9h.9M64.2 407.4h.9M60.3 399.6h.9M66.1 408.3h.9M68.8 405.7h.9M62.1 405.8h.9M65.8 402.7h.9M65.3 408.9h.9M66.6 410.1h.9M58.6 405.9h.9M64.0 400.7h.9M62.8 404.7h.9M59.4 402.6h.9M56.4 406.9h.9M60.5 401.9h.9M62.8 396.3h.9M54.6 402.3h.9M58.9 403.4h.9M58.8 405.3h.9M56.7 400.1h.9M57.5 406.7h.9M67.2 404.0h.9M61.8 403.8h.9M61.8 401.1h.9M57.8 399.4h.9M65.5 402.3h.9M64.9 401.6h.9M63.0 399.8h.9M63.2 404.1h.9M64.0 403.2h.9M58.0 403.6h.9M68.2 399.6h.9M56.5 407.0h.9M61.2 403.7h.9M60.9 401.6h.9M61.2 408.1h.9M61.0 409.5h.9M60.5 405.3h.9M53.2 403.4h.9M53.1 400.1h.9M61.2 400.4h.9M59.3 406.6h.9M61.1 406.5h.9M69.3 411.2h.9M64.9 403.2h.9M64.5 401.1h.9M55.6 407.6h.9M66.6 399.2h.9M54.9 405.6h.9M63.3 406.0h.9M51.0 408.6h.9M64.0 405.5h.9M63.4 406.4h.9M66.7 408.1h.9M56.2 409.5h.9M62.7 410.0h.9M62.6 403.9h.9M53.9 410.2h.9M59.6 403.1h.9M67.6 403.7h.9M55.7 402.2h.9M56.9 402.8h.9M56.7 408.6h.9M57.8 403.2h.9M60.5 406.2h.9M67.1 405.1h.9M68.7 404.6h.9M58.2 398.0h.9M60.7 405.3h.9M55.6 402.8h.9M64.2 402.8h.9M58.6 408.3h.9M64.4 405.4h.9M74.5 406.1h.9M58.4 404.8h.9M61.2 404.2h.9M62.2 400.7h.9M55.1 408.6h.9M60.3 403.1h.9M58.0 402.7h.9M61.0 402.1h.9M61.3 401.7h.9M66.0 402.2h.9M62.5 408.1h.9M70.6 407.0h.9M56.5 406.3h.9M59.7 406.0h.9M66.8 401.9h.9M64.8 405.9h.9M61.1 407.1h.9M65.9 400.3h.9M63.7 406.3h.9M60.8 404.2h.9M57.5 401.6h.9M64.8 402.1h.9M65.0 406.8h.9M68.7 408.8h.9M66.0 401.6h.9M64.6 402.0h.9M63.2 403.9h.9M60.8 402.1h.9M56.8 401.3h.9M61.6 403.4h.9M55.0 406.7h.9M65.7 406.1h.9M58.3 406.1h.9M58.6 404.2h.9M67.1 410.6h.9M70.9 404.9h.9M62.2 405.1h.9M62.2 401.0h.9M69.0 407.5h.9M62.7 406.3h.9M68.8 403.0h.9M59.0 406.2h.9M59.0 409.0h.9M58.8 400.8h.9M52.8 406.8h.9M69.4 400.5h.9M58.4 403.7h.9M55.4 405.6h.9M58.3 407.5h.9M60.2 404.3h.9M57.4 403.3h.9M65.5 409.3h.9M60.9 404.2h.9M60.7 404.7h.9M62.7 409.4h.9M62.8 409.1h.9M62.4 402.4h.9M59.8 404.3h.9M60.1 402.7h.9M58.5 402.8h.9M65.7 404.7h.9M57.5 405.4h.9M60.2 404.9h.9M60.1 401.2h.9M66.6 400.9h.9M62.2 403.6h.9M63.5 402.9h.9M62.9 400.4h.9M61.7 403.5h.9M59.0 401.4h.9M61.4 402.8h.9M62.1 405.1h.9M61.9 406.6h.9M66.5 402.2h.9M67.2 404.9h.9M59.1 403.4h.9M61.6 402.1h.9M67.3 405.2h.9M61.7 404.0h.9M64.4 403.6h.9M64.6 407.8h.9M55.9 406.2h.9M59.8 402.0h.9M57.9 403.9h.9M67.9 401.0h.9M63.2 405.0h.9M59.9 404.7h.9M61.0 404.3h.9M59.6 404.7h.9M55.6 402.6h.9M58.7 403.0h.9M68.0 401.0h.9M51.2 404.0h.9M61.5 400.7h.9M64.3 405.8h.9M55.7 403.3h.9M65.6 409.3h.9M57.8 407.0h.9M56.0 403.2h.9M66.1 409.6h.9M62.6 399.3h.9M63.2 401.8h.9M60.6 404.5h.9M66.1 403.3h.9M58.4 403.0h.9M69.8 402.9h.9M64.1 399.7h.9M57.6 402.2h.9M59.3 409.2h.9M66.1 409.4h.9M61.4 402.8h.9M60.2 399.9h.9M59.1 408.3h.9M53.2 407.1h.9M66.7 402.8h.9M67.9 402.3h.9M55.6 402.3h.9M59.1 409.1h.9M68.5 403.7h.9M53.6 404.8h.9M62.0 411.6h.9M61.2 404.3h.9M61.8 404.3h.9M66.4 405.9h.9M50.4 405.6h.9M59.3 404.1h.9M61.9 402.6h.9M59.0 401.4h.9M57.7 409.3h.9M59.2 407.3h.9M59.9 400.7h.9M66.6 402.9h.9M62.3 405.9h.9M57.0 406.2h.9M63.1 403.6h.9M56.1 400.9h.9M63.1 403.2h.9M52.0 404.8h.9M55.4 404.3h.9M67.3 409.6h.9M59.4 404.6h.9M61.1 404.8h.9M63.9 402.3h.9M62.2 410.1h.9M57.5 405.5h.9M54.6 402.7h.9M52.6 401.3h.9M63.2 404.1h.9M62.4 401.7h.9M64.6 406.9h.9M68.5 406.6h.9M65.9 403.4h.9M52.2 402.5h.9M60.6 405.3h.9M58.7 402.3h.9M60.0 405.0h.9M60.5 409.3h.9M55.8 405.7h.9M60.8 400.3h.9M56.6 403.1h.9M59.5 408.6h.9M64.0 402.9h.9M57.8 407.2h.9M56.1 400.4h.9M60.5 398.5h.9M66.9 402.4h.9M72.6 402.8h.9M64.6 402.9h.9M61.1 407.0h.9M61.2 403.6h.9M61.0 403.3h.9M63.2 405.7h.9M64.0 409.1h.9M62.6 405.6h.9M57.9 401.0h.9M59.0 405.7h.9M65.9 401.9h.9M62.9 398.9h.9M56.9 409.0h.9M60.4 404.7h.9M68.7 404.8h.9M65.6 407.4h.9M55.9 404.9h.9M60.1 407.1h.9M59.4 401.9h.9M56.3 399.6h.9M66.3 401.5h.9M64.4 401.6h.9M60.2 408.8h.9M61.9 406.5h.9M62.3 400.2h.9M57.9 398.0h.9M67.5 407.6h.9M61.7 403.1h.9M63.0 404.4h.9M67.9 400.4h.9M61.5 404.7h.9M54.3 403.1h.9M60.3 404.8h.9M57.5 401.8h.9M63.8 406.6h.9M64.7 403.6h.9M53.7 404.8h.9M55.2 404.4h.9M57.2 399.6h.9M68.6 403.7h.9M60.8 399.2h.9M59.4 400.0h.9M56.7 402.6h.9M51.4 400.9h.9M66.5 405.6h.9M58.5 404.7h.9M62.7 406.3h.9M57.9 409.1h.9M62.1 404.3h.9M60.4 398.2h.9M61.2 407.8h.9M63.1 401.3h.9M72.2 399.4h.9M55.5 403.8h.9M72.1 402.8h.9M57.1 406.8h.9M56.9 406.6h.9M65.1 402.4h.9M69.1 404.9h.9M61.8 406.4h.9M59.4 404.7h.9M62.2 403.9h.9M63.5 405.9h.9M59.0 408.2h.9M64.6 403.2h.9M58.0 401.0h.9M62.0 406.3h.9M59.7 403.7h.9M68.3 409.0h.9M56.9 405.1h.9M69.7 405.4h.9M62.5 403.6h.9M69.9 402.5h.9M62.6 404.4h.9M58.9 407.6h.9M62.5 403.1h.9M65.9 403.9h.9M66.1 404.1h.9M57.9 405.1h.9M63.2 404.1h.9M61.7 405.4h.9M58.6 409.2h.9M66.1 403.9h.9M64.4 403.7h.9M62.2 401.1h.9M56.9 403.6h.9M70.0 406.1h.9M64.6 406.8h.9M65.1 405.9h.9M58.5 407.7h.9M60.5 406.4h.9M60.2 407.8h.9M55.9 405.3h.9M63.0 406.7h.9M59.6 406.7h.9M62.8 399.4h.9M55.8 403.8h.9M65.8 400.3h.9M66.0 404.0h.9M71.6 404.5h.9M67.2 401.6h.9M60.3 407.5h.9M65.5 403.8h.9M66.3 408.1h.9M61.9 407.3h.9M60.7 409.0h.9M66.8 401.0h.9M61.3 399.8h.9M60.9 404.8h.9M63.6 406.8h.9M70.7 405.4h.9M61.0 406.3h.9M65.1 407.3h.9M65.8 401.6h.9M60.2 404.4h.9M59.2 403.7h.9M61.9 406.1h.9M62.8 399.9h.9M53.3 403.2h.9M54.7 407.6h.9M59.6 403.8h.9M57.9 402.5h.9M64.1 409.4h.9M67.1 408.7h.9M61.6 403.6h.9M62.6 403.7h.9M66.4 401.6h.9M65.8 404.1h.9M57.1 408.3h.9M60.3 402.1h.9M66.4 403.3h.9M69.9 409.1h.9M62.4 399.6h.9M63.6 402.2h.9M66.4 402.9h.9M60.6 402.6h.9M68.3 410.1h.9M60.9 406.8h.9M55.1 406.8h.9M58.0 409.3h.9M58.4 406.5h.9M56.6 406.6h.9M71.8 403.7h.9" stroke="#000" stroke-width=".9" stroke-opacity="1.00"/>
<path d="M55.3 397.1h.9M61.4 409.8h.9M61.2 401.9h.9M76.5 401.3h.9M72.9 402.7h.9M67.9 406.3h.9M59.7 405.2h.9M60.5 412.1h.9M68.6 401.3h.9M64.3 409.2h.9M57.8 407.3h.9M60.9 413.8h.9M71.6 408.5h.9M68.6 401.3h.9M57.5 406.1h.9M60.5 411.8h.9M61.3 401.9h.9M67.7 402.3h.9M62.2 409.1h.9M57.1 407.1h.9M74.8 415.5h.9M70.5 408.1h.9M56.6 409.3h.9M60.2 407.8h.9M66.2 409.6h.9M51.3 411.5h.9M63.4 402.5h.9M63.6 407.1h.9M60.9 409.8h.9M72.8 411.3h.9M63.4 414.9h.9M75.1 400.1h.9M64.7 409.3h.9M53.4 405.9h.9M80.0 402.8h.9M61.9 408.2h.9M73.6 407.0h.9M65.5 405.2h.9M53.9 401.6h.9M63.6 406.6h.9M62.2 403.2h.9M73.6 406.3h.9M68.5 409.7h.9M53.6 405.2h.9M50.2 406.7h.9M69.9 405.8h.9M70.2 406.3h.9M54.6 401.4h.9M80.5 399.0h.9M69.4 409.4h.9M61.8 409.3h.9M54.8 409.5h.9M52.4 406.2h.9M60.4 403.8h.9M53.5 404.4h.9M62.3 403.5h.9M65.8 407.3h.9M69.0 406.8h.9M58.7 412.0h.9M66.3 406.0h.9M68.2 394.2h.9M52.3 397.1h.9M72.0 402.8h.9M64.2 405.5h.9M62.1 408.1h.9M61.4 408.9h.9M58.7 404.4h.9M65.0 396.7h.9M62.3 406.7h.9M61.6 401.2h.9M66.2 409.6h.9M52.6 406.9h.9M64.1 401.4h.9M77.5 411.2h.9M60.4 415.3h.9M65.2 405.4h.9M58.4 405.9h.9M67.8 397.3h.9M63.4 403.3h.9M61.3 406.7h.9M49.7 404.0h.9M64.2 404.1h.9M59.8 401.3h.9M60.2 404.6h.9M64.1 409.4h.9M69.1 409.4h.9M62.4 410.8h.9M69.8 410.6h.9M66.2 399.7h.9M63.2 403.5h.9M55.4 404.4h.9M65.9 414.9h.9M69.2 407.1h.9M67.5 403.6h.9M70.1 400.5h.9M60.3 407.4h.9M53.4 407.5h.9M63.8 416.9h.9M56.9 401.7h.9M66.2 404.3h.9M80.9 407.1h.9M55.9 409.8h.9M65.4 409.6h.9M65.4 403.2h.9M67.1 406.0h.9M70.6 398.7h.9M70.0 410.7h.9M61.4 402.8h.9M55.1 398.8h.9M62.4 399.3h.9M59.4 406.1h.9M72.7 405.6h.9M56.2 404.6h.9M48.8 402.1h.9M66.9 410.8h.9M52.6 409.4h.9M58.4 404.0h.9M59.5 401.1h.9M67.4 399.4h.9M65.4 410.3h.9M59.7 400.2h.9M65.3 409.6h.9M67.0 410.6h.9M65.5 410.1h.9M60.5 407.0h.9M61.8 406.0h.9M65.4 404.6h.9M54.6 403.1h.9M64.5 406.7h.9M57.9 413.5h.9M68.4 406.2h.9M66.9 409.2h.9M71.4 405.7h.9M75.8 401.7h.9M63.7 406.9h.9M61.8 408.7h.9M61.5 405.4h.9M66.8 400.3h.9M60.5 403.7h.9M57.5 405.6h.9M67.9 404.1h.9M54.1 395.4h.9M61.9 410.8h.9M50.5 404.3h.9M61.4 407.2h.9M59.7 400.9h.9M65.4 401.3h.9M66.2 412.3h.9M76.1 405.9h.9M69.0 406.2h.9M74.6 407.2h.9M54.8 398.8h.9M75.2 406.2h.9M61.2 404.4h.9M60.1 409.5h.9M63.5 408.6h.9M55.5 409.8h.9M68.0 406.5h.9M53.1 400.0h.9M70.7 398.8h.9M64.9 399.7h.9M50.9 398.6h.9M78.0 410.2h.9M70.4 412.1h.9M64.6 405.8h.9M70.9 405.8h.9M64.9 404.3h.9M58.6 405.5h.9M52.2 401.3h.9M69.6 410.3h.9M62.7 406.9h.9M52.2 411.7h.9M68.0 398.4h.9M71.9 404.6h.9M56.5 407.8h.9M65.8 403.2h.9M56.1 405.3h.9M68.1 409.3h.9" stroke="#000" stroke-width=".9" stroke-opacity="0.75"/>
<path d="M91.0 407.9h.9M89.4 405.2h.9M91.0 409.6h.9M90.0 399.6h.9M94.2 408.1h.9M86.8 409.7h.9M91.5 403.3h.9M91.6 402.6h.9M93.1 405.6h.9M97.3 407.7h.9M98.4 406.3h.9M90.2 404.5h.9M93.1 406.2h.9M90.5 404.2h.9M95.6 410.3h.9M94.4 404.7h.9M94.2 400.1h.9M96.6 413.3h.9M96.3 411.2h.9M95.2 403.2h.9M88.3 404.1h.9M91.8 406.7h.9M103.7 404.7h.9M91.3 410.0h.9M96.3 407.1h.9M86.0 400.6h.9M91.9 402.5h.9M93.4 399.9h.9M93.1 405.1h.9M90.5 399.9h.9M91.1 402.7h.9M85.9 402.3h.9M93.1 409.1h.9M100.6 406.3h.9M95.0 398.3h.9M90.8 409.2h.9M92.3 409.1h.9M96.3 408.5h.9M88.7 405.0h.9M88.2 402.2h.9M94.6 406.2h.9M93.1 404.6h.9M94.8 408.2h.9M98.7 406.7h.9M89.5 395.3h.9M95.5 410.2h.9M93.0 407.8h.9M88.2 401.3h.9M89.4 406.3h.9M90.5 403.8h.9M92.6 405.2h.9M88.8 410.8h.9M96.6 407.3h.9M87.0 409.7h.9M92.7 401.2h.9M96.6 410.5h.9M96.3 403.3h.9M92.2 412.9h.9M94.6 405.5h.9M87.2 406.0h.9M91.8 408.3h.9M97.6 402.7h.9M96.3 406.9h.9M93.0 406.5h.9M96.6 406.9h.9M88.7 404.5h.9M97.8 411.5h.9M93.1 408.7h.9M92.5 408.9h.9M92.7 408.0h.9M94.3 402.9h.9M98.3 400.6h.9M94.9 403.4h.9M97.4 411.4h.9M95.9 399.2h.9M92.0 405.1h.9M92.9 404.4h.9M95.5 410.9h.9M92.3 402.4h.9M92.2 402.4h.9M92.6 406.0h.9M90.1 406.1h.9M88.5 404.3h.9M92.7 401.2h.9M88.2 400.0h.9M90.1 403.3h.9M97.0 403.3h.9M92.9 406.0h.9M93.9 407.0h.9M88.4 405.3h.9M91.0 407.5h.9M91.1 411.6h.9M92.8 410.2h.9M96.0 403.6h.9M87.3 408.0h.9M90.7 399.0h.9M94.1 405.7h.9M96.2 409.7h.9M90.1 410.6h.9M95.0 412.5h.9M92.3 408.4h.9M91.7 407.7h.9M90.8 401.5h.9M91.3 401.5h.9M91.9 409.6h.9M92.1 404.0h.9M92.7 408.0h.9M91.6 409.6h.9M93.1 408.1h.9M95.2 398.6h.9M93.4 408.1h.9M94.9 407.4h.9M93.0 405.3h.9M93.0 407.4h.9M100.3 406.8h.9M90.3 403.4h.9M92.9 412.1h.9M91.4 402.6h.9M94.6 398.7h.9M93.0 410.2h.9M93.8 409.5h.9M91.9 410.7h.9M95.9 398.5h.9M92.1 407.3h.9M87.3 407.1h.9M93.6 406.6h.9M95.3 409.3h.9M92.5 404.9h.9M98.0 412.8h.9M92.6 405.5h.9M88.7 402.6h.9M95.4 409.2h.9M92.8 404.4h.9M91.9 404.4h.9M90.7 403.7h.9M87.6 402.1h.9M97.0 405.4h.9M91.6 403.9h.9M93.3 407.9h.9M92.0 400.1h.9M93.2 411.7h.9M91.6 407.3h.9M93.9 410.1h.9M95.4 408.8h.9M90.2 411.0h.9M91.0 403.9h.9M93.8 405.8h.9M95.1 404.5h.9M86.3 405.0h.9M88.0 407.1h.9M89.5 408.6h.9M94.8 410.6h.9M97.7 405.2h.9M96.9 403.3h.9M98.4 409.7h.9M95.3 410.8h.9M92.3 401.5h.9M87.5 404.6h.9M96.1 408.2h.9M91.9 406.3h.9M98.1 410.8h.9M91.5 405.7h.9M96.9 401.7h.9M92.9 404.0h.9M93.7 409.6h.9M93.5 412.0h.9M97.9 400.0h.9M87.6 406.8h.9M92.0 405.6h.9M84.4 403.2h.9M96.1 409.2h.9M91.5 403.3h.9M87.7 403.2h.9M97.7 409.7h.9M97.6 409.3h.9M92.0 406.3h.9M92.7 408.2h.9M88.7 401.0h.9M96.3 404.7h.9M93.1 405.7h.9M93.9 405.2h.9M96.5 406.7h.9M95.8 404.5h.9M86.2 402.7h.9M89.9 410.6h.9M93.7 407.5h.9M92.1 409.6h.9M91.7 406.2h.9M87.3 404.4h.9M97.2 412.0h.9M94.4 405.0h.9M91.5 403.3h.9M92.7 403.5h.9M91.0 408.4h.9M95.7 402.6h.9M94.0 403.5h.9M93.6 410.9h.9M90.1 405.5h.9M97.1 404.0h.9M91.7 405.7h.9M90.4 414.0h.9M91.1 403.0h.9M95.6 402.3h.9M96.1 409.9h.9M98.0 401.8h.9M93.2 406.7h.9M96.9 405.7h.9M89.9 403.5h.9M91.8 408.3h.9M92.0 403.5h.9M98.5 405.4h.9M88.3 404.1h.9M89.2 407.6h.9M93.5 412.7h.9M92.9 404.1h.9M95.5 403.4h.9M93.7 405.2h.9M92.6 404.1h.9M91.6 407.6h.9M92.7 400.6h.9M90.7 404.4h.9M96.2 407.9h.9M93.6 406.8h.9M94.5 401.1h.9M93.6 406.3h.9M96.0 405.0h.9M92.3 403.7h.9M91.8 408.1h.9M91.8 402.4h.9M91.5 405.0h.9M97.7 401.1h.9M82.3 400.2h.9M96.8 403.1h.9M94.7 412.1h.9M92.4 410.8h.9M90.4 412.5h.9M91.4 401.0h.9M88.8 401.8h.9M92.6 409.0h.9M93.0 410.6h.9M101.1 401.4h.9M99.0 404.9h.9M88.2 405.1h.9M97.0 409.2h.9M96.7 405.2h.9M96.9 400.9h.9M98.5 408.8h.9M91.2 405.3h.9M98.4 404.4h.9M93.6 404.7h.9M98.5 403.4h.9M93.9 407.9h.9M93.2 403.5h.9M90.0 404.3h.9M92.7 407.0h.9M94.6 408.7h.9M95.3 407.5h.9M98.9 412.4h.9M89.4 410.3h.9M94.6 404.5h.9M93.0 406.5h.9M95.5 400.5h.9M95.0 397.3h.9M96.8 402.0h.9M92.8 407.1h.9M90.3 408.1h.9M90.2 401.9h.9M91.5 402.2h.9M90.1 413.7h.9M92.6 407.0h.9M91.2 401.0h.9M89.8 406.4h.9M90.8 399.0h.9M93.5 401.0h.9M94.3 408.2h.9M88.2 409.9h.9M95.3 404.3h.9M90.6 402.2h.9M93.0 396.9h.9M91.1 401.1h.9M86.8 412.2h.9M91.6 405.2h.9M91.0 410.7h.9M93.6 408.3h.9M97.3 402.3h.9M92.4 407.5h.9M87.9 405.1h.9M89.9 402.5h.9M97.2 403.0h.9M92.4 414.3h.9M88.7 408.6h.9M93.0 407.6h.9M90.8 406.7h.9M93.7 408.4h.9M93.6 409.8h.9M94.4 408.1h.9M90.3 400.2h.9M93.2 415.3h.9M88.1 407.7h.9M93.3 405.7h.9M91.7 405.3h.9M96.4 407.8h.9M95.3 404.5h.9M97.7 404.3h.9M92.2 397.8h.9M91.1 410.7h.9M94.6 403.8h.9M94.5 410.5h.9M87.2 407.2h.9M92.6 411.1h.9M99.2 412.3h.9M94.6 402.6h.9M85.0 405.1h.9M88.2 401.2h.9M90.8 406.4h.9M96.8 399.8h.9M87.3 403.7h.9M96.5 413.6h.9M93.5 407.4h.9M97.7 408.7h.9M96.2 401.6h.9M104.5 403.6h.9M93.1 406.7h.9M96.5 405.6h.9M89.2 413.1h.9M88.7 409.1h.9M92.3 404.3h.9M93.9 396.4h.9M89.1 405.3h.9M93.7 400.4h.9M94.9 403.2h.9M94.7 404.9h.9M96.0 401.1h.9M88.9 411.8h.9M99.3 405.1h.9M95.0 403.9h.9M93.0 409.6h.9M90.3 404.3h.9M95.7 412.4h.9M91.6 407.7h.9M98.9 405.2h.9M100.9 404.9h.9M92.2 399.9h.9M89.4 401.1h.9M93.7 401.0h.9M96.8 407.3h.9M93.5 405.1h.9M90.5 412.5h.9M89.4 407.9h.9M89.5 406.8h.9M89.0 408.8h.9M94.3 407.8h.9M97.0 402.9h.9M96.8 407.3h.9M94.6 408.9h.9M91.1 409.8h.9M92.0 409.2h.9M88.5 401.8h.9M91.9 405.2h.9M89.5 402.4h.9M91.5 403.8h.9M90.3 409.5h.9M92.3 402.2h.9M90.2 399.3h.9M94.8 410.2h.9M91.7 404.2h.9M96.3 405.0h.9M94.9 401.4h.9M88.0 402.8h.9M95.8 406.7h.9M94.0 402.3h.9M89.8 403.1h.9M95.1 403.3h.9M93.1 400.6h.9M96.6 404.7h.9M91.1 404.3h.9M93.9 408.3h.9M91.0 403.8h.9M96.3 405.9h.9M96.5 409.3h.9M94.4 404.3h.9M88.6 409.9h.9M94.6 407.1h.9M86.4 403.2h.9M92.1 410.0h.9M91.8 405.5h.9M92.4 406.4h.9M94.6 408.2h.9M94.9 401.9h.9M86.5 404.9h.9M93.0 405.3h.9M94.8 409.9h.9M89.0 407.5h.9M89.3 411.3h.9M89.1 405.6h.9M90.9 403.8h.9M94.3 408.8h.9M92.9 411.2h.9M96.7 413.0h.9M90.7 404.0h.9M94.8 403.1h.9M91.2 413.5h.9M88.2 402.6h.9M87.1 401.0h.9M91.8 406.4h.9M91.7 403.6h.9M94.8 403.7h.9M91.6 411.6h.9M92.8 407.2h.9M93.9 407.5h.9M103.9 411.0h.9M103.3 403.4h.9M99.4 410.2h.9M98.1 406.4h.9M96.7 401.9h.9M92.9 405.3h.9M95.3 407.5h.9M98.4 402.4h.9M91.9 408.6h.9M91.1 408.2h.9M98.3 400.4h.9M92.1 405.8h.9M101.8 407.8h.9M93.6 411.9h.9M95.3 409.5h.9M92.0 412.1h.9M94.6 406.2h.9M93.7 411.8h.9M92.8 407.7h.9M97.9 407.2h.9M94.0 408.9h.9M95.9 405.3h.9M93.4 397.5h.9M97.2 406.9h.9M90.5 408.3h.9M94.2 403.8h.9M96.6 403.7h.9M92.4 407.0h.9M90.5 410.1h.9M90.0 404.8h.9M93.0 412.9h.9M92.9 405.4h.9M95.0 401.0h.9M95.0 414.2h.9M89.2 405.3h.9M99.6 407.9h.9M94.6 408.9h.9M100.6 398.8h.9M100.1 404.3h.9M91.0 402.6h.9" stroke="#000" stroke-width=".9" stroke-opacity="0.95"/>
<path d="M92.5 409.6h.9M88.0 418.4h.9M99.0 421.1h.9M93.8 414.5h.9M90.2 418.7h.9M91.6 412.9h.9M92.4 410.5h.9M87.6 415.2h.9M91.4 412.4h.9M88.8 412.9h.9M93.8 416.6h.9M95.5 412.7h.9M95.4 409.6h.9M92.8 404.6h.9M91.2 408.4h.9M91.5 419.6h.9M92.1 412.0h.9M94.1 404.2h.9M93.3 404.4h.9M89.5 412.2h.9M92.3 410.5h.9M94.1 415.0h.9M89.9 412.6h.9M96.1 409.8h.9M92.6 410.7h.9M93.9 408.0h.9M92.0 412.3h.9M93.4 405.8h.9M95.9 414.8h.9M94.8 406.9h.9M94.1 408.2h.9M93.4 414.5h.9M93.7 409.0h.9M96.1 410.5h.9M90.9 410.3h.9M93.1 415.1h.9M93.1 409.2h.9M91.1 416.5h.9M88.8 407.7h.9M97.6 408.9h.9M92.3 418.1h.9M94.2 408.3h.9M91.7 413.2h.9M95.5 411.5h.9M94.0 416.1h.9M95.1 415.3h.9M92.3 422.5h.9M90.6 405.2h.9M94.9 415.6h.9M94.4 406.0h.9M90.6 409.5h.9M88.7 404.9h.9M97.9 407.9h.9M96.0 412.4h.9M90.5 409.7h.9M92.6 410.3h.9M90.0 406.0h.9M90.0 410.4h.9M92.6 403.1h.9M95.0 412.8h.9" stroke="#000" stroke-width=".9" stroke-opacity="0.75"/>
<path d="M88.3 429.3h.9M68.2 437.5h.9M83.5 433.6h.9M52.2 426.4h.9M85.5 429.9h.9M80.1 427.0h.9M91.4 434.9h.9M84.0 412.4h.9M67.6 435.9h.9M97.7 423.5h.9M64.6 432.3h.9M74.7 427.6h.9M87.0 423.6h.9M91.9 421.1h.9M80.4 414.1h.9M71.3 417.4h.9M59.0 414.6h.9M72.1 432.9h.9M66.6 417.1h.9M89.9 432.7h.9M83.7 439.7h.9M77.8 427.8h.9M84.0 421.7h.9M65.8 440.5h.9M76.6 420.3h.9M89.8 435.2h.9M79.6 432.2h.9M72.2 429.2h.9M63.9 429.7h.9M83.2 437.1h.9M90.4 419.9h.9M87.4 414.2h.9M79.6 421.9h.9M76.7 415.9h.9M88.9 428.1h.9M78.2 424.9h.9M99.4 437.4h.9M96.1 425.3h.9M102.6 412.8h.9M70.6 423.7h.9M99.1 429.4h.9M94.9 424.7h.9M65.7 410.2h.9M84.8 436.3h.9M95.8 439.1h.9M54.4 415.5h.9M82.1 413.0h.9M86.4 427.6h.9M83.3 416.9h.9M72.0 418.4h.9M80.6 426.1h.9M95.6 417.6h.9M72.5 424.8h.9M79.7 412.9h.9M58.7 430.8h.9M93.0 416.1h.9M68.2 436.9h.9M67.4 421.7h.9M77.4 422.1h.9M81.5 434.3h.9M66.3 431.2h.9M105.5 423.2h.9M87.7 420.1h.9M78.0 423.7h.9M90.6 428.3h.9M49.8 427.4h.9M85.7 432.8h.9M104.0 427.8h.9M81.3 432.1h.9M59.0 429.3h.9M75.3 435.1h.9M75.5 426.7h.9M105.6 428.6h.9M71.4 425.9h.9M64.0 416.9h.9M66.7 435.1h.9M87.5 427.2h.9M79.2 433.3h.9M95.6 430.4h.9M79.1 424.5h.9M99.9 439.2h.9M65.4 428.4h.9M79.6 432.8h.9M73.7 422.0h.9M62.2 429.9h.9M88.9 436.1h.9M80.9 434.3h.9M69.1 431.1h.9M77.0 435.8h.9M62.8 433.0h.9M82.2 429.3h.9M85.7 435.2h.9M97.3 428.6h.9M83.0 431.5h.9M79.7 427.6h.9M91.8 431.7h.9M93.7 435.5h.9M58.8 429.7h.9M61.0 417.7h.9M77.5 414.3h.9M95.6 408.4h.9M69.7 424.6h.9M62.4 429.9h.9M72.8 426.1h.9M77.2 426.1h.9M82.2 438.6h.9M84.8 435.7h.9M82.1 411.2h.9M73.2 435.7h.9M70.6 420.4h.9M84.2 425.3h.9M65.2 426.6h.9M78.0 431.6h.9M84.4 428.9h.9M69.6 432.2h.9M98.5 427.5h.9M89.6 423.5h.9M74.7 419.7h.9M68.9 431.7h.9M79.1 427.9h.9M78.7 425.8h.9M80.7 421.6h.9M87.0 426.8h.9M55.7 415.3h.9M88.8 418.0h.9M76.2 418.2h.9M69.9 426.6h.9M75.2 428.0h.9M52.4 423.4h.9M56.0 412.2h.9M72.9 427.5h.9M65.9 434.2h.9M91.0 422.8h.9M66.6 431.5h.9M79.3 419.4h.9M74.4 418.1h.9M104.4 414.1h.9M84.0 435.5h.9M58.6 425.8h.9M79.7 434.4h.9M70.3 419.7h.9M76.1 424.5h.9M52.8 437.8h.9M95.7 422.4h.9M66.3 425.0h.9M70.3 420.6h.9" stroke="#000" stroke-width=".9" stroke-opacity="0.70"/>
<path d="M82.3 381.25L82.3 446.75" stroke="#959595" stroke-width="1.0" fill="none"/>
<path d="M47.5 417.5L113.5 417.5" stroke="#959595" stroke-width="1.0" fill="none"/>
<rect x="49.3" y="383.22" width="17.11" height="6.46" fill="#fff"/>
<text x="49.8" y="389.15" font-size="7.6" text-anchor="start" font-weight="normal" fill="#161616" class="t">62.2</text>
<rect x="94.69" y="383.22" width="17.11" height="6.46" fill="#fff"/>
<text x="111.3" y="389.15" font-size="7.6" text-anchor="end" font-weight="normal" fill="#161616" class="t">30.9</text>
<rect x="49.3" y="439.92" width="17.11" height="6.46" fill="#fff"/>
<text x="49.8" y="445.85" font-size="7.6" text-anchor="start" font-weight="normal" fill="#161616" class="t">2.97</text>
<rect x="94.69" y="439.92" width="17.11" height="6.46" fill="#fff"/>
<text x="111.3" y="445.85" font-size="7.6" text-anchor="end" font-weight="normal" fill="#161616" class="t">3.86</text>
<rect x="47.5" y="381.25" width="66" height="65.5" fill="none" stroke="#000" stroke-width="1.35"/>
<text x="41.3" y="392" font-size="8.4" text-anchor="end" font-weight="normal" fill="#161616">10<tspan dy="-3.53" font-size="6.55">5</tspan></text>
<text x="41.3" y="407.08" font-size="8.4" text-anchor="end" font-weight="normal" fill="#161616">10<tspan dy="-3.53" font-size="6.55">4</tspan></text>
<text x="41.3" y="422.17" font-size="8.4" text-anchor="end" font-weight="normal" fill="#161616">10<tspan dy="-3.53" font-size="6.55">3</tspan></text>
<text x="41.3" y="437.25" font-size="8.4" text-anchor="end" font-weight="normal" fill="#161616">10<tspan dy="-3.53" font-size="6.55">2</tspan></text>
<text x="42.9" y="443.25" font-size="8.4" text-anchor="end" font-weight="normal" fill="#161616">0</text>
<path d="M47.5 388h-2.8M47.5 398.54h-1.5M47.5 395.89h-1.5M47.5 394h-1.5M47.5 392.54h-1.5M47.5 391.35h-1.5M47.5 390.34h-1.5M47.5 389.46h-1.5M47.5 388.69h-1.5M47.5 403.08h-2.8M47.5 413.63h-1.5M47.5 410.97h-1.5M47.5 409.09h-1.5M47.5 407.62h-1.5M47.5 406.43h-1.5M47.5 405.42h-1.5M47.5 404.55h-1.5M47.5 403.77h-1.5M47.5 418.17h-2.8M47.5 428.71h-1.5M47.5 426.05h-1.5M47.5 424.17h-1.5M47.5 422.71h-1.5M47.5 421.51h-1.5M47.5 420.5h-1.5M47.5 419.63h-1.5M47.5 418.86h-1.5M47.5 433.25h-2.8M47.5 440.25h-2.8M47.5 434.42h-1.5M47.5 442.42h-1.5M47.5 435.58h-1.5M47.5 444.58h-1.5M47.5 436.75h-1.5M47.5 446.75h-1.5M47.5 437.92h-1.5M47.5 439.08h-1.5" stroke="#000" stroke-width=".95"/>
<path d="M49.3 446.75v2.8M62.7 446.75v2.8M77.8 446.75v2.8M92.9 446.75v2.8M107.8 446.75v2.8M67.25 446.75v2M69.9 446.75v2M71.79 446.75v2M73.25 446.75v2M74.45 446.75v2M75.46 446.75v2M76.34 446.75v2M77.11 446.75v2M82.35 446.75v2M85 446.75v2M86.89 446.75v2M88.35 446.75v2M89.55 446.75v2M90.56 446.75v2M91.44 446.75v2M92.21 446.75v2M97.39 446.75v2M100.01 446.75v2M101.87 446.75v2M103.31 446.75v2M104.49 446.75v2M105.49 446.75v2M106.36 446.75v2M107.12 446.75v2M52.65 446.75v2M56 446.75v2M59.35 446.75v2M48.1 446.75v2M112.29 446.75v2" stroke="#000" stroke-width=".95"/>
<text transform="translate(56.7,456.85) rotate(-45)" font-size="8.4" text-anchor="end" font-weight="normal" fill="#161616">0</text>
<text transform="translate(66.5,457.35) rotate(-45)" font-size="8.4" text-anchor="end" font-weight="normal" fill="#161616">10<tspan dy="-3.53" font-size="6.22">2</tspan></text>
<text transform="translate(80,457.35) rotate(-45)" font-size="8.4" text-anchor="end" font-weight="normal" fill="#161616">10<tspan dy="-3.53" font-size="6.22">3</tspan></text>
<text transform="translate(95.5,457.35) rotate(-45)" font-size="8.4" text-anchor="end" font-weight="normal" fill="#161616">10<tspan dy="-3.53" font-size="6.22">4</tspan></text>
<text transform="translate(110.3,457.35) rotate(-45)" font-size="8.4" text-anchor="end" font-weight="normal" fill="#161616">10<tspan dy="-3.53" font-size="6.22">5</tspan></text>
<path d="M172.1 404.6h.9M169.9 402.3h.9M159.9 403.3h.9M162.0 402.6h.9M154.8 403.2h.9M158.4 402.3h.9M164.6 404.5h.9M165.9 398.4h.9M158.8 403.1h.9M164.4 403.0h.9M160.0 404.8h.9M158.1 403.5h.9M161.8 403.8h.9M161.4 404.0h.9M167.6 401.8h.9M156.9 407.2h.9M168.0 405.9h.9M169.4 401.6h.9M157.7 404.3h.9M157.7 402.8h.9M158.7 397.9h.9M162.5 403.0h.9M162.2 407.9h.9M161.2 402.5h.9M151.8 404.9h.9M161.7 399.7h.9M147.9 400.4h.9M164.1 403.3h.9M163.1 401.7h.9M161.6 405.7h.9M167.1 402.6h.9M161.2 403.6h.9M155.7 402.1h.9M156.4 404.9h.9M162.5 405.3h.9M163.1 397.7h.9M159.8 400.2h.9M157.6 402.8h.9M156.4 404.6h.9M155.9 403.2h.9M167.5 403.3h.9M162.7 404.4h.9M157.8 409.7h.9M160.5 412.4h.9M161.3 403.3h.9M155.2 404.8h.9M160.8 404.2h.9M160.0 400.4h.9M167.1 397.6h.9M169.5 399.6h.9M155.4 402.2h.9M173.5 405.7h.9M166.2 398.7h.9M168.5 404.5h.9M155.9 399.1h.9M162.3 411.6h.9M171.9 401.7h.9M154.3 401.8h.9M165.4 405.4h.9M154.6 409.6h.9M146.1 401.5h.9M150.7 404.3h.9M166.2 404.8h.9M157.5 397.4h.9M157.1 396.3h.9M163.7 405.1h.9M161.6 401.2h.9M160.5 406.9h.9M152.8 406.6h.9M160.7 404.7h.9M160.9 402.6h.9M165.3 408.7h.9M170.2 403.8h.9M154.4 401.3h.9M157.4 401.6h.9M170.0 407.1h.9M157.8 401.6h.9M153.2 404.1h.9M166.7 403.4h.9M171.2 403.5h.9M155.3 403.9h.9M158.4 409.2h.9M167.1 407.5h.9M166.9 400.5h.9M166.3 401.6h.9M162.7 402.5h.9M160.1 402.2h.9M165.0 406.1h.9M164.9 399.9h.9M162.3 402.2h.9M169.5 397.0h.9M164.7 405.2h.9M164.3 403.8h.9M165.1 399.7h.9M159.6 408.5h.9M155.9 405.4h.9M169.0 401.2h.9M162.8 399.5h.9M150.0 399.7h.9M155.5 401.9h.9M166.8 404.9h.9M156.0 400.5h.9M148.3 407.7h.9M167.2 398.5h.9M158.6 395.4h.9M161.1 403.6h.9M157.9 407.9h.9M161.3 398.9h.9M163.0 406.2h.9M159.7 405.2h.9M162.6 401.3h.9M164.5 399.2h.9M167.9 403.8h.9M163.3 403.3h.9M162.6 405.5h.9M165.1 404.1h.9M156.0 406.7h.9M161.9 399.6h.9M167.6 401.8h.9M155.7 403.6h.9M155.7 404.1h.9M146.6 403.1h.9M150.8 404.4h.9M157.0 405.9h.9M164.8 408.6h.9M154.3 400.9h.9M178.0 405.1h.9M165.5 400.3h.9M156.7 405.1h.9M151.9 404.1h.9M156.5 405.0h.9M164.3 398.0h.9M165.5 408.1h.9M157.3 409.6h.9M163.4 400.6h.9M167.4 404.4h.9M160.2 401.7h.9M169.8 401.6h.9M166.3 402.1h.9M162.7 403.4h.9M157.9 403.2h.9M159.3 405.9h.9M163.8 400.8h.9M158.2 401.6h.9M164.2 401.2h.9M170.8 402.8h.9M172.2 400.4h.9M156.8 400.1h.9M165.2 404.4h.9M168.4 406.9h.9M157.5 399.3h.9M162.0 397.7h.9M163.4 400.8h.9M162.2 408.6h.9M154.9 403.0h.9M168.6 405.4h.9M163.8 406.1h.9M158.3 404.4h.9M159.6 399.6h.9M156.4 401.4h.9M157.0 401.5h.9M154.9 402.9h.9M152.4 398.6h.9M155.2 407.5h.9M160.5 402.8h.9M154.6 403.2h.9M160.1 396.9h.9M153.6 407.8h.9M169.9 402.9h.9M156.8 400.1h.9M159.8 404.4h.9M165.9 402.3h.9M170.3 403.4h.9M166.2 401.4h.9M165.6 404.4h.9M151.3 401.7h.9M165.5 406.5h.9M159.6 403.3h.9M161.5 400.9h.9M165.2 408.4h.9M149.7 400.5h.9M160.9 402.6h.9M170.2 406.3h.9M162.1 401.4h.9M152.0 405.6h.9M162.8 406.8h.9M145.4 402.2h.9M154.0 404.7h.9M164.1 404.1h.9M166.3 400.1h.9M171.2 400.6h.9M161.9 407.0h.9M156.0 405.5h.9M158.1 398.1h.9M155.9 402.2h.9M157.8 401.9h.9M151.0 401.0h.9M174.7 401.1h.9M159.2 403.2h.9M162.6 400.8h.9M158.2 401.6h.9M151.6 401.1h.9M152.4 400.4h.9M160.3 401.0h.9M169.3 401.8h.9M168.8 404.3h.9M160.9 403.9h.9M159.4 399.7h.9M166.3 400.8h.9M161.2 402.6h.9M155.8 399.3h.9M162.5 405.4h.9M152.5 407.1h.9M164.0 401.0h.9M160.2 394.1h.9M160.1 401.5h.9M158.6 402.3h.9M161.1 405.2h.9M159.1 399.3h.9M157.7 400.7h.9M163.3 405.5h.9M156.4 401.8h.9M161.3 399.6h.9M153.7 403.6h.9M164.7 402.4h.9M163.1 401.4h.9M163.3 401.7h.9M162.8 407.7h.9M163.4 403.4h.9M162.7 398.8h.9M161.7 402.5h.9M161.4 403.1h.9M161.0 405.1h.9M163.1 398.7h.9M166.1 402.1h.9M158.8 400.7h.9M154.1 404.1h.9M165.6 404.8h.9M159.3 402.7h.9M154.5 399.0h.9M161.1 404.7h.9M161.2 405.7h.9M164.7 401.8h.9M153.8 400.3h.9M158.7 402.9h.9M158.0 402.8h.9M162.4 404.6h.9M158.7 399.4h.9M158.4 400.1h.9M159.0 400.8h.9M155.7 407.7h.9M148.1 406.9h.9M162.9 401.9h.9M161.9 407.7h.9M158.1 402.2h.9M160.5 403.1h.9M162.2 407.1h.9M159.1 397.5h.9M163.0 401.4h.9M153.1 397.7h.9M153.1 400.8h.9M154.7 403.5h.9M159.3 403.6h.9M157.0 408.1h.9M163.3 397.8h.9M155.3 404.9h.9M165.6 401.9h.9M159.9 403.2h.9M162.2 398.0h.9M155.6 408.8h.9M162.9 406.8h.9M159.2 404.5h.9M162.6 405.2h.9M161.8 403.6h.9M157.9 404.2h.9M149.4 406.2h.9M164.3 401.3h.9M153.9 403.0h.9M165.2 404.3h.9M162.4 406.0h.9M156.7 407.2h.9M158.3 405.8h.9M166.6 402.7h.9M155.6 399.2h.9M169.3 403.9h.9M164.0 405.1h.9M160.1 404.7h.9M164.2 403.3h.9M153.9 400.5h.9M166.4 404.1h.9M158.7 403.7h.9M158.0 402.8h.9M164.2 405.2h.9M163.2 403.9h.9M164.9 405.0h.9M159.6 401.5h.9M162.0 407.2h.9M153.6 397.9h.9M159.1 403.8h.9M154.7 400.4h.9M165.2 403.5h.9M156.3 404.9h.9M161.7 401.8h.9M158.8 410.8h.9M159.5 404.7h.9M168.7 401.4h.9M151.9 400.7h.9M164.0 406.2h.9M163.3 404.2h.9M158.0 399.8h.9M156.2 402.9h.9M159.6 402.0h.9M154.2 398.5h.9M162.5 401.0h.9M166.4 404.0h.9M156.7 396.7h.9M155.7 407.0h.9M159.4 403.5h.9M159.3 404.1h.9M157.0 403.9h.9M167.8 407.1h.9M155.9 406.7h.9M165.2 403.7h.9M163.2 400.4h.9M154.9 399.4h.9M160.4 401.3h.9M165.5 403.8h.9M156.3 404.8h.9M155.0 397.4h.9M158.3 402.6h.9M168.4 403.1h.9M155.9 406.6h.9M167.4 408.9h.9M155.9 403.5h.9M165.3 407.7h.9M161.3 400.0h.9M161.3 403.0h.9M162.9 396.0h.9M166.1 410.3h.9M168.3 403.6h.9M169.4 400.1h.9M161.5 403.4h.9M151.7 404.5h.9M165.6 401.3h.9M158.9 397.5h.9M163.2 407.7h.9M150.6 408.0h.9M148.2 400.3h.9M162.5 402.4h.9M158.6 405.4h.9M166.8 407.6h.9M157.6 406.3h.9M159.2 403.1h.9M156.1 402.0h.9M160.6 401.8h.9M156.2 401.9h.9M163.1 402.0h.9M159.5 401.2h.9M159.1 406.2h.9M160.2 403.6h.9M161.0 403.6h.9M166.1 402.3h.9M161.3 398.9h.9M169.2 403.5h.9M153.7 400.9h.9M146.7 402.4h.9M156.5 399.8h.9M164.2 406.5h.9M165.5 402.8h.9M165.4 404.1h.9M158.3 399.1h.9M149.6 398.5h.9M151.9 397.8h.9M164.9 400.6h.9M146.3 402.0h.9M156.6 405.4h.9M161.2 399.5h.9M150.8 399.7h.9" stroke="#000" stroke-width=".9" stroke-opacity="0.72"/>
<path d="M176.4 413.8h.9M160.3 419.6h.9M151.5 399.3h.9M164.7 404.6h.9M161.5 410.2h.9M158.9 410.6h.9M160.0 408.6h.9M159.4 406.0h.9M154.6 409.3h.9M162.5 408.9h.9M167.7 419.3h.9M158.5 409.7h.9M156.6 416.2h.9M154.4 409.0h.9M157.9 407.5h.9M157.1 411.6h.9M161.9 403.4h.9M161.3 403.2h.9M169.6 407.2h.9M173.2 411.2h.9M157.4 409.2h.9M169.5 416.3h.9M165.3 400.9h.9M175.1 401.3h.9M163.8 396.4h.9M151.5 396.1h.9M164.2 412.4h.9M161.4 405.6h.9M167.1 413.5h.9M166.1 412.7h.9M167.2 400.7h.9M174.8 414.9h.9M163.0 401.8h.9M169.2 405.3h.9M171.0 400.6h.9M158.1 399.1h.9M154.2 403.1h.9M154.7 409.5h.9M161.9 416.8h.9M152.9 408.5h.9M158.4 414.2h.9M169.2 405.8h.9M154.3 403.7h.9M165.8 403.2h.9M169.9 405.8h.9M159.7 408.8h.9M162.0 399.0h.9M173.3 409.6h.9M159.2 417.5h.9M177.9 411.1h.9M165.1 402.6h.9M150.4 399.4h.9M159.9 413.7h.9M159.0 404.6h.9M166.8 401.5h.9M154.8 404.6h.9M167.6 406.0h.9M157.1 407.4h.9M158.7 398.6h.9M171.6 403.8h.9M171.6 402.4h.9M159.4 398.0h.9M163.8 395.7h.9M152.7 415.1h.9M155.4 398.9h.9M178.7 418.2h.9M166.2 400.5h.9M167.8 403.5h.9M172.1 416.9h.9M165.7 399.2h.9M165.0 408.0h.9M162.3 416.8h.9M155.9 404.1h.9M150.4 411.0h.9M149.4 406.1h.9M164.6 409.6h.9M151.6 411.2h.9M163.2 411.4h.9M161.3 403.5h.9M159.9 407.1h.9M149.6 410.9h.9M156.3 403.5h.9M170.1 396.1h.9M163.2 413.4h.9M148.5 398.4h.9M176.6 411.9h.9M161.2 402.1h.9M163.0 413.5h.9M177.4 403.6h.9M160.7 416.2h.9M160.8 413.6h.9M150.3 412.9h.9M147.9 408.4h.9M166.6 408.3h.9M151.5 415.0h.9M156.5 409.2h.9M158.3 415.7h.9M157.0 406.0h.9M166.2 397.3h.9M174.1 399.4h.9M177.9 424.0h.9M156.6 415.2h.9M165.1 412.2h.9M162.6 412.8h.9M172.9 409.3h.9M161.0 408.5h.9M163.0 405.2h.9M170.0 402.9h.9M168.9 406.1h.9M162.4 404.1h.9M166.5 413.3h.9M160.4 390.1h.9M167.2 407.4h.9M156.5 410.7h.9M156.4 398.2h.9M154.2 420.6h.9M157.1 417.1h.9M160.9 415.6h.9M161.7 420.1h.9M157.0 419.6h.9M150.7 406.7h.9M165.1 408.6h.9M154.3 407.9h.9M166.7 407.9h.9M161.6 406.2h.9M156.8 406.8h.9M168.8 412.3h.9M153.2 400.2h.9M161.9 412.5h.9M168.0 410.6h.9M151.8 405.9h.9M159.1 414.2h.9M150.9 400.9h.9M159.5 412.9h.9M164.9 414.6h.9M161.0 406.3h.9M156.4 407.7h.9M165.9 406.1h.9M154.7 399.4h.9M166.7 392.1h.9M167.3 412.0h.9M158.1 412.1h.9M164.9 403.4h.9M155.2 410.6h.9M170.7 408.8h.9M162.3 404.5h.9M157.3 409.2h.9M165.8 406.1h.9M165.4 404.5h.9M159.8 406.4h.9M164.6 419.7h.9M160.0 409.6h.9M159.1 409.7h.9M156.3 416.6h.9M157.9 398.9h.9M173.7 414.0h.9M165.7 422.6h.9M175.6 414.6h.9M160.5 412.2h.9M160.4 416.0h.9M166.2 415.3h.9M158.1 414.8h.9M166.6 405.9h.9M160.1 408.6h.9M160.9 404.1h.9M155.1 404.5h.9M163.3 418.0h.9M159.1 404.1h.9M170.0 403.0h.9M157.7 409.4h.9M164.0 413.3h.9M159.0 424.1h.9M161.3 403.9h.9M160.2 403.5h.9M158.7 405.5h.9M152.3 411.6h.9M170.7 401.6h.9M156.7 412.1h.9M162.4 404.9h.9M152.4 409.9h.9M162.0 398.0h.9M166.6 424.2h.9M158.7 403.5h.9M163.2 408.9h.9M172.2 409.8h.9M175.5 406.9h.9M151.5 400.5h.9M155.0 400.1h.9M152.0 410.0h.9M170.5 402.4h.9M167.7 405.6h.9M161.4 405.4h.9M176.3 411.6h.9M150.4 403.0h.9M153.4 396.3h.9M156.6 421.1h.9M162.5 415.7h.9M170.5 401.2h.9M154.4 401.4h.9M162.3 400.0h.9M152.5 414.9h.9M161.6 415.5h.9M158.1 414.2h.9M163.3 400.6h.9M160.2 407.7h.9M171.2 414.7h.9M159.4 413.7h.9M154.5 406.3h.9M166.0 409.2h.9M172.7 410.4h.9M164.3 406.3h.9M162.8 416.5h.9M163.8 413.4h.9M158.1 412.2h.9M165.4 405.9h.9M173.6 413.8h.9M148.7 423.6h.9M171.8 408.3h.9M167.1 400.7h.9M153.5 402.4h.9M158.7 411.1h.9M159.2 393.9h.9M175.6 409.6h.9M152.7 411.3h.9M158.7 412.2h.9M157.6 401.0h.9M148.4 398.8h.9M155.2 416.0h.9M159.3 398.9h.9M159.6 408.1h.9" stroke="#000" stroke-width=".9" stroke-opacity="0.65"/>
<path d="M194.3 395.1h.9M192.5 409.4h.9M189.0 403.7h.9M193.5 412.5h.9M191.5 403.0h.9M193.2 406.4h.9M193.6 397.7h.9M189.1 402.2h.9M187.2 402.7h.9M189.9 406.5h.9M188.6 409.1h.9M193.3 410.9h.9M190.8 403.6h.9M195.6 399.7h.9M188.7 394.7h.9M193.5 408.1h.9M195.2 405.5h.9M185.9 408.0h.9M190.2 401.8h.9M190.4 406.6h.9M192.8 407.4h.9M189.9 407.7h.9M188.5 405.7h.9M194.5 406.3h.9M187.9 401.9h.9M189.6 401.0h.9M192.7 410.3h.9M193.0 400.1h.9M192.2 402.2h.9M189.9 410.7h.9M189.5 410.6h.9M190.0 402.9h.9M190.7 414.0h.9M192.4 401.9h.9M191.4 399.3h.9M189.3 397.5h.9M190.9 405.1h.9M186.4 401.8h.9M189.1 405.1h.9M188.5 403.0h.9M190.6 400.2h.9M190.9 397.5h.9M190.2 400.5h.9M194.4 406.2h.9M190.1 404.1h.9M188.2 410.5h.9M189.0 407.5h.9M193.0 414.0h.9M187.1 406.8h.9M186.6 399.2h.9M191.3 400.4h.9M191.4 406.8h.9M191.8 400.4h.9M190.9 414.3h.9M188.3 398.9h.9M189.7 407.6h.9M190.4 395.2h.9M188.9 406.7h.9M187.4 402.8h.9M191.4 403.0h.9M187.5 404.0h.9M187.8 407.3h.9M189.1 405.3h.9M191.5 405.4h.9M190.0 394.2h.9M191.0 412.6h.9M191.5 400.8h.9M190.4 412.2h.9M196.8 399.4h.9M197.7 398.9h.9M191.8 402.3h.9M190.8 410.3h.9M187.7 406.8h.9M195.7 402.2h.9M193.8 408.8h.9M194.0 403.6h.9M191.0 397.2h.9M184.6 400.8h.9M191.1 408.5h.9M193.5 402.5h.9M186.0 406.4h.9M191.6 398.5h.9M195.9 405.0h.9M186.9 400.3h.9M192.5 404.0h.9M186.7 410.6h.9M190.0 414.5h.9M191.5 411.7h.9M186.7 406.0h.9M191.5 400.2h.9M192.3 401.7h.9M190.1 398.9h.9M188.4 403.9h.9M191.9 409.4h.9M189.7 403.3h.9M188.5 401.3h.9M188.5 404.1h.9M188.8 402.9h.9M194.0 408.5h.9M189.1 401.7h.9M191.2 402.4h.9M188.5 394.1h.9M187.5 407.2h.9M188.6 406.1h.9M188.8 395.3h.9M193.8 410.2h.9M192.6 405.0h.9M191.4 402.8h.9M191.8 395.5h.9M188.3 407.2h.9M189.2 403.8h.9M193.4 419.0h.9M189.6 400.7h.9M194.2 396.1h.9M188.0 407.0h.9M187.2 398.7h.9M186.0 402.2h.9M192.1 408.7h.9M191.2 401.3h.9M196.4 397.8h.9M189.9 395.7h.9M191.0 396.9h.9M193.3 407.8h.9M196.4 404.6h.9M191.9 417.6h.9M183.8 408.9h.9M192.0 399.3h.9M191.4 400.9h.9M189.1 404.2h.9M190.3 404.5h.9M188.2 402.2h.9M191.1 398.0h.9M191.4 404.7h.9M189.6 400.7h.9M190.6 403.2h.9M189.8 405.0h.9M189.8 408.3h.9M194.4 401.7h.9M189.8 404.4h.9M194.2 410.9h.9M189.5 400.8h.9M186.2 403.0h.9M190.4 393.7h.9M193.1 399.7h.9M188.5 398.8h.9M188.1 398.2h.9M188.4 399.2h.9M190.3 405.3h.9M187.1 408.8h.9M186.6 408.1h.9M192.7 400.5h.9M185.3 404.1h.9M187.0 400.9h.9M192.0 410.3h.9M189.2 403.1h.9M190.8 408.5h.9M191.4 409.8h.9M191.7 413.5h.9M188.6 397.8h.9M189.7 407.8h.9M194.7 405.7h.9M188.3 407.7h.9M192.5 408.0h.9M192.0 410.5h.9M192.4 398.6h.9M190.1 393.6h.9M188.8 403.6h.9M191.9 406.4h.9M192.9 402.9h.9M188.2 400.6h.9M193.2 411.7h.9M190.5 404.5h.9M185.9 402.9h.9M192.7 403.2h.9M188.5 405.9h.9M189.0 401.4h.9M188.7 399.6h.9M194.2 405.3h.9M187.0 406.4h.9M192.0 406.7h.9M188.6 405.7h.9M187.5 414.5h.9M189.9 403.0h.9M184.4 400.0h.9M190.4 410.2h.9M192.1 397.5h.9M192.5 404.5h.9M191.2 410.2h.9M192.7 403.4h.9M187.9 409.8h.9M189.5 401.7h.9M188.2 408.8h.9M191.5 399.7h.9M192.2 404.8h.9M190.5 400.4h.9M193.4 405.3h.9M187.9 400.4h.9M188.8 401.1h.9M189.1 394.6h.9M189.7 411.3h.9M193.7 400.3h.9M187.7 404.0h.9M190.3 402.0h.9M193.6 401.5h.9M186.1 392.1h.9M190.0 405.5h.9M195.9 406.2h.9M187.2 407.9h.9M193.0 411.2h.9M192.9 398.2h.9M193.4 418.3h.9M192.0 397.5h.9M191.5 404.7h.9M190.6 395.6h.9M189.7 406.0h.9M189.9 402.3h.9M192.6 404.6h.9M190.9 403.6h.9M189.3 402.1h.9M185.9 406.3h.9M190.6 417.5h.9M187.8 407.2h.9M196.7 407.1h.9M190.9 402.5h.9M187.7 400.2h.9M192.1 401.2h.9M187.6 401.9h.9M189.0 402.9h.9M194.1 402.4h.9M185.6 405.4h.9M187.5 399.3h.9M191.0 401.3h.9M191.1 400.6h.9M187.0 394.5h.9M192.8 398.1h.9M183.3 392.7h.9M186.6 402.6h.9M196.0 409.1h.9M187.4 403.5h.9M191.2 404.1h.9M187.3 400.1h.9M192.2 402.3h.9M194.6 399.1h.9M190.3 401.1h.9M192.4 405.0h.9M192.3 404.5h.9M188.1 404.9h.9M191.5 413.9h.9M194.1 400.7h.9M190.0 410.4h.9M189.8 400.9h.9M190.1 401.9h.9M189.8 410.1h.9M193.6 398.8h.9M188.9 399.7h.9M192.8 399.8h.9M193.2 405.4h.9M192.4 413.0h.9M192.3 407.0h.9M185.5 398.5h.9M191.6 406.5h.9M192.3 401.7h.9M189.3 396.2h.9M193.0 411.4h.9M195.1 406.5h.9M188.6 408.8h.9M190.7 417.9h.9M190.0 410.9h.9M189.0 403.7h.9M190.8 400.3h.9M189.8 400.1h.9M190.7 398.7h.9M185.9 410.1h.9M189.9 406.2h.9M195.0 403.8h.9M191.7 412.3h.9M190.2 396.2h.9M190.5 401.3h.9M190.6 406.7h.9M191.5 414.6h.9M190.9 412.0h.9M192.5 415.9h.9M192.4 406.1h.9M193.6 401.6h.9M193.9 404.1h.9M190.7 395.8h.9M191.3 399.6h.9M196.9 404.4h.9M185.2 416.6h.9M189.5 400.6h.9M190.9 401.4h.9M193.9 404.4h.9M193.0 403.6h.9M192.3 407.8h.9M189.4 406.7h.9M193.3 405.8h.9M189.8 410.2h.9M195.5 397.5h.9M195.3 403.8h.9M190.3 410.1h.9M197.7 403.9h.9M186.3 400.7h.9M190.6 407.2h.9M194.0 406.1h.9M187.2 411.8h.9M184.6 408.7h.9M187.8 406.1h.9M194.8 399.9h.9M190.6 406.6h.9M189.1 404.1h.9M190.4 393.8h.9M191.7 402.0h.9M192.8 408.7h.9M195.8 404.6h.9M193.3 406.9h.9M189.5 402.6h.9M189.5 398.2h.9M189.8 407.5h.9M192.1 405.4h.9M188.5 406.7h.9M188.2 404.9h.9M190.5 405.8h.9M189.4 405.4h.9M190.5 408.2h.9M186.2 401.5h.9M192.4 407.8h.9M194.9 398.0h.9M187.7 409.4h.9M183.8 411.0h.9M197.0 405.1h.9M190.7 414.6h.9M190.4 406.8h.9M191.7 410.3h.9M193.7 404.1h.9M191.1 401.6h.9M186.9 410.1h.9M187.3 398.9h.9M189.5 406.1h.9M188.0 401.4h.9M191.2 396.2h.9M187.9 408.2h.9M187.2 411.1h.9M188.1 406.7h.9M194.4 402.4h.9M194.6 397.3h.9M188.0 411.8h.9M186.0 409.4h.9M194.4 407.0h.9M189.1 407.1h.9M187.3 403.0h.9M185.9 396.5h.9M186.6 395.1h.9M190.0 413.0h.9M191.8 402.5h.9M190.6 402.7h.9M190.4 405.1h.9M190.7 412.2h.9M189.4 400.2h.9M195.3 408.3h.9M190.0 405.5h.9M193.3 400.2h.9M191.4 403.3h.9M194.6 403.0h.9M188.5 403.2h.9M189.5 402.0h.9M192.3 405.8h.9M190.7 401.5h.9M188.0 403.1h.9M192.4 401.6h.9M189.1 408.9h.9M191.3 398.7h.9M194.4 404.8h.9M194.0 405.5h.9M190.0 400.9h.9M190.2 409.0h.9M188.4 401.5h.9M188.6 407.5h.9M191.6 405.3h.9M190.3 407.4h.9M193.5 412.4h.9M189.2 403.6h.9M187.4 404.8h.9M193.6 398.3h.9M190.9 406.8h.9M190.5 414.8h.9M189.6 407.0h.9M190.2 397.7h.9M187.4 411.8h.9M194.1 397.4h.9M191.0 396.6h.9M191.2 410.7h.9M190.3 409.5h.9M189.6 405.0h.9M193.9 399.2h.9M188.9 410.3h.9M190.0 401.2h.9M190.9 393.3h.9M198.4 394.6h.9M187.5 410.1h.9M190.4 402.3h.9M189.5 398.9h.9M186.0 411.4h.9M188.3 402.2h.9M191.1 406.7h.9M190.3 397.1h.9M190.9 401.6h.9M187.0 399.0h.9M194.3 402.3h.9M191.2 401.6h.9M189.9 409.3h.9M188.2 403.6h.9M187.4 404.5h.9M190.0 405.4h.9M190.5 399.1h.9M190.9 405.7h.9M186.6 408.3h.9M193.1 400.1h.9M192.2 412.5h.9M188.2 400.9h.9M188.0 403.7h.9M192.2 414.6h.9M185.8 403.3h.9M188.4 401.1h.9M185.3 410.6h.9M188.8 404.2h.9M192.4 407.0h.9M190.0 404.6h.9M190.0 396.2h.9M188.1 405.0h.9M186.4 398.1h.9M193.1 404.3h.9M196.9 406.5h.9M190.4 401.5h.9M191.9 402.7h.9M190.1 402.4h.9M194.4 399.4h.9M191.0 402.7h.9M190.7 408.9h.9M194.8 400.0h.9M192.9 398.7h.9M187.8 403.7h.9M192.0 405.9h.9M194.0 399.8h.9M193.5 402.5h.9M187.0 401.9h.9M189.4 405.4h.9M185.0 407.7h.9M186.2 405.8h.9M190.7 411.0h.9M190.1 404.4h.9M188.9 405.6h.9M189.9 409.4h.9M196.6 402.6h.9M188.5 397.6h.9M192.2 399.6h.9M192.1 407.8h.9M187.2 399.0h.9M192.7 396.4h.9M189.4 394.9h.9M193.0 407.8h.9M192.1 408.1h.9M190.8 407.3h.9M187.7 410.3h.9M187.5 410.9h.9M194.0 408.4h.9M189.3 406.1h.9M191.7 410.8h.9M185.0 405.5h.9M190.9 403.8h.9M192.9 416.4h.9M188.8 402.1h.9M192.2 409.4h.9M190.6 403.5h.9M191.8 402.3h.9M188.8 403.2h.9M188.1 404.0h.9M193.4 416.7h.9M192.5 399.8h.9M188.7 403.2h.9M190.2 408.9h.9M190.3 408.1h.9M192.3 401.5h.9M188.9 410.6h.9M193.2 406.1h.9M189.8 408.4h.9M189.8 409.3h.9M194.4 400.2h.9M193.3 405.9h.9M191.4 406.6h.9M189.1 409.8h.9M190.1 406.3h.9M190.0 399.3h.9M191.1 402.5h.9M190.9 405.0h.9M192.3 401.6h.9M185.8 414.7h.9M189.7 401.9h.9M191.8 396.6h.9M191.5 407.9h.9M191.8 401.4h.9M189.0 405.6h.9M191.4 407.2h.9M190.0 409.1h.9M191.3 403.0h.9M189.0 405.1h.9M193.0 398.9h.9M193.7 402.5h.9M190.0 398.9h.9M189.9 409.9h.9M192.0 401.7h.9M190.2 403.0h.9M188.6 400.3h.9M191.7 403.7h.9M189.5 402.1h.9M189.7 405.8h.9M190.1 404.8h.9M191.8 406.4h.9M189.8 407.2h.9M192.5 402.7h.9M191.4 402.7h.9M192.4 399.6h.9M189.8 401.0h.9M190.1 400.9h.9M189.8 398.8h.9M193.7 409.4h.9M189.7 408.5h.9M192.6 402.6h.9M196.5 401.9h.9M194.6 403.9h.9M190.0 414.1h.9M188.3 400.9h.9M191.0 407.7h.9M188.7 409.7h.9M189.3 406.7h.9M187.0 404.3h.9M189.3 403.5h.9M188.3 401.6h.9M192.7 408.9h.9M189.8 408.6h.9M191.7 408.0h.9M189.8 403.5h.9M186.7 401.4h.9M194.6 399.1h.9M189.7 411.4h.9M193.3 404.7h.9M189.3 405.1h.9M187.5 403.2h.9M191.5 404.9h.9M189.9 402.7h.9M189.8 397.1h.9M189.9 402.6h.9M190.2 397.4h.9M191.9 403.8h.9M188.0 406.7h.9M191.1 404.3h.9M191.1 406.3h.9M191.9 396.4h.9M187.7 415.1h.9M194.7 405.2h.9M190.9 405.0h.9M189.4 411.0h.9M190.1 398.8h.9M188.0 406.0h.9M189.3 406.2h.9M189.8 405.9h.9M192.7 404.4h.9M188.9 407.8h.9M189.8 401.1h.9M190.0 402.5h.9M186.1 408.2h.9M187.8 408.4h.9M191.1 400.0h.9M191.7 409.0h.9M193.9 404.0h.9M195.3 410.2h.9M189.0 411.6h.9M191.3 398.1h.9M190.0 412.0h.9M189.7 402.5h.9M194.5 410.9h.9M192.1 402.8h.9M191.9 408.9h.9M188.0 400.7h.9M183.9 409.8h.9M188.4 410.8h.9M190.2 406.4h.9M196.4 397.9h.9M191.7 399.8h.9M190.7 408.0h.9M187.7 408.8h.9M191.6 412.6h.9M186.4 406.9h.9M189.7 392.6h.9M189.3 401.2h.9M190.7 403.3h.9M189.3 402.9h.9M191.1 401.1h.9M190.7 392.5h.9M190.6 401.0h.9M193.4 403.4h.9M187.2 399.4h.9M188.0 405.5h.9M186.4 405.8h.9M193.4 399.0h.9M190.8 401.7h.9M193.4 404.3h.9M191.1 399.9h.9M190.8 411.8h.9M191.7 408.6h.9M189.9 401.8h.9M188.8 392.6h.9M191.1 403.1h.9M190.4 410.8h.9M191.7 411.6h.9M189.6 404.6h.9M189.4 400.8h.9M189.5 401.8h.9M189.1 406.1h.9M190.6 409.9h.9M194.4 402.4h.9M188.6 400.6h.9M185.7 402.3h.9M186.8 404.0h.9M193.5 399.7h.9M194.2 410.8h.9M188.9 412.7h.9M189.4 407.7h.9M188.5 400.8h.9M192.0 403.6h.9M190.5 400.2h.9M194.8 408.8h.9M189.6 397.4h.9M190.6 411.1h.9M189.2 406.1h.9M194.7 397.6h.9M188.5 403.4h.9M189.8 400.5h.9M191.2 402.1h.9M188.3 404.0h.9M191.5 396.6h.9M195.6 409.8h.9M189.6 402.1h.9M192.2 414.3h.9M186.8 412.5h.9M192.1 404.3h.9M189.1 397.5h.9M189.5 405.5h.9M187.1 415.1h.9M189.3 413.2h.9M188.3 402.4h.9" stroke="#000" stroke-width=".9" stroke-opacity="1.00"/>
<path d="M192.0 409.0h.9M188.7 410.6h.9M187.8 416.2h.9M190.6 408.0h.9M189.0 417.7h.9M192.1 416.0h.9M189.3 416.7h.9M187.6 414.7h.9M192.7 416.6h.9M186.6 414.7h.9M192.2 409.0h.9M190.6 413.1h.9M189.0 415.0h.9M186.6 413.8h.9M188.8 426.0h.9M187.6 416.8h.9M191.4 415.9h.9M190.4 414.5h.9M189.8 411.1h.9M189.3 415.7h.9M190.2 415.3h.9M190.1 410.6h.9M187.0 418.4h.9M191.0 416.0h.9M190.4 417.5h.9M189.8 421.0h.9M194.5 413.2h.9M187.3 410.6h.9M186.4 415.3h.9M190.3 422.4h.9M190.6 420.0h.9M191.3 412.7h.9M193.6 407.5h.9M192.9 418.8h.9M188.8 412.1h.9M190.7 411.6h.9M191.1 415.9h.9M192.1 413.2h.9M193.3 415.7h.9M189.8 414.5h.9M187.1 418.4h.9M190.3 414.0h.9M188.5 415.2h.9M190.6 415.9h.9M193.7 418.0h.9M186.2 421.0h.9M187.1 415.9h.9M189.8 408.7h.9M193.2 409.2h.9M184.3 417.3h.9M192.2 418.7h.9M187.0 409.4h.9M194.6 402.9h.9M187.6 415.0h.9M189.4 411.7h.9M188.0 422.1h.9M189.0 419.8h.9M191.9 419.0h.9M192.0 420.8h.9M190.7 411.0h.9M188.0 419.0h.9M188.9 416.7h.9M191.3 414.3h.9M188.7 414.8h.9M187.8 418.3h.9M189.0 420.3h.9M193.2 416.4h.9M190.2 419.0h.9M188.8 419.6h.9M191.3 414.9h.9M190.2 418.5h.9M192.8 418.9h.9M194.2 419.4h.9M188.2 415.1h.9M189.9 412.4h.9M185.5 409.5h.9M191.9 408.5h.9M192.8 407.2h.9M191.5 412.9h.9M192.6 415.1h.9M186.8 415.8h.9M193.3 411.4h.9M191.8 415.5h.9M190.2 405.3h.9M188.2 411.1h.9M193.6 414.4h.9M193.0 419.3h.9M189.3 413.4h.9M194.3 410.7h.9M188.4 422.9h.9M191.7 413.5h.9M190.5 410.1h.9M187.9 420.6h.9M190.7 412.7h.9M186.4 413.5h.9M190.6 409.5h.9M192.0 411.4h.9M193.6 419.1h.9M196.3 413.0h.9M187.6 408.1h.9M193.9 416.7h.9M190.3 416.8h.9M192.9 418.1h.9M190.3 411.0h.9M189.2 411.5h.9M186.5 414.3h.9M185.0 414.4h.9M191.1 422.6h.9M189.5 409.4h.9M185.2 412.1h.9M189.2 411.0h.9M189.6 411.2h.9M191.6 413.4h.9M193.9 411.9h.9M191.9 414.4h.9M189.6 419.8h.9M192.0 421.5h.9M188.9 415.4h.9M189.9 417.8h.9M187.4 407.9h.9" stroke="#000" stroke-width=".9" stroke-opacity="0.80"/>
<path d="M180.1 422.9h.9M144.5 423.3h.9M169.8 422.5h.9M164.5 399.0h.9M179.9 426.3h.9M188.2 411.2h.9M152.6 438.0h.9M174.9 436.0h.9M171.4 433.5h.9M172.6 427.5h.9M158.7 432.8h.9M169.2 433.8h.9M189.5 433.1h.9M171.8 421.0h.9M178.9 415.8h.9M181.1 418.8h.9M168.5 422.1h.9M194.0 432.1h.9M166.0 423.7h.9M169.8 426.3h.9M180.9 421.5h.9M184.3 425.7h.9M179.2 423.2h.9M167.7 444.4h.9M184.8 413.6h.9M185.0 411.7h.9M175.5 415.8h.9M159.5 419.8h.9M175.7 424.6h.9M162.2 412.9h.9M168.2 425.7h.9M163.3 427.1h.9M191.0 410.7h.9M190.9 430.0h.9M174.1 427.4h.9M171.4 428.7h.9M169.8 424.8h.9M164.9 426.8h.9M179.1 421.3h.9M171.5 443.0h.9M159.9 420.9h.9M171.6 425.7h.9M184.9 409.1h.9M174.3 433.9h.9M157.5 413.5h.9M168.0 412.9h.9M173.0 429.7h.9M162.5 413.3h.9M174.3 411.6h.9M183.5 409.3h.9M195.7 419.1h.9M164.8 414.4h.9M165.7 439.0h.9M178.4 441.5h.9M156.1 439.8h.9M177.3 422.1h.9M153.2 428.6h.9M175.4 411.3h.9M168.8 426.7h.9M176.1 437.8h.9M181.6 406.9h.9M178.2 433.2h.9M188.8 430.8h.9M186.1 417.5h.9M171.4 423.3h.9M173.9 401.9h.9M186.0 409.4h.9M189.7 423.3h.9M184.9 434.0h.9M196.6 426.5h.9M160.2 441.8h.9M179.3 422.3h.9M177.5 417.9h.9M170.0 423.2h.9M175.0 426.4h.9M171.9 435.9h.9M170.8 439.9h.9M172.8 421.2h.9M167.2 424.0h.9M171.9 405.4h.9M175.0 418.1h.9M170.5 432.4h.9M186.2 418.0h.9M155.9 415.2h.9M171.1 420.8h.9M169.2 431.9h.9M186.5 426.4h.9M155.2 415.8h.9M206.6 407.7h.9M158.4 424.7h.9M179.7 424.0h.9M175.2 428.3h.9M180.0 441.2h.9M188.0 428.2h.9M170.8 416.9h.9M167.1 425.4h.9M187.8 422.6h.9M174.8 443.0h.9M174.8 431.1h.9M176.0 424.0h.9M155.6 421.3h.9M181.5 421.0h.9M193.3 419.5h.9M183.2 419.3h.9M152.0 419.1h.9M175.6 406.6h.9M194.5 428.5h.9M158.0 424.7h.9M170.2 431.8h.9M159.2 402.6h.9M177.7 420.4h.9M202.3 416.4h.9M174.7 426.3h.9M186.6 417.6h.9M184.9 425.9h.9M174.1 417.6h.9M194.5 435.6h.9M150.0 423.7h.9M167.5 434.2h.9M143.9 422.5h.9M193.2 417.5h.9M146.7 424.8h.9M182.8 421.8h.9M167.7 424.7h.9M179.4 437.4h.9M156.9 434.6h.9M187.4 428.4h.9M158.3 440.0h.9M164.1 433.0h.9M162.3 423.7h.9M154.8 424.2h.9M172.8 438.9h.9M161.7 423.0h.9M159.2 406.2h.9M180.4 430.3h.9M157.3 431.7h.9M190.4 420.1h.9M164.5 423.2h.9M187.1 434.0h.9M187.9 421.5h.9M166.1 411.7h.9M161.3 441.7h.9M143.8 422.1h.9M169.7 427.4h.9M171.3 436.4h.9M165.3 433.4h.9M177.5 431.6h.9M178.9 428.9h.9M193.4 433.2h.9M194.9 413.5h.9M181.8 428.7h.9M151.2 417.7h.9M166.7 422.7h.9M169.1 422.8h.9M170.8 421.4h.9M172.9 404.5h.9M173.9 424.0h.9M172.3 406.8h.9M173.4 422.5h.9M182.5 430.5h.9M159.5 412.0h.9M169.8 414.3h.9M168.8 425.5h.9M185.7 418.3h.9M171.0 413.6h.9M166.8 407.9h.9M169.8 424.3h.9M203.5 424.3h.9M176.1 422.0h.9M166.0 429.2h.9M173.6 426.9h.9M175.7 424.2h.9M173.3 426.9h.9M191.1 431.7h.9M195.9 408.3h.9M173.7 428.6h.9M174.5 416.7h.9M171.4 416.4h.9M176.8 428.3h.9M196.5 433.3h.9M197.9 423.0h.9M179.0 431.2h.9M195.4 430.6h.9M181.0 424.8h.9M180.7 427.5h.9M182.7 417.5h.9M191.2 434.5h.9M179.9 432.8h.9M175.0 423.6h.9M182.2 437.9h.9M169.1 425.8h.9M179.9 419.4h.9M193.4 427.5h.9M185.8 421.4h.9M179.9 421.2h.9M165.4 436.8h.9M176.7 428.2h.9M188.1 401.3h.9M171.9 432.1h.9M176.1 430.0h.9M157.6 408.9h.9M205.5 410.2h.9M175.2 431.0h.9M184.7 440.9h.9M166.0 427.3h.9M183.7 428.6h.9M175.5 423.4h.9M145.3 416.0h.9M174.8 413.6h.9M184.5 408.4h.9M173.3 431.7h.9M181.5 423.6h.9M165.6 424.6h.9M165.8 416.9h.9M183.8 419.7h.9M149.3 421.8h.9M190.1 423.0h.9M173.1 423.1h.9M186.0 406.1h.9M186.9 428.5h.9M176.4 410.0h.9M165.3 423.2h.9M181.4 419.4h.9M175.7 426.5h.9M147.4 417.1h.9M171.4 431.9h.9M163.4 409.9h.9M189.8 428.1h.9M181.9 412.7h.9M177.3 428.0h.9M158.7 419.0h.9M152.9 431.1h.9M188.8 430.3h.9M184.5 421.5h.9M169.5 426.0h.9M158.4 434.0h.9M163.5 431.0h.9M175.8 423.0h.9M193.1 427.7h.9M181.1 419.6h.9M169.4 427.8h.9M168.5 427.9h.9M176.8 411.2h.9M187.7 420.2h.9M191.7 428.2h.9M183.8 406.7h.9M165.6 413.2h.9M178.1 411.1h.9M164.0 418.7h.9M189.1 414.2h.9M178.5 431.7h.9M162.6 417.6h.9M195.9 421.4h.9M183.3 417.0h.9M178.4 418.5h.9M197.9 413.2h.9M152.6 425.1h.9M158.5 442.3h.9M161.5 418.5h.9M174.7 413.5h.9M158.9 420.3h.9M194.5 428.4h.9M168.5 424.0h.9M165.5 413.9h.9M180.1 431.1h.9M187.7 421.1h.9M178.2 435.4h.9M178.6 432.3h.9M181.0 418.4h.9M162.8 414.1h.9M163.0 435.0h.9M179.7 421.9h.9M165.6 413.0h.9M191.5 410.7h.9M195.4 425.9h.9M177.4 435.0h.9M159.6 442.2h.9M155.8 401.2h.9M191.9 445.2h.9M191.2 425.3h.9M189.9 419.4h.9M191.0 422.3h.9M182.5 428.5h.9M168.8 414.7h.9M167.3 429.0h.9M185.6 414.4h.9M172.2 434.8h.9M164.3 423.3h.9M174.6 434.6h.9M153.5 424.6h.9M168.4 431.8h.9M163.6 431.4h.9M165.4 431.0h.9M168.5 424.2h.9M167.6 424.4h.9M180.0 434.4h.9M181.2 418.9h.9M164.1 428.8h.9M172.9 434.9h.9M165.0 422.3h.9M157.8 410.5h.9M188.1 425.4h.9M171.4 428.7h.9M149.7 436.9h.9M203.2 408.7h.9M174.6 404.5h.9M180.1 428.3h.9M144.5 426.8h.9M185.2 419.2h.9M185.5 420.9h.9M154.3 426.9h.9M168.8 431.0h.9M155.5 440.3h.9M175.4 420.4h.9M172.9 417.6h.9M166.0 414.6h.9M165.7 411.5h.9M188.1 414.1h.9M163.9 433.6h.9M171.7 414.3h.9M186.9 423.6h.9M170.3 404.1h.9M178.0 430.3h.9M156.6 438.3h.9M184.5 436.8h.9M166.6 424.0h.9M178.6 428.9h.9M163.3 439.2h.9M169.6 416.1h.9M174.5 416.3h.9M160.1 425.4h.9M204.6 433.5h.9M146.2 411.9h.9M170.1 426.9h.9M183.4 431.2h.9M180.9 429.4h.9M175.3 417.8h.9M183.3 407.4h.9M168.8 422.4h.9M161.2 431.1h.9M165.5 437.7h.9M164.1 427.4h.9M172.0 435.2h.9M156.1 435.8h.9M199.5 415.9h.9M181.5 420.8h.9M177.2 401.1h.9M157.8 420.6h.9M176.0 416.5h.9M189.7 426.0h.9M168.2 425.2h.9M172.4 423.7h.9M197.6 432.5h.9M186.9 433.4h.9M149.1 425.3h.9M179.1 421.5h.9M155.0 430.5h.9M185.6 432.6h.9M176.3 436.6h.9M184.4 416.6h.9M183.1 430.2h.9M176.8 428.6h.9M194.4 423.0h.9M171.1 420.1h.9M184.5 431.6h.9M172.6 409.7h.9M161.1 422.0h.9M189.9 424.8h.9M155.7 419.5h.9M184.2 426.8h.9M188.9 416.5h.9M174.3 426.6h.9M173.5 431.2h.9M170.1 433.5h.9M191.6 417.0h.9M158.3 441.2h.9M155.7 429.9h.9M172.6 400.7h.9M165.1 422.6h.9M188.4 414.0h.9M173.5 427.7h.9M181.5 410.1h.9M178.1 430.5h.9M150.8 415.4h.9M180.8 432.6h.9M165.1 436.8h.9M161.9 423.7h.9M168.5 432.1h.9M192.4 426.0h.9M197.4 432.6h.9M154.5 415.1h.9M151.6 435.2h.9M158.9 424.6h.9M205.8 414.0h.9M182.1 417.0h.9M148.4 415.0h.9M164.1 415.9h.9M181.0 428.4h.9M193.3 410.8h.9M178.5 427.0h.9M178.5 409.4h.9M172.1 412.8h.9M160.1 433.1h.9M167.1 421.1h.9M193.5 412.7h.9M164.0 429.2h.9M180.0 422.7h.9M189.3 412.9h.9M148.8 420.3h.9M173.4 410.0h.9M170.3 421.5h.9M181.8 428.8h.9M157.9 414.3h.9M191.8 424.3h.9M175.1 409.5h.9M162.1 424.3h.9M182.2 421.2h.9M172.0 436.6h.9M176.0 420.4h.9M176.5 422.2h.9M172.2 399.9h.9M176.2 428.5h.9M175.7 406.1h.9M170.6 415.1h.9M179.3 436.4h.9M174.2 428.7h.9M153.5 412.8h.9M165.2 417.7h.9M168.4 430.0h.9M177.3 407.2h.9M161.6 408.5h.9M170.4 438.3h.9M164.5 425.1h.9M151.7 424.3h.9M181.0 423.6h.9M179.9 406.6h.9M178.7 426.4h.9M160.8 427.6h.9M188.9 423.5h.9M176.6 417.1h.9M173.0 421.7h.9M164.1 428.0h.9" stroke="#000" stroke-width=".9" stroke-opacity="0.70"/>
<path d="M177.1 381.25L177.1 447" stroke="#959595" stroke-width="1.0" fill="none"/>
<path d="M142.5 417.3L208.25 417.3" stroke="#959595" stroke-width="1.0" fill="none"/>
<rect x="144.3" y="383.22" width="17.11" height="6.46" fill="#fff"/>
<text x="144.8" y="389.15" font-size="7.6" text-anchor="start" font-weight="normal" fill="#161616" class="t">32.6</text>
<rect x="189.44" y="383.22" width="17.11" height="6.46" fill="#fff"/>
<text x="206.05" y="389.15" font-size="7.6" text-anchor="end" font-weight="normal" fill="#161616" class="t">55.9</text>
<rect x="144.3" y="440.17" width="17.11" height="6.46" fill="#fff"/>
<text x="144.8" y="446.1" font-size="7.6" text-anchor="start" font-weight="normal" fill="#161616" class="t">5.19</text>
<rect x="189.44" y="440.17" width="17.11" height="6.46" fill="#fff"/>
<text x="206.05" y="446.1" font-size="7.6" text-anchor="end" font-weight="normal" fill="#161616" class="t">6.34</text>
<rect x="142.5" y="381.25" width="65.75" height="65.75" fill="none" stroke="#000" stroke-width="1.35"/>
<text x="136.3" y="392" font-size="8.4" text-anchor="end" font-weight="normal" fill="#161616">10<tspan dy="-3.53" font-size="6.55">5</tspan></text>
<text x="136.3" y="407.17" font-size="8.4" text-anchor="end" font-weight="normal" fill="#161616">10<tspan dy="-3.53" font-size="6.55">4</tspan></text>
<text x="136.3" y="422.33" font-size="8.4" text-anchor="end" font-weight="normal" fill="#161616">10<tspan dy="-3.53" font-size="6.55">3</tspan></text>
<text x="136.3" y="437.5" font-size="8.4" text-anchor="end" font-weight="normal" fill="#161616">10<tspan dy="-3.53" font-size="6.55">2</tspan></text>
<text x="137.9" y="443.5" font-size="8.4" text-anchor="end" font-weight="normal" fill="#161616">0</text>
<path d="M142.5 388h-2.8M142.5 398.6h-1.5M142.5 395.93h-1.5M142.5 394.04h-1.5M142.5 392.57h-1.5M142.5 391.36h-1.5M142.5 390.35h-1.5M142.5 389.47h-1.5M142.5 388.69h-1.5M142.5 403.17h-2.8M142.5 413.77h-1.5M142.5 411.1h-1.5M142.5 409.2h-1.5M142.5 407.73h-1.5M142.5 406.53h-1.5M142.5 405.52h-1.5M142.5 404.64h-1.5M142.5 403.86h-1.5M142.5 418.33h-2.8M142.5 428.93h-1.5M142.5 426.26h-1.5M142.5 424.37h-1.5M142.5 422.9h-1.5M142.5 421.7h-1.5M142.5 420.68h-1.5M142.5 419.8h-1.5M142.5 419.03h-1.5M142.5 433.5h-2.8M142.5 440.5h-2.8M142.5 434.67h-1.5M142.5 442.67h-1.5M142.5 435.83h-1.5M142.5 444.83h-1.5M142.5 437h-1.5M142.5 447h-1.5M142.5 438.17h-1.5M142.5 439.33h-1.5" stroke="#000" stroke-width=".95"/>
<path d="M144.3 447v2.8M157.7 447v2.8M172.8 447v2.8M187.9 447v2.8M202.8 447v2.8M162.25 447v2M164.9 447v2M166.79 447v2M168.25 447v2M169.45 447v2M170.46 447v2M171.34 447v2M172.11 447v2M177.35 447v2M180 447v2M181.89 447v2M183.35 447v2M184.55 447v2M185.56 447v2M186.44 447v2M187.21 447v2M192.39 447v2M195.01 447v2M196.87 447v2M198.31 447v2M199.49 447v2M200.49 447v2M201.36 447v2M202.12 447v2M147.65 447v2M151 447v2M154.35 447v2M143.1 447v2M207.29 447v2" stroke="#000" stroke-width=".95"/>
<text transform="translate(151.7,457.1) rotate(-45)" font-size="8.4" text-anchor="end" font-weight="normal" fill="#161616">0</text>
<text transform="translate(161.5,457.6) rotate(-45)" font-size="8.4" text-anchor="end" font-weight="normal" fill="#161616">10<tspan dy="-3.53" font-size="6.22">2</tspan></text>
<text transform="translate(175,457.6) rotate(-45)" font-size="8.4" text-anchor="end" font-weight="normal" fill="#161616">10<tspan dy="-3.53" font-size="6.22">3</tspan></text>
<text transform="translate(190.5,457.6) rotate(-45)" font-size="8.4" text-anchor="end" font-weight="normal" fill="#161616">10<tspan dy="-3.53" font-size="6.22">4</tspan></text>
<text transform="translate(205.3,457.6) rotate(-45)" font-size="8.4" text-anchor="end" font-weight="normal" fill="#161616">10<tspan dy="-3.53" font-size="6.22">5</tspan></text>
<path d="M247.1 403.5h.9M257.2 404.5h.9M255.9 407.0h.9M249.8 397.9h.9M249.1 408.6h.9M254.5 399.5h.9M254.3 399.7h.9M260.3 407.4h.9M258.7 407.2h.9M244.1 404.3h.9M265.0 407.4h.9M256.1 396.5h.9M258.4 400.5h.9M250.0 404.4h.9M253.6 407.1h.9M249.6 405.1h.9M247.7 407.4h.9M256.3 403.2h.9M258.2 402.3h.9M251.4 410.0h.9M254.6 404.9h.9M261.3 403.0h.9M250.6 403.1h.9M254.7 400.3h.9M251.1 404.0h.9M248.9 394.6h.9M260.4 402.6h.9M256.8 404.0h.9M249.7 402.0h.9M254.6 402.3h.9M254.6 404.1h.9M265.9 403.6h.9M253.9 403.0h.9M257.1 407.6h.9M244.8 405.1h.9M260.2 401.0h.9M257.7 406.0h.9M252.2 401.1h.9M249.1 403.6h.9M254.5 405.5h.9M256.6 404.7h.9M254.0 399.3h.9M251.8 397.0h.9M257.3 395.5h.9M246.8 405.0h.9M253.3 402.2h.9M255.5 400.4h.9M251.1 400.5h.9M256.8 404.9h.9M250.1 402.6h.9M247.5 408.1h.9M254.0 397.1h.9M245.8 399.3h.9M256.0 401.0h.9M255.3 393.8h.9M251.5 401.0h.9M252.3 405.5h.9M258.2 402.0h.9M255.2 408.6h.9M256.8 404.6h.9M255.5 401.7h.9M258.6 404.4h.9M255.7 400.8h.9M253.9 406.0h.9M253.5 401.1h.9M250.3 401.6h.9M253.9 401.7h.9M264.3 399.2h.9M253.8 401.0h.9M261.3 402.5h.9M248.8 402.8h.9M257.0 403.6h.9M257.2 403.3h.9M256.4 401.7h.9M258.7 403.2h.9M256.8 402.5h.9M259.0 411.2h.9M260.0 409.6h.9M259.8 406.8h.9M251.2 400.5h.9M250.3 395.0h.9M254.8 406.4h.9M252.5 405.1h.9M259.1 401.8h.9M252.6 405.4h.9M257.2 401.6h.9M254.3 399.1h.9M255.6 409.1h.9M253.3 403.9h.9M249.1 394.5h.9M257.5 406.6h.9M249.1 403.3h.9M255.3 404.9h.9M259.6 403.4h.9M247.2 403.1h.9M259.6 403.5h.9M256.7 404.6h.9M256.8 404.1h.9M248.1 403.8h.9M246.7 403.9h.9M255.2 402.6h.9M257.7 408.4h.9M251.9 412.1h.9M254.4 405.5h.9M257.1 411.1h.9M258.2 403.5h.9M251.4 403.3h.9M260.2 405.3h.9M254.6 405.9h.9M257.5 395.8h.9M256.1 401.6h.9M252.9 399.4h.9M247.9 405.3h.9M250.1 410.6h.9M255.1 402.1h.9M256.2 406.2h.9M252.3 402.8h.9M252.3 397.6h.9M258.0 400.8h.9M248.5 407.3h.9M257.7 407.0h.9M256.8 406.6h.9M253.4 401.0h.9M260.4 400.3h.9M249.9 397.6h.9M258.5 400.5h.9M252.8 394.7h.9M263.6 402.7h.9M257.2 400.0h.9M253.4 406.0h.9M260.4 398.7h.9M254.1 405.2h.9M251.7 397.7h.9M259.5 401.9h.9M258.1 404.8h.9M260.0 410.0h.9M256.8 402.1h.9M255.1 401.0h.9M252.1 400.1h.9M253.7 401.2h.9M251.9 406.4h.9M250.2 403.4h.9M252.5 400.8h.9M257.1 403.6h.9M249.9 400.8h.9M258.0 398.7h.9M251.7 406.5h.9M261.2 399.5h.9M256.9 401.9h.9M256.5 401.6h.9M254.1 406.8h.9M253.5 408.4h.9M259.1 405.0h.9M262.5 402.3h.9M250.5 401.9h.9M253.2 403.4h.9M255.6 393.6h.9M258.6 406.4h.9M258.8 404.7h.9M262.9 396.7h.9M259.5 408.1h.9M259.2 398.1h.9M257.1 402.6h.9M255.7 406.7h.9M253.7 403.5h.9M262.8 403.9h.9M251.8 400.0h.9M251.9 403.4h.9M261.4 407.3h.9M252.4 405.3h.9M261.7 403.1h.9M251.0 403.5h.9M254.9 408.0h.9M254.2 410.8h.9M257.2 406.2h.9M249.4 399.6h.9M255.5 401.8h.9M251.7 399.9h.9M263.3 398.7h.9M255.4 399.6h.9M247.2 407.2h.9M255.2 406.4h.9M249.4 401.9h.9M257.9 404.6h.9M249.8 402.6h.9M249.9 404.5h.9M253.8 410.6h.9M252.5 404.0h.9M255.4 405.8h.9M253.3 403.9h.9M253.1 407.5h.9M254.0 402.2h.9M252.7 409.2h.9M248.0 405.7h.9M252.5 395.7h.9M251.3 402.9h.9M267.0 407.4h.9M251.6 402.2h.9M258.8 408.6h.9M255.1 401.2h.9M248.7 398.8h.9M247.4 402.0h.9M255.9 401.7h.9M257.5 400.0h.9M259.3 400.5h.9M250.1 403.0h.9M253.1 403.6h.9M258.1 395.3h.9M260.4 406.1h.9M254.4 398.7h.9M255.0 398.9h.9M258.7 412.5h.9M255.2 405.1h.9M256.9 396.0h.9M259.2 404.5h.9M253.0 405.9h.9M253.8 407.1h.9M254.9 394.0h.9M258.7 401.5h.9M261.1 406.6h.9M251.6 399.4h.9M260.5 404.1h.9M256.5 399.6h.9M253.0 402.4h.9M260.8 396.9h.9M249.7 408.2h.9M259.1 403.2h.9M259.3 409.3h.9M257.8 401.2h.9M259.8 402.6h.9M245.8 403.9h.9M250.1 399.4h.9M254.9 401.7h.9M258.2 405.7h.9M255.3 406.2h.9M253.1 410.8h.9M257.8 407.1h.9M252.1 400.9h.9M255.4 403.7h.9M259.8 405.0h.9M260.6 404.7h.9M259.9 403.4h.9M257.6 402.5h.9M261.2 398.9h.9M267.1 399.5h.9M256.5 401.8h.9M253.9 404.7h.9M256.4 394.6h.9M259.4 405.4h.9M252.8 409.1h.9M252.3 399.2h.9M254.7 403.7h.9M258.0 403.8h.9M258.0 400.4h.9M246.4 406.4h.9M248.0 401.9h.9M258.3 405.1h.9M257.3 401.9h.9M254.3 401.2h.9M254.6 405.6h.9M248.6 403.9h.9M253.4 404.2h.9M256.5 402.4h.9M249.5 399.8h.9M255.5 403.0h.9M255.1 403.1h.9M255.8 402.6h.9M259.7 409.6h.9M254.7 405.8h.9M257.4 405.8h.9M253.9 402.5h.9M255.0 401.9h.9M252.0 407.9h.9M252.7 403.4h.9M268.3 400.8h.9M253.8 399.1h.9M259.4 402.2h.9M260.2 400.2h.9M261.1 402.9h.9M256.2 402.8h.9M252.7 402.6h.9M254.2 400.6h.9M252.1 402.6h.9M247.4 401.6h.9M260.9 402.6h.9M255.5 404.1h.9M260.2 403.5h.9M253.4 402.0h.9M253.7 405.8h.9M259.1 401.2h.9M256.9 404.6h.9M260.4 405.1h.9M263.3 406.8h.9M260.8 402.8h.9M256.3 398.0h.9M256.0 406.8h.9M254.0 396.4h.9M251.4 403.1h.9M257.7 412.1h.9M258.3 396.5h.9M246.0 404.8h.9M255.2 403.2h.9M262.5 408.4h.9M251.8 407.1h.9M250.1 405.4h.9M260.6 404.7h.9M247.9 398.4h.9M260.4 407.7h.9M257.8 407.0h.9M263.5 406.4h.9M260.4 402.6h.9M254.4 405.0h.9M256.5 400.7h.9M250.4 407.8h.9M255.5 404.9h.9M252.1 406.5h.9M251.0 404.4h.9M253.9 404.0h.9M259.3 403.4h.9M255.2 407.3h.9M251.6 406.4h.9M254.9 401.9h.9M255.8 405.3h.9M253.7 407.0h.9M260.5 400.7h.9M259.0 402.9h.9M254.8 398.8h.9M258.9 399.8h.9M244.2 400.1h.9M255.7 402.0h.9M252.3 399.7h.9M256.6 409.2h.9M259.7 401.5h.9M244.8 402.8h.9M254.1 397.2h.9M253.6 397.4h.9M248.1 400.8h.9M261.9 405.0h.9M260.5 400.7h.9M249.9 402.8h.9M247.8 408.2h.9M258.8 398.7h.9M251.6 406.7h.9M255.3 403.4h.9M259.5 400.5h.9M251.9 404.4h.9M251.2 401.2h.9M254.4 401.8h.9M248.0 406.5h.9M256.5 403.1h.9M254.2 403.4h.9M258.7 403.9h.9M249.6 402.5h.9M259.9 401.7h.9M254.9 397.7h.9M253.7 403.0h.9M260.9 406.9h.9M261.7 399.4h.9M263.6 400.6h.9M256.6 403.2h.9M257.8 407.4h.9M260.9 399.7h.9M256.0 401.7h.9M255.2 400.1h.9M254.2 404.6h.9M254.3 407.8h.9M259.9 403.3h.9M259.5 403.6h.9M254.4 402.8h.9M252.5 405.9h.9M257.5 400.2h.9M255.1 403.1h.9M254.3 403.5h.9M257.1 401.4h.9M260.2 399.9h.9M250.3 408.8h.9M254.0 405.6h.9M254.3 402.3h.9M252.0 405.6h.9M252.7 404.8h.9M259.1 403.4h.9M251.5 402.1h.9M253.1 401.3h.9M267.2 404.2h.9M258.8 406.3h.9M256.5 398.5h.9M252.1 404.4h.9M255.2 400.4h.9M261.2 405.3h.9M250.2 406.0h.9M250.1 406.3h.9M256.6 398.1h.9M260.0 404.3h.9M257.3 403.0h.9M252.0 402.7h.9M248.6 401.3h.9M255.5 403.4h.9M248.4 405.9h.9M252.4 402.9h.9M256.5 401.5h.9M257.8 398.7h.9M254.7 405.1h.9M253.1 395.3h.9M254.2 398.8h.9M250.0 406.7h.9M256.8 402.2h.9M252.2 399.7h.9M257.4 413.7h.9M249.1 400.8h.9M252.8 406.1h.9M257.6 406.3h.9M259.0 400.4h.9M259.1 403.4h.9M256.1 406.0h.9M258.8 401.3h.9M249.8 403.8h.9M262.5 408.6h.9M254.1 411.9h.9M255.8 407.1h.9M252.5 398.6h.9M253.9 409.2h.9M253.1 396.8h.9M258.6 404.3h.9M261.5 408.5h.9M260.5 401.3h.9M252.6 406.6h.9M255.1 407.2h.9M248.1 405.5h.9M254.3 400.4h.9M254.8 407.2h.9M247.3 402.3h.9M258.7 394.8h.9M253.2 406.1h.9M250.5 400.8h.9M252.4 412.3h.9M254.0 403.1h.9M246.8 402.5h.9M249.2 396.8h.9M253.1 407.4h.9M254.8 406.5h.9M256.0 401.6h.9M250.9 401.4h.9M256.8 397.2h.9M254.8 407.2h.9M253.9 409.6h.9M257.8 395.4h.9M251.6 400.1h.9M255.9 405.7h.9M253.3 411.2h.9M254.6 404.8h.9M247.8 403.4h.9M254.9 404.0h.9M255.3 403.9h.9M259.7 400.9h.9M254.7 408.8h.9M259.1 409.1h.9M249.1 398.7h.9M254.0 403.8h.9M256.1 400.9h.9M253.2 403.0h.9M247.8 397.0h.9M248.7 406.4h.9M253.2 403.9h.9M256.0 408.9h.9M257.1 403.9h.9M258.0 404.8h.9M259.0 399.9h.9M251.5 402.4h.9M256.0 399.6h.9M263.4 401.8h.9M259.9 401.5h.9M252.4 409.0h.9M255.7 402.4h.9M252.1 406.2h.9M252.6 398.1h.9M255.7 405.2h.9M253.8 402.3h.9M258.1 400.9h.9M252.0 402.4h.9M248.9 399.9h.9M258.8 404.1h.9M259.2 411.1h.9M256.8 404.3h.9M257.3 403.0h.9M252.9 404.8h.9M258.0 408.9h.9M249.0 401.7h.9M257.1 404.9h.9M257.4 398.9h.9M258.0 400.7h.9M258.1 402.4h.9M246.9 401.8h.9M256.7 405.5h.9M249.0 399.9h.9M255.2 403.5h.9M251.1 400.4h.9M252.8 405.1h.9M253.2 404.4h.9M255.0 403.1h.9M255.0 399.9h.9M261.5 403.3h.9M249.4 401.8h.9M259.5 410.6h.9M255.7 402.0h.9M256.7 402.2h.9M259.6 407.3h.9M256.4 404.4h.9M258.8 404.6h.9M257.7 401.7h.9M257.5 400.7h.9M250.5 401.0h.9M260.1 405.8h.9M257.2 406.6h.9M255.0 403.9h.9M254.0 400.4h.9M248.2 403.2h.9M255.2 401.9h.9M258.1 408.4h.9M254.6 401.2h.9M257.4 404.1h.9M255.1 404.0h.9M257.0 407.0h.9M252.3 393.2h.9M258.7 399.0h.9M253.0 402.8h.9M250.7 408.5h.9M259.3 401.7h.9M252.1 399.7h.9M258.4 398.7h.9M256.0 404.4h.9M255.0 411.6h.9M250.2 405.4h.9M260.9 406.1h.9M258.4 406.6h.9M257.7 403.0h.9M257.6 403.0h.9M263.0 401.8h.9M246.7 398.5h.9M256.9 407.8h.9M253.8 401.3h.9M261.1 404.7h.9M252.6 404.9h.9M252.4 404.7h.9M259.8 395.6h.9M253.6 406.8h.9M250.3 411.8h.9M256.6 404.2h.9M257.8 406.7h.9M249.5 402.0h.9M258.0 402.8h.9M252.7 409.0h.9M264.7 402.6h.9M248.0 403.4h.9M254.8 405.6h.9M249.0 401.7h.9M255.9 409.4h.9M255.0 405.7h.9M248.3 403.7h.9M256.7 402.7h.9M254.7 403.1h.9M247.8 403.7h.9M260.4 404.4h.9M255.6 407.3h.9M254.2 405.7h.9M253.9 400.0h.9M259.4 400.9h.9M259.2 399.1h.9M247.9 404.5h.9M257.9 401.4h.9M254.3 407.2h.9M259.5 406.4h.9M256.3 406.4h.9M255.6 404.8h.9M251.7 399.9h.9M246.2 399.4h.9M254.1 402.3h.9M257.6 402.2h.9M256.7 399.0h.9M259.7 404.5h.9M253.4 403.2h.9M254.6 403.5h.9M254.5 408.3h.9M255.4 404.1h.9M256.1 402.1h.9M259.4 405.4h.9M253.1 401.3h.9M261.9 396.5h.9M259.6 406.9h.9M265.1 401.5h.9M252.2 411.3h.9M257.6 405.3h.9M254.2 403.6h.9M255.5 404.6h.9M253.5 403.3h.9M260.1 402.0h.9M256.5 404.5h.9M252.0 404.3h.9M258.3 402.7h.9M254.3 402.5h.9M257.0 399.4h.9M251.2 403.4h.9M257.2 404.6h.9M251.5 403.2h.9M266.6 404.8h.9M249.0 406.6h.9M250.3 405.8h.9M255.6 403.5h.9M257.7 399.4h.9M248.5 402.7h.9M259.5 406.9h.9M257.8 408.8h.9M260.1 405.0h.9M251.3 404.9h.9M254.0 404.6h.9M253.9 403.2h.9M255.7 403.9h.9M252.7 399.7h.9M250.6 403.5h.9M255.9 400.6h.9M254.1 402.9h.9M248.8 399.7h.9M244.1 404.8h.9M254.5 401.5h.9M259.1 399.4h.9M253.8 405.6h.9M254.5 401.4h.9M257.1 406.3h.9M257.9 402.2h.9M255.0 407.2h.9M259.2 404.6h.9M252.1 406.8h.9M256.5 400.2h.9M252.2 406.4h.9M252.4 404.7h.9M261.1 398.2h.9M260.9 400.0h.9M256.0 406.4h.9M249.9 405.6h.9M248.1 406.1h.9M254.8 404.0h.9M253.8 405.9h.9M249.7 400.1h.9M255.1 407.9h.9M253.8 400.7h.9M254.0 401.8h.9M252.2 401.8h.9M253.1 399.7h.9M257.5 408.5h.9M254.2 404.4h.9M250.4 401.9h.9" stroke="#000" stroke-width=".9" stroke-opacity="1.00"/>
<path d="M246.0 409.0h.9M252.9 414.8h.9M264.1 406.8h.9M263.3 415.1h.9M258.8 410.7h.9M255.4 403.7h.9M254.1 418.8h.9M252.8 409.8h.9M251.3 409.4h.9M246.1 402.7h.9M249.4 412.3h.9M259.5 403.5h.9M258.0 406.9h.9M251.2 409.7h.9M246.8 408.7h.9M250.1 413.3h.9M249.0 409.2h.9M256.5 402.9h.9M268.4 409.4h.9M260.1 404.8h.9M264.8 412.0h.9M251.7 405.9h.9M242.1 409.0h.9M253.9 408.6h.9M258.7 399.9h.9M253.8 415.3h.9M257.8 402.9h.9M245.7 403.9h.9M252.3 400.6h.9M269.0 411.7h.9M260.2 420.4h.9M260.1 409.7h.9M261.2 409.6h.9M261.8 399.0h.9M249.2 408.9h.9M255.2 415.4h.9M257.0 410.2h.9M258.6 413.3h.9M253.8 405.8h.9M256.9 412.1h.9M253.5 404.9h.9M267.4 406.0h.9M257.3 411.4h.9M255.4 419.8h.9M258.4 411.2h.9M247.2 411.8h.9M257.1 409.4h.9M245.8 410.8h.9M255.7 414.1h.9M255.3 411.6h.9M252.1 410.3h.9M262.2 396.2h.9M240.0 421.7h.9M238.9 402.6h.9M254.7 404.3h.9M266.1 409.0h.9M251.0 407.1h.9M250.8 414.7h.9M253.7 403.2h.9M257.4 415.8h.9M261.5 405.2h.9M249.7 411.0h.9M252.4 401.6h.9M261.6 407.3h.9M257.0 403.4h.9M246.8 408.5h.9M256.7 410.0h.9M259.8 395.9h.9M258.8 411.5h.9M246.6 410.3h.9M260.7 407.1h.9M249.9 413.7h.9M265.1 415.3h.9M254.8 406.6h.9M244.2 394.1h.9M255.5 410.0h.9M245.2 407.7h.9M251.1 411.8h.9M264.6 406.5h.9M258.7 405.8h.9M252.5 410.1h.9M252.5 410.1h.9M255.2 402.4h.9M253.8 414.4h.9M256.7 415.2h.9M252.5 405.0h.9M258.6 404.0h.9M254.5 393.1h.9M249.4 408.3h.9M253.0 408.9h.9M249.3 403.7h.9M254.6 414.8h.9M254.7 409.3h.9M255.8 403.0h.9M266.4 411.3h.9M252.4 407.0h.9M256.7 401.2h.9M259.6 397.3h.9M274.5 399.3h.9M260.4 407.3h.9M264.4 417.5h.9M254.1 408.4h.9M253.6 407.0h.9M257.7 405.6h.9M257.5 414.6h.9M252.9 407.1h.9M256.6 412.4h.9M241.0 405.5h.9M261.6 398.1h.9M254.7 402.7h.9M257.4 408.4h.9M258.6 404.5h.9M260.4 401.7h.9M268.0 409.7h.9M256.1 403.6h.9M260.4 411.0h.9M260.9 412.4h.9M264.5 407.9h.9M261.1 409.3h.9M248.0 393.6h.9M262.3 403.5h.9M250.1 405.4h.9M251.0 426.5h.9M260.8 404.4h.9M258.8 404.1h.9M242.8 408.0h.9M252.6 396.3h.9M258.5 406.4h.9M257.0 402.3h.9M256.2 414.1h.9M256.9 402.4h.9M261.0 412.3h.9M249.2 406.1h.9M255.9 401.5h.9M246.8 401.4h.9M261.5 403.5h.9M244.4 407.6h.9M252.2 408.1h.9M249.9 402.2h.9M258.1 401.6h.9M266.0 402.7h.9M258.2 412.3h.9M245.1 407.1h.9M251.4 406.8h.9M254.2 407.8h.9M249.7 401.7h.9M247.2 408.0h.9M257.9 405.7h.9M247.0 416.4h.9M254.8 408.2h.9M243.8 404.0h.9M254.8 404.4h.9M257.2 414.9h.9M259.2 404.4h.9M259.4 406.8h.9M242.7 412.3h.9M255.1 403.6h.9M247.5 417.0h.9M255.5 400.8h.9M260.5 408.0h.9M245.6 401.0h.9M254.4 413.4h.9M254.0 404.3h.9M257.9 405.9h.9M250.2 408.5h.9M249.2 406.9h.9M258.4 412.7h.9M261.8 418.0h.9M257.4 400.8h.9M255.9 408.2h.9M263.9 413.8h.9M256.1 402.0h.9M263.3 406.3h.9M256.6 401.6h.9M248.1 413.0h.9M257.2 409.5h.9M256.2 408.2h.9M251.7 403.0h.9M247.3 394.6h.9M259.5 418.1h.9M260.9 397.1h.9M267.3 402.2h.9M256.1 407.7h.9M253.1 411.0h.9M260.8 403.8h.9M259.9 419.1h.9M252.1 414.9h.9M252.2 412.4h.9M256.2 402.6h.9M253.1 411.4h.9M251.7 410.8h.9M253.8 407.0h.9M243.4 402.8h.9M258.6 416.0h.9M256.6 406.1h.9M255.0 407.5h.9M269.1 406.0h.9M253.6 406.9h.9M246.1 401.5h.9M256.8 414.1h.9" stroke="#000" stroke-width=".9" stroke-opacity="0.70"/>
<path d="M284.0 401.9h.9M287.5 400.4h.9M288.9 397.6h.9M287.7 396.6h.9M291.5 400.3h.9M283.5 402.5h.9M285.8 403.7h.9M284.9 402.3h.9M291.0 404.9h.9M287.8 406.4h.9M288.4 409.6h.9M284.6 403.9h.9M285.2 402.2h.9M283.2 401.4h.9M285.9 402.6h.9M289.0 402.5h.9M287.0 397.8h.9M285.4 404.1h.9M283.5 400.3h.9M291.8 401.9h.9M287.0 400.1h.9M290.1 397.7h.9M290.5 398.4h.9M279.3 398.1h.9M282.4 395.1h.9M281.7 403.7h.9M286.4 408.5h.9M288.3 402.9h.9M291.6 408.3h.9M284.1 402.8h.9M292.9 409.5h.9M290.5 400.1h.9M281.5 408.0h.9M286.2 401.1h.9M285.2 407.1h.9M284.7 400.3h.9M287.0 404.5h.9M282.9 407.0h.9M286.1 403.9h.9M288.1 405.6h.9M285.9 400.0h.9M283.6 404.7h.9M281.1 401.5h.9M284.0 405.0h.9M283.0 407.5h.9M285.6 404.0h.9M285.5 402.2h.9M286.1 400.0h.9M281.5 402.9h.9M284.3 401.3h.9M284.1 400.5h.9M282.5 406.0h.9M286.0 400.8h.9M293.7 402.6h.9M283.5 405.1h.9M287.8 407.1h.9M290.0 402.5h.9M287.6 405.2h.9M281.9 401.1h.9M288.2 399.2h.9M289.0 395.7h.9M283.2 399.9h.9M286.8 401.8h.9M286.6 401.1h.9M284.7 402.0h.9M286.2 400.1h.9M286.2 401.7h.9M289.5 404.1h.9M287.3 404.2h.9M286.8 400.1h.9M287.3 404.1h.9M286.4 401.6h.9M284.5 400.2h.9M282.3 403.1h.9M285.1 399.2h.9M284.4 401.4h.9M287.7 402.5h.9M290.9 405.9h.9M287.6 404.4h.9M285.0 402.7h.9M287.3 404.2h.9M286.1 396.3h.9M290.5 406.0h.9M286.2 405.4h.9M280.6 401.9h.9M290.5 404.8h.9M284.0 404.0h.9M289.0 403.7h.9M288.8 407.1h.9M285.1 401.6h.9M287.3 402.0h.9M290.3 406.5h.9M283.5 404.1h.9M281.7 402.1h.9M285.9 401.5h.9M283.9 399.7h.9M288.8 398.6h.9M285.9 402.2h.9M285.0 404.2h.9M288.0 404.3h.9M287.2 405.5h.9M286.1 400.8h.9M284.9 400.8h.9M290.5 403.9h.9M286.1 405.0h.9M286.4 401.3h.9M293.6 402.8h.9M285.3 403.5h.9M287.2 399.3h.9M281.0 404.4h.9M284.8 402.5h.9M283.4 401.2h.9M284.7 405.2h.9M288.7 402.0h.9M288.4 400.6h.9M288.6 403.9h.9M289.0 403.6h.9M284.2 399.8h.9M289.0 406.5h.9M286.2 401.8h.9M288.2 403.9h.9M287.4 405.6h.9M284.1 402.9h.9M285.0 401.0h.9M291.1 396.8h.9M287.6 398.7h.9M280.8 405.0h.9M281.8 406.0h.9M286.7 404.5h.9M286.3 405.7h.9M287.8 399.2h.9M290.3 403.8h.9M288.7 394.7h.9M283.7 405.4h.9M286.2 400.1h.9M281.5 401.9h.9M286.9 405.7h.9M285.2 400.2h.9M287.8 404.2h.9M286.2 398.6h.9M289.7 402.6h.9M288.0 401.5h.9M285.9 407.9h.9M291.8 404.5h.9M288.7 404.0h.9M282.2 401.5h.9M284.8 399.0h.9M287.0 402.7h.9M285.6 400.3h.9M285.1 400.2h.9M287.6 397.8h.9M284.7 400.3h.9M283.2 404.3h.9M283.6 400.3h.9M284.5 399.5h.9M285.4 403.0h.9M289.9 405.5h.9M283.7 403.6h.9M286.5 403.7h.9M285.5 401.9h.9M283.8 402.0h.9M285.8 398.8h.9M284.4 402.0h.9M289.2 397.5h.9M287.3 408.7h.9M291.2 404.6h.9M287.0 401.9h.9M282.4 403.7h.9M285.6 403.0h.9M286.2 397.5h.9M282.7 400.0h.9M289.7 400.9h.9M284.8 406.0h.9M282.1 405.2h.9M286.9 404.9h.9M288.7 409.9h.9M287.7 403.1h.9M288.3 404.3h.9M284.3 403.5h.9M289.3 402.4h.9M280.6 404.4h.9M289.8 402.5h.9M290.8 397.3h.9M282.3 404.9h.9M284.8 399.4h.9M287.6 406.7h.9M285.3 407.6h.9M279.3 403.9h.9M287.7 398.5h.9M285.6 401.5h.9M288.5 405.1h.9M286.1 403.5h.9M289.6 399.1h.9M288.9 403.4h.9M285.2 403.1h.9M289.3 403.7h.9M287.3 401.5h.9M284.6 403.3h.9M288.8 399.3h.9M282.3 405.9h.9M293.8 403.6h.9M286.1 403.4h.9M283.4 402.8h.9M284.9 400.6h.9M287.8 400.9h.9M279.8 401.8h.9M285.1 399.0h.9M285.7 402.4h.9M286.2 400.6h.9M287.5 401.7h.9M289.4 402.7h.9M283.2 398.0h.9M283.9 401.7h.9M288.0 402.6h.9M288.0 399.6h.9M283.6 400.2h.9M289.5 399.3h.9M286.6 400.1h.9M286.3 401.7h.9M286.1 403.5h.9M281.0 404.7h.9M287.3 399.4h.9M291.8 404.1h.9M288.3 403.3h.9M287.5 400.8h.9M285.3 397.5h.9M283.3 404.3h.9M283.9 403.2h.9M282.7 401.6h.9M286.0 404.0h.9M285.6 404.4h.9M289.6 407.1h.9M290.5 406.3h.9M281.8 404.4h.9M291.6 402.9h.9M285.0 401.4h.9M287.9 407.7h.9M289.0 403.5h.9M287.3 404.2h.9M281.2 404.0h.9M286.6 405.8h.9M285.3 404.8h.9M287.4 400.0h.9M286.6 401.5h.9M286.6 406.5h.9M289.7 405.1h.9M288.5 399.7h.9M286.4 406.2h.9M276.2 396.7h.9M292.5 398.4h.9M285.7 400.1h.9M288.6 397.8h.9M285.7 407.7h.9M284.5 408.6h.9M284.6 402.6h.9M283.2 406.1h.9M285.0 407.1h.9M287.5 400.0h.9M284.9 403.6h.9M285.9 407.3h.9M286.7 401.4h.9M291.0 403.2h.9M285.2 406.1h.9M289.5 401.6h.9M289.6 398.1h.9M286.5 401.6h.9M286.5 402.3h.9M286.4 404.3h.9M287.6 395.8h.9M284.4 403.1h.9M283.7 400.7h.9M286.4 400.2h.9M289.1 399.8h.9M287.8 398.7h.9M287.6 396.5h.9M285.8 402.4h.9M287.8 399.1h.9M288.8 406.3h.9M286.4 407.0h.9M286.7 402.1h.9M285.4 398.2h.9M285.2 399.5h.9M288.5 400.4h.9M281.9 399.9h.9M287.3 401.4h.9M284.4 405.2h.9M287.5 405.4h.9M285.3 395.3h.9M282.9 405.5h.9M283.9 401.7h.9M285.7 401.0h.9M287.6 398.4h.9M284.4 403.4h.9M290.6 404.1h.9M287.4 406.6h.9M286.5 406.0h.9M283.9 407.4h.9M282.3 399.3h.9M290.0 404.4h.9M287.4 397.9h.9M287.3 402.6h.9M287.4 402.1h.9M286.4 397.2h.9M283.7 402.2h.9M286.7 393.9h.9M285.5 402.2h.9M287.5 406.8h.9M290.0 404.3h.9M285.4 404.0h.9M289.3 405.3h.9M284.2 400.4h.9M287.5 403.8h.9M285.1 402.0h.9M287.6 403.1h.9M291.5 402.3h.9M287.2 406.6h.9M284.2 403.9h.9M286.3 400.7h.9M290.5 402.0h.9M286.4 403.6h.9M285.4 407.6h.9M287.9 409.0h.9M287.9 399.4h.9M286.3 403.0h.9M288.8 405.1h.9M284.7 399.8h.9M283.4 395.0h.9M282.7 398.0h.9M286.3 405.2h.9M283.0 405.8h.9M289.6 399.9h.9M282.4 401.9h.9M281.9 403.4h.9M287.8 399.7h.9M286.4 403.6h.9M287.8 402.1h.9M289.3 397.3h.9M285.8 405.5h.9M285.3 402.9h.9M284.2 398.2h.9M289.6 401.7h.9M285.9 397.1h.9M286.1 398.1h.9M286.5 400.6h.9M285.4 398.0h.9M285.2 401.1h.9M287.5 401.5h.9M288.9 396.9h.9M284.8 401.5h.9M283.3 402.6h.9" stroke="#000" stroke-width=".9" stroke-opacity="1.00"/>
<path d="M287.0 415.8h.9M286.1 408.9h.9M284.5 415.7h.9M289.4 411.0h.9M283.1 417.6h.9M285.4 405.6h.9M286.5 414.5h.9M285.2 409.4h.9M284.1 405.5h.9M281.4 408.8h.9M282.3 412.3h.9M282.0 406.6h.9M288.6 418.5h.9M286.3 406.4h.9M287.0 409.8h.9M281.3 412.4h.9M290.9 409.9h.9M291.0 406.5h.9M283.3 414.7h.9M280.9 413.3h.9M287.4 413.6h.9M288.3 415.2h.9M285.7 417.3h.9M286.3 411.6h.9M285.1 416.5h.9M291.3 400.7h.9M282.9 408.6h.9M284.3 412.5h.9M283.8 404.6h.9M284.3 403.2h.9M285.9 410.0h.9M284.9 407.6h.9M287.0 408.9h.9M289.2 404.1h.9M288.0 408.1h.9M287.0 415.2h.9M285.7 415.1h.9M282.0 415.2h.9M280.0 414.7h.9M289.2 407.9h.9M288.3 413.0h.9M286.2 407.6h.9M286.4 413.8h.9M289.9 409.6h.9M284.7 403.1h.9M285.1 410.5h.9M286.9 405.0h.9M286.8 412.1h.9M280.4 407.0h.9M285.8 413.9h.9M290.4 404.0h.9M280.1 414.5h.9M282.7 411.3h.9M283.4 409.7h.9M284.3 413.6h.9M287.1 406.8h.9M283.0 409.2h.9M281.8 411.4h.9M286.1 409.7h.9M281.4 399.0h.9M286.2 414.7h.9M285.0 406.1h.9M285.7 410.6h.9M288.4 407.6h.9M286.8 412.3h.9M289.0 417.9h.9M287.5 416.6h.9M288.1 415.1h.9M289.4 415.9h.9M289.6 401.2h.9M288.4 419.7h.9M289.9 406.0h.9M289.4 414.2h.9M285.7 415.4h.9M292.1 405.6h.9M287.9 407.5h.9M282.7 409.9h.9M289.6 409.4h.9M290.5 410.6h.9M287.2 412.3h.9M288.3 417.6h.9M283.2 411.0h.9M287.3 413.0h.9M292.0 400.7h.9M289.8 412.7h.9M281.7 411.1h.9M284.3 409.4h.9M285.9 415.0h.9M289.6 417.9h.9M284.5 411.7h.9M278.8 417.3h.9M287.6 411.8h.9M284.9 415.7h.9M283.2 400.2h.9M287.3 412.7h.9M285.3 415.3h.9M279.7 410.4h.9M291.6 403.3h.9M283.8 422.5h.9M287.8 414.1h.9M289.7 402.0h.9M286.9 412.6h.9M286.2 396.2h.9M286.5 402.0h.9M286.2 418.0h.9M282.7 414.4h.9M287.1 412.0h.9M287.0 413.1h.9M284.3 413.0h.9M284.5 408.7h.9M284.7 407.1h.9M284.5 406.3h.9M287.4 409.8h.9M290.9 412.0h.9M283.3 410.7h.9M293.3 409.7h.9M288.8 412.4h.9M289.8 410.2h.9M288.2 403.3h.9M284.6 411.0h.9M288.4 409.8h.9M285.0 409.9h.9M284.5 405.6h.9M288.3 409.3h.9M285.5 412.2h.9M283.7 413.7h.9M286.3 406.0h.9M283.2 399.2h.9M286.7 404.5h.9M284.5 417.1h.9M285.2 411.9h.9M287.5 410.3h.9M287.5 410.2h.9M290.7 407.8h.9M285.4 411.8h.9M284.5 412.2h.9M282.7 420.4h.9M288.3 418.5h.9M289.1 410.9h.9M281.0 417.0h.9M289.9 406.8h.9M292.4 409.7h.9M280.3 404.9h.9M286.9 410.5h.9M286.4 413.0h.9M287.2 414.6h.9M286.9 409.5h.9M284.3 408.4h.9M285.6 408.7h.9M283.0 404.9h.9M287.1 415.5h.9M284.9 402.8h.9M281.1 414.4h.9M290.3 406.5h.9M279.6 408.4h.9M282.7 407.8h.9M285.4 404.8h.9M285.5 410.6h.9M287.9 408.2h.9M280.4 401.7h.9M283.2 411.4h.9M287.9 400.0h.9M287.2 415.4h.9M280.9 403.0h.9M288.6 403.3h.9M288.8 412.1h.9M284.4 407.7h.9M285.3 417.5h.9M290.4 419.1h.9M289.4 407.5h.9M291.4 412.8h.9M288.3 411.0h.9M284.5 411.9h.9M284.4 416.3h.9M286.4 416.1h.9M288.9 410.6h.9M281.1 413.4h.9M287.0 408.6h.9M288.1 409.6h.9M284.7 405.3h.9M285.2 409.4h.9M286.5 413.9h.9M288.3 410.4h.9M288.8 420.4h.9M286.2 408.1h.9M289.5 411.0h.9M283.6 408.1h.9M289.8 406.8h.9M286.0 408.0h.9M283.9 413.9h.9M282.4 409.8h.9M288.6 408.7h.9M283.4 408.4h.9M288.9 411.6h.9M285.9 412.2h.9M292.1 414.6h.9M282.5 413.3h.9M283.6 417.0h.9M284.5 410.5h.9M282.4 417.6h.9" stroke="#000" stroke-width=".9" stroke-opacity="0.75"/>
<path d="M265.5 424.0h.9M288.2 431.2h.9M294.8 419.2h.9M274.4 419.4h.9M285.0 428.7h.9M267.6 415.8h.9M277.1 428.1h.9M269.4 439.0h.9M275.0 431.8h.9M275.4 430.1h.9M269.1 412.0h.9M258.7 443.1h.9M273.1 428.9h.9M292.2 421.7h.9M267.2 419.8h.9M284.5 430.9h.9M276.4 407.3h.9M262.1 415.5h.9M265.4 414.3h.9M270.9 430.9h.9M268.6 432.1h.9M269.5 402.2h.9M273.5 419.0h.9M246.2 437.4h.9M270.9 434.3h.9M252.4 418.1h.9M279.8 426.7h.9M245.2 437.6h.9M275.1 407.9h.9M291.4 437.6h.9M287.6 424.9h.9M263.1 427.0h.9M266.1 427.2h.9M259.6 440.4h.9M256.1 436.3h.9M281.3 428.9h.9M287.9 406.5h.9M297.2 421.3h.9M267.5 411.5h.9M270.6 411.0h.9M262.1 422.2h.9M277.6 430.8h.9M285.2 441.7h.9M269.8 421.0h.9M295.0 408.9h.9M266.7 428.9h.9M272.2 437.1h.9M279.8 419.8h.9M262.8 415.2h.9M269.2 434.2h.9M272.6 421.5h.9M283.9 424.8h.9M286.4 428.9h.9M272.4 427.8h.9M245.7 437.6h.9M249.9 433.2h.9M261.7 425.0h.9M264.6 420.2h.9M260.9 437.6h.9M254.9 436.4h.9M280.8 416.9h.9M262.5 419.8h.9M242.2 432.2h.9M254.4 420.1h.9M284.3 428.3h.9M275.1 422.0h.9M291.3 413.5h.9M253.6 427.4h.9M275.6 420.0h.9M277.7 443.7h.9M266.6 427.0h.9M248.6 427.5h.9M275.8 431.7h.9M278.4 418.5h.9M253.2 421.8h.9M279.8 416.1h.9M272.3 429.1h.9M273.7 427.5h.9M285.3 427.7h.9M243.2 423.8h.9M277.1 416.8h.9M273.7 398.9h.9M262.6 434.8h.9M285.0 419.1h.9M283.6 416.3h.9M292.4 437.7h.9M277.5 422.2h.9M260.0 428.2h.9M264.1 422.2h.9M268.3 417.6h.9M273.7 423.4h.9M277.1 432.5h.9M291.6 432.3h.9M270.9 432.2h.9M257.1 420.3h.9M278.8 429.1h.9M259.6 428.5h.9M282.8 429.0h.9M260.1 433.9h.9M276.9 429.7h.9M272.2 427.2h.9M267.6 411.0h.9M271.8 431.5h.9M298.9 418.7h.9M271.2 435.6h.9M263.9 415.1h.9M264.1 432.6h.9M251.0 421.3h.9M249.7 426.6h.9M261.4 410.0h.9M292.5 428.9h.9M264.9 434.2h.9M246.8 423.3h.9M274.9 433.3h.9M275.0 432.0h.9M279.0 410.7h.9M287.4 432.9h.9M288.3 429.0h.9M269.9 423.3h.9M285.3 434.5h.9M266.9 430.0h.9M272.0 430.0h.9M275.1 433.8h.9M284.8 414.7h.9M271.3 417.0h.9M275.2 426.0h.9M259.3 433.1h.9M253.0 418.8h.9M289.7 424.5h.9M276.1 426.2h.9M261.3 426.1h.9M264.8 431.9h.9M272.5 424.6h.9M250.1 415.7h.9M259.4 426.8h.9M296.2 417.2h.9M272.9 414.6h.9M280.3 433.4h.9M272.1 419.0h.9M270.2 401.7h.9M288.3 421.8h.9M290.6 433.1h.9M266.6 429.3h.9M275.8 444.8h.9M277.0 409.3h.9M266.8 430.1h.9M251.4 423.8h.9M261.4 414.5h.9M266.3 429.1h.9M243.7 425.1h.9M293.8 425.7h.9M246.0 430.0h.9M274.7 418.7h.9M258.6 404.1h.9M269.8 417.9h.9M271.4 434.8h.9M254.0 408.7h.9M253.2 412.4h.9M281.0 444.5h.9M280.7 419.7h.9M268.3 427.7h.9M295.1 402.6h.9M254.1 411.7h.9M269.3 433.8h.9M268.6 421.2h.9M271.2 432.6h.9M288.6 412.0h.9M268.5 420.8h.9M272.5 420.7h.9M261.3 436.8h.9M274.8 408.2h.9M269.7 422.6h.9M280.3 433.4h.9M260.2 417.7h.9M263.2 422.2h.9M280.3 428.3h.9M278.7 436.7h.9M290.7 416.2h.9M274.6 421.2h.9M267.3 418.0h.9M279.8 432.0h.9M266.8 418.8h.9M269.6 429.5h.9M279.9 422.5h.9M278.8 434.6h.9M256.1 410.3h.9M286.4 410.7h.9M277.2 431.2h.9M276.2 418.1h.9M276.9 434.2h.9M287.5 428.4h.9M273.6 429.9h.9M280.2 418.6h.9M270.8 416.8h.9M286.9 441.5h.9M244.8 418.3h.9M268.5 416.4h.9M270.6 426.6h.9M277.7 417.6h.9M240.8 427.4h.9M281.2 429.1h.9M275.4 417.2h.9M272.3 414.2h.9M271.9 430.3h.9M276.1 420.9h.9M261.6 426.3h.9M272.5 410.6h.9M256.0 427.4h.9M265.2 425.8h.9M245.7 428.6h.9M259.9 430.5h.9M286.2 427.2h.9M296.5 433.6h.9M264.0 431.0h.9M285.1 439.1h.9M281.6 410.1h.9M277.5 417.7h.9M263.9 402.3h.9M275.0 440.3h.9M262.3 414.3h.9M276.0 427.3h.9M266.1 437.6h.9M269.4 419.5h.9M272.4 429.5h.9M277.4 436.8h.9M262.2 414.7h.9M275.0 432.3h.9M255.3 443.3h.9M289.7 417.2h.9M288.9 426.1h.9M270.7 426.0h.9M270.7 435.6h.9M257.8 415.1h.9M273.6 423.1h.9M288.8 410.9h.9M270.2 412.7h.9M269.8 428.9h.9M279.9 423.3h.9M284.9 421.4h.9M245.7 420.9h.9M279.5 412.0h.9M267.1 421.4h.9M282.9 417.8h.9M275.9 424.6h.9M258.8 427.9h.9M256.7 421.9h.9M259.4 426.8h.9M254.7 417.3h.9M298.5 418.0h.9M264.7 434.4h.9M295.1 417.9h.9M272.5 427.2h.9M264.8 442.7h.9M274.4 426.7h.9M275.0 425.7h.9M259.6 424.3h.9M264.0 415.4h.9M256.2 425.8h.9M278.8 414.6h.9M296.0 422.9h.9M255.9 421.3h.9M268.0 430.4h.9M267.9 418.0h.9M268.5 428.4h.9M261.8 419.7h.9M264.9 427.3h.9M247.0 429.9h.9M249.1 411.9h.9M288.1 420.5h.9M271.8 427.6h.9M245.1 426.4h.9M262.5 427.6h.9M266.0 426.9h.9M261.6 439.6h.9M256.0 426.4h.9M279.8 416.0h.9M271.2 434.6h.9M300.0 423.5h.9M266.3 408.0h.9M268.8 430.8h.9M266.9 431.5h.9M254.9 414.1h.9M275.7 420.4h.9M283.6 421.8h.9M287.4 420.1h.9M283.1 428.0h.9M291.0 426.3h.9M278.3 428.2h.9M283.6 427.0h.9M277.9 413.2h.9M262.4 430.1h.9M267.4 420.5h.9M250.1 410.5h.9M263.8 423.2h.9M277.4 422.2h.9M279.5 417.7h.9M263.3 436.7h.9M283.6 421.9h.9M263.9 420.6h.9M273.6 431.3h.9M253.4 413.3h.9M265.0 409.6h.9M259.3 425.0h.9M262.0 422.8h.9M287.0 425.3h.9M293.4 444.7h.9M272.6 420.4h.9M269.5 410.7h.9M248.7 430.6h.9M261.2 434.8h.9M259.0 420.7h.9M286.4 413.1h.9M283.9 423.1h.9M272.9 425.4h.9M285.5 425.5h.9M294.7 428.7h.9M262.0 428.0h.9M283.2 430.9h.9M283.3 424.1h.9M280.5 428.6h.9M271.7 430.3h.9" stroke="#000" stroke-width=".9" stroke-opacity="0.68"/>
<path d="M272 381.25L272 446.5" stroke="#959595" stroke-width="1.0" fill="none"/>
<path d="M237.5 417.4L303.25 417.4" stroke="#959595" stroke-width="1.0" fill="none"/>
<rect x="239.3" y="383.22" width="17.11" height="6.46" fill="#fff"/>
<text x="239.8" y="389.15" font-size="7.6" text-anchor="start" font-weight="normal" fill="#161616" class="t">58.7</text>
<rect x="284.44" y="383.22" width="17.11" height="6.46" fill="#fff"/>
<text x="301.05" y="389.15" font-size="7.6" text-anchor="end" font-weight="normal" fill="#161616" class="t">31.8</text>
<rect x="239.3" y="439.67" width="17.11" height="6.46" fill="#fff"/>
<text x="239.8" y="445.6" font-size="7.6" text-anchor="start" font-weight="normal" fill="#161616" class="t">4.39</text>
<rect x="284.44" y="439.67" width="17.11" height="6.46" fill="#fff"/>
<text x="301.05" y="445.6" font-size="7.6" text-anchor="end" font-weight="normal" fill="#161616" class="t">5.11</text>
<rect x="237.5" y="381.25" width="65.75" height="65.25" fill="none" stroke="#000" stroke-width="1.35"/>
<text x="231.3" y="392" font-size="8.4" text-anchor="end" font-weight="normal" fill="#161616">10<tspan dy="-3.53" font-size="6.55">5</tspan></text>
<text x="231.3" y="407" font-size="8.4" text-anchor="end" font-weight="normal" fill="#161616">10<tspan dy="-3.53" font-size="6.55">4</tspan></text>
<text x="231.3" y="422" font-size="8.4" text-anchor="end" font-weight="normal" fill="#161616">10<tspan dy="-3.53" font-size="6.55">3</tspan></text>
<text x="231.3" y="437" font-size="8.4" text-anchor="end" font-weight="normal" fill="#161616">10<tspan dy="-3.53" font-size="6.55">2</tspan></text>
<text x="232.9" y="443" font-size="8.4" text-anchor="end" font-weight="normal" fill="#161616">0</text>
<path d="M237.5 388h-2.8M237.5 398.48h-1.5M237.5 395.84h-1.5M237.5 393.97h-1.5M237.5 392.52h-1.5M237.5 391.33h-1.5M237.5 390.32h-1.5M237.5 389.45h-1.5M237.5 388.69h-1.5M237.5 403h-2.8M237.5 413.48h-1.5M237.5 410.84h-1.5M237.5 408.97h-1.5M237.5 407.52h-1.5M237.5 406.33h-1.5M237.5 405.32h-1.5M237.5 404.45h-1.5M237.5 403.69h-1.5M237.5 418h-2.8M237.5 428.48h-1.5M237.5 425.84h-1.5M237.5 423.97h-1.5M237.5 422.52h-1.5M237.5 421.33h-1.5M237.5 420.32h-1.5M237.5 419.45h-1.5M237.5 418.69h-1.5M237.5 433h-2.8M237.5 440h-2.8M237.5 434.17h-1.5M237.5 442.17h-1.5M237.5 435.33h-1.5M237.5 444.33h-1.5M237.5 436.5h-1.5M237.5 446.5h-1.5M237.5 437.67h-1.5M237.5 438.83h-1.5" stroke="#000" stroke-width=".95"/>
<path d="M239.3 446.5v2.8M252.7 446.5v2.8M267.8 446.5v2.8M282.9 446.5v2.8M297.8 446.5v2.8M257.25 446.5v2M259.9 446.5v2M261.79 446.5v2M263.25 446.5v2M264.45 446.5v2M265.46 446.5v2M266.34 446.5v2M267.11 446.5v2M272.35 446.5v2M275 446.5v2M276.89 446.5v2M278.35 446.5v2M279.55 446.5v2M280.56 446.5v2M281.44 446.5v2M282.21 446.5v2M287.39 446.5v2M290.01 446.5v2M291.87 446.5v2M293.31 446.5v2M294.49 446.5v2M295.49 446.5v2M296.36 446.5v2M297.12 446.5v2M242.65 446.5v2M246 446.5v2M249.35 446.5v2M238.1 446.5v2M302.29 446.5v2" stroke="#000" stroke-width=".95"/>
<text transform="translate(246.7,456.6) rotate(-45)" font-size="8.4" text-anchor="end" font-weight="normal" fill="#161616">0</text>
<text transform="translate(256.5,457.1) rotate(-45)" font-size="8.4" text-anchor="end" font-weight="normal" fill="#161616">10<tspan dy="-3.53" font-size="6.22">2</tspan></text>
<text transform="translate(270,457.1) rotate(-45)" font-size="8.4" text-anchor="end" font-weight="normal" fill="#161616">10<tspan dy="-3.53" font-size="6.22">3</tspan></text>
<text transform="translate(285.5,457.1) rotate(-45)" font-size="8.4" text-anchor="end" font-weight="normal" fill="#161616">10<tspan dy="-3.53" font-size="6.22">4</tspan></text>
<text transform="translate(300.3,457.1) rotate(-45)" font-size="8.4" text-anchor="end" font-weight="normal" fill="#161616">10<tspan dy="-3.53" font-size="6.22">5</tspan></text>
<text x="7.2" y="17.3" font-size="12.3" text-anchor="start" font-weight="bold" fill="#000">A</text>
<text x="7.4" y="254.5" font-size="12.3" text-anchor="start" font-weight="bold" fill="#000">C</text>
<text x="7.2" y="493.7" font-size="12.3" text-anchor="start" font-weight="bold" fill="#000">D</text>
<text x="426.6" y="103.3" font-size="12.3" text-anchor="start" font-weight="bold" fill="#000">B</text>
<text x="422.6" y="577.3" font-size="12.3" text-anchor="start" font-weight="bold" fill="#000">E</text>
<text x="175.5" y="19.3" font-size="10.0" text-anchor="middle" font-weight="normal" fill="#161616">CD3<tspan dy="-3.6" font-size="7">+</tspan><tspan dy="3.6"> CFSE</tspan><tspan dy="-3.6" font-size="7">lo</tspan><tspan dy="3.6"> T cells</tspan></text>
<path d="M47.5 24.5L303.4 24.5" stroke="#161616" stroke-width="1.0" fill="none"/>
<text x="79.5" y="34.7" font-size="8.1" text-anchor="middle" font-weight="normal" fill="#161616" letter-spacing="0.12" class="t">+ iDC</text>
<text x="175.8" y="34.7" font-size="8.1" text-anchor="middle" font-weight="normal" fill="#161616" letter-spacing="0.12" class="t">+ NK-iDC</text>
<text x="271.7" y="34.7" font-size="8.1" text-anchor="middle" font-weight="normal" fill="#161616" letter-spacing="0.12" class="t">+ NK//iDC</text>
<text x="79.5" y="135.3" font-size="8.1" text-anchor="middle" font-weight="normal" fill="#161616" letter-spacing="0.05" class="t">+ TNFα-DC</text>
<text x="175.5" y="135.3" font-size="8.1" text-anchor="middle" font-weight="normal" fill="#161616" letter-spacing="0.05" class="t">+ TNFα-NK-DC</text>
<text x="271.5" y="135.3" font-size="8.1" text-anchor="middle" font-weight="normal" fill="#161616" letter-spacing="0.05" class="t">+ TNFα-NK//DC</text>
<path d="M21.4 230.8L21.4 67.4" stroke="#161616" stroke-width="1.0" fill="none"/>
<path d="M21.4 63.4L19 68.7L23.8 68.7Z" fill="#161616"/>
<text transform="translate(25.3,53.3) rotate(-90) scale(0.585,1)" font-size="10.8" text-anchor="middle" font-weight="normal" fill="#161616" stroke="#161616" stroke-width="0.45">CD4</text>
<path d="M20.9 230.3L279.8 230.3" stroke="#161616" stroke-width="1.0" fill="none"/>
<path d="M283.8 230.3L278.3 228L278.3 232.6Z" fill="#161616"/>
<text transform="translate(286.9,234.2) scale(0.585,1)" font-size="10.8" text-anchor="start" font-weight="normal" fill="#161616" stroke="#161616" stroke-width="0.45">CD8</text>
<text x="175.5" y="256" font-size="10.0" text-anchor="middle" font-weight="normal" fill="#161616">CD3<tspan dy="-3.6" font-size="7">+</tspan><tspan dy="3.6"> CFSE</tspan><tspan dy="-3.6" font-size="7">lo</tspan><tspan dy="3.6"> T cells</tspan></text>
<path d="M47.5 261.5L303.4 261.5" stroke="#161616" stroke-width="1.0" fill="none"/>
<text x="80.5" y="271.5" font-size="8.1" text-anchor="middle" font-weight="normal" fill="#161616" letter-spacing="0.12" class="t">iDC</text>
<text x="175.5" y="271.5" font-size="8.1" text-anchor="middle" font-weight="normal" fill="#161616" letter-spacing="0.12" class="t">NK-iDC</text>
<text x="271" y="271.5" font-size="8.1" text-anchor="middle" font-weight="normal" fill="#161616" letter-spacing="0.12" class="t">+ NK//iDC</text>
<path d="M21.4 369.4L21.4 320.5" stroke="#161616" stroke-width="1.0" fill="none"/>
<path d="M21.4 316.5L19 321.8L23.8 321.8Z" fill="#161616"/>
<text transform="translate(25.3,300.2) rotate(-90) scale(0.585,1)" font-size="10.8" text-anchor="middle" font-weight="normal" fill="#161616" stroke="#161616" stroke-width="0.45">CD45RO</text>
<path d="M20.9 368.9L278.5 368.9" stroke="#161616" stroke-width="1.0" fill="none"/>
<path d="M282.5 368.9L277 366.6L277 371.2Z" fill="#161616"/>
<text transform="translate(285.8,372.8) scale(0.585,1)" font-size="10.8" text-anchor="start" font-weight="normal" fill="#161616" stroke="#161616" stroke-width="0.45">CD4</text>
<path d="M21.4 474L21.4 422.6" stroke="#161616" stroke-width="1.0" fill="none"/>
<path d="M21.4 418.6L19 423.9L23.8 423.9Z" fill="#161616"/>
<text transform="translate(25.3,402) rotate(-90) scale(0.585,1)" font-size="10.8" text-anchor="middle" font-weight="normal" fill="#161616" stroke="#161616" stroke-width="0.45">CD45RO</text>
<path d="M20.9 473.5L278.5 473.5" stroke="#161616" stroke-width="1.0" fill="none"/>
<path d="M282.5 473.5L277 471.2L277 475.8Z" fill="#161616"/>
<text transform="translate(285.8,477.4) scale(0.585,1)" font-size="10.8" text-anchor="start" font-weight="normal" fill="#161616" stroke="#161616" stroke-width="0.45">CD8</text>
<path d="M352.5 27.9L352.5 110.7" stroke="#161616" stroke-width="1.15" fill="none"/>
<path d="M349.5 110.2L352.5 110.2" stroke="#161616" stroke-width="0.95" fill="none"/>
<text x="346.4" y="113.2" font-size="8.5" text-anchor="end" font-weight="normal" fill="#161616">0</text>
<path d="M349.5 98.77L352.5 98.77" stroke="#161616" stroke-width="0.95" fill="none"/>
<text x="346.4" y="101.77" font-size="8.5" text-anchor="end" font-weight="normal" fill="#161616">10</text>
<path d="M349.5 87.34L352.5 87.34" stroke="#161616" stroke-width="0.95" fill="none"/>
<text x="346.4" y="90.34" font-size="8.5" text-anchor="end" font-weight="normal" fill="#161616">20</text>
<path d="M349.5 75.91L352.5 75.91" stroke="#161616" stroke-width="0.95" fill="none"/>
<text x="346.4" y="78.91" font-size="8.5" text-anchor="end" font-weight="normal" fill="#161616">30</text>
<path d="M349.5 64.48L352.5 64.48" stroke="#161616" stroke-width="0.95" fill="none"/>
<text x="346.4" y="67.48" font-size="8.5" text-anchor="end" font-weight="normal" fill="#161616">40</text>
<path d="M349.5 53.05L352.5 53.05" stroke="#161616" stroke-width="0.95" fill="none"/>
<text x="346.4" y="56.05" font-size="8.5" text-anchor="end" font-weight="normal" fill="#161616">50</text>
<path d="M349.5 41.62L352.5 41.62" stroke="#161616" stroke-width="0.95" fill="none"/>
<text x="346.4" y="44.62" font-size="8.5" text-anchor="end" font-weight="normal" fill="#161616">60</text>
<path d="M349.5 30.19L352.5 30.19" stroke="#161616" stroke-width="0.95" fill="none"/>
<text x="346.4" y="33.19" font-size="8.5" text-anchor="end" font-weight="normal" fill="#161616">70</text>
<path d="M352.5 110.2L407 110.2" stroke="#161616" stroke-width="1.15" fill="none"/>
<path d="M365.8 110.2L365.8 112.8" stroke="#161616" stroke-width="0.95" fill="none"/>
<path d="M393 110.2L393 112.8" stroke="#161616" stroke-width="0.95" fill="none"/>
<path d="M358.6 40.98L358.6 34.76" stroke="#222" stroke-width="0.95" fill="none"/>
<path d="M357.1 34.76L360.1 34.76" stroke="#222" stroke-width="0.95" fill="none"/>
<rect x="356.2" y="40.48" width="4.8" height="69.72" fill="#a8002a"/>
<path d="M366.35 56.98L366.35 51.91" stroke="#222" stroke-width="0.95" fill="none"/>
<path d="M364.85 51.91L367.85 51.91" stroke="#222" stroke-width="0.95" fill="none"/>
<rect x="364" y="56.48" width="4.7" height="53.72" fill="#2a4782"/>
<path d="M373.6 50.69L373.6 35.33" stroke="#222" stroke-width="0.95" fill="none"/>
<path d="M372.1 35.33L375.1 35.33" stroke="#222" stroke-width="0.95" fill="none"/>
<rect x="371.2" y="50.19" width="4.8" height="60.01" fill="#68a83f"/>
<path d="M385.9 38.69L385.9 32.48" stroke="#222" stroke-width="0.95" fill="none"/>
<path d="M384.4 32.48L387.4 32.48" stroke="#222" stroke-width="0.95" fill="none"/>
<rect x="383.5" y="38.19" width="4.8" height="72.01" fill="#a8002a"/>
<path d="M393.5 67.27L393.5 62.77" stroke="#222" stroke-width="0.95" fill="none"/>
<path d="M392 62.77L395 62.77" stroke="#222" stroke-width="0.95" fill="none"/>
<rect x="391.2" y="66.77" width="4.6" height="43.43" fill="#2a4782"/>
<path d="M400.65 54.69L400.65 41.62" stroke="#222" stroke-width="0.95" fill="none"/>
<path d="M399.15 41.62L402.15 41.62" stroke="#222" stroke-width="0.95" fill="none"/>
<rect x="398.3" y="54.19" width="4.7" height="56.01" fill="#68a83f"/>
<path d="M358.6 31.4V29.6H366.4V31.4" stroke="#1a1a1a" stroke-width="0.95" fill="none"/>
<circle cx="359.3" cy="25.2" r="0.9" fill="#111"/>
<circle cx="362.5" cy="25.2" r="0.9" fill="#111"/>
<circle cx="365.7" cy="25.2" r="0.9" fill="#111"/>
<path d="M385.9 29.1V27.3H393.5V29.1" stroke="#1a1a1a" stroke-width="0.95" fill="none"/>
<circle cx="386.5" cy="22.8" r="0.9" fill="#111"/>
<circle cx="389.7" cy="22.8" r="0.9" fill="#111"/>
<circle cx="392.9" cy="22.8" r="0.9" fill="#111"/>
<path d="M385.9 19V17.2H400.8V19" stroke="#1a1a1a" stroke-width="0.95" fill="none"/>
<circle cx="393.35" cy="12.6" r="0.9" fill="#111"/>
<path d="M352.3 123.5L352.3 205.7" stroke="#161616" stroke-width="1.15" fill="none"/>
<path d="M349.3 205.2L352.3 205.2" stroke="#161616" stroke-width="0.95" fill="none"/>
<text x="346.2" y="208.2" font-size="8.5" text-anchor="end" font-weight="normal" fill="#161616">0</text>
<path d="M349.3 193.93L352.3 193.93" stroke="#161616" stroke-width="0.95" fill="none"/>
<text x="346.2" y="196.93" font-size="8.5" text-anchor="end" font-weight="normal" fill="#161616">10</text>
<path d="M349.3 182.66L352.3 182.66" stroke="#161616" stroke-width="0.95" fill="none"/>
<text x="346.2" y="185.66" font-size="8.5" text-anchor="end" font-weight="normal" fill="#161616">20</text>
<path d="M349.3 171.39L352.3 171.39" stroke="#161616" stroke-width="0.95" fill="none"/>
<text x="346.2" y="174.39" font-size="8.5" text-anchor="end" font-weight="normal" fill="#161616">30</text>
<path d="M349.3 160.12L352.3 160.12" stroke="#161616" stroke-width="0.95" fill="none"/>
<text x="346.2" y="163.12" font-size="8.5" text-anchor="end" font-weight="normal" fill="#161616">40</text>
<path d="M349.3 148.85L352.3 148.85" stroke="#161616" stroke-width="0.95" fill="none"/>
<text x="346.2" y="151.85" font-size="8.5" text-anchor="end" font-weight="normal" fill="#161616">50</text>
<path d="M349.3 137.58L352.3 137.58" stroke="#161616" stroke-width="0.95" fill="none"/>
<text x="346.2" y="140.58" font-size="8.5" text-anchor="end" font-weight="normal" fill="#161616">60</text>
<path d="M349.3 126.31L352.3 126.31" stroke="#161616" stroke-width="0.95" fill="none"/>
<text x="346.2" y="129.31" font-size="8.5" text-anchor="end" font-weight="normal" fill="#161616">70</text>
<path d="M352.3 205.2L407 205.2" stroke="#161616" stroke-width="1.15" fill="none"/>
<path d="M365.8 205.2L365.8 207.8" stroke="#161616" stroke-width="0.95" fill="none"/>
<path d="M393 205.2L393 207.8" stroke="#161616" stroke-width="0.95" fill="none"/>
<path d="M358.6 175.83L358.6 169.14" stroke="#222" stroke-width="0.95" fill="none"/>
<path d="M357.1 169.14L360.1 169.14" stroke="#222" stroke-width="0.95" fill="none"/>
<rect x="356.2" y="175.33" width="4.8" height="29.87" fill="#a8002a"/>
<path d="M366.35 160.62L366.35 155.61" stroke="#222" stroke-width="0.95" fill="none"/>
<path d="M364.85 155.61L367.85 155.61" stroke="#222" stroke-width="0.95" fill="none"/>
<rect x="364" y="160.12" width="4.7" height="45.08" fill="#2a4782"/>
<path d="M373.6 167.61L373.6 157.3" stroke="#222" stroke-width="0.95" fill="none"/>
<path d="M372.1 157.3L375.1 157.3" stroke="#222" stroke-width="0.95" fill="none"/>
<rect x="371.2" y="167.11" width="4.8" height="38.09" fill="#68a83f"/>
<path d="M385.9 175.27L385.9 168.57" stroke="#222" stroke-width="0.95" fill="none"/>
<path d="M384.4 168.57L387.4 168.57" stroke="#222" stroke-width="0.95" fill="none"/>
<rect x="383.5" y="174.77" width="4.8" height="30.43" fill="#a8002a"/>
<path d="M393.5 149.91L393.5 144.34" stroke="#222" stroke-width="0.95" fill="none"/>
<path d="M392 144.34L395 144.34" stroke="#222" stroke-width="0.95" fill="none"/>
<rect x="391.2" y="149.41" width="4.6" height="55.79" fill="#2a4782"/>
<path d="M400.65 168.17L400.65 159.56" stroke="#222" stroke-width="0.95" fill="none"/>
<path d="M399.15 159.56L402.15 159.56" stroke="#222" stroke-width="0.95" fill="none"/>
<rect x="398.3" y="167.67" width="4.7" height="37.53" fill="#68a83f"/>
<path d="M358.7 153.1V151.3H366.2V153.1" stroke="#1a1a1a" stroke-width="0.95" fill="none"/>
<circle cx="359.25" cy="146.2" r="0.9" fill="#111"/>
<circle cx="362.45" cy="146.2" r="0.9" fill="#111"/>
<circle cx="365.65" cy="146.2" r="0.9" fill="#111"/>
<path d="M385.9 141V139.2H393.4V141" stroke="#1a1a1a" stroke-width="0.95" fill="none"/>
<circle cx="386.45" cy="134.9" r="0.9" fill="#111"/>
<circle cx="389.65" cy="134.9" r="0.9" fill="#111"/>
<circle cx="392.85" cy="134.9" r="0.9" fill="#111"/>
<path d="M392.9 131.6V129.8H400.3V131.6" stroke="#1a1a1a" stroke-width="0.95" fill="none"/>
<circle cx="395" cy="125.4" r="0.9" fill="#111"/>
<circle cx="398.2" cy="125.4" r="0.9" fill="#111"/>
<text transform="translate(368.6,215.2) rotate(-45)" font-size="7.9" text-anchor="end" font-weight="normal" fill="#161616" class="t">Untreated</text>
<text transform="translate(395.6,215.2) rotate(-45)" font-size="7.9" text-anchor="end" font-weight="normal" fill="#161616" class="t">TNF-α-treated</text>
<rect x="410.5" y="28.5" width="5.3" height="5.3" fill="#a8002a"/>
<text x="419.2" y="33.9" font-size="7.7" text-anchor="start" font-weight="normal" fill="#161616" class="t">iDC</text>
<rect x="410.5" y="40.5" width="5.3" height="5.3" fill="#2a4782"/>
<text x="419.2" y="45.9" font-size="7.7" text-anchor="start" font-weight="normal" fill="#161616" class="t">NK-iDC</text>
<rect x="410.5" y="52.3" width="5.3" height="5.3" fill="#68a83f"/>
<text x="419.2" y="57.7" font-size="7.7" text-anchor="start" font-weight="normal" fill="#161616" class="t">NK//iDC</text>
<text transform="translate(331,69) rotate(-90) scale(0.72,1)" font-size="9.0" text-anchor="middle" font-weight="bold" fill="#161616">% CFSE<tspan dy="-3" font-size="6.2">lo</tspan><tspan dy="3"> CD4</tspan><tspan dy="-3" font-size="6.2">+</tspan></text>
<text transform="translate(331,165.5) rotate(-90) scale(0.72,1)" font-size="9.0" text-anchor="middle" font-weight="bold" fill="#161616">% CFSE<tspan dy="-3" font-size="6.2">lo</tspan><tspan dy="3"> CD8</tspan><tspan dy="-3" font-size="6.2">+</tspan></text>
<text x="485" y="113.3" font-size="7.7" text-anchor="middle" font-weight="normal" fill="#161616" class="t">NK-iDC</text>
<path d="M468.8 118.4L501.4 118.4" stroke="#161616" stroke-width="1.0" fill="none"/>
<path d="M469.4 127.8L469.4 205.7" stroke="#161616" stroke-width="1.15" fill="none"/>
<path d="M466.4 205.2L469.4 205.2" stroke="#161616" stroke-width="0.95" fill="none"/>
<text x="463.3" y="208.2" font-size="8.5" text-anchor="end" font-weight="normal" fill="#161616">0</text>
<path d="M466.4 192.87L469.4 192.87" stroke="#161616" stroke-width="0.95" fill="none"/>
<text x="463.3" y="195.87" font-size="8.5" text-anchor="end" font-weight="normal" fill="#161616">10</text>
<path d="M466.4 180.54L469.4 180.54" stroke="#161616" stroke-width="0.95" fill="none"/>
<text x="463.3" y="183.54" font-size="8.5" text-anchor="end" font-weight="normal" fill="#161616">20</text>
<path d="M466.4 168.21L469.4 168.21" stroke="#161616" stroke-width="0.95" fill="none"/>
<text x="463.3" y="171.21" font-size="8.5" text-anchor="end" font-weight="normal" fill="#161616">30</text>
<path d="M466.4 155.88L469.4 155.88" stroke="#161616" stroke-width="0.95" fill="none"/>
<text x="463.3" y="158.88" font-size="8.5" text-anchor="end" font-weight="normal" fill="#161616">40</text>
<path d="M466.4 143.55L469.4 143.55" stroke="#161616" stroke-width="0.95" fill="none"/>
<text x="463.3" y="146.55" font-size="8.5" text-anchor="end" font-weight="normal" fill="#161616">50</text>
<path d="M466.4 131.22L469.4 131.22" stroke="#161616" stroke-width="0.95" fill="none"/>
<text x="463.3" y="134.22" font-size="8.5" text-anchor="end" font-weight="normal" fill="#161616">60</text>
<path d="M469.4 205.2L497.5 205.2" stroke="#161616" stroke-width="1.15" fill="none"/>
<path d="M476.4 205.2L476.4 207.8" stroke="#161616" stroke-width="0.95" fill="none"/>
<path d="M491 205.2L491 207.8" stroke="#161616" stroke-width="0.95" fill="none"/>
<path d="M476.3 136.2V134.4H490.5V136.2" stroke="#1a1a1a" stroke-width="0.95" fill="none"/>
<circle cx="481.8" cy="130.7" r="0.9" fill="#111"/>
<circle cx="485" cy="130.7" r="0.9" fill="#111"/>
<circle cx="473.4" cy="141.6" r="1.85" fill="none" stroke="#a8002a" stroke-width="1.0"/>
<circle cx="477" cy="141.8" r="1.85" fill="none" stroke="#a8002a" stroke-width="1.0"/>
<circle cx="479.8" cy="143" r="1.85" fill="none" stroke="#a8002a" stroke-width="1.0"/>
<circle cx="473.5" cy="145" r="1.85" fill="none" stroke="#a8002a" stroke-width="1.0"/>
<circle cx="476.8" cy="151" r="1.85" fill="none" stroke="#a8002a" stroke-width="1.0"/>
<circle cx="476.8" cy="158.8" r="1.85" fill="none" stroke="#a8002a" stroke-width="1.0"/>
<path d="M472 147.4H481.4M476.7 140.9V154.2M474.7 140.9H478.7M474.7 154.2H478.7" stroke="#111" stroke-width="0.95" fill="none"/>
<circle cx="487.6" cy="157.2" r="1.85" fill="none" stroke="#a8002a" stroke-width="1.0"/>
<circle cx="490.9" cy="157.2" r="1.85" fill="none" stroke="#a8002a" stroke-width="1.0"/>
<circle cx="493.8" cy="157.2" r="1.85" fill="none" stroke="#a8002a" stroke-width="1.0"/>
<circle cx="487.6" cy="164.3" r="1.85" fill="none" stroke="#a8002a" stroke-width="1.0"/>
<circle cx="490.9" cy="168" r="1.85" fill="none" stroke="#a8002a" stroke-width="1.0"/>
<circle cx="490.9" cy="178.9" r="1.85" fill="none" stroke="#a8002a" stroke-width="1.0"/>
<path d="M486.3 164.1H495.7M491 155.9V172.6M489 155.9H493M489 172.6H493" stroke="#111" stroke-width="0.95" fill="none"/>
<text transform="translate(447.9,167.4) rotate(-90) scale(0.72,1)" font-size="9.0" text-anchor="middle" font-weight="bold" fill="#161616">% CFSE<tspan dy="-3" font-size="6.2">lo</tspan><tspan dy="3"> CD8</tspan><tspan dy="-3" font-size="6.2">+</tspan></text>
<text transform="translate(480.5,213.8) rotate(-45)" font-size="7.9" text-anchor="end" font-weight="normal" fill="#161616" class="t">α-IgG1,κ</text>
<text transform="translate(494.5,213.8) rotate(-45)" font-size="7.9" text-anchor="end" font-weight="normal" fill="#161616" class="t">α-NKp30</text>
<path d="M364.5 311.25L364.5 401.75" stroke="#161616" stroke-width="1.15" fill="none"/>
<path d="M361.5 401.25L364.5 401.25" stroke="#161616" stroke-width="0.95" fill="none"/>
<text x="358.4" y="404.25" font-size="8.5" text-anchor="end" font-weight="normal" fill="#161616">0</text>
<path d="M361.5 379.5L364.5 379.5" stroke="#161616" stroke-width="0.95" fill="none"/>
<text x="358.4" y="382.5" font-size="8.5" text-anchor="end" font-weight="normal" fill="#161616">20</text>
<path d="M361.5 357.75L364.5 357.75" stroke="#161616" stroke-width="0.95" fill="none"/>
<text x="358.4" y="360.75" font-size="8.5" text-anchor="end" font-weight="normal" fill="#161616">40</text>
<path d="M361.5 336L364.5 336" stroke="#161616" stroke-width="0.95" fill="none"/>
<text x="358.4" y="339" font-size="8.5" text-anchor="end" font-weight="normal" fill="#161616">60</text>
<path d="M361.5 314.25L364.5 314.25" stroke="#161616" stroke-width="0.95" fill="none"/>
<text x="358.4" y="317.25" font-size="8.5" text-anchor="end" font-weight="normal" fill="#161616">80</text>
<path d="M361.5 401.25L432 401.25" stroke="#161616" stroke-width="1.15" fill="none"/>
<path d="M375.5 401.25L375.5 403.85" stroke="#161616" stroke-width="0.95" fill="none"/>
<path d="M398 401.25L398 403.85" stroke="#161616" stroke-width="0.95" fill="none"/>
<path d="M420.75 401.25L420.75 403.85" stroke="#161616" stroke-width="0.95" fill="none"/>
<path d="M371 328.89L371 322.95" stroke="#222" stroke-width="0.95" fill="none"/>
<path d="M369.5 322.95L372.5 322.95" stroke="#222" stroke-width="0.95" fill="none"/>
<rect x="368.25" y="328.39" width="5.5" height="72.86" fill="#a8002a"/>
<path d="M379.75 372.93L379.75 365.36" stroke="#222" stroke-width="0.95" fill="none"/>
<path d="M378.25 365.36L381.25 365.36" stroke="#222" stroke-width="0.95" fill="none"/>
<rect x="377" y="372.43" width="5.5" height="28.82" fill="#2a4782"/>
<path d="M394 353.9L394 347.96" stroke="#222" stroke-width="0.95" fill="none"/>
<path d="M392.5 347.96L395.5 347.96" stroke="#222" stroke-width="0.95" fill="none"/>
<rect x="391.25" y="353.4" width="5.5" height="47.85" fill="#a8002a"/>
<path d="M402.75 352.27L402.75 345.79" stroke="#222" stroke-width="0.95" fill="none"/>
<path d="M401.25 345.79L404.25 345.79" stroke="#222" stroke-width="0.95" fill="none"/>
<rect x="400" y="351.77" width="5.5" height="49.48" fill="#2a4782"/>
<path d="M416.88 341.39L416.88 322.95" stroke="#222" stroke-width="0.95" fill="none"/>
<path d="M415.38 322.95L418.38 322.95" stroke="#222" stroke-width="0.95" fill="none"/>
<rect x="414.25" y="340.89" width="5.25" height="60.36" fill="#a8002a"/>
<path d="M425.25 371.3L425.25 360.47" stroke="#222" stroke-width="0.95" fill="none"/>
<path d="M423.75 360.47L426.75 360.47" stroke="#222" stroke-width="0.95" fill="none"/>
<rect x="422.5" y="370.8" width="5.5" height="30.45" fill="#2a4782"/>
<path d="M371.1 320.2V318.4H379.7V320.2" stroke="#1a1a1a" stroke-width="0.95" fill="none"/>
<circle cx="372.2" cy="314.5" r="0.9" fill="#111"/>
<circle cx="375.4" cy="314.5" r="0.9" fill="#111"/>
<circle cx="378.6" cy="314.5" r="0.9" fill="#111"/>
<path d="M393.5 343V341.2H402V343" stroke="#1a1a1a" stroke-width="0.95" fill="none"/>
<text x="397.75" y="336.2" font-size="7.0" text-anchor="middle" font-weight="normal" fill="#161616" class="t">NS</text>
<path d="M416.5 320.2V318.4H425V320.2" stroke="#1a1a1a" stroke-width="0.95" fill="none"/>
<circle cx="419.15" cy="314.5" r="0.9" fill="#111"/>
<circle cx="422.35" cy="314.5" r="0.9" fill="#111"/>
<rect x="367.7" y="301.2" width="10" height="5.3" fill="#a8002a"/>
<text x="380.8" y="306.5" font-size="7.8" text-anchor="start" font-weight="normal" fill="#161616" class="t">CD4</text>
<rect x="400.3" y="301.2" width="9.7" height="5.3" fill="#2a4782"/>
<text x="413" y="306.5" font-size="7.8" text-anchor="start" font-weight="normal" fill="#161616" class="t">CD8</text>
<text transform="translate(378.6,411.2) rotate(-45)" font-size="8.1" text-anchor="end" font-weight="normal" fill="#161616" class="t">iDC</text>
<text transform="translate(401.1,411.2) rotate(-45)" font-size="8.1" text-anchor="end" font-weight="normal" fill="#161616" class="t">NK-iDC</text>
<text transform="translate(423.6,411.2) rotate(-45)" font-size="8.1" text-anchor="end" font-weight="normal" fill="#161616" class="t">NK//iDC</text>
<text transform="translate(330.5,356) rotate(-90) scale(0.72,1)" font-size="9.0" text-anchor="middle" font-weight="bold" fill="#161616">% CD3<tspan dy="-3" font-size="6.2">+</tspan><tspan dy="3"> CFSE</tspan><tspan dy="-3" font-size="6.2">lo</tspan></text>
<text transform="translate(341.3,357) rotate(-90) scale(0.72,1)" font-size="9.0" text-anchor="middle" font-weight="bold" fill="#161616">CD45RO<tspan dy="-3" font-size="6.2">+</tspan></text>
<text x="87.5" y="495.3" font-size="10.2" text-anchor="start" font-weight="normal" fill="#161616">CFSE<tspan dy="-3.7" font-size="7">lo</tspan><tspan dy="3.7"> CD4</tspan><tspan dy="-3.9" font-size="7.8">+</tspan></text>
<path d="M37.5 500.5L198.5 500.5" stroke="#161616" stroke-width="1.0" fill="none"/>
<text x="290.5" y="495.3" font-size="10.2" text-anchor="start" font-weight="normal" fill="#161616">CFSE<tspan dy="-3.7" font-size="7">lo</tspan><tspan dy="3.7"> CD8</tspan><tspan dy="-3.9" font-size="7.8">+</tspan></text>
<path d="M240 500.5L401.5 500.5" stroke="#161616" stroke-width="1.0" fill="none"/>
<polygon points="41,568.2 43.2,559.79 45,550.8 46.1,541.75 47,532.82 48.2,523.71 49.4,514.83 50.3,510.19 50.9,519.47 51.8,528.18 52.7,537.46 54.1,546.16 55.9,555.44 58.2,563.56 60.9,567.04 62.2,568.2" fill="#a8002a" stroke="#a8002a" stroke-width="0.4"/>
<polyline points="40.5,568.2 42.8,559.79 44.6,550.8 45.8,541.75 46.8,532.82 48,523.71 49.3,514.83 50.5,510.19 51.3,517.15 52.3,523.54 54.1,532.82 55,541.75 56.3,550.8 58.2,559.79 60.4,564.31 64,567.04 67.6,568.2" fill="none" stroke="#2d4f94" stroke-width="0.95"/>
<polyline points="42.3,568.2 45.5,555.44 47.3,541.75 49.6,532.82 51.8,523.71 53.6,511.35 54.5,523.54 56.3,537.46 58.6,546.16 61.3,555.44 64.9,561.82 69.5,566.11 74,567.74 76,568.2" fill="none" stroke="#79b84f" stroke-width="1.1" stroke-dasharray="2.2 1.3"/>
<rect x="36.5" y="505.5" width="63.5" height="63.3" fill="none" stroke="#000" stroke-width="1.2"/>
<text x="30.6" y="571.1" font-size="8.3" text-anchor="end" font-weight="normal" fill="#161616" class="t">0</text>
<text x="30.6" y="559.14" font-size="8.3" text-anchor="end" font-weight="normal" fill="#161616" class="t">20</text>
<text x="30.6" y="547.18" font-size="8.3" text-anchor="end" font-weight="normal" fill="#161616" class="t">40</text>
<text x="30.6" y="535.22" font-size="8.3" text-anchor="end" font-weight="normal" fill="#161616" class="t">60</text>
<text x="30.6" y="523.26" font-size="8.3" text-anchor="end" font-weight="normal" fill="#161616" class="t">80</text>
<text x="30.6" y="511.3" font-size="8.3" text-anchor="end" font-weight="normal" fill="#161616" class="t">100</text>
<path d="M36.5 568.2h-3.2M36.5 565.21h-1.5M36.5 562.22h-1.5M36.5 559.23h-1.5M36.5 556.24h-3.2M36.5 553.25h-1.5M36.5 550.26h-1.5M36.5 547.27h-1.5M36.5 544.28h-3.2M36.5 541.29h-1.5M36.5 538.3h-1.5M36.5 535.31h-1.5M36.5 532.32h-3.2M36.5 529.33h-1.5M36.5 526.34h-1.5M36.5 523.35h-1.5M36.5 520.36h-3.2M36.5 517.37h-1.5M36.5 514.38h-1.5M36.5 511.39h-1.5M36.5 508.4h-3.2" stroke="#000" stroke-width="1"/>
<path d="M38.2 568.8v2.8M50 568.8v2.8M65.7 568.8v2.8M80.2 568.8v2.8M94.4 568.8v2.8M54.73 568.8v2M57.49 568.8v2M59.45 568.8v2M60.97 568.8v2M62.22 568.8v2M63.27 568.8v2M64.18 568.8v2M64.98 568.8v2M70.06 568.8v2M72.62 568.8v2M74.43 568.8v2M75.84 568.8v2M76.98 568.8v2M77.95 568.8v2M78.79 568.8v2M79.54 568.8v2M84.47 568.8v2M86.98 568.8v2M88.75 568.8v2M90.13 568.8v2M91.25 568.8v2M92.2 568.8v2M93.02 568.8v2M93.75 568.8v2M41.15 568.8v2M44.1 568.8v2M47.05 568.8v2M98.67 568.8v2" stroke="#000" stroke-width=".95"/>
<text transform="translate(44.5,579.5) rotate(-45)" font-size="8.4" text-anchor="end" font-weight="normal" fill="#161616">0</text>
<text transform="translate(53.5,579.7) rotate(-45)" font-size="8.4" text-anchor="end" font-weight="normal" fill="#161616">10<tspan dy="-3.53" font-size="6.22">2</tspan></text>
<text transform="translate(68.7,579.7) rotate(-45)" font-size="8.4" text-anchor="end" font-weight="normal" fill="#161616">10<tspan dy="-3.53" font-size="6.22">3</tspan></text>
<text transform="translate(82.7,579.7) rotate(-45)" font-size="8.4" text-anchor="end" font-weight="normal" fill="#161616">10<tspan dy="-3.53" font-size="6.22">4</tspan></text>
<text transform="translate(97.3,579.7) rotate(-45)" font-size="8.4" text-anchor="end" font-weight="normal" fill="#161616">10<tspan dy="-3.53" font-size="6.22">5</tspan></text>
<path d="M35 598L61.5 598" stroke="#161616" stroke-width="1.0" fill="none"/>
<path d="M65.5 598L60 595.7L60 600.3Z" fill="#161616"/>
<text transform="translate(70,601.9) scale(0.585,1)" font-size="10.8" text-anchor="start" font-weight="normal" fill="#161616" stroke="#161616" stroke-width="0.45">CTLA4</text>
<polygon points="41,676.4 42.2,655.37 43.3,631.32 44.3,616.3 45.4,631.32 46.8,655.37 48.7,676.4" fill="#e4e4e8" stroke="#737983" stroke-width="0.85"/>
<polygon points="45.8,676.4 49.6,675.2 53.5,673.39 56.3,669.19 58,664.98 59.2,660.17 60.7,650.56 61.9,640.94 63.1,631.32 64.3,625.31 65.2,621.11 66.4,616.3 67.9,622.91 68.8,636.13 69.8,650.56 70.7,656.57 71.7,660.17 73.7,669.19 76.1,675.2 77,676.4" fill="#a8002a" stroke="#a8002a" stroke-width="0.4"/>
<polyline points="53.5,676.4 55,674.6 57,673.39 61,672.79 62.5,669.19 64.5,660.17 66.9,640.94 68.4,626.52 69.3,616.3 70.3,631.32 71.7,645.75 74.1,660.17 76,669.19 78,674 80,676.4" fill="none" stroke="#79b84f" stroke-width="1.1" stroke-dasharray="2.2 1.3"/>
<polyline points="57.3,676.4 60,674 62.1,670.39 64.5,660.17 66.4,650.56 68.1,640.94 69.8,631.32 71.3,621.71 72.7,616.3 74.1,618.7 75.6,624.71 76.5,628.32 77.5,636.13 78.9,650.56 80.4,665.28 82.3,674 83.3,676.4" fill="none" stroke="#2d4f94" stroke-width="0.95"/>
<rect x="36.4" y="612.4" width="64.5" height="64.2" fill="none" stroke="#000" stroke-width="1.2"/>
<text x="30.5" y="679.3" font-size="8.3" text-anchor="end" font-weight="normal" fill="#161616" class="t">0</text>
<text x="30.5" y="667.28" font-size="8.3" text-anchor="end" font-weight="normal" fill="#161616" class="t">20</text>
<text x="30.5" y="655.26" font-size="8.3" text-anchor="end" font-weight="normal" fill="#161616" class="t">40</text>
<text x="30.5" y="643.24" font-size="8.3" text-anchor="end" font-weight="normal" fill="#161616" class="t">60</text>
<text x="30.5" y="631.22" font-size="8.3" text-anchor="end" font-weight="normal" fill="#161616" class="t">80</text>
<text x="30.5" y="619.2" font-size="8.3" text-anchor="end" font-weight="normal" fill="#161616" class="t">100</text>
<path d="M36.4 676.4h-3.2M36.4 673.39h-1.5M36.4 670.39h-1.5M36.4 667.38h-1.5M36.4 664.38h-3.2M36.4 661.38h-1.5M36.4 658.37h-1.5M36.4 655.37h-1.5M36.4 652.36h-3.2M36.4 649.36h-1.5M36.4 646.35h-1.5M36.4 643.35h-1.5M36.4 640.34h-3.2M36.4 637.33h-1.5M36.4 634.33h-1.5M36.4 631.32h-1.5M36.4 628.32h-3.2M36.4 625.31h-1.5M36.4 622.31h-1.5M36.4 619.3h-1.5M36.4 616.3h-3.2" stroke="#000" stroke-width="1"/>
<path d="M38.3 676.6v2.8M50.3 676.6v2.8M65.8 676.6v2.8M80.3 676.6v2.8M94.6 676.6v2.8M54.97 676.6v2M57.7 676.6v2M59.63 676.6v2M61.13 676.6v2M62.36 676.6v2M63.4 676.6v2M64.3 676.6v2M65.09 676.6v2M70.16 676.6v2M72.72 676.6v2M74.53 676.6v2M75.94 676.6v2M77.08 676.6v2M78.05 676.6v2M78.89 676.6v2M79.64 676.6v2M84.6 676.6v2M87.12 676.6v2M88.91 676.6v2M90.3 676.6v2M91.43 676.6v2M92.38 676.6v2M93.21 676.6v2M93.95 676.6v2M41.3 676.6v2M44.3 676.6v2M47.3 676.6v2M98.9 676.6v2" stroke="#000" stroke-width=".95"/>
<text transform="translate(44.4,687.3) rotate(-45)" font-size="8.4" text-anchor="end" font-weight="normal" fill="#161616">0</text>
<text transform="translate(53.4,687.5) rotate(-45)" font-size="8.4" text-anchor="end" font-weight="normal" fill="#161616">10<tspan dy="-3.53" font-size="6.22">2</tspan></text>
<text transform="translate(68.6,687.5) rotate(-45)" font-size="8.4" text-anchor="end" font-weight="normal" fill="#161616">10<tspan dy="-3.53" font-size="6.22">3</tspan></text>
<text transform="translate(82.6,687.5) rotate(-45)" font-size="8.4" text-anchor="end" font-weight="normal" fill="#161616">10<tspan dy="-3.53" font-size="6.22">4</tspan></text>
<text transform="translate(97.2,687.5) rotate(-45)" font-size="8.4" text-anchor="end" font-weight="normal" fill="#161616">10<tspan dy="-3.53" font-size="6.22">5</tspan></text>
<path d="M35.7 706.3L63 706.3" stroke="#161616" stroke-width="1.0" fill="none"/>
<path d="M67 706.3L61.5 704L61.5 708.6Z" fill="#161616"/>
<text transform="translate(71.3,710.2) scale(0.585,1)" font-size="10.8" text-anchor="start" font-weight="normal" fill="#161616" stroke="#161616" stroke-width="0.45">CD28</text>
<polygon points="247,569.5 248.5,562.37 249.8,552.27 251.2,533.86 252.3,515.45 253.3,510.1 253.9,515.45 254.4,533.86 255,548.71 255.8,560.59 257,569.5" fill="#e4e4e8" stroke="#737983" stroke-width="0.85"/>
<polygon points="251.2,569.5 253,563.56 254.8,552.27 255.8,538.02 256.2,533.86 256.7,531.48 259,531.48 259.9,524.36 260.8,515.45 261.4,510.1 262.6,519.6 264,533.86 265.1,547.52 266.3,561.18 267.7,562.37 269,565.94 270,569.5" fill="#a8002a" stroke="#a8002a" stroke-width="0.4"/>
<polyline points="246.6,569.5 249.8,561.18 252.6,552.27 253.5,547.52 254.8,533.86 255.8,519.6 257,513.07 258,510.1 259,519.6 259.6,529.11 260.8,542.77 262.6,556.43 264.9,564.75 268.6,569.5" fill="none" stroke="#2d4f94" stroke-width="0.95"/>
<polyline points="250.7,569.5 253.5,561.18 255.5,552.87 257.1,547.52 258.5,533.86 260.3,524.36 262.2,515.45 263.6,511.29 264.9,524.36 265.9,538.02 268.1,552.27 270,561.18 271.4,568.61 272,569.5" fill="none" stroke="#79b84f" stroke-width="1.1" stroke-dasharray="2.2 1.3"/>
<rect x="239.6" y="506.8" width="63.5" height="63.6" fill="none" stroke="#000" stroke-width="1.2"/>
<text x="233.7" y="572.4" font-size="8.3" text-anchor="end" font-weight="normal" fill="#161616" class="t">0</text>
<text x="233.7" y="560.52" font-size="8.3" text-anchor="end" font-weight="normal" fill="#161616" class="t">20</text>
<text x="233.7" y="548.64" font-size="8.3" text-anchor="end" font-weight="normal" fill="#161616" class="t">40</text>
<text x="233.7" y="536.76" font-size="8.3" text-anchor="end" font-weight="normal" fill="#161616" class="t">60</text>
<text x="233.7" y="524.88" font-size="8.3" text-anchor="end" font-weight="normal" fill="#161616" class="t">80</text>
<text x="233.7" y="513" font-size="8.3" text-anchor="end" font-weight="normal" fill="#161616" class="t">100</text>
<path d="M239.6 569.5h-3.2M239.6 566.53h-1.5M239.6 563.56h-1.5M239.6 560.59h-1.5M239.6 557.62h-3.2M239.6 554.65h-1.5M239.6 551.68h-1.5M239.6 548.71h-1.5M239.6 545.74h-3.2M239.6 542.77h-1.5M239.6 539.8h-1.5M239.6 536.83h-1.5M239.6 533.86h-3.2M239.6 530.89h-1.5M239.6 527.92h-1.5M239.6 524.95h-1.5M239.6 521.98h-3.2M239.6 519.01h-1.5M239.6 516.04h-1.5M239.6 513.07h-1.5M239.6 510.1h-3.2" stroke="#000" stroke-width="1"/>
<path d="M241.3 570.4v2.8M253.3 570.4v2.8M268.8 570.4v2.8M283.3 570.4v2.8M297.6 570.4v2.8M257.97 570.4v2M260.7 570.4v2M262.63 570.4v2M264.13 570.4v2M265.36 570.4v2M266.4 570.4v2M267.3 570.4v2M268.09 570.4v2M273.16 570.4v2M275.72 570.4v2M277.53 570.4v2M278.94 570.4v2M280.08 570.4v2M281.05 570.4v2M281.89 570.4v2M282.64 570.4v2M287.6 570.4v2M290.12 570.4v2M291.91 570.4v2M293.3 570.4v2M294.43 570.4v2M295.38 570.4v2M296.21 570.4v2M296.95 570.4v2M244.3 570.4v2M247.3 570.4v2M250.3 570.4v2M301.9 570.4v2" stroke="#000" stroke-width=".95"/>
<text transform="translate(247.6,581.1) rotate(-45)" font-size="8.4" text-anchor="end" font-weight="normal" fill="#161616">0</text>
<text transform="translate(256.6,581.3) rotate(-45)" font-size="8.4" text-anchor="end" font-weight="normal" fill="#161616">10<tspan dy="-3.53" font-size="6.22">2</tspan></text>
<text transform="translate(271.8,581.3) rotate(-45)" font-size="8.4" text-anchor="end" font-weight="normal" fill="#161616">10<tspan dy="-3.53" font-size="6.22">3</tspan></text>
<text transform="translate(285.8,581.3) rotate(-45)" font-size="8.4" text-anchor="end" font-weight="normal" fill="#161616">10<tspan dy="-3.53" font-size="6.22">4</tspan></text>
<text transform="translate(300.4,581.3) rotate(-45)" font-size="8.4" text-anchor="end" font-weight="normal" fill="#161616">10<tspan dy="-3.53" font-size="6.22">5</tspan></text>
<path d="M238.3 599.5L264.8 599.5" stroke="#161616" stroke-width="1.0" fill="none"/>
<path d="M268.8 599.5L263.3 597.2L263.3 601.8Z" fill="#161616"/>
<text transform="translate(273,603.4) scale(0.585,1)" font-size="10.8" text-anchor="start" font-weight="normal" fill="#161616" stroke="#161616" stroke-width="0.45">CTLA4</text>
<polygon points="239.5,676.4 240.5,674.6 242.4,670.41 244,663.22 245.1,652.44 246.5,640.46 247.8,631.48 248.4,630.88 249.5,633.87 250.5,635.67 251.5,625.49 252.5,616.5 253.2,628.48 253.8,635.07 254.5,629.68 255.2,625.49 256,633.27 256.5,639.26 257.2,628.48 257.9,620.69 258.5,628.48 259.2,635.07 260.2,632.07 261.2,628.48 262,634.47 262.6,640.46 263.9,651.24 265.9,656.63 268,662.02 270,667.41 272,671.61 274,675.2 276,676.4" fill="#a8002a" stroke="#a8002a" stroke-width="0.4"/>
<polygon points="244.2,676.4 245.3,652.44 246.3,625.49 247.1,616.5 247.9,625.49 248.8,652.44 249.8,676.4" fill="#e4e4e8" stroke="#737983" stroke-width="0.85"/>
<polyline points="240.5,675.2 242,670.41 243.5,666.82 245.1,665.02 247.8,659.63 250.5,655.43 251.8,660.83 254.5,662.02 257.2,659.63 259.9,645.85 261.2,637.47 262.6,621.29 263.7,616.5 264.6,626.68 266,631.48 267.9,636.27 269.3,642.86 270.6,659.63 272.7,670.41 275.4,675.2 277.4,676.4" fill="none" stroke="#79b84f" stroke-width="1.1" stroke-dasharray="2.2 1.3"/>
<polyline points="240.5,676.4 242.4,674.6 245.1,667.41 247.8,663.22 250.5,659.63 251.8,661.42 253.2,663.22 255.2,661.42 257.2,662.02 259.9,659.63 261.9,656.63 263.9,645.85 265.9,639.26 267.3,629.68 268.6,621.29 270,617.1 271.3,617.7 272.7,622.49 274,629.68 276,637.47 277.4,648.25 278.7,659.63 280,669.21 282.1,675.8 283.4,676.4" fill="none" stroke="#2d4f94" stroke-width="0.95"/>
<rect x="239.4" y="613" width="64.2" height="63.6" fill="none" stroke="#000" stroke-width="1.2"/>
<text x="233.5" y="679.3" font-size="8.3" text-anchor="end" font-weight="normal" fill="#161616" class="t">0</text>
<text x="233.5" y="667.32" font-size="8.3" text-anchor="end" font-weight="normal" fill="#161616" class="t">20</text>
<text x="233.5" y="655.34" font-size="8.3" text-anchor="end" font-weight="normal" fill="#161616" class="t">40</text>
<text x="233.5" y="643.36" font-size="8.3" text-anchor="end" font-weight="normal" fill="#161616" class="t">60</text>
<text x="233.5" y="631.38" font-size="8.3" text-anchor="end" font-weight="normal" fill="#161616" class="t">80</text>
<text x="233.5" y="619.4" font-size="8.3" text-anchor="end" font-weight="normal" fill="#161616" class="t">100</text>
<path d="M239.4 676.4h-3.2M239.4 673.4h-1.5M239.4 670.41h-1.5M239.4 667.41h-1.5M239.4 664.42h-3.2M239.4 661.42h-1.5M239.4 658.43h-1.5M239.4 655.43h-1.5M239.4 652.44h-3.2M239.4 649.44h-1.5M239.4 646.45h-1.5M239.4 643.45h-1.5M239.4 640.46h-3.2M239.4 637.47h-1.5M239.4 634.47h-1.5M239.4 631.48h-1.5M239.4 628.48h-3.2M239.4 625.49h-1.5M239.4 622.49h-1.5M239.4 619.5h-1.5M239.4 616.5h-3.2" stroke="#000" stroke-width="1"/>
<path d="M241.2 676.6v2.8M253.3 676.6v2.8M268.8 676.6v2.8M283.3 676.6v2.8M297.6 676.6v2.8M257.97 676.6v2M260.7 676.6v2M262.63 676.6v2M264.13 676.6v2M265.36 676.6v2M266.4 676.6v2M267.3 676.6v2M268.09 676.6v2M273.16 676.6v2M275.72 676.6v2M277.53 676.6v2M278.94 676.6v2M280.08 676.6v2M281.05 676.6v2M281.89 676.6v2M282.64 676.6v2M287.6 676.6v2M290.12 676.6v2M291.91 676.6v2M293.3 676.6v2M294.43 676.6v2M295.38 676.6v2M296.21 676.6v2M296.95 676.6v2M244.22 676.6v2M247.25 676.6v2M250.28 676.6v2M301.9 676.6v2" stroke="#000" stroke-width=".95"/>
<text transform="translate(247.4,687.3) rotate(-45)" font-size="8.4" text-anchor="end" font-weight="normal" fill="#161616">0</text>
<text transform="translate(256.4,687.5) rotate(-45)" font-size="8.4" text-anchor="end" font-weight="normal" fill="#161616">10<tspan dy="-3.53" font-size="6.22">2</tspan></text>
<text transform="translate(271.6,687.5) rotate(-45)" font-size="8.4" text-anchor="end" font-weight="normal" fill="#161616">10<tspan dy="-3.53" font-size="6.22">3</tspan></text>
<text transform="translate(285.6,687.5) rotate(-45)" font-size="8.4" text-anchor="end" font-weight="normal" fill="#161616">10<tspan dy="-3.53" font-size="6.22">4</tspan></text>
<text transform="translate(300.2,687.5) rotate(-45)" font-size="8.4" text-anchor="end" font-weight="normal" fill="#161616">10<tspan dy="-3.53" font-size="6.22">5</tspan></text>
<path d="M239 706.3L267.3 706.3" stroke="#161616" stroke-width="1.0" fill="none"/>
<path d="M271.3 706.3L265.8 704L265.8 708.6Z" fill="#161616"/>
<text transform="translate(274.5,710.2) scale(0.585,1)" font-size="10.8" text-anchor="start" font-weight="normal" fill="#161616" stroke="#161616" stroke-width="0.45">CD28</text>
<path d="M150.4 518L150.4 569" stroke="#161616" stroke-width="1.15" fill="none"/>
<path d="M147.4 568.5L150.4 568.5" stroke="#161616" stroke-width="0.95" fill="none"/>
<text x="144.3" y="571.5" font-size="8.5" text-anchor="end" font-weight="normal" fill="#161616">0</text>
<path d="M147.4 556.45L150.4 556.45" stroke="#161616" stroke-width="0.95" fill="none"/>
<text x="144.3" y="559.45" font-size="8.5" text-anchor="end" font-weight="normal" fill="#161616">50</text>
<path d="M147.4 544.4L150.4 544.4" stroke="#161616" stroke-width="0.95" fill="none"/>
<text x="144.3" y="547.4" font-size="8.5" text-anchor="end" font-weight="normal" fill="#161616">100</text>
<path d="M147.4 532.35L150.4 532.35" stroke="#161616" stroke-width="0.95" fill="none"/>
<text x="144.3" y="535.35" font-size="8.5" text-anchor="end" font-weight="normal" fill="#161616">150</text>
<path d="M147.4 520.3L150.4 520.3" stroke="#161616" stroke-width="0.95" fill="none"/>
<text x="144.3" y="523.3" font-size="8.5" text-anchor="end" font-weight="normal" fill="#161616">200</text>
<path d="M150.4 568.5L197.9 568.5" stroke="#161616" stroke-width="1.15" fill="none"/>
<path d="M158 568.5L158 571.1" stroke="#161616" stroke-width="0.95" fill="none"/>
<path d="M174 568.5L174 571.1" stroke="#161616" stroke-width="0.95" fill="none"/>
<path d="M189.8 568.5L189.8 571.1" stroke="#161616" stroke-width="0.95" fill="none"/>
<path d="M158.4 544.9L158.4 536.69" stroke="#222" stroke-width="0.95" fill="none"/>
<path d="M156.9 536.69L159.9 536.69" stroke="#222" stroke-width="0.95" fill="none"/>
<rect x="153.3" y="544.4" width="10.2" height="24.1" fill="#a8002a"/>
<path d="M174.4 543.7L174.4 542.23" stroke="#222" stroke-width="0.95" fill="none"/>
<path d="M172.9 542.23L175.9 542.23" stroke="#222" stroke-width="0.95" fill="none"/>
<rect x="169.2" y="543.2" width="10.4" height="25.3" fill="#2a4782"/>
<path d="M190.3 535.74L190.3 526.81" stroke="#222" stroke-width="0.95" fill="none"/>
<path d="M188.8 526.81L191.8 526.81" stroke="#222" stroke-width="0.95" fill="none"/>
<rect x="185" y="535.24" width="10.6" height="33.26" fill="#68a83f"/>
<text transform="translate(124.6,543.5) rotate(-90) scale(0.6448,1)" font-size="10.6" text-anchor="middle" font-weight="normal" fill="#161616" stroke="#161616" stroke-width="0.45">CTLA4 MFI</text>
<path d="M155.6 612.7L155.6 663.5" stroke="#161616" stroke-width="1.15" fill="none"/>
<path d="M152.6 663L155.6 663" stroke="#161616" stroke-width="0.95" fill="none"/>
<text x="149.5" y="666" font-size="8.5" text-anchor="end" font-weight="normal" fill="#161616">0</text>
<path d="M152.6 647.22L155.6 647.22" stroke="#161616" stroke-width="0.95" fill="none"/>
<text x="149.5" y="650.22" font-size="8.5" text-anchor="end" font-weight="normal" fill="#161616">1000</text>
<path d="M152.6 631.44L155.6 631.44" stroke="#161616" stroke-width="0.95" fill="none"/>
<text x="149.5" y="634.44" font-size="8.5" text-anchor="end" font-weight="normal" fill="#161616">2000</text>
<path d="M152.6 615.66L155.6 615.66" stroke="#161616" stroke-width="0.95" fill="none"/>
<text x="149.5" y="618.66" font-size="8.5" text-anchor="end" font-weight="normal" fill="#161616">3000</text>
<path d="M155.6 663L203.3 663" stroke="#161616" stroke-width="1.15" fill="none"/>
<path d="M163.5 663L163.5 665.6" stroke="#161616" stroke-width="0.95" fill="none"/>
<path d="M179.2 663L179.2 665.6" stroke="#161616" stroke-width="0.95" fill="none"/>
<path d="M195.2 663L195.2 665.6" stroke="#161616" stroke-width="0.95" fill="none"/>
<path d="M163.35 645.83L163.35 638.86" stroke="#222" stroke-width="0.95" fill="none"/>
<path d="M161.85 638.86L164.85 638.86" stroke="#222" stroke-width="0.95" fill="none"/>
<rect x="158" y="645.33" width="10.7" height="17.67" fill="#a8002a"/>
<path d="M179.3 623.1L179.3 619.61" stroke="#222" stroke-width="0.95" fill="none"/>
<path d="M177.8 619.61L180.8 619.61" stroke="#222" stroke-width="0.95" fill="none"/>
<rect x="174" y="622.6" width="10.6" height="40.4" fill="#2a4782"/>
<path d="M195.1 630.99L195.1 624.34" stroke="#222" stroke-width="0.95" fill="none"/>
<path d="M193.6 624.34L196.6 624.34" stroke="#222" stroke-width="0.95" fill="none"/>
<rect x="189.8" y="630.49" width="10.6" height="32.51" fill="#68a83f"/>
<path d="M163.5 616.4V614.6H179.2V616.4" stroke="#1a1a1a" stroke-width="0.95" fill="none"/>
<circle cx="171.35" cy="610.2" r="0.9" fill="#111"/>
<text transform="translate(124.6,637.5) rotate(-90) scale(0.6448,1)" font-size="10.6" text-anchor="middle" font-weight="normal" fill="#161616" stroke="#161616" stroke-width="0.45">CD28 MFI</text>
<text transform="translate(166.2,673.8) rotate(-45)" font-size="8.2" text-anchor="end" font-weight="normal" fill="#161616" class="t">iDC</text>
<text transform="translate(182.2,673.8) rotate(-45)" font-size="8.2" text-anchor="end" font-weight="normal" fill="#161616" class="t">NK-iDC</text>
<text transform="translate(198.5,673.8) rotate(-45)" font-size="8.2" text-anchor="end" font-weight="normal" fill="#161616" class="t">NK//iDC</text>
<path d="M354.2 519.7L354.2 570" stroke="#161616" stroke-width="1.15" fill="none"/>
<path d="M351.2 569.5L354.2 569.5" stroke="#161616" stroke-width="0.95" fill="none"/>
<text x="348.1" y="572.5" font-size="8.5" text-anchor="end" font-weight="normal" fill="#161616">0</text>
<path d="M351.2 559.95L354.2 559.95" stroke="#161616" stroke-width="0.95" fill="none"/>
<text x="348.1" y="562.95" font-size="8.5" text-anchor="end" font-weight="normal" fill="#161616">100</text>
<path d="M351.2 550.4L354.2 550.4" stroke="#161616" stroke-width="0.95" fill="none"/>
<text x="348.1" y="553.4" font-size="8.5" text-anchor="end" font-weight="normal" fill="#161616">200</text>
<path d="M351.2 540.85L354.2 540.85" stroke="#161616" stroke-width="0.95" fill="none"/>
<text x="348.1" y="543.85" font-size="8.5" text-anchor="end" font-weight="normal" fill="#161616">300</text>
<path d="M351.2 531.3L354.2 531.3" stroke="#161616" stroke-width="0.95" fill="none"/>
<text x="348.1" y="534.3" font-size="8.5" text-anchor="end" font-weight="normal" fill="#161616">400</text>
<path d="M351.2 521.75L354.2 521.75" stroke="#161616" stroke-width="0.95" fill="none"/>
<text x="348.1" y="524.75" font-size="8.5" text-anchor="end" font-weight="normal" fill="#161616">500</text>
<path d="M354.2 569.5L401.5 569.5" stroke="#161616" stroke-width="1.15" fill="none"/>
<path d="M361.8 569.5L361.8 572.1" stroke="#161616" stroke-width="0.95" fill="none"/>
<path d="M378 569.5L378 572.1" stroke="#161616" stroke-width="0.95" fill="none"/>
<path d="M394.2 569.5L394.2 572.1" stroke="#161616" stroke-width="0.95" fill="none"/>
<path d="M362.2 540.87L362.2 526.52" stroke="#222" stroke-width="0.95" fill="none"/>
<path d="M360.7 526.52L363.7 526.52" stroke="#222" stroke-width="0.95" fill="none"/>
<rect x="357" y="540.37" width="10.4" height="29.13" fill="#a8002a"/>
<path d="M377.85 549.18L377.85 545.82" stroke="#222" stroke-width="0.95" fill="none"/>
<path d="M376.35 545.82L379.35 545.82" stroke="#222" stroke-width="0.95" fill="none"/>
<rect x="372.7" y="548.68" width="10.3" height="20.82" fill="#2a4782"/>
<path d="M393.8 542.3L393.8 539.7" stroke="#222" stroke-width="0.95" fill="none"/>
<path d="M392.3 539.7L395.3 539.7" stroke="#222" stroke-width="0.95" fill="none"/>
<rect x="388.4" y="541.8" width="10.8" height="27.7" fill="#68a83f"/>
<path d="M378 537.2V535.4H394.2V537.2" stroke="#1a1a1a" stroke-width="0.95" fill="none"/>
<circle cx="386.1" cy="530.8" r="0.9" fill="#111"/>
<text transform="translate(328.2,544.6) rotate(-90) scale(0.6448,1)" font-size="10.6" text-anchor="middle" font-weight="normal" fill="#161616" stroke="#161616" stroke-width="0.45">CTLA4 MFI</text>
<path d="M358.8 613.8L358.8 664.8" stroke="#161616" stroke-width="1.15" fill="none"/>
<path d="M355.8 664.3L358.8 664.3" stroke="#161616" stroke-width="0.95" fill="none"/>
<text x="352.7" y="667.3" font-size="8.5" text-anchor="end" font-weight="normal" fill="#161616">0</text>
<path d="M355.8 648.55L358.8 648.55" stroke="#161616" stroke-width="0.95" fill="none"/>
<text x="352.7" y="651.55" font-size="8.5" text-anchor="end" font-weight="normal" fill="#161616">500</text>
<path d="M355.8 632.8L358.8 632.8" stroke="#161616" stroke-width="0.95" fill="none"/>
<text x="352.7" y="635.8" font-size="8.5" text-anchor="end" font-weight="normal" fill="#161616">1000</text>
<path d="M355.8 617.05L358.8 617.05" stroke="#161616" stroke-width="0.95" fill="none"/>
<text x="352.7" y="620.05" font-size="8.5" text-anchor="end" font-weight="normal" fill="#161616">1500</text>
<path d="M358.8 664.3L406.2 664.3" stroke="#161616" stroke-width="1.15" fill="none"/>
<path d="M367 664.3L367 666.9" stroke="#161616" stroke-width="0.95" fill="none"/>
<path d="M382.6 664.3L382.6 666.9" stroke="#161616" stroke-width="0.95" fill="none"/>
<path d="M398.5 664.3L398.5 666.9" stroke="#161616" stroke-width="0.95" fill="none"/>
<path d="M366.9 655.03L366.9 649.81" stroke="#222" stroke-width="0.95" fill="none"/>
<path d="M365.4 649.81L368.4 649.81" stroke="#222" stroke-width="0.95" fill="none"/>
<rect x="361.6" y="654.53" width="10.6" height="9.76" fill="#a8002a"/>
<path d="M382.75 629.52L382.75 623.66" stroke="#222" stroke-width="0.95" fill="none"/>
<path d="M381.25 623.66L384.25 623.66" stroke="#222" stroke-width="0.95" fill="none"/>
<rect x="377.3" y="629.02" width="10.9" height="35.28" fill="#2a4782"/>
<path d="M398.45 647.79L398.45 645.4" stroke="#222" stroke-width="0.95" fill="none"/>
<path d="M396.95 645.4L399.95 645.4" stroke="#222" stroke-width="0.95" fill="none"/>
<rect x="393" y="647.29" width="10.9" height="17.01" fill="#68a83f"/>
<path d="M367 620.6V618.8H382.6V620.6" stroke="#1a1a1a" stroke-width="0.95" fill="none"/>
<circle cx="373.2" cy="614.6" r="0.9" fill="#111"/>
<circle cx="376.4" cy="614.6" r="0.9" fill="#111"/>
<path d="M382.6 616V614.2H398.5V616" stroke="#1a1a1a" stroke-width="0.95" fill="none"/>
<circle cx="390.55" cy="609.8" r="0.9" fill="#111"/>
<text transform="translate(328.2,639.6) rotate(-90) scale(0.6448,1)" font-size="10.6" text-anchor="middle" font-weight="normal" fill="#161616" stroke="#161616" stroke-width="0.45">CD28 MFI</text>
<text transform="translate(369.6,673.2) rotate(-45)" font-size="8.2" text-anchor="end" font-weight="normal" fill="#161616" class="t">iDC</text>
<text transform="translate(385.5,673.2) rotate(-45)" font-size="8.2" text-anchor="end" font-weight="normal" fill="#161616" class="t">NK-iDC</text>
<text transform="translate(401.3,673.2) rotate(-45)" font-size="8.2" text-anchor="end" font-weight="normal" fill="#161616" class="t">NK//iDC</text>
<rect x="409.5" y="506.3" width="5.9" height="5.9" fill="#a8002a"/>
<rect x="410" y="518.3" width="5" height="5" fill="#fff" stroke="#2d4f94" stroke-width="0.9"/>
<rect x="410" y="529.9" width="5" height="5" fill="#fff" stroke="#79b84f" stroke-width="1.0" stroke-dasharray="2 1.2"/>
<rect x="410" y="541.7" width="5" height="5" fill="#dcdce0" stroke="#7c8088" stroke-width="0.8"/>
<text x="418.5" y="511.9" font-size="7.7" text-anchor="start" font-weight="normal" fill="#161616" class="t">iDC</text>
<text x="418.5" y="523.5" font-size="7.7" text-anchor="start" font-weight="normal" fill="#161616" class="t">NK-iDC</text>
<text x="418.5" y="535.1" font-size="7.7" text-anchor="start" font-weight="normal" fill="#161616" class="t">NK//iDC</text>
<text x="418.5" y="546.9" font-size="7.7" text-anchor="start" font-weight="normal" fill="#161616" class="t">Unstained</text>
<text x="496.3" y="573.3" font-size="7.7" text-anchor="middle" font-weight="normal" fill="#161616" class="t">NK-iDC</text>
<path d="M480.4 578.4L513 578.4" stroke="#161616" stroke-width="1.0" fill="none"/>
<path d="M482 593.2L482 664.5" stroke="#161616" stroke-width="1.15" fill="none"/>
<path d="M479 664L482 664" stroke="#161616" stroke-width="0.95" fill="none"/>
<text x="475.9" y="667" font-size="8.5" text-anchor="end" font-weight="normal" fill="#161616">0</text>
<path d="M479 646.7L482 646.7" stroke="#161616" stroke-width="0.95" fill="none"/>
<text x="475.9" y="649.7" font-size="8.5" text-anchor="end" font-weight="normal" fill="#161616">500</text>
<path d="M479 629.4L482 629.4" stroke="#161616" stroke-width="0.95" fill="none"/>
<text x="475.9" y="632.4" font-size="8.5" text-anchor="end" font-weight="normal" fill="#161616">1000</text>
<path d="M479 612.1L482 612.1" stroke="#161616" stroke-width="0.95" fill="none"/>
<text x="475.9" y="615.1" font-size="8.5" text-anchor="end" font-weight="normal" fill="#161616">1500</text>
<path d="M479 594.8L482 594.8" stroke="#161616" stroke-width="0.95" fill="none"/>
<text x="475.9" y="597.8" font-size="8.5" text-anchor="end" font-weight="normal" fill="#161616">2000</text>
<path d="M482 664L507.4 664" stroke="#161616" stroke-width="1.15" fill="none"/>
<path d="M488.6 664L488.6 666.6" stroke="#161616" stroke-width="0.95" fill="none"/>
<path d="M502.5 664L502.5 666.6" stroke="#161616" stroke-width="0.95" fill="none"/>
<path d="M488.9 595.8V594H502.5V595.8" stroke="#1a1a1a" stroke-width="0.95" fill="none"/>
<circle cx="495.7" cy="589.7" r="0.9" fill="#111"/>
<circle cx="488.6" cy="601.5" r="1.85" fill="none" stroke="#a8002a" stroke-width="1.0"/>
<circle cx="486" cy="616" r="1.85" fill="none" stroke="#a8002a" stroke-width="1.0"/>
<circle cx="486" cy="620.6" r="1.85" fill="none" stroke="#a8002a" stroke-width="1.0"/>
<circle cx="488.7" cy="619.8" r="1.85" fill="none" stroke="#a8002a" stroke-width="1.0"/>
<circle cx="491.4" cy="621.6" r="1.85" fill="none" stroke="#a8002a" stroke-width="1.0"/>
<circle cx="488.7" cy="624.8" r="1.85" fill="none" stroke="#a8002a" stroke-width="1.0"/>
<path d="M484.5 617.5H492.9M488.7 609.3V625.7M486.7 609.3H490.7M486.7 625.7H490.7" stroke="#111" stroke-width="0.95" fill="none"/>
<circle cx="500.2" cy="624.8" r="1.85" fill="none" stroke="#a8002a" stroke-width="1.0"/>
<circle cx="502.5" cy="624" r="1.85" fill="none" stroke="#a8002a" stroke-width="1.0"/>
<circle cx="505.2" cy="623.9" r="1.85" fill="none" stroke="#a8002a" stroke-width="1.0"/>
<circle cx="501.7" cy="633.6" r="1.85" fill="none" stroke="#a8002a" stroke-width="1.0"/>
<circle cx="505.2" cy="633.6" r="1.85" fill="none" stroke="#a8002a" stroke-width="1.0"/>
<circle cx="501" cy="626" r="1.85" fill="none" stroke="#a8002a" stroke-width="1.0"/>
<path d="M498.1 628.3H506.7M502.4 624.5V632M500.4 624.5H504.4M500.4 632H504.4" stroke="#111" stroke-width="0.95" fill="none"/>
<text transform="translate(439.8,627) rotate(-90) scale(0.72,1)" font-size="9.0" text-anchor="middle" font-weight="bold" fill="#161616">CD28 MFI</text>
<text transform="translate(450.8,628) rotate(-90) scale(0.72,1)" font-size="9.0" text-anchor="middle" font-weight="bold" fill="#161616">within CFSE<tspan dy="-3" font-size="6.2">lo</tspan><tspan dy="3"> CD8</tspan><tspan dy="-3" font-size="6.2">+</tspan></text>
<text transform="translate(492.8,672.6) rotate(-45)" font-size="7.9" text-anchor="end" font-weight="normal" fill="#161616" class="t">α-IgG1,κ</text>
<text transform="translate(506.3,673.6) rotate(-45)" font-size="7.9" text-anchor="end" font-weight="normal" fill="#161616" class="t">α-NKp30</text>
</svg></body></html>
